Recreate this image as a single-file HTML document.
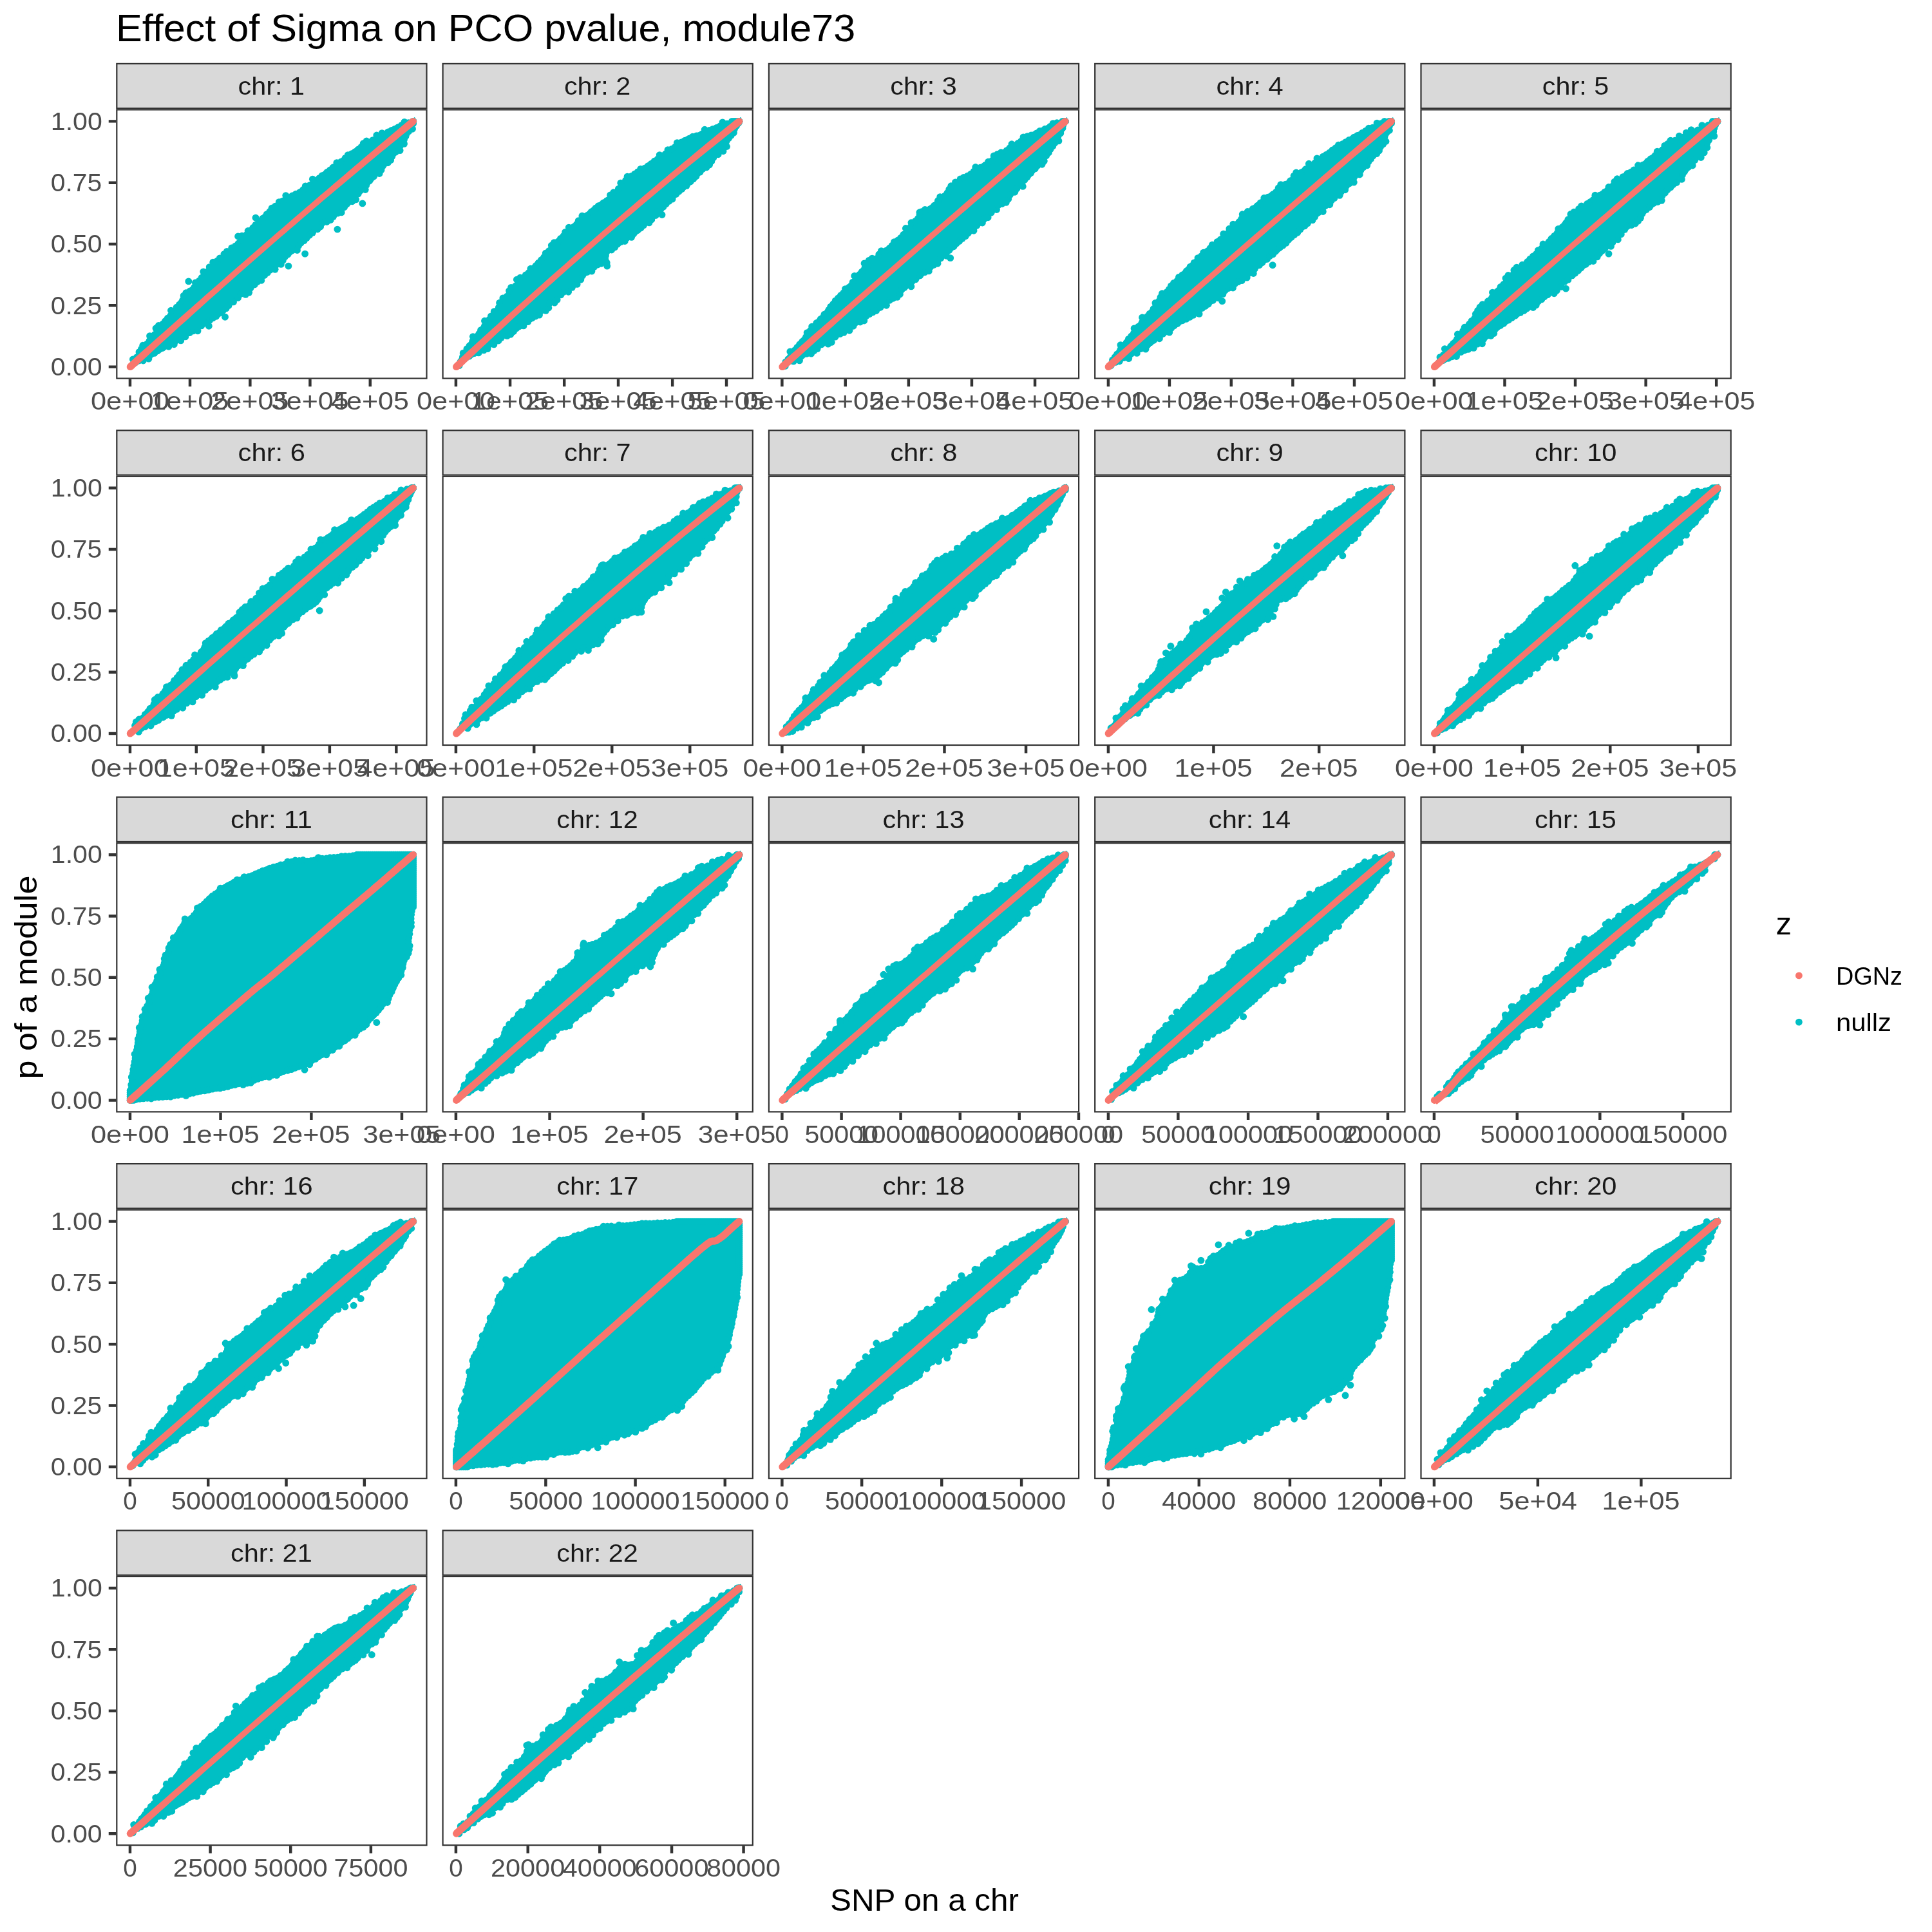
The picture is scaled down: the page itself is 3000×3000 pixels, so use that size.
<!DOCTYPE html>
<html><head><meta charset="utf-8"><title>Effect of Sigma on PCO pvalue, module73</title>
<style>html,body{margin:0;padding:0;background:#fff}svg{display:block}text{font-family:"Liberation Sans",sans-serif}</style></head><body>
<svg width="3000" height="3000" viewBox="0 0 3000 3000">
<rect width="3000" height="3000" fill="#fff"/>
<defs><marker id="t" markerUnits="userSpaceOnUse" markerWidth="12" markerHeight="12" refX="6" refY="6"><circle cx="6" cy="6" r="5.45" fill="#00BFC4"/></marker></defs>
<rect x="181.30" y="98.90" width="481.20" height="69.30" fill="#D9D9D9" stroke="#333" stroke-width="2.2"/>
<clipPath id="c1"><rect x="180.20" y="169.30" width="483.40" height="419.40"/></clipPath>
<g clip-path="url(#c1)">
<polygon points="203.6,566.6 204.8,563.8 206.1,561.1 207.4,558.4 208.7,555.8 210.0,553.3 211.5,550.8 213.2,548.3 214.8,545.9 216.6,543.5 218.4,541.1 220.2,538.8 222.0,536.4 223.9,534.1 225.8,531.8 227.7,529.5 229.6,527.1 231.6,524.8 233.5,522.4 235.4,520.0 237.3,517.6 239.2,515.2 241.0,512.8 242.9,510.4 244.7,508.0 246.6,505.6 248.4,503.2 250.2,500.8 252.1,498.5 254.0,496.3 255.9,494.1 258.0,491.9 260.0,489.7 262.1,487.5 264.2,485.2 266.2,482.8 268.2,480.4 270.1,477.9 271.9,475.4 273.7,473.0 275.5,470.7 277.3,468.3 279.2,466.0 281.1,463.7 283.0,461.4 285.0,459.1 286.9,456.8 288.9,454.5 290.9,452.3 292.9,450.1 295.0,447.9 297.0,445.7 299.1,443.3 301.1,441.0 303.1,438.6 305.0,436.2 306.9,433.9 308.8,431.5 310.6,429.1 312.5,426.8 314.4,424.6 316.3,422.4 318.4,420.4 320.5,418.4 322.7,416.4 325.0,414.4 327.2,412.4 329.5,410.3 331.7,408.3 334.0,406.3 336.3,404.3 338.5,402.3 340.8,400.3 343.1,398.3 345.3,396.3 347.6,394.3 349.9,392.3 352.1,390.3 354.4,388.2 356.7,386.2 358.9,384.1 361.2,382.0 363.4,379.9 365.5,377.7 367.7,375.5 369.8,373.3 371.9,371.1 374.0,368.9 376.0,366.6 378.1,364.4 380.1,362.2 382.2,359.9 384.2,357.7 386.3,355.5 388.3,353.3 390.4,351.1 392.5,349.0 394.6,346.8 396.7,344.7 398.8,342.7 401.0,340.6 403.2,338.6 405.4,336.5 407.7,334.5 409.9,332.4 412.1,330.4 414.3,328.3 416.6,326.3 418.8,324.3 421.0,322.2 423.3,320.2 425.5,318.2 427.8,316.2 430.0,314.3 432.3,312.4 434.5,310.6 436.9,309.0 439.3,307.5 441.8,306.0 444.4,304.7 447.1,303.4 449.7,302.1 452.5,300.8 455.3,299.5 458.0,298.2 460.8,296.8 463.6,295.3 466.3,293.7 469.0,292.0 471.5,290.2 474.0,288.4 476.5,286.6 478.9,284.9 481.4,283.1 483.8,281.2 486.2,279.4 488.7,277.6 491.1,275.7 493.5,273.9 495.9,272.1 498.3,270.2 500.7,268.4 503.1,266.5 505.5,264.7 507.9,262.8 510.3,261.0 512.7,259.2 515.1,257.3 517.5,255.5 519.9,253.7 522.3,251.9 524.8,250.1 527.2,248.3 529.7,246.6 532.1,244.8 534.5,243.0 537.0,241.2 539.4,239.5 541.9,237.7 544.3,236.0 546.8,234.2 549.3,232.5 551.7,230.8 554.2,229.1 556.7,227.4 559.2,225.7 561.7,224.1 564.2,222.5 566.8,220.9 569.3,219.4 571.9,217.8 574.5,216.3 577.1,214.8 579.7,213.4 582.3,211.9 585.0,210.5 587.6,209.0 590.3,207.6 593.0,206.2 595.6,204.8 598.3,203.5 601.0,202.1 603.7,200.7 606.4,199.3 609.1,198.0 611.7,196.6 614.4,195.3 617.1,194.1 619.8,192.9 622.6,191.7 625.3,190.7 628.1,189.7 630.8,188.8 633.6,187.9 636.1,187.3 638.8,187.2 641.7,187.2 643.6,183.1 643.3,186.1 642.8,188.9 642.3,191.8 641.6,194.5 640.8,197.2 639.8,199.9 638.7,202.6 637.5,205.2 636.1,207.7 634.6,210.4 633.2,213.1 631.8,215.7 630.3,218.2 628.8,220.7 627.1,223.1 625.4,225.6 623.7,228.1 622.0,230.6 620.3,233.0 618.5,235.4 616.7,237.8 614.9,240.2 613.1,242.6 611.3,244.9 609.4,247.1 607.4,249.3 605.4,251.6 603.3,253.8 601.3,256.0 599.2,258.3 597.2,260.6 595.2,262.8 593.2,265.1 591.2,267.3 589.2,269.6 587.1,271.8 585.1,274.1 583.1,276.3 581.0,278.5 579.0,280.7 576.9,282.9 574.9,285.1 572.8,287.3 570.7,289.6 568.6,291.8 566.6,294.0 564.5,296.2 562.5,298.4 560.4,300.6 558.3,302.7 556.2,304.9 554.1,307.0 551.9,309.2 549.8,311.3 547.6,313.4 545.5,315.5 543.3,317.7 541.2,319.8 539.0,321.9 536.9,323.9 534.7,326.0 532.5,328.0 530.3,330.0 528.2,331.9 525.9,333.5 523.5,334.9 521.0,336.3 518.3,337.7 515.6,339.1 512.8,340.7 510.0,342.5 507.4,344.5 505.1,346.6 502.8,348.6 500.5,350.7 498.3,352.7 496.1,354.8 493.9,356.9 491.7,359.0 489.5,361.1 487.3,363.2 485.1,365.3 482.9,367.4 480.8,369.5 478.6,371.6 476.4,373.7 474.2,375.8 472.0,377.8 469.8,379.8 467.6,381.8 465.3,383.8 463.0,385.8 460.7,387.8 458.4,389.7 456.2,391.7 453.9,393.7 451.6,395.6 449.2,397.6 446.9,399.6 444.6,401.5 442.3,403.5 440.0,405.4 437.7,407.4 435.4,409.4 433.1,411.4 430.8,413.3 428.5,415.3 426.2,417.3 423.9,419.3 421.6,421.4 419.4,423.4 417.1,425.5 414.9,427.5 412.7,429.6 410.5,431.7 408.3,433.8 406.1,435.8 403.9,437.9 401.7,440.0 399.4,442.0 397.2,444.0 395.0,446.0 392.8,448.0 390.5,449.8 388.3,451.5 385.8,453.1 383.3,454.6 380.7,456.2 378.1,457.8 375.5,459.5 372.9,461.4 370.3,463.4 368.0,465.5 365.7,467.7 363.5,469.9 361.4,472.1 359.3,474.3 357.3,476.5 355.2,478.7 353.1,480.9 351.0,482.9 348.9,484.9 346.7,486.8 344.5,488.6 342.1,490.4 339.7,492.0 337.3,493.7 334.8,495.2 332.2,496.8 329.6,498.3 327.0,499.9 324.4,501.5 321.8,503.2 319.3,504.9 316.7,506.5 314.2,508.1 311.6,509.8 309.1,511.4 306.5,513.0 304.0,514.6 301.4,516.2 298.9,517.8 296.3,519.4 293.7,521.0 291.2,522.6 288.6,524.2 286.0,525.7 283.4,527.3 280.8,528.9 278.3,530.4 275.7,531.9 273.1,533.4 270.4,534.9 267.8,536.3 265.2,537.8 262.5,539.2 259.8,540.7 257.2,542.1 254.5,543.6 251.8,545.1 249.2,546.6 246.6,548.1 243.9,549.6 241.3,551.1 238.7,552.5 236.0,554.0 233.4,555.4 230.8,556.8 228.1,558.2 225.5,559.6 222.8,560.9 220.1,562.2 217.4,563.5 214.6,564.7 211.9,566.0 209.2,567.2 206.4,568.3 203.6,569.5 200.8,570.6" fill="#00BFC4" stroke="#00BFC4" stroke-width="2" stroke-linejoin="round"/>
<polyline points="206.4,557.9 212.4,554.6 216.0,546.7 219.4,542.0 221.8,536.3 228.4,533.9 232.1,529.2 232.6,521.7 240.0,519.7 242.0,509.8 246.4,505.4 252.9,502.9 256.6,498.6 260.3,494.1 264.9,490.1 265.5,482.2 274.2,477.1 278.5,473.0 283.8,465.9 285.2,459.2 288.9,454.6 294.9,452.0 301.9,445.8 303.4,438.9 309.4,435.9 313.2,431.2 315.8,421.9 323.2,421.3 325.2,414.6 330.8,407.2 337.1,405.3 341.3,400.9 347.9,394.6 352.3,390.4 359.7,385.0 365.5,382.0 370.2,378.0 374.0,373.0 375.7,366.3 382.7,364.5 385.1,358.5 392.9,353.5 396.9,349.2 403.5,343.3 407.9,339.2 414.2,332.7 418.8,328.7 422.0,323.3 427.4,320.3 433.3,313.7 439.0,312.2 443.8,303.6 453.9,304.0 459.5,301.1 465.5,298.7 470.7,294.5 474.3,288.9 481.0,287.7 485.4,278.2 495.7,276.7 500.2,272.6 507.7,267.5 512.6,264.0 517.1,260.0 522.9,252.6 529.4,251.3 536.2,245.4 540.3,240.7 546.2,238.6 551.5,235.7 556.2,232.0 560.9,228.3 564.3,222.6 569.1,219.0 578.7,217.7 584.8,210.0 593.1,206.6 602.5,205.0 608.0,202.4 613.5,200.2 618.6,197.4 623.6,194.4 628.0,189.4 634.3,190.7 641.6,188.4 210.5,562.9 215.8,560.0 222.4,560.0 230.9,557.1 234.2,550.7 239.8,548.3 244.7,544.8 252.6,540.2 262.0,538.2 270.3,534.7 273.8,528.7 280.8,528.8 287.8,522.9 294.5,516.6 300.0,513.9 307.0,513.8 312.7,505.9 317.4,502.0 325.5,497.4 330.5,493.9 335.7,491.2 342.1,485.6 346.4,482.1 351.1,478.9 355.0,474.4 362.5,468.9 369.5,462.5 373.5,456.6 381.4,457.3 386.6,454.3 388.8,447.5 395.3,441.9 399.5,437.6 405.7,435.4 410.6,427.4 415.3,423.5 419.6,419.1 427.1,418.3 429.0,411.2 436.3,410.4 439.2,404.5 442.4,398.8 447.1,395.0 453.8,389.0 461.4,388.5 463.5,381.7 467.3,377.1 472.2,373.6 476.3,369.3 480.7,365.1 485.4,361.3 493.0,356.0 497.6,352.0 500.6,346.1 507.4,344.5 513.3,341.5 517.6,336.3 524.3,331.1 530.2,329.9 534.6,321.6 538.5,317.0 547.0,312.7 552.7,309.9 556.3,300.8 559.8,295.8 567.2,294.5 568.7,287.7 574.2,280.3 580.5,274.0 589.1,269.5 592.0,264.0 594.3,258.0 602.2,252.7 606.6,248.7 608.8,242.8 614.4,236.1 621.1,233.6 621.4,226.6 627.5,223.3 627.5,216.5 630.0,211.4 634.7,203.8 640.5,200.2 641.6,192.0 641.6,188.4 641.6,188.4 641.6,188.4 292.8,436.9 369.6,367.0 397.0,338.2 349.5,492.2 324.3,506.2 447.9,413.1 473.6,394.1 523.9,356.1 562.8,315.9" fill="none" stroke="none" marker-start="url(#t)" marker-mid="url(#t)" marker-end="url(#t)"/>
<polygon points="206.0,573.9 213.4,567.1 220.8,560.2 228.2,553.4 235.6,546.6 242.9,539.8 250.3,533.1 257.7,526.3 265.1,519.6 272.5,512.8 279.9,506.1 287.4,499.4 294.8,492.7 302.2,486.1 309.6,479.4 317.0,472.8 324.4,466.1 331.9,459.5 339.3,452.9 346.7,446.3 354.2,439.7 361.6,433.2 369.0,426.6 376.5,420.1 383.9,413.5 391.3,407.0 398.8,400.5 406.2,394.0 413.7,387.5 421.1,381.1 428.6,374.6 436.0,368.1 443.5,361.7 450.9,355.3 458.4,348.9 465.8,342.5 473.3,336.1 480.7,329.7 488.2,323.3 495.6,317.0 503.1,310.6 510.6,304.3 518.0,298.0 525.5,291.7 533.0,285.4 540.4,279.2 547.9,272.9 555.4,266.7 562.9,260.4 570.3,254.2 577.8,248.0 585.3,241.8 592.8,235.6 600.3,229.5 607.8,223.3 615.3,217.2 622.8,211.1 630.3,205.0 637.8,198.9 645.3,192.8 638.0,183.9 630.6,190.2 623.2,196.4 615.8,202.7 608.4,208.9 601.0,215.2 593.6,221.5 586.2,227.7 578.8,234.0 571.4,240.3 564.0,246.6 556.5,252.9 549.1,259.2 541.7,265.6 534.3,271.9 526.9,278.2 519.4,284.6 512.0,290.9 504.6,297.3 497.1,303.6 489.7,310.0 482.2,316.4 474.8,322.8 467.4,329.2 459.9,335.6 452.5,342.0 445.0,348.5 437.6,354.9 430.1,361.3 422.7,367.8 415.2,374.3 407.8,380.7 400.3,387.2 392.9,393.7 385.4,400.2 378.0,406.7 370.5,413.2 363.0,419.8 355.6,426.3 348.1,432.9 340.7,439.4 333.2,446.0 325.7,452.6 318.2,459.1 310.8,465.7 303.3,472.3 295.8,478.9 288.3,485.5 280.9,492.1 273.4,498.8 265.9,505.4 258.4,512.0 250.9,518.7 243.4,525.3 235.9,532.0 228.4,538.7 220.9,545.3 213.3,552.0 205.8,558.7 198.3,565.4" fill="#F8766D"/>
<circle cx="202.17" cy="569.64" r="5.45" fill="#F8766D"/><circle cx="641.63" cy="188.36" r="5.45" fill="#F8766D"/>
</g>
<rect x="181.30" y="170.40" width="481.20" height="417.20" fill="none" stroke="#333" stroke-width="2.2"/>
<path d="M201.93 588.70v11.46M295.00 588.70v11.46M388.35 588.70v11.46M481.43 588.70v11.46M574.78 588.70v11.46" stroke="#333" stroke-width="4.45" fill="none"/>
<path d="M168.74 569.64h11.46M168.74 474.32h11.46M168.74 379.00h11.46M168.74 283.68h11.46M168.74 188.36h11.46" stroke="#333" stroke-width="4.45" fill="none"/>
<rect x="687.60" y="98.90" width="481.20" height="69.30" fill="#D9D9D9" stroke="#333" stroke-width="2.2"/>
<clipPath id="c2"><rect x="686.50" y="169.30" width="483.40" height="419.40"/></clipPath>
<g clip-path="url(#c2)">
<polygon points="710.0,566.4 711.1,563.4 711.8,560.5 712.9,557.9 714.1,555.2 715.3,552.5 716.5,550.0 717.9,547.4 719.4,544.9 721.0,542.5 722.7,540.0 724.3,537.6 726.1,535.1 727.8,532.7 729.6,530.3 731.4,527.9 733.2,525.6 735.1,523.2 737.0,520.9 738.9,518.4 740.7,516.0 742.6,513.5 744.3,511.1 746.1,508.6 747.9,506.2 749.7,503.7 751.4,501.2 753.2,498.8 754.9,496.3 756.7,493.9 758.4,491.6 760.3,489.3 762.2,487.0 764.2,484.8 766.2,482.6 768.2,480.3 770.2,478.0 772.3,475.6 774.2,473.1 776.0,470.6 777.8,468.0 779.4,465.5 781.1,463.0 782.8,460.6 784.5,458.2 786.3,455.8 788.1,453.4 789.9,451.0 791.8,448.7 793.7,446.4 795.6,444.1 797.5,441.9 799.5,439.6 801.5,437.5 803.5,435.3 805.6,433.1 807.7,431.0 809.8,428.8 811.9,426.7 814.0,424.7 816.2,422.7 818.4,420.6 820.7,418.6 822.9,416.4 825.1,414.2 827.2,412.1 829.4,410.0 831.5,407.8 833.7,405.6 835.8,403.4 837.9,401.2 840.0,399.0 842.0,396.7 844.0,394.4 846.0,392.1 848.0,389.8 850.0,387.5 851.9,385.2 853.9,383.0 855.9,380.7 857.9,378.5 859.9,376.4 862.0,374.3 864.1,372.3 866.3,370.3 868.5,368.2 870.8,366.2 873.0,364.2 875.3,362.2 877.5,360.1 879.7,358.1 882.0,356.1 884.3,354.1 886.5,352.1 888.8,350.1 891.0,348.1 893.3,346.1 895.5,344.0 897.8,342.0 900.0,340.0 902.3,338.0 904.5,336.0 906.8,334.0 909.1,332.0 911.3,330.0 913.6,328.0 915.8,326.0 918.1,324.1 920.3,322.2 922.7,320.5 925.1,318.7 927.5,317.1 930.0,315.4 932.5,313.7 935.0,312.1 937.6,310.4 940.1,308.6 942.6,306.7 945.1,304.8 947.5,302.8 949.9,300.6 952.1,298.3 954.2,295.9 956.2,293.6 958.1,291.2 960.0,288.8 961.9,286.5 963.8,284.2 965.7,282.0 967.6,279.9 969.6,277.9 971.8,276.0 974.1,274.2 976.4,272.5 978.8,270.8 981.2,269.1 983.7,267.5 986.2,265.9 988.8,264.4 991.4,262.8 994.0,261.3 996.6,259.7 999.2,258.1 1001.8,256.4 1004.3,254.6 1006.8,252.9 1009.3,251.2 1011.8,249.5 1014.3,247.7 1016.8,246.0 1019.2,244.2 1021.7,242.5 1024.2,240.8 1026.7,239.0 1029.1,237.3 1031.6,235.5 1034.1,233.8 1036.6,232.0 1039.0,230.2 1041.5,228.5 1043.9,226.7 1046.4,224.9 1048.8,223.2 1051.2,221.5 1053.7,219.8 1056.2,218.2 1058.7,216.6 1061.1,215.1 1063.6,213.8 1066.2,212.6 1068.9,211.5 1071.6,210.5 1074.4,209.5 1077.3,208.6 1080.2,207.7 1083.1,206.6 1086.0,205.6 1088.9,204.4 1091.7,203.3 1094.5,202.1 1097.3,200.9 1100.1,199.8 1102.9,198.7 1105.7,197.5 1108.4,196.4 1111.2,195.4 1114.0,194.3 1116.9,193.3 1119.7,192.3 1122.5,191.3 1125.3,190.4 1128.1,189.5 1131.0,188.6 1133.8,187.9 1136.5,187.3 1139.3,186.9 1142.1,186.7 1145.1,186.6 1148.1,186.4 1149.9,183.1 1149.5,186.0 1149.0,188.8 1148.3,191.5 1147.4,194.1 1146.4,196.8 1145.2,199.3 1143.9,201.9 1142.4,204.4 1140.8,207.0 1139.3,209.6 1137.7,212.1 1136.2,214.6 1134.5,216.9 1132.7,219.3 1130.9,221.7 1129.1,224.2 1127.3,226.6 1125.5,228.9 1123.7,231.3 1121.8,233.6 1119.9,236.0 1118.0,238.2 1116.0,240.4 1114.0,242.6 1112.0,244.8 1109.9,247.0 1107.8,249.2 1105.7,251.4 1103.6,253.6 1101.6,255.9 1099.5,258.1 1097.5,260.3 1095.4,262.5 1093.4,264.7 1091.3,266.9 1089.2,269.1 1087.1,271.2 1085.0,273.4 1082.9,275.6 1080.8,277.7 1078.7,279.9 1076.6,282.1 1074.5,284.2 1072.4,286.2 1070.2,288.3 1068.0,290.3 1065.8,292.3 1063.6,294.3 1061.3,296.2 1059.0,298.2 1056.7,300.1 1054.3,302.0 1052.0,304.0 1049.7,306.0 1047.4,308.1 1045.1,310.1 1042.9,312.3 1040.7,314.4 1038.5,316.5 1036.3,318.7 1034.2,320.9 1032.1,323.0 1030.0,325.2 1027.9,327.2 1025.7,329.3 1023.5,331.4 1021.3,333.5 1019.1,335.6 1016.9,337.7 1014.8,339.8 1012.6,341.8 1010.4,343.9 1008.2,346.0 1006.0,348.0 1003.8,350.1 1001.5,352.1 999.3,354.2 997.1,356.2 994.9,358.2 992.6,360.2 990.4,362.2 988.1,364.2 985.9,366.0 983.6,367.7 981.2,369.3 978.7,370.8 976.1,372.4 973.5,374.0 970.9,375.7 968.4,377.3 965.9,378.8 963.3,380.4 960.7,382.0 958.1,383.6 955.4,385.2 952.9,387.0 950.3,388.8 947.6,391.0 945.0,394.1 944.0,398.0 943.5,401.1 943.0,404.0 942.7,406.2 941.7,407.5 939.8,408.9 937.5,410.4 935.0,411.8 932.4,413.1 929.7,414.3 926.9,415.6 924.1,417.1 921.3,418.7 918.5,420.5 916.0,422.5 913.6,424.5 911.3,426.6 909.0,428.6 906.8,430.6 904.5,432.7 902.3,434.7 900.1,436.8 897.8,438.8 895.6,440.8 893.4,442.9 891.1,444.9 888.9,446.9 886.6,448.8 884.3,450.7 882.0,452.6 879.7,454.5 877.3,456.3 875.0,458.1 872.6,460.0 870.1,461.8 867.7,463.7 865.3,465.6 862.9,467.6 860.6,469.5 858.3,471.5 856.0,473.5 853.7,475.5 851.4,477.5 849.1,479.5 846.9,481.5 844.6,483.5 842.3,485.5 840.0,487.5 837.8,489.5 835.5,491.4 833.2,493.3 830.9,495.1 828.5,496.8 826.1,498.5 823.7,500.2 821.2,501.9 818.7,503.5 816.1,505.1 813.6,506.8 811.0,508.4 808.5,510.0 806.0,511.6 803.4,513.0 800.8,514.5 798.2,515.9 795.5,517.4 792.9,518.9 790.2,520.4 787.6,521.9 785.0,523.5 782.3,525.1 779.7,526.6 777.1,528.2 774.5,529.7 772.0,531.3 769.4,532.9 766.8,534.4 764.2,536.0 761.6,537.6 759.0,539.1 756.4,540.7 753.8,542.3 751.2,543.8 748.6,545.4 746.1,547.0 743.5,548.5 740.9,550.1 738.3,551.6 735.7,553.1 733.1,554.6 730.5,556.2 727.9,557.7 725.2,559.2 722.6,560.6 720.0,562.1 717.4,563.6 714.7,565.1 712.1,566.5 709.4,568.0 706.8,569.4" fill="#00BFC4" stroke="#00BFC4" stroke-width="2" stroke-linejoin="round"/>
<polyline points="713.1,567.6 715.1,561.5 718.5,554.0 719.2,548.2 725.0,541.6 728.9,537.2 733.8,529.8 734.4,522.6 743.8,518.3 746.6,512.7 752.7,505.9 752.5,498.3 759.8,496.2 762.4,491.0 767.3,483.6 774.4,477.4 775.6,470.3 780.9,462.9 787.2,460.1 790.6,451.6 793.6,446.4 800.3,444.3 802.4,434.2 807.8,431.1 816.3,427.0 821.0,423.5 823.9,417.3 832.1,412.7 836.1,408.1 840.5,403.7 844.9,399.2 847.3,393.1 852.4,389.6 856.3,381.1 860.3,376.8 866.7,375.0 870.5,370.4 875.0,366.4 877.7,360.4 883.3,353.1 890.8,352.3 895.3,348.3 898.3,342.6 903.9,335.3 911.5,334.7 918.3,328.9 924.8,323.3 929.3,319.7 937.0,315.0 942.3,311.7 947.6,302.9 952.7,298.8 960.4,293.1 963.8,284.2 971.6,280.0 974.1,274.2 980.6,273.4 985.4,270.3 990.3,266.9 994.7,262.4 1001.2,261.2 1006.4,257.6 1011.4,254.2 1016.1,250.3 1021.2,247.0 1024.2,240.7 1033.8,238.6 1037.0,232.7 1043.4,231.1 1048.6,228.0 1051.4,221.7 1058.0,220.9 1063.0,218.5 1070.3,215.2 1075.4,212.3 1081.3,211.0 1090.3,207.9 1094.2,201.3 1101.2,202.5 1106.8,200.4 1112.4,198.5 1117.8,196.0 1122.0,189.9 1129.0,192.3 1136.5,188.4 1139.6,188.4 1142.0,188.4 1145.1,188.4 1147.9,188.4 718.6,559.7 723.3,555.8 728.7,553.1 736.5,548.6 743.1,547.9 751.2,543.8 757.0,541.6 760.1,535.0 767.0,534.8 774.1,529.0 778.3,524.3 787.4,521.6 793.0,519.2 797.5,514.7 801.7,509.9 806.4,506.7 813.0,505.9 819.7,499.6 826.3,493.8 831.5,491.1 837.5,489.1 839.9,482.8 847.6,482.3 851.9,478.0 853.4,470.6 861.1,470.1 865.1,465.4 870.9,457.8 875.1,453.4 882.6,453.2 888.4,446.3 896.1,441.4 901.8,434.2 904.5,428.1 911.8,422.5 918.9,421.1 922.6,414.3 928.1,411.0 933.6,409.2 942.2,408.0 940.0,403.5 940.4,397.2 949.7,388.0 954.7,384.0 958.9,379.1 963.9,375.6 970.2,374.5 974.1,369.0 980.6,368.3 983.8,363.2 990.2,357.5 995.1,354.0 999.4,349.8 1008.0,345.8 1011.8,341.0 1018.1,334.5 1021.2,329.0 1025.9,325.3 1030.1,321.1 1034.2,316.6 1038.8,312.4 1044.1,309.1 1049.8,301.4 1054.3,297.2 1058.9,293.5 1066.1,288.3 1072.3,282.0 1076.7,277.9 1081.0,273.7 1087.1,267.1 1091.0,262.5 1097.0,259.9 1101.6,255.8 1104.8,250.5 1107.8,245.0 1115.2,239.7 1123.0,234.7 1128.5,227.5 1127.8,219.5 1131.5,214.7 1135.1,210.5 1139.4,206.1 1140.6,200.1 1143.5,195.5 1146.9,191.1 1147.9,188.4 1147.9,188.4 942.7,413.1 1028.0,333.5" fill="none" stroke="none" marker-start="url(#t)" marker-mid="url(#t)" marker-end="url(#t)"/>
<polygon points="712.4,573.8 719.8,566.8 727.1,559.8 734.5,552.8 741.9,545.8 749.3,538.8 756.7,531.9 764.1,525.0 771.5,518.1 778.9,511.2 786.3,504.4 793.7,497.5 801.1,490.7 808.5,483.9 815.9,477.2 823.3,470.4 830.8,463.7 838.2,457.0 845.6,450.3 853.0,443.6 860.5,437.0 867.9,430.3 875.3,423.7 882.8,417.1 890.2,410.6 897.7,404.0 905.1,397.5 912.5,391.0 920.0,384.5 927.4,378.0 934.9,371.5 942.3,365.1 949.8,358.7 957.2,352.3 964.7,345.9 972.1,339.5 979.6,333.2 987.0,326.9 994.5,320.6 1001.9,314.3 1009.4,308.0 1016.8,301.8 1024.3,295.5 1031.8,289.3 1039.2,283.1 1046.7,277.0 1054.2,270.8 1061.6,264.7 1069.1,258.6 1076.6,252.5 1084.1,246.5 1091.6,240.4 1099.0,234.4 1106.5,228.4 1114.0,222.4 1121.5,216.5 1129.0,210.5 1136.5,204.6 1144.0,198.7 1151.5,192.9 1144.3,183.9 1137.0,189.9 1129.6,196.0 1122.2,202.0 1114.8,208.1 1107.4,214.2 1099.9,220.3 1092.5,226.4 1085.1,232.5 1077.7,238.7 1070.3,244.9 1062.9,251.0 1055.5,257.2 1048.0,263.4 1040.6,269.6 1033.2,275.9 1025.7,282.1 1018.3,288.4 1010.9,294.7 1003.4,301.0 996.0,307.3 988.6,313.6 981.1,319.9 973.7,326.3 966.2,332.7 958.8,339.0 951.3,345.4 943.9,351.9 936.4,358.3 929.0,364.7 921.5,371.2 914.1,377.7 906.6,384.2 899.2,390.7 891.7,397.2 884.2,403.8 876.8,410.4 869.3,416.9 861.9,423.5 854.4,430.1 846.9,436.8 839.5,443.4 832.0,450.1 824.5,456.7 817.1,463.4 809.6,470.1 802.1,476.8 794.6,483.6 787.1,490.3 779.6,497.1 772.1,503.9 764.6,510.6 757.1,517.4 749.6,524.3 742.1,531.1 734.6,537.9 727.1,544.8 719.6,551.7 712.1,558.5 704.5,565.4" fill="#F8766D"/>
<circle cx="708.47" cy="569.64" r="5.45" fill="#F8766D"/><circle cx="1147.93" cy="188.36" r="5.45" fill="#F8766D"/>
</g>
<rect x="687.60" y="170.40" width="481.20" height="417.20" fill="none" stroke="#333" stroke-width="2.2"/>
<path d="M707.93 588.70v11.46M792.06 588.70v11.46M876.19 588.70v11.46M960.04 588.70v11.46M1044.17 588.70v11.46M1128.02 588.70v11.46" stroke="#333" stroke-width="4.45" fill="none"/>
<rect x="1193.90" y="98.90" width="481.20" height="69.30" fill="#D9D9D9" stroke="#333" stroke-width="2.2"/>
<clipPath id="c3"><rect x="1192.80" y="169.30" width="483.40" height="419.40"/></clipPath>
<g clip-path="url(#c3)">
<polygon points="1216.2,567.0 1217.5,564.3 1218.8,561.6 1220.1,558.9 1221.4,556.3 1222.9,553.9 1224.4,551.4 1226.1,549.0 1227.8,546.6 1229.6,544.2 1231.4,541.9 1233.3,539.5 1235.1,537.2 1237.0,534.9 1239.0,532.6 1240.9,530.3 1242.9,528.0 1244.9,525.6 1246.8,523.3 1248.7,520.9 1250.6,518.5 1252.5,516.1 1254.4,513.7 1256.3,511.4 1258.2,509.0 1260.0,506.6 1261.9,504.2 1263.7,501.9 1265.6,499.6 1267.6,497.4 1269.6,495.3 1271.7,493.1 1273.8,490.9 1275.9,488.6 1277.9,486.3 1280.0,484.0 1281.9,481.5 1283.8,479.1 1285.6,476.6 1287.4,474.3 1289.3,472.0 1291.2,469.7 1293.1,467.4 1295.1,465.1 1297.0,462.9 1299.1,460.7 1301.1,458.5 1303.1,456.3 1305.2,454.1 1307.3,452.0 1309.5,449.9 1311.6,447.7 1313.7,445.6 1315.9,443.4 1318.0,441.1 1320.1,438.8 1322.2,436.5 1324.1,434.1 1326.0,431.7 1327.9,429.3 1329.8,426.8 1331.6,424.4 1333.4,422.1 1335.3,419.8 1337.2,417.5 1339.1,415.4 1341.1,413.3 1343.2,411.4 1345.5,409.5 1347.8,407.6 1350.1,405.7 1352.4,403.9 1354.8,402.0 1357.2,400.2 1359.6,398.4 1362.1,396.5 1364.5,394.6 1366.9,392.7 1369.2,390.7 1371.6,388.7 1373.9,386.7 1376.1,384.7 1378.4,382.7 1380.7,380.6 1382.9,378.6 1385.2,376.6 1387.5,374.5 1389.7,372.5 1391.9,370.5 1394.2,368.4 1396.4,366.4 1398.7,364.3 1400.9,362.1 1403.1,359.9 1405.2,357.6 1407.3,355.2 1409.2,352.9 1411.2,350.6 1413.1,348.2 1415.1,345.9 1417.0,343.6 1419.0,341.4 1420.9,339.2 1422.9,337.0 1425.0,335.0 1427.1,333.1 1429.4,331.2 1431.7,329.3 1434.0,327.4 1436.4,325.6 1438.8,323.7 1441.2,321.9 1443.6,320.0 1446.0,318.2 1448.4,316.3 1450.8,314.3 1453.2,312.4 1455.5,310.3 1457.8,308.2 1460.0,306.0 1462.2,303.8 1464.3,301.6 1466.4,299.4 1468.5,297.2 1470.5,295.0 1472.6,292.9 1474.7,290.8 1476.9,288.9 1479.1,286.9 1481.4,285.0 1483.7,283.1 1486.0,281.3 1488.4,279.5 1490.8,277.7 1493.2,275.9 1495.6,274.1 1498.1,272.3 1500.5,270.6 1503.0,268.9 1505.5,267.1 1508.0,265.4 1510.4,263.7 1512.9,262.0 1515.3,260.4 1517.9,258.9 1520.4,257.4 1523.0,255.9 1525.7,254.4 1528.3,252.9 1531.0,251.4 1533.7,249.9 1536.3,248.2 1538.9,246.5 1541.5,244.8 1544.0,243.1 1546.5,241.3 1548.9,239.5 1551.4,237.8 1553.9,236.0 1556.3,234.3 1558.8,232.5 1561.2,230.8 1563.7,229.1 1566.2,227.4 1568.7,225.8 1571.2,224.2 1573.7,222.6 1576.3,221.0 1578.9,219.4 1581.5,217.9 1584.0,216.4 1586.7,214.9 1589.3,213.4 1591.9,211.9 1594.5,210.4 1597.1,209.0 1599.8,207.6 1602.4,206.2 1605.1,204.8 1607.8,203.4 1610.5,202.1 1613.2,200.8 1615.9,199.5 1618.6,198.3 1621.3,197.1 1624.0,195.9 1626.8,194.8 1629.6,193.7 1632.4,192.6 1635.2,191.6 1638.0,190.7 1640.8,189.8 1643.7,188.9 1646.6,188.0 1649.4,187.0 1651.7,186.4 1654.2,186.4 1656.2,183.2 1655.9,186.1 1655.5,189.0 1655.0,191.9 1654.4,194.7 1653.6,197.4 1652.7,200.1 1651.7,202.8 1650.6,205.5 1649.3,208.1 1647.9,210.7 1646.5,213.4 1645.1,216.1 1643.7,218.7 1642.3,221.2 1640.8,223.6 1639.1,226.1 1637.4,228.6 1635.7,231.2 1634.0,233.7 1632.4,236.1 1630.6,238.6 1628.9,241.0 1627.1,243.4 1625.3,245.8 1623.5,248.1 1621.6,250.3 1619.6,252.6 1617.6,254.8 1615.6,257.0 1613.6,259.3 1611.5,261.6 1609.5,263.9 1607.5,266.2 1605.6,268.4 1603.6,270.7 1601.6,273.0 1599.5,275.2 1597.5,277.5 1595.5,279.7 1593.5,282.0 1591.5,284.2 1589.4,286.4 1587.4,288.6 1585.3,290.8 1583.2,293.0 1581.1,295.1 1579.0,297.2 1576.9,299.3 1574.8,301.4 1572.6,303.4 1570.4,305.5 1568.2,307.5 1565.9,309.5 1563.6,311.4 1561.3,313.4 1559.0,315.4 1556.7,317.4 1554.5,319.5 1552.2,321.6 1550.0,323.7 1547.8,325.8 1545.6,327.9 1543.4,330.1 1541.3,332.2 1539.1,334.3 1537.0,336.4 1534.8,338.5 1532.6,340.5 1530.4,342.5 1528.2,344.6 1525.9,346.6 1523.7,348.6 1521.4,350.6 1519.2,352.7 1516.9,354.7 1514.7,356.7 1512.4,358.7 1510.2,360.7 1507.9,362.8 1505.6,364.8 1503.4,366.8 1501.1,368.8 1498.9,370.9 1496.6,372.9 1494.4,374.9 1492.1,376.9 1489.9,379.0 1487.6,381.0 1485.4,383.0 1483.1,385.1 1480.9,387.1 1478.6,389.1 1476.4,391.1 1474.1,393.2 1471.9,395.2 1469.6,397.3 1467.4,399.3 1465.2,401.3 1462.9,403.4 1460.7,405.4 1458.4,407.4 1456.2,409.4 1453.9,411.4 1451.7,413.4 1449.4,415.4 1447.1,417.3 1444.8,419.2 1442.5,421.1 1440.1,423.0 1437.8,424.9 1435.4,426.7 1433.0,428.6 1430.6,430.4 1428.2,432.3 1425.8,434.2 1423.5,436.1 1421.1,438.0 1418.7,439.9 1416.4,441.8 1414.0,443.6 1411.6,445.5 1409.3,447.4 1406.9,449.3 1404.5,451.2 1402.2,453.1 1399.8,455.0 1397.4,456.9 1395.1,458.8 1392.7,460.7 1390.3,462.6 1388.0,464.5 1385.6,466.4 1383.3,468.3 1380.9,470.2 1378.6,472.1 1376.2,474.0 1373.9,475.9 1371.5,477.8 1369.1,479.6 1366.8,481.4 1364.4,483.2 1362.0,484.8 1359.5,486.3 1357.0,487.8 1354.4,489.3 1351.8,490.7 1349.1,492.2 1346.4,493.6 1343.7,495.2 1341.0,496.8 1338.4,498.5 1335.9,500.2 1333.3,501.9 1330.8,503.7 1328.4,505.5 1325.9,507.2 1323.4,509.0 1321.0,510.8 1318.5,512.5 1316.1,514.2 1313.6,515.9 1311.1,517.6 1308.6,519.2 1306.1,520.8 1303.6,522.4 1301.0,524.0 1298.4,525.5 1295.8,527.0 1293.2,528.5 1290.6,530.0 1288.0,531.6 1285.3,533.1 1282.7,534.7 1280.1,536.3 1277.5,537.8 1274.9,539.4 1272.3,541.0 1269.8,542.6 1267.2,544.2 1264.6,545.7 1262.0,547.3 1259.5,548.8 1256.9,550.3 1254.2,551.7 1251.6,553.1 1248.9,554.5 1246.3,555.9 1243.6,557.3 1240.9,558.6 1238.2,559.9 1235.5,561.2 1232.8,562.5 1230.1,563.8 1227.3,565.0 1224.6,566.2 1221.8,567.4 1219.1,568.5 1216.3,569.6 1213.5,570.7" fill="#00BFC4" stroke="#00BFC4" stroke-width="2" stroke-linejoin="round"/>
<polyline points="1219.2,568.4 1219.8,562.1 1223.9,557.7 1227.5,553.5 1226.9,545.9 1234.0,543.9 1237.8,539.4 1241.6,534.8 1245.8,530.4 1251.7,523.2 1253.2,516.7 1258.5,513.1 1260.7,507.1 1267.8,501.5 1274.2,495.5 1280.0,488.2 1286.8,481.3 1289.8,476.2 1293.9,471.9 1297.2,467.0 1301.5,462.9 1305.6,458.7 1309.9,454.6 1312.5,448.6 1318.6,446.0 1324.2,438.2 1326.8,428.4 1334.2,426.5 1338.2,422.2 1343.1,415.4 1347.8,412.3 1349.1,404.5 1354.2,401.2 1361.8,401.2 1364.8,395.0 1368.4,389.7 1376.0,389.1 1381.0,385.5 1385.3,381.2 1388.5,375.7 1394.3,373.0 1399.0,369.2 1403.0,364.2 1406.4,354.5 1413.8,352.7 1415.0,345.8 1421.3,343.4 1425.4,339.4 1428.0,334.1 1431.2,328.7 1436.3,325.5 1443.6,325.0 1450.8,319.2 1456.5,311.5 1459.8,305.7 1467.1,304.2 1471.0,299.5 1473.8,294.0 1476.8,288.8 1483.5,282.9 1491.1,278.0 1496.6,275.4 1502.4,273.2 1507.6,270.2 1512.1,266.1 1514.8,259.5 1522.1,260.3 1530.1,256.1 1534.5,251.3 1540.7,249.2 1543.2,242.0 1548.8,239.4 1554.4,236.8 1563.2,233.6 1567.8,229.8 1571.0,223.8 1580.7,222.5 1585.7,219.2 1589.0,212.9 1595.2,211.6 1601.1,210.0 1609.5,206.9 1614.4,203.5 1622.7,200.3 1630.6,196.5 1635.1,191.6 1641.1,190.6 1649.8,188.4 1652.1,188.4 1654.2,188.4 1223.1,562.7 1232.2,561.1 1241.5,559.8 1244.7,552.9 1252.9,549.2 1259.7,549.1 1264.0,544.7 1269.1,541.6 1275.6,534.8 1285.9,534.1 1291.3,531.3 1297.0,523.1 1304.6,518.5 1310.3,516.3 1319.0,513.2 1325.1,506.2 1328.8,500.9 1335.7,500.0 1341.8,498.0 1344.9,490.9 1350.1,487.7 1355.3,484.8 1360.5,482.5 1367.2,477.2 1376.4,474.2 1381.5,466.2 1386.9,463.2 1393.2,461.3 1397.4,456.9 1399.8,450.2 1404.5,446.3 1414.9,444.8 1416.3,436.8 1421.7,433.9 1428.6,427.9 1436.1,422.7 1442.3,420.9 1444.8,414.5 1449.9,411.4 1456.0,409.2 1460.8,401.0 1469.5,397.2 1474.0,388.5 1481.0,382.7 1485.1,378.2 1489.7,374.3 1494.3,370.3 1499.3,366.7 1503.3,362.1 1512.0,358.2 1516.9,350.1 1525.4,346.0 1528.3,340.2 1534.1,337.7 1539.2,330.2 1547.5,325.5 1549.8,319.0 1555.9,316.5 1562.2,314.4 1565.7,309.2 1568.2,303.0 1575.8,298.2 1578.9,292.9 1588.2,289.4 1590.8,279.5 1594.9,275.1 1600.8,268.3 1607.3,261.9 1611.1,257.1 1618.1,255.2 1621.3,250.1 1624.7,241.6 1628.5,237.0 1631.1,231.7 1634.8,226.9 1638.0,221.8 1643.9,218.8 1643.0,211.6 1646.8,206.8 1650.0,199.1 1651.0,193.8 1654.2,188.5 1654.2,188.4 1654.2,188.4 1342.1,408.9 1427.9,329.8 1475.7,400.6" fill="none" stroke="none" marker-start="url(#t)" marker-mid="url(#t)" marker-end="url(#t)"/>
<polygon points="1218.6,573.9 1226.0,567.2 1233.3,560.6 1240.7,553.9 1248.1,547.2 1255.5,540.6 1262.9,533.9 1270.3,527.3 1277.7,520.7 1285.1,514.0 1292.5,507.4 1299.9,500.8 1307.3,494.2 1314.8,487.7 1322.2,481.1 1329.6,474.5 1337.0,467.9 1344.5,461.4 1351.9,454.8 1359.3,448.3 1366.7,441.8 1374.2,435.3 1381.6,428.7 1389.1,422.2 1396.5,415.7 1403.9,409.2 1411.4,402.8 1418.8,396.3 1426.3,389.8 1433.7,383.3 1441.2,376.9 1448.6,370.4 1456.1,364.0 1463.5,357.5 1471.0,351.1 1478.4,344.7 1485.9,338.2 1493.3,331.8 1500.8,325.4 1508.2,319.0 1515.7,312.6 1523.2,306.2 1530.6,299.9 1538.1,293.5 1545.6,287.1 1553.0,280.8 1560.5,274.4 1568.0,268.1 1575.5,261.8 1583.0,255.5 1590.4,249.1 1597.9,242.8 1605.4,236.6 1612.9,230.3 1620.4,224.0 1627.9,217.7 1635.4,211.5 1642.9,205.2 1650.4,199.0 1657.9,192.7 1650.5,184.0 1643.1,190.4 1635.7,196.8 1628.4,203.1 1621.0,209.5 1613.6,215.9 1606.2,222.3 1598.8,228.7 1591.4,235.1 1583.9,241.5 1576.5,247.9 1569.1,254.3 1561.7,260.7 1554.3,267.2 1546.9,273.6 1539.4,280.0 1532.0,286.4 1524.6,292.8 1517.1,299.2 1509.7,305.7 1502.3,312.1 1494.8,318.5 1487.4,325.0 1480.0,331.4 1472.5,337.8 1465.1,344.3 1457.6,350.7 1450.2,357.2 1442.7,363.6 1435.3,370.1 1427.8,376.5 1420.4,383.0 1412.9,389.5 1405.5,396.0 1398.0,402.4 1390.6,408.9 1383.1,415.4 1375.7,421.9 1368.2,428.4 1360.7,434.9 1353.3,441.4 1345.8,447.9 1338.3,454.4 1330.9,460.9 1323.4,467.4 1315.9,473.9 1308.4,480.5 1301.0,487.0 1293.5,493.5 1286.0,500.0 1278.5,506.5 1271.0,513.1 1263.5,519.6 1256.0,526.1 1248.5,532.7 1241.0,539.2 1233.5,545.7 1226.0,552.3 1218.5,558.8 1211.0,565.3" fill="#F8766D"/>
<circle cx="1214.77" cy="569.64" r="5.45" fill="#F8766D"/><circle cx="1654.23" cy="188.36" r="5.45" fill="#F8766D"/>
</g>
<rect x="1193.90" y="170.40" width="481.20" height="417.20" fill="none" stroke="#333" stroke-width="2.2"/>
<path d="M1214.37 588.70v11.46M1312.75 588.70v11.46M1410.86 588.70v11.46M1508.96 588.70v11.46M1607.07 588.70v11.46" stroke="#333" stroke-width="4.45" fill="none"/>
<rect x="1700.20" y="98.90" width="481.20" height="69.30" fill="#D9D9D9" stroke="#333" stroke-width="2.2"/>
<clipPath id="c4"><rect x="1699.10" y="169.30" width="483.40" height="419.40"/></clipPath>
<g clip-path="url(#c4)">
<polygon points="1722.5,566.5 1723.7,563.8 1724.9,561.0 1726.2,558.3 1727.5,555.7 1728.8,553.2 1730.3,550.7 1731.9,548.2 1733.5,545.8 1735.3,543.4 1737.0,541.0 1738.8,538.6 1740.7,536.2 1742.5,533.9 1744.4,531.6 1746.3,529.3 1748.3,526.9 1750.2,524.6 1752.1,522.2 1754.0,519.8 1755.9,517.4 1757.8,515.0 1759.6,512.6 1761.4,510.2 1763.3,507.8 1765.1,505.3 1766.9,502.9 1768.8,500.6 1770.6,498.2 1772.5,496.0 1774.4,493.8 1776.4,491.6 1778.5,489.4 1780.6,487.2 1782.6,484.9 1784.7,482.5 1786.7,480.1 1788.6,477.6 1790.4,475.2 1792.2,472.7 1794.0,470.4 1795.8,468.0 1797.7,465.7 1799.6,463.4 1801.5,461.1 1803.4,458.8 1805.4,456.5 1807.3,454.2 1809.3,451.9 1811.3,449.7 1813.3,447.5 1815.3,445.3 1817.4,443.0 1819.4,440.8 1821.5,438.6 1823.6,436.4 1825.6,434.1 1827.7,431.9 1829.7,429.6 1831.7,427.3 1833.7,425.1 1835.7,422.8 1837.7,420.5 1839.7,418.3 1841.7,416.1 1843.8,413.9 1845.8,411.8 1848.0,409.8 1850.1,407.7 1852.3,405.7 1854.6,403.7 1856.8,401.6 1859.1,399.6 1861.3,397.6 1863.6,395.6 1865.8,393.6 1868.1,391.6 1870.3,389.5 1872.6,387.5 1874.9,385.5 1877.1,383.5 1879.4,381.5 1881.6,379.4 1883.9,377.4 1886.1,375.4 1888.4,373.4 1890.6,371.4 1892.9,369.4 1895.2,367.3 1897.4,365.3 1899.7,363.3 1901.9,361.2 1904.1,359.2 1906.4,357.1 1908.6,354.9 1910.8,352.7 1912.9,350.6 1915.1,348.4 1917.2,346.2 1919.2,344.0 1921.3,341.8 1923.4,339.6 1925.5,337.5 1927.6,335.4 1929.7,333.3 1931.9,331.4 1934.1,329.4 1936.4,327.5 1938.7,325.6 1941.0,323.6 1943.4,321.8 1945.7,319.9 1948.1,318.0 1950.5,316.2 1952.8,314.3 1955.2,312.5 1957.6,310.6 1960.0,308.8 1962.4,307.0 1964.8,305.2 1967.2,303.5 1969.7,301.8 1972.2,300.1 1974.7,298.5 1977.2,296.8 1979.7,295.1 1982.3,293.3 1984.8,291.6 1987.3,289.7 1989.7,287.8 1992.1,286.0 1994.5,284.1 1996.9,282.2 1999.2,280.2 2001.6,278.3 2003.9,276.4 2006.3,274.5 2008.6,272.6 2011.0,270.7 2013.3,268.9 2015.7,267.0 2018.1,265.2 2020.5,263.4 2022.9,261.7 2025.3,259.9 2027.8,258.2 2030.3,256.5 2032.8,254.8 2035.3,253.1 2037.8,251.4 2040.3,249.7 2042.8,248.0 2045.3,246.2 2047.8,244.5 2050.3,242.7 2052.7,241.0 2055.2,239.2 2057.6,237.5 2060.1,235.7 2062.6,234.0 2065.0,232.3 2067.5,230.6 2070.0,228.9 2072.5,227.2 2075.0,225.6 2077.5,224.0 2080.1,222.4 2082.6,220.8 2085.2,219.3 2087.8,217.7 2090.4,216.2 2093.0,214.7 2095.6,213.2 2098.2,211.7 2100.8,210.3 2103.5,208.8 2106.1,207.4 2108.8,206.0 2111.4,204.6 2114.1,203.3 2116.8,201.9 2119.5,200.6 2122.2,199.4 2124.9,198.1 2127.6,196.9 2130.4,195.8 2133.1,194.6 2135.9,193.5 2138.7,192.5 2141.5,191.5 2144.3,190.6 2147.1,189.7 2150.0,188.8 2153.0,187.9 2155.7,186.9 2157.8,186.4 2160.5,186.4 2162.5,183.2 2162.2,186.1 2161.8,189.0 2161.3,191.9 2160.8,194.7 2160.1,197.4 2159.2,200.2 2158.3,202.9 2157.2,205.5 2156.0,208.2 2154.7,210.8 2153.3,213.4 2152.0,216.2 2150.6,218.8 2149.3,221.4 2147.8,223.8 2146.2,226.3 2144.6,228.8 2142.9,231.3 2141.3,233.9 2139.6,236.3 2138.0,238.8 2136.2,241.2 2134.5,243.7 2132.8,246.1 2131.0,248.4 2129.2,250.7 2127.3,252.9 2125.3,255.2 2123.3,257.4 2121.3,259.6 2119.3,261.9 2117.3,264.2 2115.3,266.5 2113.4,268.8 2111.4,271.1 2109.4,273.3 2107.4,275.6 2105.5,277.8 2103.5,280.1 2101.5,282.3 2099.5,284.6 2097.5,286.8 2095.4,289.0 2093.4,291.2 2091.4,293.3 2089.3,295.4 2087.1,297.5 2084.9,299.6 2082.8,301.7 2080.6,303.8 2078.5,305.8 2076.3,307.9 2074.1,310.0 2071.9,312.0 2069.7,314.0 2067.5,316.1 2065.3,318.1 2063.0,320.2 2060.8,322.3 2058.6,324.3 2056.4,326.4 2054.3,328.5 2052.1,330.6 2049.9,332.7 2047.7,334.8 2045.5,336.9 2043.4,338.9 2041.2,341.0 2039.0,343.0 2036.8,345.0 2034.5,347.0 2032.3,349.1 2030.1,351.1 2027.8,353.1 2025.6,355.1 2023.3,357.1 2021.1,359.1 2018.9,361.1 2016.6,363.1 2014.4,365.1 2012.1,367.2 2009.9,369.2 2007.6,371.2 2005.4,373.3 2003.2,375.3 2000.9,377.3 1998.7,379.3 1996.5,381.4 1994.2,383.4 1992.0,385.4 1989.8,387.4 1987.5,389.4 1985.3,391.4 1983.0,393.3 1980.7,395.2 1978.4,397.1 1976.1,399.0 1973.8,400.9 1971.4,402.7 1969.1,404.6 1966.7,406.4 1964.3,408.3 1961.9,410.2 1959.6,412.0 1957.2,413.9 1954.8,415.8 1952.5,417.7 1950.1,419.6 1947.8,421.5 1945.4,423.4 1943.1,425.3 1940.7,427.2 1938.4,429.1 1936.0,430.9 1933.7,432.8 1931.3,434.6 1929.0,436.5 1926.6,438.3 1924.2,440.0 1921.8,441.7 1919.3,443.4 1916.9,445.1 1914.4,446.7 1911.8,448.4 1909.3,450.1 1906.8,451.8 1904.3,453.6 1901.8,455.4 1899.4,457.3 1897.0,459.2 1894.6,461.1 1892.2,463.0 1889.9,464.9 1887.6,466.8 1885.2,468.7 1882.9,470.6 1880.6,472.5 1878.2,474.4 1875.9,476.2 1873.5,478.1 1871.2,479.8 1868.8,481.5 1866.4,483.0 1863.9,484.5 1861.3,486.0 1858.7,487.4 1856.1,488.9 1853.4,490.3 1850.7,491.8 1848.0,493.4 1845.4,495.0 1842.8,496.7 1840.3,498.5 1837.8,500.2 1835.3,501.9 1832.8,503.7 1830.4,505.4 1827.9,507.2 1825.5,508.9 1823.0,510.7 1820.5,512.4 1818.1,514.1 1815.6,515.9 1813.2,517.6 1810.7,519.4 1808.2,521.1 1805.8,522.9 1803.3,524.6 1800.9,526.3 1798.4,528.1 1796.0,529.8 1793.5,531.5 1791.0,533.2 1788.5,534.8 1786.0,536.4 1783.5,538.1 1781.0,539.6 1778.4,541.2 1775.9,542.8 1773.3,544.3 1770.7,545.8 1768.2,547.3 1765.5,548.8 1762.9,550.2 1760.3,551.7 1757.7,553.1 1755.0,554.5 1752.4,555.9 1749.7,557.2 1747.1,558.6 1744.4,559.9 1741.7,561.2 1739.0,562.5 1736.3,563.7 1733.6,564.9 1730.8,566.1 1728.1,567.3 1725.3,568.5 1722.6,569.6 1719.8,570.7" fill="#00BFC4" stroke="#00BFC4" stroke-width="2" stroke-linejoin="round"/>
<polyline points="1725.1,567.7 1727.5,559.0 1731.2,554.5 1734.5,550.0 1739.8,543.0 1740.0,535.7 1749.3,531.8 1752.4,526.4 1756.8,521.9 1760.6,517.2 1761.1,509.9 1767.6,507.2 1773.4,500.5 1773.6,493.0 1781.1,491.8 1785.1,487.1 1791.1,479.5 1794.0,470.4 1799.8,467.4 1802.0,461.5 1804.5,455.8 1811.4,453.8 1815.3,449.3 1818.4,444.0 1822.5,439.5 1827.8,436.1 1830.5,430.4 1835.9,427.0 1842.4,420.8 1848.2,414.2 1854.3,407.9 1860.0,400.7 1865.4,397.7 1868.7,392.2 1874.8,390.0 1879.0,385.6 1882.3,380.3 1890.2,375.4 1895.2,371.9 1899.7,363.3 1906.8,362.0 1908.9,355.2 1914.8,348.1 1924.2,344.5 1927.8,339.8 1929.2,332.8 1937.3,328.5 1945.4,324.3 1952.8,319.2 1957.2,315.0 1962.8,307.5 1969.0,306.1 1976.8,301.6 1981.7,298.0 1985.1,292.0 1988.8,286.6 1996.2,286.2 2003.6,280.8 2009.1,273.1 2012.7,268.0 2020.2,268.0 2027.3,262.8 2032.4,254.3 2042.3,252.6 2045.0,245.9 2054.3,243.2 2059.5,240.1 2064.6,236.9 2069.1,232.9 2074.1,229.7 2078.3,225.3 2084.4,223.8 2089.5,220.6 2094.6,217.5 2102.4,213.1 2107.7,210.4 2115.5,206.2 2120.7,203.1 2125.4,199.2 2131.4,198.2 2138.1,191.1 2144.7,191.8 2149.8,188.4 2156.7,188.4 2158.2,188.4 2160.5,188.4 1726.6,563.8 1732.4,562.4 1738.3,561.0 1745.5,555.5 1752.7,556.6 1755.9,549.8 1765.3,548.4 1771.7,541.5 1779.0,542.1 1782.0,535.6 1786.5,531.8 1791.4,528.4 1800.4,525.7 1806.2,518.2 1815.8,516.1 1818.6,509.6 1823.2,505.7 1828.3,502.5 1836.1,497.7 1841.9,495.4 1847.4,492.4 1852.8,489.3 1862.1,487.4 1866.7,478.3 1871.5,475.4 1876.4,472.1 1883.4,466.4 1892.0,462.7 1898.9,456.7 1902.4,451.0 1907.6,447.5 1914.5,447.0 1917.5,440.6 1922.5,437.6 1928.3,435.6 1936.2,431.1 1938.6,424.6 1946.3,424.5 1948.3,417.4 1955.5,411.7 1960.0,407.7 1967.4,402.4 1971.4,397.9 1976.6,394.9 1980.5,390.4 1987.2,384.5 1992.2,381.1 1996.9,377.4 2000.6,372.5 2005.1,368.4 2009.8,364.6 2014.8,361.1 2018.8,356.5 2025.9,350.9 2030.3,346.9 2038.0,341.9 2041.5,336.9 2047.3,329.9 2054.3,328.5 2058.1,319.4 2064.8,317.7 2067.3,311.4 2071.9,307.6 2080.2,303.3 2082.8,297.3 2088.7,294.7 2090.6,288.6 2095.3,284.8 2102.3,283.1 2102.6,275.3 2111.3,271.0 2112.9,264.5 2116.9,259.8 2122.7,256.8 2125.1,251.1 2128.7,246.6 2132.2,242.0 2137.7,238.6 2141.5,234.0 2143.6,228.2 2147.7,223.8 2152.0,219.5 2150.1,211.8 2152.7,206.5 2157.4,202.5 2157.2,196.6 2160.5,191.4 2160.5,189.2 2160.5,188.4 2160.5,188.4 1976.1,411.7 1897.8,467.6" fill="none" stroke="none" marker-start="url(#t)" marker-mid="url(#t)" marker-end="url(#t)"/>
<polygon points="1724.9,573.9 1732.3,567.2 1739.6,560.6 1747.0,553.9 1754.4,547.2 1761.8,540.6 1769.2,533.9 1776.6,527.3 1784.0,520.7 1791.4,514.0 1798.8,507.4 1806.2,500.8 1813.6,494.2 1821.1,487.7 1828.5,481.1 1835.9,474.5 1843.3,467.9 1850.8,461.4 1858.2,454.8 1865.6,448.3 1873.0,441.8 1880.5,435.3 1887.9,428.7 1895.4,422.2 1902.8,415.7 1910.2,409.2 1917.7,402.8 1925.1,396.3 1932.6,389.8 1940.0,383.3 1947.5,376.9 1954.9,370.4 1962.4,364.0 1969.8,357.5 1977.3,351.1 1984.7,344.7 1992.2,338.2 1999.6,331.8 2007.1,325.4 2014.5,319.0 2022.0,312.6 2029.5,306.2 2036.9,299.9 2044.4,293.5 2051.9,287.1 2059.3,280.8 2066.8,274.4 2074.3,268.1 2081.8,261.8 2089.3,255.5 2096.7,249.1 2104.2,242.8 2111.7,236.6 2119.2,230.3 2126.7,224.0 2134.2,217.7 2141.7,211.5 2149.2,205.2 2156.7,199.0 2164.2,192.7 2156.8,184.0 2149.4,190.4 2142.0,196.8 2134.7,203.1 2127.3,209.5 2119.9,215.9 2112.5,222.3 2105.1,228.7 2097.7,235.1 2090.2,241.5 2082.8,247.9 2075.4,254.3 2068.0,260.7 2060.6,267.2 2053.2,273.6 2045.7,280.0 2038.3,286.4 2030.9,292.8 2023.4,299.2 2016.0,305.7 2008.6,312.1 2001.1,318.5 1993.7,325.0 1986.3,331.4 1978.8,337.8 1971.4,344.3 1963.9,350.7 1956.5,357.2 1949.0,363.6 1941.6,370.1 1934.1,376.5 1926.7,383.0 1919.2,389.5 1911.8,396.0 1904.3,402.4 1896.9,408.9 1889.4,415.4 1882.0,421.9 1874.5,428.4 1867.0,434.9 1859.6,441.4 1852.1,447.9 1844.6,454.4 1837.2,460.9 1829.7,467.4 1822.2,473.9 1814.7,480.5 1807.3,487.0 1799.8,493.5 1792.3,500.0 1784.8,506.5 1777.3,513.1 1769.8,519.6 1762.3,526.1 1754.8,532.7 1747.3,539.2 1739.8,545.7 1732.3,552.3 1724.8,558.8 1717.3,565.3" fill="#F8766D"/>
<circle cx="1721.07" cy="569.64" r="5.45" fill="#F8766D"/><circle cx="2160.53" cy="188.36" r="5.45" fill="#F8766D"/>
</g>
<rect x="1700.20" y="170.40" width="481.20" height="417.20" fill="none" stroke="#333" stroke-width="2.2"/>
<path d="M1720.93 588.70v11.46M1815.96 588.70v11.46M1911.82 588.70v11.46M2007.41 588.70v11.46M2103.00 588.70v11.46" stroke="#333" stroke-width="4.45" fill="none"/>
<rect x="2206.50" y="98.90" width="481.20" height="69.30" fill="#D9D9D9" stroke="#333" stroke-width="2.2"/>
<clipPath id="c5"><rect x="2205.40" y="169.30" width="483.40" height="419.40"/></clipPath>
<g clip-path="url(#c5)">
<polygon points="2228.8,567.4 2230.1,564.7 2231.4,562.0 2232.8,559.3 2234.1,556.8 2235.6,554.3 2237.2,551.9 2238.9,549.5 2240.6,547.1 2242.4,544.8 2244.3,542.4 2246.2,540.1 2248.1,537.8 2250.0,535.5 2251.9,533.2 2253.9,530.9 2255.9,528.6 2257.9,526.3 2259.8,524.0 2261.7,521.6 2263.7,519.2 2265.5,516.9 2267.4,514.5 2269.3,512.1 2271.2,509.8 2273.1,507.4 2275.0,505.1 2276.8,502.8 2278.8,500.6 2280.8,498.4 2282.8,496.2 2284.9,494.0 2287.0,491.9 2289.1,489.6 2291.2,487.3 2293.2,484.9 2295.2,482.5 2297.0,480.1 2298.8,477.7 2300.7,475.4 2302.6,473.0 2304.5,470.7 2306.4,468.4 2308.3,466.1 2310.3,463.8 2312.2,461.5 2314.2,459.2 2316.1,456.9 2318.1,454.6 2320.1,452.4 2322.1,450.2 2324.1,448.0 2326.2,445.8 2328.2,443.6 2330.3,441.4 2332.3,439.2 2334.4,437.1 2336.5,435.0 2338.7,432.8 2340.8,430.7 2343.0,428.6 2345.1,426.5 2347.3,424.4 2349.5,422.3 2351.6,420.3 2353.8,418.2 2356.1,416.2 2358.3,414.2 2360.5,412.2 2362.8,410.1 2365.0,408.1 2367.3,406.1 2369.5,404.1 2371.8,402.1 2374.0,400.1 2376.3,398.1 2378.5,396.0 2380.8,394.0 2383.0,391.9 2385.3,389.9 2387.5,387.8 2389.7,385.6 2391.9,383.5 2394.0,381.4 2396.2,379.2 2398.3,377.0 2400.4,374.9 2402.6,372.7 2404.7,370.5 2406.8,368.4 2408.9,366.2 2411.0,364.0 2413.1,361.7 2415.2,359.5 2417.2,357.2 2419.2,354.9 2421.2,352.5 2423.1,350.2 2425.1,347.9 2427.0,345.6 2429.0,343.4 2431.0,341.2 2433.0,339.0 2435.0,336.9 2437.1,334.9 2439.3,333.0 2441.5,331.0 2443.8,329.1 2446.1,327.2 2448.5,325.3 2450.8,323.4 2453.1,321.5 2455.5,319.7 2457.9,317.8 2460.3,316.0 2462.7,314.2 2465.1,312.3 2467.4,310.5 2469.8,308.7 2472.2,307.0 2474.7,305.3 2477.2,303.6 2479.7,302.0 2482.2,300.3 2484.7,298.6 2487.2,296.9 2489.8,295.1 2492.3,293.3 2494.7,291.4 2497.1,289.5 2499.5,287.6 2501.9,285.7 2504.2,283.8 2506.6,281.9 2508.9,280.0 2511.3,278.1 2513.6,276.2 2516.0,274.3 2518.3,272.4 2520.7,270.6 2523.0,268.8 2525.3,267.2 2527.8,265.6 2530.3,264.2 2532.9,262.7 2535.5,261.4 2538.2,260.0 2540.9,258.5 2543.6,256.9 2546.3,255.3 2549.0,253.5 2551.5,251.6 2553.9,249.7 2556.3,247.8 2558.7,245.9 2561.0,244.0 2563.4,242.1 2565.7,240.2 2568.1,238.3 2570.4,236.4 2572.7,234.5 2575.1,232.6 2577.4,230.8 2579.8,229.0 2582.2,227.3 2584.6,225.7 2587.1,224.1 2589.6,222.6 2592.2,221.1 2594.8,219.7 2597.4,218.2 2600.1,216.8 2602.7,215.3 2605.4,213.9 2608.0,212.4 2610.7,211.0 2613.3,209.6 2616.0,208.3 2618.6,206.9 2621.3,205.6 2624.0,204.3 2626.8,203.0 2629.5,201.7 2632.2,200.4 2634.9,199.1 2637.7,197.8 2640.4,196.5 2643.1,195.3 2645.9,194.0 2648.6,192.8 2651.4,191.6 2654.1,190.4 2656.9,189.2 2659.8,187.9 2662.0,186.7 2664.1,186.4 2666.8,186.4 2668.8,183.2 2668.5,186.1 2668.1,189.0 2667.6,191.9 2667.0,194.7 2666.3,197.4 2665.4,200.2 2664.4,202.9 2663.3,205.5 2662.0,208.1 2660.7,210.8 2659.2,213.5 2657.9,216.2 2656.5,218.8 2655.1,221.3 2653.6,223.8 2651.9,226.2 2650.2,228.8 2648.6,231.3 2646.9,233.8 2645.2,236.3 2643.5,238.7 2641.8,241.2 2640.0,243.6 2638.2,246.0 2636.4,248.3 2634.5,250.6 2632.6,252.8 2630.6,255.0 2628.6,257.3 2626.6,259.5 2624.5,261.8 2622.5,264.1 2620.5,266.4 2618.6,268.7 2616.6,271.0 2614.6,273.2 2612.6,275.5 2610.6,277.8 2608.5,280.0 2606.5,282.3 2604.5,284.5 2602.5,286.7 2600.4,288.9 2598.4,291.1 2596.3,293.1 2594.1,295.2 2591.9,297.4 2589.8,299.5 2587.6,301.7 2585.5,303.9 2583.4,306.0 2581.3,308.1 2579.1,310.2 2577.0,312.3 2574.8,314.3 2572.6,316.3 2570.3,318.3 2568.0,320.2 2565.7,322.2 2563.4,324.1 2561.1,326.1 2558.8,328.0 2556.5,330.0 2554.1,332.0 2551.8,334.0 2549.6,336.0 2547.3,338.1 2545.1,340.1 2542.8,342.1 2540.6,344.1 2538.3,346.2 2536.0,348.2 2533.8,350.2 2531.5,352.2 2529.3,354.2 2527.0,356.3 2524.8,358.3 2522.5,360.4 2520.3,362.4 2518.0,364.5 2515.8,366.6 2513.5,368.7 2511.4,370.9 2509.2,373.1 2507.1,375.3 2505.1,377.5 2503.0,379.7 2500.9,381.9 2498.8,384.1 2496.7,386.2 2494.6,388.3 2492.4,390.3 2490.2,392.2 2488.0,394.2 2485.7,396.1 2483.4,398.0 2481.0,399.9 2478.7,401.8 2476.3,403.6 2473.9,405.5 2471.5,407.3 2469.1,409.2 2466.7,411.1 2464.4,413.0 2462.0,414.9 2459.6,416.8 2457.2,418.6 2454.9,420.5 2452.5,422.4 2450.1,424.3 2447.8,426.2 2445.4,428.1 2443.0,430.0 2440.7,431.9 2438.3,433.8 2435.9,435.7 2433.6,437.6 2431.2,439.5 2428.8,441.4 2426.5,443.3 2424.1,445.2 2421.8,447.1 2419.4,449.0 2417.1,450.9 2414.7,452.8 2412.3,454.7 2410.0,456.5 2407.6,458.4 2405.2,460.2 2402.8,462.0 2400.4,463.8 2398.0,465.6 2395.6,467.3 2393.1,469.0 2390.6,470.7 2388.1,472.4 2385.6,474.1 2383.1,475.8 2380.6,477.4 2378.1,479.1 2375.6,480.7 2373.1,482.2 2370.5,483.8 2367.9,485.3 2365.3,486.8 2362.6,488.3 2360.0,489.8 2357.3,491.4 2354.7,493.0 2352.1,494.6 2349.5,496.3 2347.0,498.0 2344.4,499.7 2341.9,501.4 2339.4,503.1 2336.9,504.8 2334.4,506.5 2331.9,508.3 2329.4,510.1 2326.9,511.9 2324.5,513.7 2322.0,515.6 2319.6,517.5 2317.2,519.4 2314.9,521.3 2312.5,523.2 2310.2,525.2 2307.8,527.1 2305.5,529.0 2303.1,530.9 2300.8,532.8 2298.4,534.6 2296.1,536.5 2293.7,538.2 2291.4,539.8 2288.9,541.3 2286.4,542.7 2283.8,544.0 2281.1,545.2 2278.4,546.3 2275.6,547.5 2272.8,548.7 2269.9,549.9 2267.1,551.2 2264.4,552.5 2261.7,553.8 2258.9,555.1 2256.2,556.4 2253.5,557.7 2250.7,559.0 2248.0,560.3 2245.2,561.5 2242.5,562.8 2239.7,564.1 2237.0,565.3 2234.2,566.6 2231.5,567.8 2228.7,569.0 2226.0,570.2" fill="#00BFC4" stroke="#00BFC4" stroke-width="2" stroke-linejoin="round"/>
<polyline points="2234.3,563.4 2236.0,554.6 2241.3,551.2 2243.4,541.7 2252.7,537.8 2256.7,533.4 2262.6,526.3 2263.4,519.0 2271.6,514.0 2274.2,508.3 2281.6,503.1 2285.1,498.4 2289.7,494.4 2291.4,487.5 2294.7,482.2 2298.0,477.0 2302.1,472.6 2310.4,467.8 2317.1,461.7 2317.5,454.2 2324.9,452.7 2330.2,445.4 2334.7,441.5 2338.0,432.1 2341.9,427.5 2349.3,426.5 2350.9,419.5 2355.1,415.2 2363.8,411.3 2371.7,406.5 2375.9,402.2 2380.4,398.0 2385.4,394.4 2388.4,388.7 2393.9,385.6 2396.0,379.0 2405.3,375.4 2409.0,370.5 2413.5,366.4 2418.1,362.0 2419.8,355.4 2426.0,352.6 2431.9,345.9 2434.9,340.9 2438.9,332.5 2444.0,329.3 2451.6,324.4 2455.6,319.9 2464.5,316.5 2469.6,313.4 2474.3,310.0 2476.9,303.2 2484.1,303.2 2492.0,298.2 2497.9,290.5 2504.3,288.8 2506.9,282.3 2511.1,277.8 2520.0,274.6 2526.9,269.5 2532.1,267.5 2536.9,264.0 2543.6,256.8 2550.9,256.3 2558.4,250.5 2563.2,246.6 2570.4,241.2 2573.3,235.2 2582.1,232.2 2584.9,226.1 2589.9,223.1 2594.0,218.2 2600.8,218.2 2607.4,211.3 2614.8,212.6 2618.3,206.1 2626.1,201.6 2636.3,202.0 2642.9,194.7 2652.6,194.3 2659.3,188.4 2664.0,188.4 2666.8,188.4 2235.4,561.7 2241.0,559.5 2249.4,556.2 2254.9,553.7 2261.5,553.5 2268.5,546.7 2274.2,544.0 2279.9,542.4 2288.3,540.3 2294.3,534.1 2301.5,533.7 2303.6,526.7 2307.7,522.2 2315.0,521.5 2319.7,517.6 2322.1,510.6 2329.8,505.4 2335.1,502.2 2342.6,497.0 2347.7,493.5 2353.0,490.1 2360.9,485.3 2366.3,482.4 2371.1,479.0 2380.6,477.5 2385.3,473.6 2388.7,468.0 2393.8,464.8 2398.1,460.6 2403.2,457.6 2413.2,455.7 2417.3,451.2 2424.3,445.4 2429.5,437.4 2434.9,434.4 2441.4,427.9 2446.0,424.1 2450.7,420.2 2455.1,416.0 2462.3,410.4 2467.2,406.7 2474.0,405.5 2480.2,398.9 2483.6,393.6 2487.8,389.5 2492.1,385.7 2501.4,382.4 2503.9,376.5 2512.3,371.9 2517.3,363.7 2522.9,356.3 2526.7,351.3 2533.2,349.6 2539.3,347.2 2543.7,343.1 2547.5,338.3 2550.0,332.0 2556.5,325.3 2561.4,321.7 2567.9,315.5 2574.1,313.5 2580.2,311.3 2581.2,303.8 2585.4,299.5 2589.2,294.6 2594.1,290.9 2598.0,286.7 2603.4,283.5 2611.3,278.4 2612.5,271.4 2615.8,266.3 2621.7,259.4 2628.2,257.0 2631.9,248.3 2641.2,244.5 2646.2,237.0 2650.8,229.2 2650.9,222.0 2653.7,217.3 2661.8,211.3 2660.7,204.4 2661.9,199.0 2663.7,193.9 2666.8,189.1 2666.8,188.4 2666.8,188.4 2431.5,448.1 2498.0,394.1" fill="none" stroke="none" marker-start="url(#t)" marker-mid="url(#t)" marker-end="url(#t)"/>
<polygon points="2231.2,573.9 2238.6,567.2 2245.9,560.6 2253.3,553.9 2260.7,547.2 2268.1,540.6 2275.5,533.9 2282.9,527.3 2290.3,520.7 2297.7,514.0 2305.1,507.4 2312.5,500.8 2319.9,494.2 2327.4,487.7 2334.8,481.1 2342.2,474.5 2349.6,467.9 2357.1,461.4 2364.5,454.8 2371.9,448.3 2379.3,441.8 2386.8,435.3 2394.2,428.7 2401.7,422.2 2409.1,415.7 2416.5,409.2 2424.0,402.8 2431.4,396.3 2438.9,389.8 2446.3,383.3 2453.8,376.9 2461.2,370.4 2468.7,364.0 2476.1,357.5 2483.6,351.1 2491.0,344.7 2498.5,338.2 2505.9,331.8 2513.4,325.4 2520.8,319.0 2528.3,312.6 2535.8,306.2 2543.2,299.9 2550.7,293.5 2558.2,287.1 2565.6,280.8 2573.1,274.4 2580.6,268.1 2588.1,261.8 2595.6,255.5 2603.0,249.1 2610.5,242.8 2618.0,236.6 2625.5,230.3 2633.0,224.0 2640.5,217.7 2648.0,211.5 2655.5,205.2 2663.0,199.0 2670.5,192.7 2663.1,184.0 2655.7,190.4 2648.3,196.8 2641.0,203.1 2633.6,209.5 2626.2,215.9 2618.8,222.3 2611.4,228.7 2604.0,235.1 2596.5,241.5 2589.1,247.9 2581.7,254.3 2574.3,260.7 2566.9,267.2 2559.5,273.6 2552.0,280.0 2544.6,286.4 2537.2,292.8 2529.7,299.2 2522.3,305.7 2514.9,312.1 2507.4,318.5 2500.0,325.0 2492.6,331.4 2485.1,337.8 2477.7,344.3 2470.2,350.7 2462.8,357.2 2455.3,363.6 2447.9,370.1 2440.4,376.5 2433.0,383.0 2425.5,389.5 2418.1,396.0 2410.6,402.4 2403.2,408.9 2395.7,415.4 2388.3,421.9 2380.8,428.4 2373.3,434.9 2365.9,441.4 2358.4,447.9 2350.9,454.4 2343.5,460.9 2336.0,467.4 2328.5,473.9 2321.0,480.5 2313.6,487.0 2306.1,493.5 2298.6,500.0 2291.1,506.5 2283.6,513.1 2276.1,519.6 2268.6,526.1 2261.1,532.7 2253.6,539.2 2246.1,545.7 2238.6,552.3 2231.1,558.8 2223.6,565.3" fill="#F8766D"/>
<circle cx="2227.37" cy="569.64" r="5.45" fill="#F8766D"/><circle cx="2666.83" cy="188.36" r="5.45" fill="#F8766D"/>
</g>
<rect x="2206.50" y="170.40" width="481.20" height="417.20" fill="none" stroke="#333" stroke-width="2.2"/>
<path d="M2226.93 588.70v11.46M2336.49 588.70v11.46M2446.05 588.70v11.46M2555.62 588.70v11.46M2665.18 588.70v11.46" stroke="#333" stroke-width="4.45" fill="none"/>
<rect x="181.30" y="668.30" width="481.20" height="69.30" fill="#D9D9D9" stroke="#333" stroke-width="2.2"/>
<clipPath id="c6"><rect x="180.20" y="738.70" width="483.40" height="419.40"/></clipPath>
<g clip-path="url(#c6)">
<polygon points="203.5,1137.0 204.9,1134.3 206.2,1131.6 207.6,1129.0 209.0,1126.4 210.5,1124.0 212.1,1121.6 213.8,1119.2 215.6,1116.8 217.4,1114.5 219.3,1112.2 221.2,1109.8 223.1,1107.5 225.0,1105.3 227.0,1103.0 229.0,1100.7 231.0,1098.4 232.9,1096.1 234.9,1093.8 236.8,1091.4 238.7,1089.1 240.7,1086.7 242.6,1084.4 244.5,1082.0 246.4,1079.7 248.3,1077.3 250.1,1075.0 252.0,1072.7 254.0,1070.5 256.0,1068.4 258.0,1066.2 260.1,1064.0 262.2,1061.8 264.4,1059.6 266.4,1057.3 268.5,1054.9 270.4,1052.5 272.3,1050.0 274.1,1047.7 275.9,1045.4 277.8,1043.2 279.8,1040.9 281.8,1038.7 283.8,1036.5 285.9,1034.4 288.0,1032.3 290.1,1030.2 292.2,1028.1 294.4,1026.1 296.6,1024.1 298.8,1022.1 301.1,1020.1 303.5,1018.0 305.7,1015.6 307.8,1013.1 309.7,1010.6 311.5,1008.0 313.2,1005.4 314.8,1002.9 316.4,1000.3 318.0,997.8 319.7,995.5 321.4,993.2 323.2,991.1 325.2,989.3 327.4,987.4 329.7,985.4 332.0,983.5 334.4,981.6 336.7,979.7 339.0,977.8 341.4,975.8 343.7,973.9 346.0,972.0 348.4,970.1 350.7,968.1 353.0,966.2 355.4,964.2 357.7,962.2 360.0,960.2 362.3,958.2 364.5,956.2 366.8,954.2 369.1,952.2 371.3,950.2 373.6,948.1 375.8,946.1 378.0,944.1 380.3,942.0 382.5,940.0 384.7,937.9 387.0,935.8 389.2,933.7 391.4,931.5 393.5,929.4 395.7,927.2 397.7,925.0 399.8,922.8 401.9,920.6 404.0,918.4 406.1,916.3 408.2,914.2 410.3,912.1 412.5,910.1 414.7,908.2 416.9,906.3 419.2,904.4 421.6,902.5 423.9,900.6 426.2,898.7 428.6,896.9 431.0,895.0 433.4,893.2 435.8,891.3 438.2,889.4 440.5,887.6 442.9,885.7 445.3,883.8 447.6,882.0 450.0,880.1 452.4,878.2 454.8,876.4 457.2,874.5 459.6,872.6 461.9,870.7 464.3,868.8 466.7,866.8 469.0,864.8 471.3,862.8 473.6,860.8 475.8,858.8 478.1,856.8 480.3,854.7 482.6,852.7 484.8,850.6 487.0,848.6 489.3,846.6 491.5,844.5 493.7,842.5 496.0,840.6 498.2,838.6 500.5,836.7 502.8,834.9 505.1,833.1 507.5,831.4 509.9,829.7 512.4,828.1 514.9,826.4 517.5,824.8 520.0,823.2 522.6,821.5 525.1,819.9 527.6,818.3 530.1,816.7 532.7,815.2 535.2,813.7 537.9,812.2 540.5,810.7 543.1,809.2 545.8,807.6 548.4,806.0 551.0,804.4 553.6,802.7 556.1,801.0 558.7,799.3 561.2,797.5 563.6,795.7 566.1,794.0 568.5,792.2 571.0,790.4 573.4,788.7 575.9,787.0 578.3,785.3 580.8,783.7 583.3,782.1 585.8,780.5 588.4,779.0 590.9,777.5 593.5,776.1 596.2,774.6 598.8,773.3 601.5,771.9 604.1,770.5 606.8,769.2 609.5,767.9 612.2,766.6 614.9,765.4 617.6,764.2 620.4,763.1 623.1,761.9 625.9,760.9 628.7,759.8 631.5,758.9 634.5,757.8 637.3,756.5 639.2,755.8 641.6,755.8 643.6,752.6 643.3,755.5 642.9,758.4 642.4,761.2 641.8,764.0 641.0,766.8 640.1,769.5 639.1,772.2 637.9,774.8 636.7,777.4 635.3,780.0 633.9,782.7 632.5,785.4 631.1,788.0 629.7,790.5 628.1,792.9 626.4,795.4 624.7,797.9 623.1,800.4 621.4,802.9 619.7,805.4 618.0,807.8 616.2,810.2 614.5,812.6 612.7,815.0 610.8,817.3 608.9,819.5 607.0,821.7 605.0,824.0 603.0,826.2 600.9,828.5 598.9,830.7 596.9,833.0 594.9,835.3 592.9,837.6 590.9,839.8 588.9,842.1 586.9,844.3 584.9,846.6 582.9,848.8 580.9,851.1 578.9,853.3 576.8,855.5 574.8,857.7 572.7,859.8 570.6,862.0 568.5,864.3 566.5,866.5 564.4,868.7 562.4,870.8 560.3,872.9 558.1,875.0 556.0,877.1 553.8,879.1 551.6,881.1 549.4,883.1 547.1,885.1 544.9,887.1 542.6,889.1 540.3,891.0 538.0,893.0 535.7,894.9 533.4,896.8 531.1,898.6 528.7,900.5 526.3,902.3 524.0,904.2 521.6,906.0 519.2,907.8 516.8,909.7 514.4,911.6 512.0,913.5 509.6,915.5 507.1,917.6 504.8,920.1 502.8,922.8 501.1,925.4 499.5,928.0 497.9,930.6 496.4,933.0 494.8,935.3 493.1,937.2 491.0,938.9 488.7,940.6 486.4,942.3 483.9,943.9 481.4,945.5 478.8,947.1 476.2,948.7 473.6,950.4 471.0,952.1 468.5,954.0 466.0,956.0 463.7,958.0 461.4,960.0 459.1,962.0 456.9,964.1 454.6,966.1 452.4,968.1 450.1,970.2 447.9,972.2 445.6,974.2 443.4,976.3 441.2,978.3 438.9,980.3 436.7,982.3 434.4,984.4 432.2,986.4 430.0,988.4 427.7,990.5 425.5,992.5 423.3,994.5 421.0,996.6 418.8,998.6 416.5,1000.6 414.3,1002.6 412.0,1004.6 409.8,1006.6 407.5,1008.5 405.2,1010.4 402.9,1012.3 400.6,1014.2 398.3,1016.1 395.9,1018.0 393.5,1019.8 391.1,1021.7 388.8,1023.5 386.4,1025.4 384.0,1027.3 381.6,1029.2 379.2,1031.1 376.9,1033.0 374.5,1034.9 372.2,1036.8 369.8,1038.7 367.5,1040.6 365.1,1042.5 362.8,1044.3 360.4,1046.2 358.1,1048.1 355.7,1049.9 353.3,1051.8 350.9,1053.6 348.5,1055.3 346.1,1057.1 343.7,1058.8 341.2,1060.5 338.7,1062.2 336.2,1063.9 333.7,1065.6 331.2,1067.3 328.7,1069.0 326.2,1070.7 323.7,1072.5 321.2,1074.2 318.8,1076.0 316.3,1077.7 313.8,1079.5 311.4,1081.2 308.9,1083.0 306.5,1084.7 304.0,1086.4 301.5,1088.1 299.0,1089.8 296.6,1091.4 294.1,1093.0 291.5,1094.6 289.0,1096.2 286.4,1097.7 283.8,1099.2 281.2,1100.7 278.6,1102.3 276.0,1103.8 273.3,1105.3 270.7,1106.9 268.1,1108.4 265.5,1110.0 262.9,1111.6 260.4,1113.2 257.8,1114.8 255.2,1116.4 252.7,1118.0 250.1,1119.5 247.5,1121.0 245.0,1122.5 242.4,1123.9 239.7,1125.3 237.1,1126.6 234.4,1128.0 231.7,1129.2 229.0,1130.5 226.3,1131.7 223.6,1132.9 220.8,1134.0 218.0,1135.1 215.3,1136.2 212.5,1137.2 209.7,1138.2 206.9,1139.1 204.0,1140.0 201.1,1140.9" fill="#00BFC4" stroke="#00BFC4" stroke-width="2" stroke-linejoin="round"/>
<polyline points="209.5,1133.3 209.6,1126.7 211.3,1121.0 215.9,1117.0 222.2,1114.6 225.3,1109.4 229.6,1105.3 233.0,1100.2 239.1,1093.3 240.3,1086.5 245.1,1082.5 252.9,1077.3 256.5,1072.8 258.5,1066.7 264.7,1064.2 270.7,1056.7 275.1,1052.2 278.6,1047.7 283.0,1039.8 289.0,1033.3 296.2,1028.1 300.6,1024.1 302.5,1017.0 312.3,1012.5 317.9,1004.8 319.2,998.6 323.8,995.1 329.9,990.2 336.5,984.1 343.4,978.3 350.7,972.9 354.8,968.3 362.2,962.8 367.1,959.2 371.8,950.8 376.1,946.5 380.7,942.5 387.0,940.3 389.8,934.3 397.7,929.1 402.4,921.0 408.0,914.0 414.3,912.2 418.8,908.5 422.9,899.4 430.3,899.1 433.4,893.2 438.6,890.0 443.3,886.2 447.7,882.1 456.6,878.6 459.6,872.7 463.8,868.2 473.1,864.9 478.0,861.2 482.9,853.0 489.4,851.1 495.7,844.8 497.7,838.0 505.0,837.9 509.8,834.6 517.0,829.7 519.6,822.6 526.8,822.5 531.7,819.4 536.9,816.6 542.0,813.3 545.6,807.4 555.8,806.0 560.9,802.4 565.7,798.7 570.6,795.0 575.1,791.0 580.1,787.9 585.0,784.8 589.7,781.3 597.9,777.9 602.1,773.1 608.2,772.1 612.9,768.1 618.8,766.8 622.8,761.0 631.8,759.8 638.6,757.8 639.8,757.8 641.6,757.8 215.4,1136.4 219.5,1130.8 225.0,1128.6 234.0,1127.0 240.7,1120.8 246.0,1118.3 253.6,1113.7 258.7,1110.5 266.3,1111.3 269.3,1104.5 274.5,1101.3 283.8,1099.2 289.8,1091.8 299.1,1089.8 304.3,1081.6 313.7,1079.3 319.2,1071.3 324.0,1067.5 334.3,1066.5 336.5,1059.0 341.6,1055.8 346.5,1052.5 353.1,1051.4 355.6,1045.0 363.2,1044.9 365.7,1038.4 369.7,1033.8 377.4,1033.6 379.3,1026.3 384.6,1023.2 389.1,1019.0 394.2,1015.8 402.6,1012.0 405.7,1006.4 414.0,1002.2 418.5,993.8 425.3,987.8 432.9,987.1 437.6,983.4 440.9,973.5 447.9,967.7 454.9,961.8 461.0,959.6 463.9,953.5 469.5,949.9 474.4,945.8 482.1,941.2 486.8,938.0 490.7,934.7 493.6,931.2 496.6,926.3 503.7,923.4 507.4,912.9 512.5,909.2 517.3,905.4 524.7,905.2 530.4,897.7 537.8,892.7 540.7,886.8 547.1,880.6 552.0,877.1 558.3,870.9 561.9,866.3 571.3,862.7 572.0,855.0 582.0,852.1 582.5,844.4 591.9,840.7 594.8,831.2 598.1,825.9 602.2,821.4 606.8,817.7 613.6,815.7 613.7,808.3 616.9,803.4 622.5,800.1 625.2,791.0 630.2,787.5 631.2,781.3 633.9,776.0 636.5,768.2 638.8,763.3 641.6,758.3 641.6,757.8 641.6,757.8 496.2,948.2 364.0,1049.4" fill="none" stroke="none" marker-start="url(#t)" marker-mid="url(#t)" marker-end="url(#t)"/>
<polygon points="206.0,1143.3 213.4,1136.6 220.7,1130.0 228.1,1123.3 235.5,1116.6 242.9,1110.0 250.3,1103.3 257.7,1096.7 265.1,1090.1 272.5,1083.4 279.9,1076.8 287.3,1070.2 294.7,1063.6 302.2,1057.1 309.6,1050.5 317.0,1043.9 324.4,1037.3 331.9,1030.8 339.3,1024.2 346.7,1017.7 354.1,1011.2 361.6,1004.7 369.0,998.1 376.5,991.6 383.9,985.1 391.3,978.6 398.8,972.2 406.2,965.7 413.7,959.2 421.1,952.7 428.6,946.3 436.0,939.8 443.5,933.4 450.9,926.9 458.4,920.5 465.8,914.1 473.3,907.6 480.7,901.2 488.2,894.8 495.6,888.4 503.1,882.0 510.6,875.6 518.0,869.3 525.5,862.9 533.0,856.5 540.4,850.2 547.9,843.8 555.4,837.5 562.9,831.2 570.4,824.9 577.8,818.5 585.3,812.2 592.8,806.0 600.3,799.7 607.8,793.4 615.3,787.1 622.8,780.9 630.3,774.6 637.8,768.4 645.3,762.1 637.9,753.4 630.5,759.8 623.1,766.2 615.8,772.5 608.4,778.9 601.0,785.3 593.6,791.7 586.2,798.1 578.8,804.5 571.3,810.9 563.9,817.3 556.5,823.7 549.1,830.1 541.7,836.6 534.3,843.0 526.8,849.4 519.4,855.8 512.0,862.2 504.5,868.6 497.1,875.1 489.7,881.5 482.2,887.9 474.8,894.4 467.4,900.8 459.9,907.2 452.5,913.7 445.0,920.1 437.6,926.6 430.1,933.0 422.7,939.5 415.2,945.9 407.8,952.4 400.3,958.9 392.9,965.4 385.4,971.8 378.0,978.3 370.5,984.8 363.1,991.3 355.6,997.8 348.1,1004.3 340.7,1010.8 333.2,1017.3 325.7,1023.8 318.3,1030.3 310.8,1036.8 303.3,1043.3 295.8,1049.9 288.4,1056.4 280.9,1062.9 273.4,1069.4 265.9,1075.9 258.4,1082.5 250.9,1089.0 243.4,1095.5 235.9,1102.1 228.4,1108.6 220.9,1115.1 213.4,1121.7 205.9,1128.2 198.4,1134.7" fill="#F8766D"/>
<circle cx="202.17" cy="1139.04" r="5.45" fill="#F8766D"/><circle cx="641.63" cy="757.76" r="5.45" fill="#F8766D"/>
</g>
<rect x="181.30" y="739.80" width="481.20" height="417.20" fill="none" stroke="#333" stroke-width="2.2"/>
<path d="M201.93 1158.10v11.46M304.78 1158.10v11.46M408.48 1158.10v11.46M511.89 1158.10v11.46M615.31 1158.10v11.46" stroke="#333" stroke-width="4.45" fill="none"/>
<path d="M168.74 1139.04h11.46M168.74 1043.72h11.46M168.74 948.40h11.46M168.74 853.08h11.46M168.74 757.76h11.46" stroke="#333" stroke-width="4.45" fill="none"/>
<rect x="687.60" y="668.30" width="481.20" height="69.30" fill="#D9D9D9" stroke="#333" stroke-width="2.2"/>
<clipPath id="c7"><rect x="686.50" y="738.70" width="483.40" height="419.40"/></clipPath>
<g clip-path="url(#c7)">
<polygon points="709.9,1135.9 711.1,1133.0 712.2,1130.3 713.4,1127.6 714.7,1125.0 715.9,1122.4 717.4,1119.9 718.9,1117.4 720.5,1115.0 722.2,1112.6 723.9,1110.2 725.7,1107.8 727.5,1105.4 729.3,1103.0 731.2,1100.7 733.1,1098.4 735.0,1096.0 736.9,1093.7 738.8,1091.3 740.7,1088.9 742.6,1086.5 744.4,1084.1 746.2,1081.7 748.1,1079.3 749.9,1076.8 751.7,1074.4 753.5,1072.0 755.3,1069.6 757.1,1067.2 758.9,1064.9 760.8,1062.7 762.8,1060.5 764.8,1058.3 766.8,1056.1 768.9,1053.8 771.0,1051.5 773.0,1049.1 774.9,1046.7 776.8,1044.2 778.5,1041.8 780.3,1039.4 782.1,1037.1 784.0,1034.8 785.9,1032.5 787.9,1030.2 789.8,1027.9 791.8,1025.7 793.8,1023.5 795.8,1021.3 797.8,1019.1 799.9,1016.9 802.0,1014.7 804.1,1012.5 806.2,1010.3 808.2,1008.1 810.3,1005.9 812.4,1003.7 814.5,1001.5 816.5,999.2 818.5,996.9 820.6,994.6 822.5,992.2 824.4,989.9 826.3,987.5 828.3,985.2 830.2,982.9 832.1,980.6 834.0,978.3 836.0,976.0 838.0,973.8 840.0,971.5 841.9,969.2 843.9,966.9 845.9,964.6 847.8,962.3 849.8,960.1 851.8,957.8 853.8,955.6 855.8,953.4 857.9,951.3 859.9,949.1 862.0,947.1 864.2,945.0 866.4,943.0 868.6,941.0 870.8,939.0 873.1,936.9 875.3,934.9 877.5,932.9 879.8,930.9 882.0,928.9 884.3,926.9 886.6,924.9 888.8,922.9 891.1,920.8 893.3,918.8 895.6,916.8 897.8,914.8 900.1,912.8 902.3,910.8 904.6,908.8 906.8,906.7 909.1,904.7 911.3,902.7 913.6,900.7 915.8,898.6 918.1,896.6 920.3,894.5 922.5,892.3 924.7,890.1 926.8,887.9 928.9,885.7 931.0,883.6 933.0,881.5 935.1,879.5 937.3,877.6 939.5,875.8 941.8,874.1 944.2,872.4 946.7,870.8 949.2,869.2 951.8,867.7 954.4,866.1 957.0,864.5 959.6,862.9 962.2,861.1 964.7,859.4 967.2,857.7 969.6,856.0 972.1,854.2 974.6,852.5 977.1,850.7 979.5,849.0 982.0,847.3 984.5,845.5 987.0,843.8 989.4,842.1 991.9,840.3 994.4,838.5 996.8,836.8 999.3,835.0 1001.7,833.2 1004.2,831.5 1006.6,829.8 1009.1,828.0 1011.5,826.3 1014.0,824.7 1016.5,823.1 1019.0,821.5 1021.5,820.1 1024.0,818.8 1026.7,817.6 1029.4,816.4 1032.2,815.2 1035.0,814.0 1037.8,812.7 1040.6,811.2 1043.4,809.7 1046.1,808.0 1048.7,806.3 1051.2,804.6 1053.7,802.8 1056.2,801.1 1058.6,799.3 1061.1,797.5 1063.5,795.8 1066.0,794.0 1068.4,792.3 1070.9,790.6 1073.3,788.9 1075.8,787.3 1078.3,785.7 1080.9,784.1 1083.4,782.5 1086.0,780.9 1088.5,779.4 1091.1,777.9 1093.7,776.4 1096.3,774.9 1098.9,773.5 1101.6,772.0 1104.2,770.6 1106.8,769.3 1109.5,768.0 1112.2,766.7 1114.9,765.5 1117.6,764.3 1120.3,763.1 1123.1,762.0 1125.9,761.0 1128.6,759.9 1131.3,759.0 1134.1,758.3 1136.9,757.6 1140.1,756.9 1142.6,756.0 1145.0,755.8 1147.9,755.8 1149.9,752.6 1149.6,755.5 1149.2,758.4 1148.7,761.3 1148.2,764.1 1147.5,766.8 1146.7,769.6 1145.7,772.3 1144.6,775.0 1143.5,777.6 1142.1,780.2 1140.7,782.9 1139.4,785.6 1138.1,788.2 1136.7,790.8 1135.2,793.3 1133.7,795.7 1132.0,798.2 1130.3,800.8 1128.7,803.3 1127.1,805.8 1125.4,808.2 1123.7,810.7 1122.0,813.1 1120.2,815.5 1118.4,817.9 1116.6,820.2 1114.7,822.4 1112.8,824.6 1110.8,826.9 1108.8,829.1 1106.7,831.4 1104.7,833.7 1102.8,836.0 1100.8,838.3 1098.8,840.6 1096.9,842.8 1094.9,845.1 1092.9,847.3 1090.9,849.6 1088.9,851.8 1086.9,854.1 1084.9,856.3 1082.9,858.5 1080.8,860.7 1078.8,862.8 1076.7,864.9 1074.6,867.0 1072.4,869.1 1070.3,871.1 1068.1,873.1 1065.8,875.0 1063.6,877.0 1061.3,878.9 1059.0,880.8 1056.7,882.7 1054.2,884.6 1051.9,886.7 1049.6,888.8 1047.4,891.0 1045.3,893.3 1043.2,895.5 1041.2,897.8 1039.2,899.9 1037.1,902.0 1035.0,904.0 1032.8,906.0 1030.6,908.0 1028.4,910.0 1026.1,912.0 1023.9,914.0 1021.6,916.0 1019.4,918.0 1017.1,920.0 1014.8,922.1 1012.6,924.1 1010.3,926.1 1008.0,928.3 1005.7,930.7 1003.7,933.3 1002.0,936.0 1000.4,938.6 998.8,941.2 997.2,943.6 995.7,945.9 994.0,947.9 992.1,949.5 989.9,951.0 987.5,952.4 985.0,953.5 982.4,954.4 979.7,955.2 976.8,956.0 973.8,956.8 970.8,957.7 967.7,958.7 964.7,960.1 961.8,961.7 959.0,963.6 956.5,965.7 954.2,967.9 952.0,970.2 949.9,972.5 947.9,974.8 945.9,977.1 944.0,979.5 942.1,981.8 940.1,984.1 938.2,986.4 936.3,988.6 934.3,990.8 932.3,992.9 930.3,994.9 928.2,996.7 926.0,998.3 923.6,999.7 921.0,1001.0 918.3,1002.5 915.6,1004.0 913.0,1005.5 910.4,1006.9 907.8,1008.2 905.1,1009.6 902.4,1011.0 899.7,1012.5 897.0,1014.1 894.3,1015.7 891.7,1017.5 889.1,1019.5 886.7,1021.5 884.4,1023.5 882.2,1025.6 879.9,1027.6 877.7,1029.7 875.5,1031.7 873.3,1033.8 871.1,1035.9 868.9,1037.9 866.7,1040.0 864.5,1042.1 862.3,1044.1 860.1,1046.1 857.9,1048.1 855.6,1050.1 853.5,1052.0 851.3,1053.6 849.0,1055.0 846.5,1056.2 843.9,1057.3 841.1,1058.3 838.2,1059.4 835.2,1060.7 832.3,1062.3 829.7,1064.0 827.1,1065.7 824.6,1067.4 822.1,1069.2 819.6,1070.9 817.1,1072.7 814.7,1074.5 812.2,1076.2 809.8,1078.0 807.3,1079.7 804.9,1081.5 802.4,1083.2 799.9,1085.0 797.5,1086.7 795.0,1088.5 792.6,1090.2 790.1,1092.0 787.7,1093.7 785.2,1095.4 782.7,1097.1 780.3,1098.8 777.8,1100.5 775.3,1102.2 772.8,1103.8 770.3,1105.4 767.8,1107.0 765.2,1108.5 762.6,1110.1 760.1,1111.6 757.5,1113.1 754.9,1114.6 752.3,1116.1 749.7,1117.6 747.0,1119.0 744.4,1120.5 741.8,1122.0 739.2,1123.4 736.5,1124.8 733.9,1126.2 731.2,1127.6 728.5,1129.0 725.9,1130.4 723.2,1131.7 720.5,1133.1 717.8,1134.4 715.1,1135.7 712.4,1137.0 709.7,1138.3 707.0,1139.5" fill="#00BFC4" stroke="#00BFC4" stroke-width="2" stroke-linejoin="round"/>
<polyline points="715.0,1131.4 718.5,1123.8 721.5,1115.7 723.1,1109.6 730.3,1103.7 732.7,1098.1 739.9,1096.1 739.8,1088.2 746.9,1086.0 752.2,1078.6 755.7,1073.6 758.9,1064.9 767.6,1060.9 769.4,1054.2 777.1,1048.3 783.3,1041.7 784.9,1035.5 790.7,1032.6 794.2,1027.8 800.6,1021.6 804.4,1017.1 805.9,1010.1 814.4,1005.5 817.8,996.3 826.8,991.8 832.5,984.8 834.1,978.4 842.9,974.0 846.1,968.8 850.5,964.6 851.8,957.8 860.0,953.3 866.1,947.1 871.1,943.8 875.1,939.3 878.7,929.7 883.4,925.9 890.9,925.1 892.8,918.2 900.4,917.7 906.4,910.8 913.9,905.5 918.1,901.2 921.4,895.7 929.0,890.0 931.1,883.8 934.0,878.3 941.8,878.7 946.3,875.5 950.7,871.7 954.7,866.6 961.2,865.4 966.6,862.2 970.5,857.2 976.7,855.4 981.7,852.1 986.1,847.8 991.6,845.1 995.9,840.7 998.8,834.4 1006.1,834.1 1009.4,828.5 1018.5,826.3 1022.8,822.7 1030.5,818.9 1039.3,815.7 1046.9,809.4 1051.9,805.7 1058.1,803.8 1060.7,797.0 1067.9,796.7 1073.0,793.7 1076.3,788.1 1082.5,786.6 1086.4,781.6 1091.9,779.2 1100.4,776.1 1105.8,773.8 1112.4,767.2 1119.1,767.8 1125.9,761.2 1135.1,762.0 1141.1,757.8 1143.4,757.8 1145.1,757.8 1147.9,757.8 716.2,1131.1 726.2,1130.9 729.7,1124.8 739.9,1124.8 742.7,1117.5 748.0,1114.6 755.1,1115.0 761.1,1107.4 766.0,1104.1 773.3,1099.0 778.4,1096.1 783.1,1092.4 788.2,1089.3 797.7,1086.9 804.2,1080.5 810.5,1073.9 815.4,1070.3 822.4,1069.6 825.0,1062.6 834.0,1058.3 839.8,1054.8 846.1,1055.2 849.6,1051.1 855.6,1045.7 860.2,1041.9 864.2,1037.4 868.6,1033.3 873.5,1029.7 882.1,1025.5 888.9,1019.1 892.6,1013.3 902.5,1011.2 906.4,1005.5 915.3,1003.5 920.9,1000.9 925.9,993.7 933.4,994.0 933.9,986.6 937.7,982.1 941.6,977.5 945.3,972.6 951.7,969.9 959.3,963.9 966.7,956.2 973.4,955.4 978.8,952.0 983.7,950.2 990.0,951.2 991.7,945.6 996.0,942.8 997.5,936.9 1000.8,931.3 1005.4,925.5 1010.1,921.4 1016.5,919.4 1019.9,914.0 1026.7,912.7 1030.3,903.3 1034.8,899.7 1038.5,895.3 1047.2,890.8 1050.0,884.6 1057.6,883.9 1059.4,876.6 1065.6,874.8 1070.1,866.6 1076.3,860.4 1083.8,859.3 1084.7,852.1 1090.2,849.0 1094.4,840.7 1098.7,836.4 1105.8,834.6 1108.1,824.5 1112.3,820.3 1118.0,813.9 1121.2,808.9 1130.0,804.2 1130.4,793.6 1135.8,790.3 1136.3,784.0 1143.3,780.8 1143.2,771.3 1144.6,763.3 1147.9,758.5 1147.9,757.8 1147.9,757.8 936.6,876.9 1039.1,904.9 995.8,950.4 928.2,999.9 913.4,1009.7" fill="none" stroke="none" marker-start="url(#t)" marker-mid="url(#t)" marker-end="url(#t)"/>
<polygon points="712.4,1143.2 719.8,1136.1 727.2,1129.1 734.5,1122.0 741.9,1115.0 749.3,1108.0 756.7,1101.0 764.1,1094.1 771.5,1087.1 778.9,1080.2 786.3,1073.3 793.7,1066.5 801.1,1059.6 808.5,1052.8 815.9,1046.0 823.3,1039.2 830.8,1032.5 838.2,1025.7 845.6,1019.0 853.0,1012.3 860.5,1005.7 867.9,999.0 875.3,992.4 882.8,985.8 890.2,979.2 897.7,972.7 905.1,966.1 912.5,959.6 920.0,953.1 927.4,946.6 934.9,940.2 942.3,933.7 949.8,927.3 957.2,920.9 964.7,914.6 972.1,908.2 979.6,901.9 987.0,895.6 994.5,889.3 1001.9,883.0 1009.4,876.7 1016.8,870.5 1024.3,864.3 1031.8,858.1 1039.2,852.0 1046.7,845.8 1054.2,839.7 1061.6,833.6 1069.1,827.6 1076.6,821.5 1084.1,815.5 1091.5,809.5 1099.0,803.5 1106.5,797.5 1114.0,791.6 1121.5,785.7 1129.0,779.8 1136.5,773.9 1144.0,768.1 1151.5,762.3 1144.4,753.3 1137.0,759.2 1129.6,765.2 1122.2,771.3 1114.8,777.3 1107.4,783.3 1100.0,789.4 1092.5,795.5 1085.1,801.6 1077.7,807.7 1070.3,813.8 1062.9,820.0 1055.5,826.1 1048.0,832.3 1040.6,838.5 1033.2,844.7 1025.8,850.9 1018.3,857.2 1010.9,863.4 1003.4,869.7 996.0,876.0 988.6,882.3 981.1,888.6 973.7,895.0 966.2,901.3 958.8,907.7 951.3,914.1 943.9,920.5 936.4,926.9 929.0,933.4 921.5,939.8 914.1,946.3 906.6,952.8 899.2,959.4 891.7,965.9 884.2,972.5 876.8,979.0 869.3,985.6 861.9,992.2 854.4,998.9 846.9,1005.5 839.5,1012.2 832.0,1018.9 824.5,1025.5 817.0,1032.3 809.6,1039.0 802.1,1045.7 794.6,1052.5 787.1,1059.3 779.6,1066.1 772.1,1072.9 764.6,1079.7 757.1,1086.5 749.6,1093.4 742.1,1100.3 734.6,1107.2 727.1,1114.1 719.6,1121.0 712.1,1127.9 704.5,1134.9" fill="#F8766D"/>
<circle cx="708.47" cy="1139.04" r="5.45" fill="#F8766D"/><circle cx="1147.93" cy="757.76" r="5.45" fill="#F8766D"/>
</g>
<rect x="687.60" y="739.80" width="481.20" height="417.20" fill="none" stroke="#333" stroke-width="2.2"/>
<path d="M707.93 1158.10v11.46M829.23 1158.10v11.46M950.25 1158.10v11.46M1071.28 1158.10v11.46" stroke="#333" stroke-width="4.45" fill="none"/>
<rect x="1193.90" y="668.30" width="481.20" height="69.30" fill="#D9D9D9" stroke="#333" stroke-width="2.2"/>
<clipPath id="c8"><rect x="1192.80" y="738.70" width="483.40" height="419.40"/></clipPath>
<g clip-path="url(#c8)">
<polygon points="1216.2,1136.0 1217.4,1133.2 1218.7,1130.5 1220.0,1127.8 1221.3,1125.2 1222.6,1122.6 1224.2,1120.2 1225.8,1117.7 1227.4,1115.3 1229.2,1112.9 1231.0,1110.5 1232.8,1108.1 1234.6,1105.8 1236.5,1103.4 1238.4,1101.1 1240.3,1098.8 1242.3,1096.5 1244.2,1094.1 1246.2,1091.7 1248.1,1089.3 1249.9,1086.9 1251.8,1084.5 1253.7,1082.1 1255.5,1079.7 1257.4,1077.3 1259.2,1074.9 1261.0,1072.5 1262.9,1070.1 1264.7,1067.8 1266.6,1065.6 1268.6,1063.4 1270.6,1061.2 1272.7,1059.0 1274.8,1056.8 1276.9,1054.5 1278.9,1052.1 1280.9,1049.7 1282.8,1047.2 1284.6,1044.8 1286.4,1042.5 1288.3,1040.2 1290.2,1037.8 1292.1,1035.5 1294.0,1033.1 1296.0,1030.7 1297.9,1028.4 1299.8,1026.0 1301.6,1023.6 1303.5,1021.2 1305.4,1018.8 1307.3,1016.5 1309.1,1014.1 1311.0,1011.8 1313.0,1009.5 1314.9,1007.3 1316.9,1005.1 1318.9,1002.8 1320.9,1000.6 1323.0,998.4 1325.1,996.3 1327.2,994.1 1329.3,992.0 1331.4,989.9 1333.6,987.8 1335.7,985.7 1337.9,983.6 1340.1,981.5 1342.3,979.5 1344.5,977.4 1346.7,975.4 1348.9,973.4 1351.2,971.4 1353.5,969.3 1355.7,967.3 1358.0,965.3 1360.2,963.3 1362.5,961.3 1364.8,959.2 1367.0,957.2 1369.3,955.2 1371.5,953.1 1373.8,951.0 1376.0,948.9 1378.2,946.7 1380.3,944.6 1382.5,942.4 1384.6,940.2 1386.8,938.1 1388.9,935.9 1391.0,933.7 1393.1,931.6 1395.2,929.4 1397.3,927.3 1399.5,925.1 1401.6,923.0 1403.7,920.8 1405.9,918.6 1408.0,916.4 1410.1,914.3 1412.2,912.1 1414.3,910.0 1416.4,907.8 1418.6,905.7 1420.7,903.6 1422.9,901.5 1425.0,899.4 1427.2,897.4 1429.5,895.3 1431.7,893.3 1433.9,891.2 1436.2,889.2 1438.4,887.2 1440.6,885.1 1442.9,883.1 1445.1,881.1 1447.4,879.1 1449.6,877.1 1451.9,875.1 1454.2,873.1 1456.4,871.3 1458.6,869.6 1461.0,868.1 1463.5,866.6 1466.1,865.3 1468.8,863.9 1471.5,862.6 1474.3,861.2 1477.0,859.6 1479.8,857.9 1482.4,856.1 1484.9,854.2 1487.3,852.3 1489.7,850.4 1492.0,848.5 1494.4,846.6 1496.8,844.6 1499.1,842.7 1501.4,840.8 1503.8,838.9 1506.1,837.0 1508.5,835.2 1510.9,833.3 1513.2,831.5 1515.6,829.7 1518.1,827.9 1520.5,826.2 1522.9,824.4 1525.4,822.7 1527.9,821.0 1530.4,819.3 1532.9,817.7 1535.4,816.0 1537.9,814.4 1540.4,812.9 1542.9,811.5 1545.5,810.2 1548.2,809.0 1550.9,807.8 1553.7,806.6 1556.5,805.3 1559.4,804.0 1562.2,802.6 1564.9,801.0 1567.6,799.3 1570.2,797.6 1572.7,795.8 1575.2,794.0 1577.7,792.2 1580.1,790.5 1582.6,788.7 1585.0,786.9 1587.5,785.2 1589.9,783.4 1592.4,781.8 1594.8,780.2 1597.4,778.7 1599.9,777.2 1602.5,775.8 1605.1,774.4 1607.8,773.1 1610.5,771.9 1613.2,770.6 1616.0,769.4 1618.7,768.2 1621.5,767.0 1624.2,765.8 1627.0,764.7 1629.8,763.6 1632.6,762.6 1635.4,761.6 1638.2,760.6 1641.0,759.7 1643.9,758.8 1646.9,757.9 1649.9,756.8 1651.9,755.7 1654.2,755.8 1656.2,752.6 1655.9,755.5 1655.5,758.4 1654.9,761.2 1654.3,764.0 1653.6,766.7 1652.7,769.4 1651.6,772.1 1650.5,774.7 1649.2,777.3 1647.8,779.9 1646.4,782.6 1645.0,785.3 1643.6,787.9 1642.2,790.4 1640.6,792.8 1638.9,795.3 1637.2,797.8 1635.5,800.3 1633.9,802.8 1632.2,805.2 1630.5,807.7 1628.7,810.1 1626.9,812.5 1625.1,814.8 1623.3,817.1 1621.4,819.4 1619.4,821.6 1617.4,823.8 1615.4,826.0 1613.3,828.3 1611.3,830.6 1609.3,832.9 1607.3,835.1 1605.4,837.4 1603.4,839.7 1601.4,841.9 1599.4,844.2 1597.3,846.4 1595.3,848.6 1593.3,850.9 1591.3,853.1 1589.2,855.3 1587.2,857.5 1585.1,859.6 1583.0,861.7 1580.9,863.8 1578.8,866.0 1576.6,868.1 1574.5,870.3 1572.4,872.4 1570.2,874.5 1568.1,876.6 1565.9,878.6 1563.7,880.6 1561.5,882.6 1559.3,884.6 1557.0,886.6 1554.7,888.5 1552.5,890.5 1550.2,892.4 1547.9,894.4 1545.6,896.3 1543.2,898.3 1540.9,900.3 1538.6,902.3 1536.4,904.3 1534.1,906.4 1531.9,908.4 1529.6,910.4 1527.4,912.4 1525.1,914.4 1522.9,916.4 1520.6,918.5 1518.4,920.5 1516.1,922.5 1513.9,924.5 1511.6,926.5 1509.4,928.6 1507.1,930.6 1504.9,932.7 1502.7,934.9 1500.5,937.0 1498.3,939.2 1496.2,941.4 1494.1,943.6 1492.1,945.8 1490.0,948.0 1487.9,950.1 1485.8,952.3 1483.7,954.4 1481.6,956.4 1479.4,958.4 1477.2,960.3 1474.9,962.3 1472.6,964.2 1470.3,966.1 1468.0,968.0 1465.7,969.9 1463.3,971.8 1461.0,973.6 1458.6,975.5 1456.2,977.3 1453.8,979.1 1451.4,980.9 1449.1,982.7 1446.7,984.2 1444.3,985.7 1441.7,987.0 1439.1,988.4 1436.3,989.7 1433.6,991.1 1430.8,992.6 1428.1,994.3 1425.4,996.1 1422.9,998.1 1420.5,1000.1 1418.3,1002.1 1416.0,1004.2 1413.7,1006.2 1411.5,1008.2 1409.2,1010.2 1407.0,1012.2 1404.7,1014.3 1402.5,1016.3 1400.2,1018.4 1398.0,1020.4 1395.8,1022.4 1393.5,1024.5 1391.3,1026.6 1389.1,1028.8 1387.0,1031.0 1384.9,1033.2 1382.8,1035.4 1380.7,1037.6 1378.6,1039.8 1376.5,1041.9 1374.4,1044.1 1372.3,1046.2 1370.2,1048.2 1368.1,1050.2 1365.9,1052.1 1363.8,1053.8 1361.4,1055.3 1359.0,1056.6 1356.4,1057.7 1353.8,1058.8 1350.9,1059.8 1348.1,1060.9 1345.1,1062.1 1342.2,1063.5 1339.4,1065.1 1336.7,1066.8 1334.2,1068.5 1331.6,1070.3 1329.1,1072.0 1326.7,1073.8 1324.2,1075.6 1321.8,1077.3 1319.3,1079.1 1316.9,1080.8 1314.5,1082.6 1312.0,1084.2 1309.5,1085.9 1307.0,1087.4 1304.5,1089.0 1301.9,1090.5 1299.3,1092.0 1296.7,1093.5 1294.1,1095.0 1291.4,1096.5 1288.8,1098.1 1286.2,1099.7 1283.6,1101.3 1281.0,1103.0 1278.5,1104.8 1276.0,1106.5 1273.5,1108.3 1271.1,1110.1 1268.6,1111.9 1266.2,1113.6 1263.7,1115.4 1261.3,1117.1 1258.8,1118.8 1256.4,1120.4 1253.9,1122.0 1251.4,1123.6 1248.8,1125.1 1246.2,1126.5 1243.6,1128.0 1241.0,1129.4 1238.4,1130.7 1235.7,1132.0 1233.0,1133.2 1230.3,1134.4 1227.6,1135.6 1224.9,1136.7 1222.1,1137.8 1219.3,1138.8 1216.5,1139.8 1213.7,1140.7" fill="#00BFC4" stroke="#00BFC4" stroke-width="2" stroke-linejoin="round"/>
<polyline points="1219.5,1137.4 1221.2,1128.4 1225.4,1124.2 1230.4,1117.4 1233.2,1112.2 1236.9,1107.5 1240.7,1103.0 1245.1,1098.9 1250.3,1091.1 1250.9,1083.8 1258.3,1081.9 1261.4,1076.5 1263.4,1070.6 1270.6,1065.3 1273.5,1059.7 1278.9,1056.4 1279.8,1048.8 1289.0,1044.5 1292.3,1039.5 1297.0,1035.5 1300.8,1030.7 1306.4,1023.5 1307.8,1017.0 1313.4,1013.8 1319.8,1007.7 1321.8,1001.4 1325.5,996.7 1331.5,994.2 1332.9,987.1 1340.4,986.2 1342.1,979.3 1348.9,977.8 1351.0,971.2 1357.6,969.4 1364.3,963.3 1371.2,957.3 1375.7,953.0 1380.8,949.4 1383.1,943.0 1388.8,940.0 1390.9,933.6 1397.3,931.4 1402.2,923.5 1405.7,918.5 1412.7,916.8 1419.2,910.5 1421.7,904.6 1429.6,900.0 1432.4,894.1 1438.3,891.6 1444.9,885.4 1447.2,878.9 1451.3,874.4 1460.2,871.9 1463.8,867.1 1468.6,863.6 1477.4,860.2 1484.3,858.7 1486.4,851.2 1493.7,850.6 1496.7,844.6 1501.8,841.2 1505.3,835.9 1512.3,830.3 1520.0,830.6 1524.7,826.9 1529.8,823.9 1534.4,819.9 1539.4,816.8 1547.0,813.3 1552.4,811.1 1556.3,804.8 1563.9,805.7 1572.0,800.2 1579.9,795.3 1584.6,791.4 1591.5,785.8 1596.8,783.4 1600.0,777.3 1606.7,777.5 1614.3,773.1 1623.0,770.4 1630.9,766.5 1636.3,764.2 1644.9,762.3 1652.7,757.8 1654.2,757.8 1224.9,1136.9 1230.8,1135.5 1238.1,1130.2 1244.3,1129.1 1247.0,1121.9 1254.1,1122.4 1257.2,1116.4 1263.1,1114.4 1269.4,1112.9 1273.7,1103.4 1278.8,1099.8 1287.0,1095.1 1292.8,1092.7 1298.9,1091.3 1305.5,1084.9 1309.8,1081.0 1317.4,1076.4 1324.7,1076.2 1327.5,1069.8 1336.3,1066.1 1340.6,1060.4 1349.6,1056.2 1359.2,1057.0 1361.5,1050.6 1365.5,1047.4 1370.1,1043.9 1376.0,1037.3 1382.1,1030.5 1390.2,1029.9 1393.7,1024.7 1397.6,1015.4 1402.4,1011.7 1407.2,1008.0 1416.1,1004.3 1418.1,997.4 1426.3,991.5 1434.6,986.3 1441.8,987.3 1445.1,981.6 1452.0,981.8 1456.7,977.9 1458.6,970.6 1467.8,967.7 1470.8,962.0 1475.1,957.9 1483.6,954.2 1485.7,948.0 1489.2,943.1 1497.2,942.4 1500.0,932.2 1510.2,929.5 1514.4,925.1 1515.9,917.7 1520.9,914.2 1525.3,910.1 1530.0,906.3 1534.6,902.3 1541.2,895.9 1547.3,893.7 1550.7,888.4 1557.2,882.2 1565.5,878.1 1572.9,872.9 1576.2,863.4 1580.4,859.1 1584.8,855.2 1590.5,852.4 1592.9,846.4 1599.1,839.9 1604.3,836.5 1608.1,831.8 1612.9,823.8 1620.0,822.1 1622.2,812.5 1629.6,810.8 1629.1,803.1 1632.5,798.3 1638.1,791.1 1641.8,783.7 1646.0,775.7 1649.5,768.3 1654.2,761.0 1654.2,758.5 1654.2,757.8 1654.2,757.8 1449.7,992.4 1364.5,1060.0 1455.3,869.9 1391.0,929.2" fill="none" stroke="none" marker-start="url(#t)" marker-mid="url(#t)" marker-end="url(#t)"/>
<polygon points="1218.6,1143.3 1226.0,1136.6 1233.3,1130.0 1240.7,1123.3 1248.1,1116.6 1255.5,1110.0 1262.9,1103.3 1270.3,1096.7 1277.7,1090.1 1285.1,1083.4 1292.5,1076.8 1299.9,1070.2 1307.3,1063.6 1314.8,1057.1 1322.2,1050.5 1329.6,1043.9 1337.0,1037.3 1344.5,1030.8 1351.9,1024.2 1359.3,1017.7 1366.7,1011.2 1374.2,1004.7 1381.6,998.1 1389.1,991.6 1396.5,985.1 1403.9,978.6 1411.4,972.2 1418.8,965.7 1426.3,959.2 1433.7,952.7 1441.2,946.3 1448.6,939.8 1456.1,933.4 1463.5,926.9 1471.0,920.5 1478.4,914.1 1485.9,907.6 1493.3,901.2 1500.8,894.8 1508.2,888.4 1515.7,882.0 1523.2,875.6 1530.6,869.3 1538.1,862.9 1545.6,856.5 1553.0,850.2 1560.5,843.8 1568.0,837.5 1575.5,831.2 1583.0,824.9 1590.4,818.5 1597.9,812.2 1605.4,806.0 1612.9,799.7 1620.4,793.4 1627.9,787.1 1635.4,780.9 1642.9,774.6 1650.4,768.4 1657.9,762.1 1650.5,753.4 1643.1,759.8 1635.7,766.2 1628.4,772.5 1621.0,778.9 1613.6,785.3 1606.2,791.7 1598.8,798.1 1591.4,804.5 1583.9,810.9 1576.5,817.3 1569.1,823.7 1561.7,830.1 1554.3,836.6 1546.9,843.0 1539.4,849.4 1532.0,855.8 1524.6,862.2 1517.1,868.6 1509.7,875.1 1502.3,881.5 1494.8,887.9 1487.4,894.4 1480.0,900.8 1472.5,907.2 1465.1,913.7 1457.6,920.1 1450.2,926.6 1442.7,933.0 1435.3,939.5 1427.8,945.9 1420.4,952.4 1412.9,958.9 1405.5,965.4 1398.0,971.8 1390.6,978.3 1383.1,984.8 1375.7,991.3 1368.2,997.8 1360.7,1004.3 1353.3,1010.8 1345.8,1017.3 1338.3,1023.8 1330.9,1030.3 1323.4,1036.8 1315.9,1043.3 1308.4,1049.9 1301.0,1056.4 1293.5,1062.9 1286.0,1069.4 1278.5,1075.9 1271.0,1082.5 1263.5,1089.0 1256.0,1095.5 1248.5,1102.1 1241.0,1108.6 1233.5,1115.1 1226.0,1121.7 1218.5,1128.2 1211.0,1134.7" fill="#F8766D"/>
<circle cx="1214.77" cy="1139.04" r="5.45" fill="#F8766D"/><circle cx="1654.23" cy="757.76" r="5.45" fill="#F8766D"/>
</g>
<rect x="1193.90" y="739.80" width="481.20" height="417.20" fill="none" stroke="#333" stroke-width="2.2"/>
<path d="M1214.37 1158.10v11.46M1340.42 1158.10v11.46M1466.48 1158.10v11.46M1593.09 1158.10v11.46" stroke="#333" stroke-width="4.45" fill="none"/>
<rect x="1700.20" y="668.30" width="481.20" height="69.30" fill="#D9D9D9" stroke="#333" stroke-width="2.2"/>
<clipPath id="c9"><rect x="1699.10" y="738.70" width="483.40" height="419.40"/></clipPath>
<g clip-path="url(#c9)">
<polygon points="1722.5,1136.1 1723.7,1133.3 1725.0,1130.6 1726.3,1127.9 1727.6,1125.3 1729.0,1122.8 1730.5,1120.4 1732.1,1117.9 1733.8,1115.5 1735.5,1113.1 1737.3,1110.7 1739.2,1108.4 1741.0,1106.0 1742.9,1103.7 1744.8,1101.4 1746.7,1099.1 1748.7,1096.8 1750.6,1094.4 1752.6,1092.0 1754.5,1089.6 1756.3,1087.2 1758.2,1084.8 1760.1,1082.5 1761.9,1080.1 1763.8,1077.7 1765.6,1075.2 1767.5,1072.9 1769.3,1070.5 1771.1,1068.2 1773.0,1066.0 1775.0,1063.8 1777.1,1061.6 1779.1,1059.4 1781.2,1057.2 1783.3,1054.9 1785.3,1052.6 1787.3,1050.1 1789.2,1047.7 1791.0,1045.3 1792.8,1042.9 1794.7,1040.5 1796.6,1038.1 1798.4,1035.7 1800.3,1033.2 1802.0,1030.7 1803.8,1028.2 1805.5,1025.8 1807.3,1023.4 1809.1,1021.1 1810.9,1019.0 1812.9,1016.8 1815.0,1014.7 1817.1,1012.7 1819.2,1010.7 1821.5,1008.8 1823.7,1006.9 1826.0,1005.1 1828.4,1003.4 1830.9,1001.6 1833.4,999.7 1836.0,997.5 1838.2,995.0 1840.2,992.5 1842.1,990.0 1843.8,987.4 1845.5,984.9 1847.2,982.4 1848.9,980.0 1850.6,977.6 1852.4,975.5 1854.2,973.5 1856.3,971.7 1858.6,969.9 1861.0,968.2 1863.4,966.5 1865.9,964.7 1868.4,963.0 1870.9,961.2 1873.4,959.3 1875.9,957.4 1878.2,955.3 1880.5,953.2 1882.7,951.1 1884.9,948.9 1887.1,946.7 1889.2,944.5 1891.3,942.3 1893.4,940.1 1895.5,938.0 1897.6,935.8 1899.7,933.7 1901.8,931.5 1904.0,929.3 1906.1,927.1 1908.1,925.0 1910.2,922.8 1912.3,920.7 1914.4,918.6 1916.6,916.6 1918.8,914.6 1921.0,912.7 1923.3,910.8 1925.6,909.0 1928.0,907.1 1930.4,905.3 1932.8,903.5 1935.2,901.7 1937.6,899.9 1940.1,898.0 1942.5,896.2 1944.9,894.3 1947.2,892.4 1949.6,890.5 1952.0,888.6 1954.3,886.7 1956.7,884.8 1959.1,882.9 1961.4,881.0 1963.8,879.0 1966.1,877.1 1968.4,875.2 1970.8,873.2 1973.1,871.2 1975.4,869.2 1977.7,867.1 1980.0,864.9 1982.1,862.7 1984.2,860.5 1986.3,858.3 1988.4,856.1 1990.4,853.9 1992.5,851.8 1994.6,849.7 1996.7,847.8 1999.0,845.8 2001.3,843.9 2003.6,842.0 2005.9,840.1 2008.2,838.2 2010.6,836.3 2012.9,834.5 2015.3,832.6 2017.7,830.8 2020.1,828.9 2022.5,827.1 2024.9,825.2 2027.3,823.4 2029.7,821.6 2032.1,819.9 2034.5,818.2 2037.0,816.5 2039.5,814.8 2042.0,813.1 2044.5,811.4 2047.0,809.7 2049.5,808.0 2052.0,806.2 2054.5,804.5 2057.0,802.7 2059.4,801.0 2061.9,799.2 2064.4,797.5 2066.8,795.7 2069.3,794.0 2071.8,792.2 2074.2,790.5 2076.7,788.8 2079.2,787.2 2081.7,785.5 2084.2,783.9 2086.7,782.2 2089.3,780.6 2091.8,779.1 2094.4,777.5 2096.9,776.0 2099.5,774.5 2102.1,773.0 2104.7,771.5 2107.3,770.1 2110.0,768.7 2112.6,767.4 2115.3,766.2 2118.0,765.0 2120.7,763.9 2123.4,762.8 2126.2,761.8 2129.0,760.9 2131.8,760.1 2134.6,759.3 2137.4,758.7 2140.3,758.1 2143.2,757.6 2146.1,757.2 2149.0,756.9 2152.1,756.7 2155.2,756.2 2157.8,755.8 2160.5,755.8 2162.5,752.4 2162.1,755.3 2161.5,758.0 2160.8,760.7 2159.8,763.3 2158.7,765.9 2157.4,768.4 2156.0,770.9 2154.4,773.4 2152.8,776.0 2151.2,778.5 2149.7,781.0 2148.0,783.3 2146.2,785.7 2144.4,788.1 2142.5,790.5 2140.7,792.9 2138.9,795.2 2137.0,797.5 2135.1,799.9 2133.2,802.2 2131.3,804.4 2129.4,806.6 2127.4,808.8 2125.3,811.0 2123.2,813.1 2121.1,815.3 2119.0,817.5 2116.9,819.7 2114.9,821.9 2112.8,824.1 2110.7,826.3 2108.7,828.5 2106.6,830.6 2104.5,832.8 2102.4,835.0 2100.3,837.1 2098.2,839.3 2096.1,841.5 2094.0,843.6 2091.9,845.7 2089.7,847.9 2087.6,850.1 2085.5,852.3 2083.5,854.4 2081.4,856.6 2079.2,858.7 2077.1,860.9 2075.0,863.0 2072.9,865.0 2070.7,867.1 2068.5,869.1 2066.3,871.1 2064.1,873.1 2061.9,875.1 2059.6,877.1 2057.3,879.0 2055.0,880.9 2052.7,882.8 2050.4,884.7 2048.1,886.7 2045.7,888.6 2043.4,890.5 2041.0,892.4 2038.7,894.4 2036.4,896.4 2034.1,898.4 2031.8,900.5 2029.5,902.6 2027.3,904.8 2025.2,907.0 2023.1,909.2 2021.0,911.4 2019.0,913.6 2016.9,915.8 2014.8,918.0 2012.8,920.1 2010.7,922.2 2008.5,924.2 2006.4,926.0 2004.3,927.6 2002.1,928.9 1999.6,929.9 1996.8,930.8 1993.9,931.8 1990.8,933.0 1987.8,934.5 1984.8,936.6 1982.2,939.4 1980.4,942.4 1979.0,945.2 1977.7,948.0 1976.5,950.7 1975.2,953.3 1973.9,955.5 1972.3,957.3 1970.2,959.1 1967.9,961.1 1965.6,963.0 1963.3,964.9 1961.0,966.8 1958.7,968.7 1956.4,970.6 1954.0,972.5 1951.7,974.4 1949.3,976.3 1947.0,978.2 1944.6,980.0 1942.3,981.8 1939.9,983.6 1937.6,985.2 1935.1,986.7 1932.5,988.2 1929.9,989.7 1927.3,991.2 1924.6,992.8 1922.0,994.4 1919.4,996.1 1916.9,997.9 1914.4,999.7 1911.9,1001.4 1909.5,1003.2 1907.0,1005.0 1904.6,1006.7 1902.2,1008.5 1899.7,1010.2 1897.3,1011.9 1894.8,1013.5 1892.3,1015.2 1889.8,1016.8 1887.2,1018.5 1884.6,1020.1 1882.1,1021.9 1879.6,1023.7 1877.1,1025.5 1874.6,1027.5 1872.2,1029.5 1869.9,1031.6 1867.7,1033.8 1865.6,1036.0 1863.5,1038.3 1861.4,1040.4 1859.4,1042.6 1857.3,1044.6 1855.1,1046.6 1852.9,1048.5 1850.6,1050.5 1848.4,1052.5 1846.1,1054.5 1843.8,1056.5 1841.5,1058.5 1839.3,1060.5 1837.0,1062.5 1834.7,1064.4 1832.7,1066.2 1830.7,1067.4 1828.4,1068.1 1825.7,1068.6 1822.6,1069.1 1819.2,1070.0 1816.1,1071.4 1813.4,1072.8 1810.6,1074.2 1807.9,1075.6 1805.3,1077.1 1802.6,1078.7 1799.9,1080.3 1797.3,1081.9 1794.7,1083.6 1792.2,1085.4 1789.7,1087.2 1787.2,1089.1 1784.8,1090.9 1782.4,1092.8 1780.1,1094.7 1777.7,1096.6 1775.4,1098.6 1773.0,1100.5 1770.7,1102.4 1768.4,1104.3 1766.0,1106.1 1763.7,1108.0 1761.3,1109.9 1759.0,1111.7 1756.6,1113.5 1754.2,1115.3 1751.7,1117.0 1749.3,1118.8 1746.9,1120.5 1744.4,1122.2 1742.0,1123.9 1739.5,1125.6 1737.0,1127.3 1734.5,1128.9 1732.0,1130.6 1729.5,1132.2 1726.9,1133.8 1724.4,1135.4 1721.8,1136.9 1719.3,1138.5" fill="#00BFC4" stroke="#00BFC4" stroke-width="2" stroke-linejoin="round"/>
<polyline points="1725.1,1130.7 1730.5,1126.8 1733.4,1122.2 1732.9,1114.9 1739.7,1112.6 1743.6,1108.1 1744.0,1100.7 1747.5,1095.7 1756.6,1091.3 1758.2,1084.8 1765.0,1082.5 1768.3,1077.3 1772.3,1072.9 1772.1,1065.2 1779.9,1064.3 1783.4,1059.2 1789.5,1051.9 1794.1,1047.6 1799.0,1040.0 1801.1,1033.8 1802.7,1027.5 1809.6,1025.2 1815.6,1019.3 1819.5,1015.3 1824.0,1011.8 1830.6,1006.3 1833.6,999.9 1843.0,994.6 1846.7,989.4 1852.1,982.3 1851.8,974.9 1857.8,968.9 1867.5,967.0 1872.8,963.7 1877.6,959.5 1882.8,955.6 1887.3,951.2 1891.3,946.5 1896.2,942.8 1900.3,938.5 1906.5,931.8 1907.2,924.0 1913.5,921.8 1918.8,919.0 1920.3,911.9 1927.3,911.1 1934.4,905.7 1937.5,899.7 1944.6,898.9 1947.8,893.1 1953.7,890.8 1961.5,885.9 1965.9,881.7 1973.3,876.1 1977.8,871.9 1979.6,864.5 1988.9,860.7 1992.8,856.2 1994.6,849.7 1999.5,846.5 2003.4,841.8 2012.7,839.0 2019.5,833.1 2024.1,829.2 2029.6,826.5 2033.6,822.1 2041.6,818.0 2044.5,811.5 2051.1,810.3 2057.7,803.7 2064.3,797.4 2071.5,797.2 2075.7,792.7 2081.3,790.2 2088.6,785.1 2095.1,778.8 2103.7,775.8 2109.6,768.0 2115.3,766.2 2120.4,763.2 2129.1,761.1 2135.3,762.0 2143.4,758.9 2151.9,757.8 2155.6,757.8 2157.8,757.8 2160.5,757.8 1727.5,1129.1 1732.7,1126.2 1737.6,1122.8 1742.4,1119.3 1747.1,1115.8 1754.5,1110.7 1759.4,1107.3 1766.9,1107.3 1769.9,1101.4 1773.7,1096.5 1779.9,1094.6 1785.2,1086.5 1792.5,1080.3 1799.5,1079.6 1803.7,1074.4 1811.6,1069.4 1819.5,1070.8 1825.1,1065.0 1831.8,1064.9 1835.0,1060.1 1839.0,1055.6 1845.1,1053.4 1850.3,1045.6 1855.0,1042.2 1862.8,1037.6 1865.0,1031.2 1875.1,1028.0 1877.5,1020.9 1882.6,1017.1 1889.3,1016.1 1895.5,1014.5 1903.1,1009.7 1907.8,1000.9 1912.3,996.8 1919.8,996.8 1927.1,990.8 1930.7,985.1 1937.9,980.7 1942.6,977.5 1949.1,976.0 1954.3,968.1 1960.9,962.0 1968.6,961.9 1969.8,954.7 1972.0,951.5 1979.4,945.4 1981.2,938.5 1989.6,930.2 1996.5,929.7 2000.9,926.4 2004.3,923.4 2010.2,921.7 2012.8,916.0 2016.4,911.1 2020.5,906.7 2025.0,902.5 2029.2,897.7 2036.1,896.1 2040.4,891.7 2043.3,885.7 2048.3,882.2 2055.4,881.4 2058.6,875.9 2062.3,871.1 2068.8,865.1 2072.3,860.2 2077.3,856.8 2083.1,854.1 2087.3,849.7 2091.2,845.1 2098.5,839.6 2103.5,836.0 2108.7,828.5 2112.7,819.9 2116.7,815.2 2121.2,811.2 2125.3,806.9 2129.0,802.4 2132.6,797.8 2137.6,794.2 2141.3,785.7 2146.6,779.0 2151.3,771.4 2155.5,764.4 2157.1,759.6 2160.5,757.8 2160.5,757.8 1982.8,847.6 1925.2,902.1 1903.4,919.4 1897.8,928.6 1873.0,949.9 1817.9,1003.3 1810.4,1013.9 2084.8,862.9 1976.9,957.4" fill="none" stroke="none" marker-start="url(#t)" marker-mid="url(#t)" marker-end="url(#t)"/>
<polygon points="1725.0,1143.3 1732.4,1136.3 1739.8,1129.4 1747.1,1122.5 1754.5,1115.7 1761.9,1108.8 1769.4,1102.0 1776.8,1095.2 1784.2,1088.3 1791.6,1081.6 1799.0,1074.8 1806.4,1068.0 1813.8,1061.3 1821.3,1054.6 1828.7,1047.9 1836.1,1041.2 1843.5,1034.5 1851.0,1027.8 1858.4,1021.2 1865.8,1014.6 1873.3,1008.0 1880.7,1001.4 1888.1,994.8 1895.6,988.2 1903.0,981.7 1910.4,975.1 1917.9,968.6 1925.3,962.1 1932.8,955.6 1940.2,949.2 1947.7,942.7 1955.1,936.3 1962.6,929.8 1970.0,923.4 1977.5,917.0 1984.9,910.6 1992.4,904.3 1999.8,897.9 2007.3,891.6 2014.7,885.2 2022.2,878.9 2029.6,872.6 2037.1,866.4 2044.5,860.1 2052.0,853.9 2059.5,847.6 2066.9,841.4 2074.4,835.2 2081.9,829.1 2089.3,822.9 2096.8,816.8 2104.3,810.6 2111.8,804.5 2119.2,798.4 2126.7,792.4 2134.2,786.3 2141.7,780.3 2149.2,774.2 2156.7,768.2 2164.2,762.2 2156.9,753.3 2149.5,759.4 2142.1,765.5 2134.7,771.7 2127.3,777.8 2119.9,784.0 2112.4,790.2 2105.0,796.4 2097.6,802.6 2090.2,808.8 2082.8,815.0 2075.3,821.2 2067.9,827.5 2060.5,833.7 2053.0,840.0 2045.6,846.3 2038.2,852.6 2030.7,858.9 2023.3,865.2 2015.9,871.5 2008.4,877.8 2001.0,884.2 1993.5,890.5 1986.1,896.9 1978.6,903.3 1971.2,909.7 1963.7,916.1 1956.3,922.6 1948.8,929.0 1941.4,935.4 1933.9,941.9 1926.5,948.4 1919.0,954.9 1911.6,961.4 1904.1,967.9 1896.7,974.4 1889.2,981.0 1881.7,987.5 1874.3,994.1 1866.8,1000.7 1859.4,1007.3 1851.9,1013.9 1844.4,1020.5 1837.0,1027.1 1829.5,1033.8 1822.0,1040.4 1814.5,1047.1 1807.1,1053.8 1799.6,1060.5 1792.1,1067.2 1784.6,1073.9 1777.1,1080.6 1769.7,1087.4 1762.2,1094.1 1754.7,1100.9 1747.2,1107.6 1739.7,1114.4 1732.2,1121.2 1724.7,1128.0 1717.2,1134.8" fill="#F8766D"/>
<circle cx="1721.07" cy="1139.04" r="5.45" fill="#F8766D"/><circle cx="2160.53" cy="757.76" r="5.45" fill="#F8766D"/>
</g>
<rect x="1700.20" y="739.80" width="481.20" height="417.20" fill="none" stroke="#333" stroke-width="2.2"/>
<path d="M1720.93 1158.10v11.46M1884.43 1158.10v11.46M2048.22 1158.10v11.46" stroke="#333" stroke-width="4.45" fill="none"/>
<rect x="2206.50" y="668.30" width="481.20" height="69.30" fill="#D9D9D9" stroke="#333" stroke-width="2.2"/>
<clipPath id="c10"><rect x="2205.40" y="738.70" width="483.40" height="419.40"/></clipPath>
<g clip-path="url(#c10)">
<polygon points="2228.8,1135.9 2230.0,1133.0 2231.1,1130.3 2232.3,1127.6 2233.6,1124.9 2234.8,1122.4 2236.3,1119.9 2237.8,1117.4 2239.4,1114.9 2241.1,1112.5 2242.9,1110.1 2244.6,1107.7 2246.5,1105.3 2248.3,1102.9 2250.1,1100.6 2252.0,1098.3 2253.9,1096.0 2255.9,1093.6 2257.8,1091.2 2259.7,1088.8 2261.5,1086.4 2263.4,1084.0 2265.2,1081.5 2267.0,1079.1 2268.9,1076.7 2270.7,1074.3 2272.5,1071.8 2274.3,1069.4 2276.1,1067.1 2277.9,1064.8 2279.8,1062.5 2281.8,1060.3 2283.8,1058.1 2285.9,1055.9 2287.9,1053.7 2290.0,1051.3 2292.0,1048.9 2294.0,1046.5 2295.8,1044.0 2297.6,1041.5 2299.3,1039.1 2301.1,1036.7 2303.0,1034.4 2304.8,1032.1 2306.7,1029.7 2308.6,1027.4 2310.6,1025.1 2312.5,1022.7 2314.4,1020.4 2316.4,1018.1 2318.3,1015.8 2320.3,1013.5 2322.2,1011.3 2324.2,1008.9 2326.2,1006.6 2328.2,1004.3 2330.1,1002.0 2332.1,999.7 2334.0,997.4 2336.0,995.2 2338.0,993.0 2340.0,990.9 2342.0,988.8 2344.2,986.8 2346.4,984.9 2348.7,982.9 2351.0,980.9 2353.3,978.9 2355.5,976.9 2357.8,974.9 2360.1,972.9 2362.4,970.9 2364.7,968.9 2367.1,966.8 2369.3,964.4 2371.4,962.0 2373.3,959.6 2375.2,957.1 2377.0,954.8 2378.8,952.5 2380.7,950.3 2382.6,948.3 2384.8,946.5 2387.1,944.5 2389.4,942.6 2391.7,940.8 2394.0,938.9 2396.4,937.0 2398.8,935.2 2401.2,933.3 2403.6,931.5 2406.0,929.6 2408.4,927.7 2410.7,925.8 2413.1,923.9 2415.5,922.1 2417.8,920.2 2420.2,918.4 2422.6,916.5 2425.0,914.6 2427.4,912.7 2429.8,910.8 2432.2,908.9 2434.5,907.0 2436.9,905.0 2439.3,902.9 2441.6,900.4 2443.6,897.8 2445.4,895.2 2447.1,892.6 2448.7,890.1 2450.4,887.6 2452.0,885.2 2453.7,883.0 2455.5,881.1 2457.6,879.4 2459.8,877.7 2462.3,876.1 2464.8,874.6 2467.3,873.1 2470.0,871.6 2472.7,870.0 2475.4,868.3 2478.0,866.5 2480.5,864.4 2482.9,862.3 2485.1,860.1 2487.3,857.9 2489.4,855.7 2491.5,853.5 2493.5,851.3 2495.6,849.1 2497.7,847.1 2499.8,845.1 2501.9,843.3 2504.2,841.6 2506.6,840.0 2509.1,838.5 2511.7,837.1 2514.3,835.7 2517.0,834.2 2519.7,832.6 2522.4,830.9 2524.9,829.2 2527.4,827.4 2529.9,825.7 2532.4,823.9 2534.9,822.1 2537.3,820.4 2539.8,818.6 2542.3,816.9 2544.7,815.2 2547.2,813.5 2549.6,811.8 2552.1,810.1 2554.7,808.5 2557.2,807.0 2559.8,805.4 2562.3,803.9 2564.9,802.4 2567.5,800.9 2570.2,799.3 2572.8,797.8 2575.4,796.3 2578.0,794.7 2580.6,793.1 2583.2,791.6 2585.8,790.0 2588.4,788.4 2591.0,786.8 2593.6,785.2 2596.1,783.7 2598.7,782.1 2601.3,780.6 2603.9,779.1 2606.5,777.7 2609.1,776.2 2611.8,774.8 2614.4,773.3 2617.1,771.9 2619.7,770.6 2622.4,769.2 2625.1,767.9 2627.8,766.7 2630.5,765.5 2633.2,764.3 2635.9,763.2 2638.7,762.2 2641.5,761.2 2644.3,760.3 2647.1,759.5 2649.9,758.8 2652.8,758.1 2655.7,757.5 2658.8,756.9 2661.5,756.0 2664.0,755.8 2666.8,755.8 2668.8,752.5 2668.4,755.4 2667.9,758.2 2667.3,761.0 2666.5,763.7 2665.6,766.3 2664.5,769.0 2663.3,771.5 2661.9,774.1 2660.4,776.6 2658.9,779.3 2657.4,781.9 2655.9,784.4 2654.4,786.8 2652.7,789.2 2650.9,791.6 2649.2,794.1 2647.4,796.5 2645.7,798.9 2643.9,801.3 2642.0,803.7 2640.2,806.0 2638.4,808.3 2636.5,810.6 2634.5,812.8 2632.6,815.0 2630.5,817.2 2628.5,819.4 2626.4,821.6 2624.3,823.8 2622.3,826.1 2620.2,828.3 2618.2,830.6 2616.2,832.8 2614.1,835.0 2612.1,837.2 2610.0,839.4 2608.0,841.6 2605.9,843.8 2603.9,846.0 2601.8,848.1 2599.7,850.3 2597.6,852.4 2595.5,854.5 2593.3,856.6 2591.1,858.7 2589.0,860.9 2586.9,863.0 2584.7,865.2 2582.6,867.3 2580.5,869.5 2578.4,871.6 2576.2,873.7 2574.1,875.8 2572.0,877.9 2569.8,879.9 2567.6,882.0 2565.4,884.0 2563.2,886.0 2561.0,888.1 2558.7,890.1 2556.5,892.1 2554.2,894.1 2552.0,896.1 2549.7,898.1 2547.5,900.1 2545.2,902.1 2543.0,904.2 2540.7,906.2 2538.5,908.2 2536.2,910.2 2534.0,912.2 2531.7,914.3 2529.5,916.3 2527.3,918.3 2525.0,920.3 2522.8,922.3 2520.5,924.4 2518.3,926.4 2516.0,928.4 2513.8,930.4 2511.6,932.4 2509.3,934.5 2507.1,936.5 2504.8,938.5 2502.6,940.5 2500.3,942.5 2498.1,944.5 2495.8,946.5 2493.6,948.6 2491.3,950.6 2489.1,952.6 2486.8,954.7 2484.6,956.7 2482.3,958.8 2480.1,961.0 2478.0,963.2 2475.9,965.4 2473.8,967.6 2471.7,969.8 2469.7,971.9 2467.6,974.0 2465.5,976.1 2463.3,978.1 2461.2,980.0 2458.9,981.8 2456.6,983.5 2454.2,985.2 2451.7,986.9 2449.2,988.5 2446.7,990.1 2444.2,991.8 2441.6,993.4 2439.0,995.2 2436.5,997.0 2434.0,998.8 2431.6,1000.7 2429.2,1002.6 2426.8,1004.5 2424.5,1006.4 2422.1,1008.2 2419.8,1010.1 2417.4,1012.0 2415.1,1013.9 2412.7,1015.8 2410.4,1017.7 2408.0,1019.6 2405.7,1021.5 2403.3,1023.4 2401.0,1025.3 2398.6,1027.2 2396.3,1029.1 2393.9,1031.0 2391.6,1032.9 2389.2,1034.8 2386.9,1036.7 2384.5,1038.5 2382.2,1040.4 2379.8,1042.2 2377.4,1044.1 2375.1,1045.8 2372.7,1047.6 2370.2,1049.3 2367.8,1051.0 2365.3,1052.7 2362.8,1054.4 2360.3,1056.1 2357.8,1057.8 2355.3,1059.5 2352.8,1061.2 2350.3,1063.0 2347.8,1064.7 2345.4,1066.4 2342.9,1068.2 2340.4,1069.9 2337.9,1071.6 2335.5,1073.4 2333.0,1075.1 2330.5,1076.8 2328.1,1078.6 2325.6,1080.3 2323.1,1082.0 2320.6,1083.8 2318.2,1085.5 2315.7,1087.2 2313.2,1088.9 2310.7,1090.7 2308.3,1092.4 2305.8,1094.1 2303.3,1095.9 2300.9,1097.6 2298.4,1099.3 2295.9,1101.1 2293.4,1102.8 2290.9,1104.6 2288.5,1106.3 2286.0,1108.1 2283.6,1109.9 2281.1,1111.6 2278.7,1113.4 2276.2,1115.1 2273.8,1116.8 2271.3,1118.5 2268.8,1120.1 2266.3,1121.7 2263.8,1123.3 2261.3,1124.8 2258.7,1126.3 2256.1,1127.7 2253.5,1129.1 2250.9,1130.5 2248.2,1131.8 2245.5,1133.0 2242.9,1134.3 2240.1,1135.4 2237.4,1136.6 2234.6,1137.7 2231.9,1138.7 2229.1,1139.7 2226.2,1140.7" fill="#00BFC4" stroke="#00BFC4" stroke-width="2" stroke-linejoin="round"/>
<polyline points="2235.6,1129.1 2236.2,1123.1 2241.0,1119.4 2243.9,1114.5 2247.5,1109.8 2248.3,1103.0 2254.6,1100.4 2260.9,1093.7 2265.7,1085.7 2265.7,1078.1 2269.4,1073.3 2275.1,1070.1 2280.0,1066.5 2284.0,1062.3 2285.1,1055.2 2294.7,1051.1 2300.0,1043.2 2301.8,1033.4 2309.8,1032.2 2313.5,1027.5 2314.6,1020.6 2320.8,1017.9 2322.1,1011.1 2329.2,1009.1 2332.8,1004.3 2333.0,996.5 2340.8,995.6 2341.0,987.7 2348.6,987.4 2353.3,983.5 2360.0,977.4 2364.6,973.5 2369.8,969.6 2374.0,964.2 2377.4,958.9 2383.2,952.7 2386.9,949.0 2393.9,943.5 2398.4,939.6 2402.7,930.4 2410.5,930.5 2417.8,925.1 2422.5,921.3 2426.7,916.8 2431.8,913.3 2436.4,909.3 2444.0,902.4 2447.8,896.8 2451.9,892.1 2453.0,885.9 2457.9,883.6 2462.1,880.9 2468.9,875.8 2472.1,869.2 2480.1,864.0 2487.1,862.1 2494.2,856.0 2498.2,847.7 2505.9,844.0 2510.5,841.0 2516.1,838.9 2521.6,829.8 2532.0,828.6 2534.3,821.3 2540.3,819.3 2545.2,815.8 2553.7,812.6 2556.4,805.8 2562.6,804.4 2570.5,799.9 2579.6,797.3 2584.8,794.1 2588.2,788.0 2597.6,786.1 2603.9,779.1 2608.5,775.0 2618.7,775.2 2626.4,770.7 2630.1,764.6 2635.8,762.9 2642.5,764.3 2647.9,762.4 2653.5,761.3 2659.1,757.8 2662.1,757.8 2664.1,757.8 2666.8,757.8 2231.6,1138.0 2238.9,1132.5 2244.3,1130.4 2249.2,1127.1 2255.7,1126.9 2259.5,1121.7 2267.2,1117.6 2272.1,1114.3 2280.7,1111.1 2284.4,1105.8 2291.5,1100.2 2298.9,1100.1 2304.0,1091.6 2311.5,1086.4 2317.3,1084.3 2321.5,1079.8 2328.7,1074.2 2333.6,1070.7 2341.0,1065.5 2348.3,1060.1 2353.8,1057.2 2361.0,1057.1 2367.7,1051.0 2375.4,1046.3 2380.2,1037.9 2387.3,1037.2 2392.2,1028.9 2396.4,1024.5 2404.8,1020.4 2408.2,1015.1 2414.4,1013.1 2417.8,1007.7 2422.4,1003.7 2429.7,1003.2 2434.6,994.3 2439.9,990.9 2445.1,987.7 2449.6,983.7 2457.2,984.4 2459.4,977.9 2464.8,971.2 2469.2,967.4 2476.5,966.0 2477.7,958.5 2482.0,954.0 2491.9,951.3 2493.3,943.7 2499.9,942.0 2502.8,936.2 2511.3,932.1 2514.3,926.4 2520.4,919.8 2527.5,914.1 2533.6,907.3 2542.2,903.3 2547.8,900.5 2550.0,893.8 2554.4,889.8 2561.7,888.9 2563.5,881.9 2569.6,875.5 2573.6,871.0 2578.2,867.2 2582.1,862.5 2586.8,858.7 2592.9,856.2 2595.7,850.5 2600.8,847.2 2608.9,842.4 2611.4,832.5 2618.5,830.9 2621.5,821.3 2627.9,814.7 2632.5,811.0 2637.2,803.7 2641.3,799.4 2648.4,793.5 2651.2,784.6 2655.9,777.5 2663.5,771.7 2664.5,765.9 2666.7,760.8 2666.8,757.8 2445.8,878.3 2468.1,987.9 2416.1,1021.4" fill="none" stroke="none" marker-start="url(#t)" marker-mid="url(#t)" marker-end="url(#t)"/>
<polygon points="2231.2,1143.3 2238.6,1136.6 2245.9,1130.0 2253.3,1123.3 2260.7,1116.6 2268.1,1110.0 2275.5,1103.3 2282.9,1096.7 2290.3,1090.1 2297.7,1083.4 2305.1,1076.8 2312.5,1070.2 2319.9,1063.6 2327.4,1057.1 2334.8,1050.5 2342.2,1043.9 2349.6,1037.3 2357.1,1030.8 2364.5,1024.2 2371.9,1017.7 2379.3,1011.2 2386.8,1004.7 2394.2,998.1 2401.7,991.6 2409.1,985.1 2416.5,978.6 2424.0,972.2 2431.4,965.7 2438.9,959.2 2446.3,952.7 2453.8,946.3 2461.2,939.8 2468.7,933.4 2476.1,926.9 2483.6,920.5 2491.0,914.1 2498.5,907.6 2505.9,901.2 2513.4,894.8 2520.8,888.4 2528.3,882.0 2535.8,875.6 2543.2,869.3 2550.7,862.9 2558.2,856.5 2565.6,850.2 2573.1,843.8 2580.6,837.5 2588.1,831.2 2595.6,824.9 2603.0,818.5 2610.5,812.2 2618.0,806.0 2625.5,799.7 2633.0,793.4 2640.5,787.1 2648.0,780.9 2655.5,774.6 2663.0,768.4 2670.5,762.1 2663.1,753.4 2655.7,759.8 2648.3,766.2 2641.0,772.5 2633.6,778.9 2626.2,785.3 2618.8,791.7 2611.4,798.1 2604.0,804.5 2596.5,810.9 2589.1,817.3 2581.7,823.7 2574.3,830.1 2566.9,836.6 2559.5,843.0 2552.0,849.4 2544.6,855.8 2537.2,862.2 2529.7,868.6 2522.3,875.1 2514.9,881.5 2507.4,887.9 2500.0,894.4 2492.6,900.8 2485.1,907.2 2477.7,913.7 2470.2,920.1 2462.8,926.6 2455.3,933.0 2447.9,939.5 2440.4,945.9 2433.0,952.4 2425.5,958.9 2418.1,965.4 2410.6,971.8 2403.2,978.3 2395.7,984.8 2388.3,991.3 2380.8,997.8 2373.3,1004.3 2365.9,1010.8 2358.4,1017.3 2350.9,1023.8 2343.5,1030.3 2336.0,1036.8 2328.5,1043.3 2321.0,1049.9 2313.6,1056.4 2306.1,1062.9 2298.6,1069.4 2291.1,1075.9 2283.6,1082.5 2276.1,1089.0 2268.6,1095.5 2261.1,1102.1 2253.6,1108.6 2246.1,1115.1 2238.6,1121.7 2231.1,1128.2 2223.6,1134.7" fill="#F8766D"/>
<circle cx="2227.37" cy="1139.04" r="5.45" fill="#F8766D"/><circle cx="2666.83" cy="757.76" r="5.45" fill="#F8766D"/>
</g>
<rect x="2206.50" y="739.80" width="481.20" height="417.20" fill="none" stroke="#333" stroke-width="2.2"/>
<path d="M2226.93 1158.10v11.46M2363.88 1158.10v11.46M2500.28 1158.10v11.46M2636.95 1158.10v11.46" stroke="#333" stroke-width="4.45" fill="none"/>
<rect x="181.30" y="1237.70" width="481.20" height="69.30" fill="#D9D9D9" stroke="#333" stroke-width="2.2"/>
<clipPath id="c11"><rect x="180.20" y="1308.10" width="483.40" height="419.40"/></clipPath>
<g clip-path="url(#c11)">
<polygon points="200.7,1708.3 200.8,1705.3 201.0,1702.3 201.2,1699.3 201.4,1696.3 201.6,1693.3 201.8,1690.3 202.0,1687.3 202.2,1684.3 202.5,1681.3 202.7,1678.3 203.0,1675.3 203.2,1672.3 203.5,1669.3 203.8,1666.4 204.1,1663.4 204.4,1660.4 204.7,1657.4 205.1,1654.4 205.4,1651.5 205.8,1648.5 206.2,1645.5 206.6,1642.6 207.0,1639.6 207.5,1636.6 208.0,1633.7 208.4,1630.7 208.9,1627.8 209.4,1624.8 209.9,1621.8 210.5,1618.9 211.0,1615.9 211.5,1613.0 212.1,1610.1 212.7,1607.1 213.3,1604.2 214.0,1601.3 214.6,1598.4 215.3,1595.5 216.0,1592.6 216.8,1589.8 217.6,1586.9 218.5,1584.1 219.4,1581.2 220.3,1578.4 221.2,1575.5 222.1,1572.6 223.0,1569.8 224.0,1566.9 224.9,1564.1 225.9,1561.2 226.8,1558.4 227.8,1555.6 228.8,1552.7 229.8,1549.9 230.8,1547.1 231.9,1544.3 232.9,1541.5 234.0,1538.7 235.0,1535.9 236.1,1533.1 237.2,1530.3 238.4,1527.5 239.5,1524.7 240.6,1521.9 241.8,1519.2 242.9,1516.4 244.0,1513.5 245.2,1510.7 246.3,1507.9 247.4,1505.1 248.5,1502.3 249.6,1499.5 250.7,1496.7 251.8,1493.9 252.9,1491.1 254.1,1488.4 255.2,1485.6 256.4,1482.8 257.5,1480.0 258.7,1477.3 259.9,1474.5 261.0,1471.7 262.2,1469.0 263.5,1466.3 264.7,1463.6 266.0,1461.0 267.4,1458.4 268.8,1455.8 270.3,1453.2 271.8,1450.6 273.3,1448.1 274.9,1445.6 276.5,1443.2 278.2,1440.8 279.9,1438.5 281.7,1436.4 283.7,1434.3 285.7,1432.3 287.9,1430.3 290.1,1428.2 292.4,1426.1 294.6,1423.9 296.8,1421.7 298.9,1419.4 300.9,1417.0 302.8,1414.6 304.7,1412.3 306.6,1410.0 308.5,1407.7 310.4,1405.5 312.4,1403.3 314.4,1401.3 316.5,1399.2 318.7,1397.1 320.8,1395.1 323.0,1393.1 325.3,1391.1 327.5,1389.2 329.8,1387.3 332.1,1385.5 334.5,1383.7 336.8,1382.0 339.3,1380.3 341.7,1378.6 344.2,1376.9 346.7,1375.3 349.2,1373.8 351.7,1372.3 354.3,1370.9 356.9,1369.6 359.5,1368.3 362.1,1367.1 364.8,1366.0 367.6,1364.9 370.4,1363.8 373.2,1362.8 376.0,1361.7 378.9,1360.7 381.7,1359.6 384.6,1358.5 387.4,1357.3 390.2,1356.2 393.0,1355.0 395.8,1353.8 398.5,1352.7 401.3,1351.5 404.1,1350.4 406.8,1349.3 409.6,1348.3 412.4,1347.3 415.2,1346.3 418.1,1345.4 420.9,1344.4 423.8,1343.4 426.6,1342.5 429.5,1341.7 432.3,1340.9 435.1,1340.1 438.0,1339.4 440.8,1338.8 443.7,1338.3 446.6,1337.8 449.5,1337.3 452.5,1336.9 455.5,1336.5 458.4,1336.1 461.4,1335.7 464.4,1335.3 467.4,1334.9 470.4,1334.4 473.4,1334.0 476.4,1333.6 479.4,1333.2 482.3,1332.8 485.3,1332.4 488.3,1332.1 491.3,1331.7 494.2,1331.3 497.2,1331.0 500.2,1330.7 503.2,1330.3 506.2,1330.0 509.2,1329.7 512.2,1329.4 515.2,1329.1 518.1,1328.8 521.1,1328.6 524.1,1328.3 527.1,1328.1 530.1,1327.9 533.1,1327.7 536.1,1327.5 539.1,1327.3 542.1,1327.2 545.1,1327.0 548.1,1326.9 551.0,1326.7 554.1,1326.6 557.1,1326.5 560.1,1326.4 563.1,1326.3 566.1,1326.2 569.1,1326.1 572.1,1326.0 575.1,1326.0 578.1,1325.9 581.1,1325.9 584.1,1325.8 587.1,1325.8 590.1,1325.7 593.1,1325.7 596.1,1325.7 599.1,1325.6 602.1,1325.6 605.1,1325.6 608.2,1325.6 611.2,1325.6 614.2,1325.6 617.2,1325.6 620.2,1325.6 623.2,1325.6 626.2,1325.6 629.2,1325.6 632.3,1325.6 635.3,1325.6 638.3,1325.6 641.3,1325.6 643.4,1327.1 643.4,1330.2 643.4,1333.2 643.4,1336.2 643.4,1339.2 643.4,1342.3 643.4,1345.3 643.4,1348.3 643.4,1351.3 643.4,1354.4 643.4,1357.4 643.4,1360.4 643.4,1363.4 643.4,1366.4 643.3,1369.4 643.3,1372.5 643.2,1375.5 643.2,1378.5 643.1,1381.5 643.1,1384.5 643.0,1387.6 642.9,1390.6 642.8,1393.6 642.8,1396.6 642.6,1399.6 642.5,1402.6 642.3,1405.6 642.1,1408.6 641.9,1411.6 641.7,1414.6 641.4,1417.6 641.2,1420.6 640.9,1423.6 640.6,1426.6 640.4,1429.6 640.1,1432.6 639.8,1435.6 639.5,1438.6 639.3,1441.6 639.0,1444.6 638.6,1447.6 638.3,1450.6 638.0,1453.6 637.6,1456.6 637.2,1459.6 636.8,1462.6 636.4,1465.5 636.0,1468.5 635.5,1471.4 635.0,1474.3 634.5,1477.3 633.9,1480.2 633.2,1483.1 632.6,1486.0 631.8,1488.9 631.1,1491.8 630.3,1494.7 629.5,1497.6 628.7,1500.4 627.8,1503.2 626.9,1506.0 625.8,1508.8 624.8,1511.5 623.6,1514.3 622.5,1517.1 621.3,1519.8 620.0,1522.5 618.8,1525.3 617.5,1528.0 616.2,1530.6 614.9,1533.3 613.5,1535.9 612.1,1538.6 610.6,1541.2 609.1,1543.8 607.6,1546.3 606.0,1548.9 604.4,1551.4 602.8,1553.8 601.2,1556.3 599.5,1558.7 597.7,1561.2 595.9,1563.6 594.1,1565.9 592.3,1568.3 590.4,1570.6 588.5,1572.8 586.5,1575.0 584.5,1577.2 582.5,1579.3 580.4,1581.4 578.2,1583.5 576.1,1585.6 573.9,1587.7 571.7,1589.7 569.5,1591.8 567.3,1593.8 565.1,1595.9 562.8,1597.9 560.6,1599.9 558.3,1601.9 556.1,1603.8 553.8,1605.7 551.5,1607.6 549.2,1609.5 546.8,1611.3 544.4,1613.1 542.0,1614.8 539.6,1616.6 537.1,1618.3 534.7,1620.0 532.2,1621.7 529.7,1623.4 527.2,1625.1 524.7,1626.7 522.2,1628.4 519.6,1630.0 517.1,1631.6 514.6,1633.2 512.0,1634.8 509.4,1636.4 506.9,1637.9 504.3,1639.5 501.7,1641.0 499.1,1642.5 496.5,1644.0 493.9,1645.4 491.2,1646.9 488.6,1648.3 485.9,1649.8 483.2,1651.2 480.6,1652.6 477.9,1654.0 475.3,1655.3 472.6,1656.6 469.9,1657.8 467.2,1658.9 464.5,1659.9 461.8,1660.8 459.0,1661.7 456.1,1662.6 453.2,1663.4 450.3,1664.2 447.4,1665.0 444.5,1665.8 441.5,1666.7 438.6,1667.5 435.7,1668.4 432.8,1669.3 429.9,1670.2 427.0,1671.1 424.1,1672.0 421.2,1672.9 418.3,1673.7 415.4,1674.6 412.6,1675.4 409.7,1676.2 406.8,1677.0 403.9,1677.7 401.0,1678.4 398.0,1679.2 395.1,1679.9 392.2,1680.6 389.2,1681.3 386.3,1682.0 383.3,1682.8 380.4,1683.5 377.4,1684.2 374.5,1685.0 371.6,1685.8 368.6,1686.5 365.7,1687.3 362.8,1688.0 359.9,1688.7 357.0,1689.4 354.1,1690.0 351.1,1690.7 348.2,1691.3 345.2,1691.9 342.3,1692.5 339.3,1693.1 336.4,1693.7 333.4,1694.2 330.4,1694.8 327.5,1695.3 324.5,1695.9 321.5,1696.4 318.6,1697.0 315.6,1697.5 312.6,1698.1 309.6,1698.6 306.7,1699.1 303.7,1699.6 300.7,1700.1 297.8,1700.6 294.8,1701.1 291.8,1701.5 288.9,1701.9 285.9,1702.3 282.9,1702.7 279.9,1703.0 276.9,1703.4 273.9,1703.7 270.9,1704.0 267.9,1704.4 264.9,1704.7 261.9,1704.9 258.9,1705.2 255.9,1705.5 252.9,1705.8 249.9,1706.0 246.9,1706.3 243.9,1706.5 240.9,1706.8 237.9,1707.0 234.9,1707.2 231.9,1707.5 228.9,1707.7 225.8,1707.9 222.8,1708.1 219.8,1708.3 216.8,1708.5 213.8,1708.7 210.8,1708.9 207.8,1709.0 204.8,1709.2 201.7,1709.3" fill="#00BFC4" stroke="#00BFC4" stroke-width="2" stroke-linejoin="round"/>
<polyline points="202.2,1708.4 202.2,1705.4 202.2,1702.4 202.2,1699.4 202.2,1696.4 202.2,1693.4 204.1,1690.5 203.8,1684.4 205.2,1678.5 204.3,1672.4 206.4,1666.6 206.9,1660.7 207.9,1654.8 209.0,1648.9 210.1,1643.1 209.1,1636.9 212.2,1631.3 213.3,1625.5 214.3,1619.6 214.3,1613.5 216.3,1607.9 217.3,1602.0 216.3,1595.8 220.0,1590.7 221.1,1584.9 221.1,1578.6 225.6,1573.8 225.0,1567.3 228.6,1562.1 231.4,1556.8 230.2,1550.0 235.3,1545.5 237.3,1539.9 236.0,1533.0 240.9,1528.5 243.6,1523.2 244.3,1516.9 248.4,1512.0 248.0,1505.4 253.3,1501.0 255.2,1495.3 255.2,1488.8 257.1,1483.1 261.5,1478.4 262.1,1472.2 264.6,1466.8 269.0,1462.5 269.4,1456.1 275.1,1452.6 278.2,1447.7 280.6,1442.5 283.9,1438.3 286.7,1433.4 292.8,1431.1 296.8,1426.1 301.2,1421.4 305.3,1416.6 306.5,1409.9 312.4,1407.2 317.0,1403.8 321.0,1399.6 325.2,1395.5 329.5,1391.5 334.3,1388.3 339.1,1385.1 342.2,1379.3 348.6,1378.4 353.5,1375.4 358.6,1373.0 363.4,1370.0 368.1,1366.2 374.5,1366.2 379.2,1361.6 385.8,1361.5 391.7,1359.7 397.1,1356.9 402.6,1354.8 408.0,1352.2 413.5,1350.6 419.0,1348.2 424.7,1346.4 430.5,1345.3 435.9,1343.0 441.5,1342.5 446.6,1338.0 452.7,1338.1 458.4,1336.0 464.6,1336.4 470.6,1335.5 476.9,1337.2 482.8,1336.6 488.7,1335.6 494.3,1331.6 500.5,1333.3 506.5,1333.0 512.4,1331.8 518.4,1331.5 524.3,1331.1 530.2,1329.7 536.2,1329.4 542.2,1329.5 548.1,1328.7 554.1,1327.2 557.1,1327.2 560.1,1327.2 563.1,1327.2 566.1,1327.2 569.1,1327.2 572.1,1327.2 575.1,1327.2 578.1,1327.2 581.1,1327.2 584.1,1327.2 587.1,1327.2 590.1,1327.2 593.1,1327.2 596.1,1327.2 599.2,1327.2 602.2,1327.2 605.1,1327.2 608.2,1327.2 611.2,1327.2 614.2,1327.2 617.2,1327.2 620.2,1327.2 623.2,1327.2 626.2,1327.2 629.2,1327.2 632.3,1327.2 635.3,1327.2 638.3,1327.2 641.3,1327.2 202.2,1708.4 204.6,1708.4 207.7,1708.4 210.7,1707.3 216.7,1706.3 222.7,1705.9 228.7,1705.2 234.8,1706.0 240.7,1704.0 246.7,1703.7 252.7,1703.4 258.7,1702.8 264.8,1703.1 270.6,1701.1 276.6,1700.5 282.5,1699.3 288.8,1701.3 294.4,1698.2 300.2,1697.2 306.0,1695.3 311.9,1694.2 317.9,1693.7 323.8,1692.3 329.8,1691.1 335.6,1689.9 341.7,1689.8 347.6,1688.5 353.5,1687.4 359.1,1685.4 365.0,1684.5 370.8,1682.7 377.5,1684.3 383.2,1682.1 389.3,1681.4 394.5,1677.3 400.2,1675.3 405.9,1673.5 411.5,1671.7 417.9,1672.4 423.3,1669.3 429.7,1669.6 434.8,1665.7 440.6,1663.5 446.6,1662.2 452.4,1660.6 457.9,1658.4 463.3,1656.4 468.6,1654.7 473.9,1652.4 480.7,1652.9 484.2,1646.7 489.8,1644.3 494.7,1640.7 499.8,1637.7 506.8,1637.8 510.3,1632.1 516.4,1630.5 520.4,1625.6 526.7,1624.4 530.2,1618.7 535.5,1616.0 540.2,1612.3 544.4,1608.2 551.2,1607.3 554.0,1601.4 558.6,1597.6 564.2,1595.0 568.8,1591.0 571.6,1585.2 575.8,1581.0 579.7,1576.6 584.0,1572.8 587.7,1568.3 591.4,1563.8 594.6,1558.8 601.5,1556.5 603.1,1550.5 605.1,1544.8 608.2,1539.8 610.4,1534.3 612.8,1528.9 615.6,1523.8 618.8,1518.7 622.9,1514.0 623.0,1507.7 625.3,1502.4 625.9,1496.5 627.5,1490.9 631.4,1485.8 634.0,1480.2 635.3,1474.4 636.1,1468.5 634.0,1462.2 634.8,1456.2 635.9,1450.3 635.9,1444.3 638.5,1438.5 638.4,1432.5 638.1,1426.4 638.6,1420.3 639.4,1414.4 641.6,1408.4 641.6,1405.4 641.6,1402.4 641.6,1399.5 641.6,1396.5 641.6,1393.5 641.6,1390.5 641.6,1387.5 641.6,1384.5 641.6,1381.5 641.6,1378.5 641.6,1375.5 641.6,1372.4 641.6,1369.4 641.6,1366.4 641.6,1363.4 641.6,1360.4 641.6,1357.4 641.6,1354.4 641.6,1351.3 641.6,1348.3 641.6,1345.3 641.6,1342.3 641.6,1339.2 641.6,1336.2 641.6,1333.2 641.6,1330.2 641.6,1327.2 287.2,1426.9 584.8,1587.6 473.0,1661.1" fill="none" stroke="none" marker-start="url(#t)" marker-mid="url(#t)" marker-end="url(#t)"/>
<polygon points="206.0,1712.7 208.7,1710.3 211.5,1707.8 214.3,1705.4 217.0,1702.9 219.8,1700.5 222.6,1698.0 225.3,1695.5 228.1,1693.0 230.8,1690.5 233.6,1688.1 236.4,1685.6 239.1,1683.1 241.9,1680.6 244.6,1678.1 247.4,1675.6 250.2,1673.1 252.9,1670.6 255.7,1668.0 258.5,1665.5 261.3,1662.9 264.0,1660.3 266.8,1657.7 269.6,1655.1 272.3,1652.5 275.1,1649.9 277.9,1647.3 280.6,1644.7 283.4,1642.1 286.2,1639.5 288.9,1636.9 291.7,1634.3 294.4,1631.7 297.2,1629.1 299.9,1626.5 302.7,1624.0 305.4,1621.4 308.2,1618.9 310.9,1616.4 313.7,1613.9 316.4,1611.4 319.2,1609.0 321.9,1606.6 324.6,1604.2 327.4,1601.8 330.2,1599.4 332.9,1597.0 335.7,1594.6 338.4,1592.2 341.2,1589.8 344.0,1587.5 346.7,1585.1 349.5,1582.7 352.3,1580.3 355.0,1577.9 357.8,1575.5 360.5,1573.2 363.3,1570.8 366.1,1568.4 368.8,1566.0 371.6,1563.7 374.4,1561.3 377.1,1558.9 379.9,1556.6 382.6,1554.2 385.4,1551.8 388.2,1549.5 390.9,1547.1 393.7,1544.8 396.4,1542.5 399.1,1540.3 401.8,1538.1 404.6,1535.9 407.3,1533.8 410.1,1531.6 412.8,1529.5 415.6,1527.3 418.4,1525.1 421.2,1522.8 424.0,1520.5 426.8,1518.2 429.6,1515.9 432.4,1513.5 435.1,1511.2 437.9,1508.8 440.7,1506.5 443.4,1504.1 446.2,1501.8 449.0,1499.4 451.7,1497.1 454.5,1494.7 457.3,1492.3 460.0,1490.0 462.8,1487.6 465.6,1485.3 468.3,1482.9 471.1,1480.5 473.8,1478.2 476.6,1475.8 479.4,1473.4 482.1,1471.1 484.9,1468.7 487.7,1466.4 490.4,1464.0 493.2,1461.6 496.0,1459.2 498.7,1456.9 501.5,1454.5 504.3,1452.1 507.0,1449.8 509.8,1447.4 512.6,1445.0 515.3,1442.7 518.1,1440.3 520.9,1437.9 523.6,1435.6 526.4,1433.2 529.1,1430.9 531.9,1428.5 534.7,1426.1 537.4,1423.8 540.2,1421.4 543.0,1419.1 545.7,1416.8 548.5,1414.4 551.2,1412.1 554.0,1409.8 556.8,1407.4 559.5,1405.1 562.3,1402.8 565.1,1400.4 567.8,1398.1 570.6,1395.8 573.4,1393.4 576.2,1391.1 578.9,1388.7 581.7,1386.4 584.5,1384.0 587.2,1381.7 590.0,1379.3 592.8,1377.0 595.6,1374.6 598.3,1372.2 601.1,1369.8 603.9,1367.4 606.6,1365.0 609.4,1362.6 612.2,1360.2 614.9,1357.8 617.7,1355.4 620.5,1353.0 623.2,1350.6 626.0,1348.3 628.8,1345.9 631.6,1343.5 634.3,1341.1 637.1,1338.7 639.9,1336.3 642.6,1333.9 645.4,1331.5 637.9,1322.8 635.1,1325.2 632.3,1327.6 629.6,1330.0 626.8,1332.4 624.1,1334.8 621.3,1337.2 618.5,1339.6 615.8,1342.0 613.0,1344.4 610.3,1346.9 607.5,1349.3 604.8,1351.7 602.0,1354.1 599.2,1356.5 596.5,1358.9 593.7,1361.3 591.0,1363.7 588.2,1366.0 585.5,1368.4 582.7,1370.8 579.9,1373.1 577.2,1375.5 574.4,1377.9 571.7,1380.2 568.9,1382.5 566.2,1384.9 563.4,1387.2 560.6,1389.6 557.9,1391.9 555.1,1394.2 552.4,1396.6 549.6,1398.9 546.8,1401.3 544.1,1403.6 541.3,1405.9 538.5,1408.3 535.8,1410.6 533.0,1413.0 530.2,1415.3 527.5,1417.7 524.7,1420.1 521.9,1422.4 519.2,1424.8 516.4,1427.2 513.7,1429.5 510.9,1431.9 508.1,1434.3 505.4,1436.7 502.6,1439.0 499.8,1441.4 497.1,1443.8 494.3,1446.1 491.6,1448.5 488.8,1450.9 486.0,1453.2 483.3,1455.6 480.5,1458.0 477.7,1460.3 475.0,1462.7 472.2,1465.1 469.5,1467.4 466.7,1469.8 463.9,1472.2 461.2,1474.5 458.4,1476.9 455.6,1479.2 452.9,1481.6 450.1,1484.0 447.3,1486.3 444.6,1488.7 441.8,1491.0 439.1,1493.4 436.3,1495.7 433.5,1498.1 430.8,1500.4 428.0,1502.8 425.3,1505.1 422.5,1507.4 419.7,1509.8 417.0,1512.0 414.3,1514.3 411.6,1516.5 408.8,1518.6 406.1,1520.8 403.3,1522.9 400.5,1525.1 397.8,1527.3 395.0,1529.5 392.2,1531.7 389.4,1534.0 386.6,1536.4 383.8,1538.8 381.0,1541.1 378.2,1543.5 375.5,1545.8 372.7,1548.2 370.0,1550.6 367.2,1552.9 364.4,1555.3 361.7,1557.7 358.9,1560.1 356.1,1562.4 353.4,1564.8 350.6,1567.2 347.8,1569.6 345.1,1572.0 342.3,1574.3 339.5,1576.7 336.8,1579.1 334.0,1581.5 331.2,1583.9 328.5,1586.3 325.7,1588.7 322.9,1591.1 320.2,1593.5 317.4,1595.8 314.6,1598.3 311.8,1600.7 309.0,1603.2 306.3,1605.7 303.5,1608.2 300.7,1610.7 297.9,1613.2 295.1,1615.8 292.4,1618.4 289.6,1621.0 286.8,1623.5 284.0,1626.1 281.3,1628.7 278.5,1631.4 275.7,1634.0 273.0,1636.6 270.2,1639.2 267.4,1641.8 264.7,1644.4 261.9,1647.0 259.1,1649.5 256.4,1652.1 253.6,1654.7 250.9,1657.2 248.1,1659.7 245.4,1662.2 242.6,1664.7 239.8,1667.2 237.1,1669.7 234.3,1672.2 231.5,1674.7 228.8,1677.1 226.0,1679.6 223.3,1682.1 220.5,1684.5 217.7,1687.0 215.0,1689.5 212.2,1691.9 209.4,1694.4 206.7,1696.8 203.9,1699.3 201.1,1701.7 198.4,1704.1" fill="#F8766D"/>
<circle cx="202.17" cy="1708.44" r="5.45" fill="#F8766D"/><circle cx="641.63" cy="1327.16" r="5.45" fill="#F8766D"/>
</g>
<rect x="181.30" y="1309.20" width="481.20" height="417.20" fill="none" stroke="#333" stroke-width="2.2"/>
<path d="M201.93 1727.50v11.46M342.51 1727.50v11.46M483.38 1727.50v11.46M623.97 1727.50v11.46" stroke="#333" stroke-width="4.45" fill="none"/>
<path d="M168.74 1708.44h11.46M168.74 1613.12h11.46M168.74 1517.80h11.46M168.74 1422.48h11.46M168.74 1327.16h11.46" stroke="#333" stroke-width="4.45" fill="none"/>
<rect x="687.60" y="1237.70" width="481.20" height="69.30" fill="#D9D9D9" stroke="#333" stroke-width="2.2"/>
<clipPath id="c12"><rect x="686.50" y="1308.10" width="483.40" height="419.40"/></clipPath>
<g clip-path="url(#c12)">
<polygon points="710.0,1705.2 711.1,1702.3 712.0,1699.5 713.2,1696.9 714.4,1694.2 715.6,1691.6 716.9,1689.0 718.4,1686.6 720.0,1684.1 721.6,1681.6 723.3,1679.2 725.0,1676.8 726.8,1674.4 728.6,1672.0 730.4,1669.6 732.2,1667.3 734.1,1665.0 736.0,1662.6 738.0,1660.2 739.8,1657.8 741.7,1655.4 743.5,1653.0 745.3,1650.5 747.1,1648.1 748.9,1645.7 750.7,1643.2 752.5,1640.8 754.3,1638.3 756.0,1635.9 757.8,1633.6 759.6,1631.3 761.5,1629.1 763.5,1626.9 765.5,1624.7 767.6,1622.4 769.6,1620.2 771.6,1617.8 773.6,1615.4 775.5,1612.9 777.3,1610.3 779.0,1607.8 780.7,1605.4 782.5,1603.1 784.3,1600.7 786.1,1598.4 788.0,1596.1 789.9,1593.8 791.9,1591.6 793.8,1589.3 795.8,1587.1 797.9,1584.9 799.9,1582.8 802.0,1580.6 804.1,1578.3 806.2,1576.0 808.2,1573.6 810.1,1571.2 812.0,1568.8 813.9,1566.4 815.7,1564.0 817.5,1561.7 819.4,1559.4 821.2,1557.1 823.1,1555.0 825.2,1553.0 827.4,1551.1 829.6,1549.1 831.9,1547.1 834.1,1545.1 836.4,1543.1 838.6,1541.1 840.9,1539.1 843.2,1537.1 845.5,1535.1 847.7,1533.1 850.0,1530.9 852.3,1528.6 854.4,1526.1 856.3,1523.6 858.1,1521.2 859.8,1518.9 861.6,1516.7 863.5,1514.7 865.6,1512.8 867.9,1510.8 870.1,1508.8 872.4,1506.8 874.7,1504.8 877.0,1502.9 879.2,1500.9 881.5,1498.9 883.8,1496.9 886.1,1494.8 888.5,1492.5 890.6,1490.0 892.5,1487.5 894.3,1484.9 896.0,1482.4 897.7,1479.9 899.4,1477.5 901.1,1475.1 902.8,1472.8 904.6,1470.8 906.5,1469.0 908.6,1467.5 910.9,1466.1 913.4,1465.0 916.1,1464.1 918.9,1463.1 921.8,1462.2 924.9,1461.0 927.9,1459.6 930.8,1457.9 933.4,1455.9 935.8,1453.8 938.1,1451.8 940.4,1449.8 942.6,1447.8 944.9,1445.9 947.2,1443.9 949.4,1441.9 951.7,1439.9 954.0,1437.9 956.2,1436.0 958.5,1434.1 960.8,1432.4 963.1,1430.7 965.6,1429.0 968.1,1427.4 970.7,1425.7 973.2,1423.9 975.7,1422.0 978.1,1420.2 980.5,1418.3 982.9,1416.4 985.3,1414.5 987.6,1412.6 990.0,1410.7 992.3,1408.8 994.7,1406.9 997.0,1405.0 999.4,1403.1 1001.7,1401.2 1004.1,1399.3 1006.4,1397.4 1008.8,1395.5 1011.1,1393.6 1013.5,1391.7 1015.8,1389.8 1018.2,1387.9 1020.5,1386.0 1022.8,1384.2 1025.2,1382.3 1027.5,1380.4 1029.9,1378.6 1032.2,1376.9 1034.6,1375.3 1037.0,1373.9 1039.5,1372.5 1042.1,1371.3 1044.8,1370.1 1047.6,1369.0 1050.4,1367.8 1053.3,1366.6 1056.1,1365.2 1058.9,1363.8 1061.6,1362.2 1064.3,1360.7 1066.9,1359.1 1069.4,1357.5 1072.0,1355.9 1074.6,1354.3 1077.1,1352.7 1079.6,1351.1 1082.2,1349.6 1084.8,1348.1 1087.3,1346.8 1089.9,1345.5 1092.6,1344.2 1095.3,1343.1 1098.0,1342.0 1100.8,1340.9 1103.6,1339.9 1106.4,1338.9 1109.3,1337.9 1112.1,1336.9 1115.0,1335.8 1117.8,1334.7 1120.6,1333.7 1123.4,1332.7 1126.3,1331.7 1129.1,1330.7 1131.9,1329.7 1134.8,1328.7 1137.6,1327.8 1140.7,1326.7 1143.1,1325.5 1145.2,1325.2 1147.9,1325.2 1149.9,1321.9 1149.5,1324.9 1149.1,1327.7 1148.5,1330.5 1147.8,1333.2 1146.9,1335.9 1145.9,1338.6 1144.7,1341.2 1143.4,1343.7 1142.0,1346.3 1140.5,1348.9 1139.0,1351.6 1137.6,1354.2 1136.1,1356.7 1134.5,1359.1 1132.8,1361.5 1131.0,1364.0 1129.3,1366.5 1127.5,1368.9 1125.8,1371.3 1124.0,1373.7 1122.2,1376.1 1120.4,1378.5 1118.5,1380.8 1116.6,1383.0 1114.7,1385.2 1112.7,1387.5 1110.7,1389.7 1108.6,1391.9 1106.5,1394.1 1104.5,1396.4 1102.4,1398.6 1100.4,1400.9 1098.4,1403.1 1096.4,1405.4 1094.4,1407.6 1092.3,1409.8 1090.3,1412.0 1088.2,1414.2 1086.2,1416.4 1084.1,1418.6 1082.0,1420.8 1080.0,1422.9 1077.9,1424.9 1075.6,1427.0 1073.4,1429.2 1071.3,1431.3 1069.1,1433.5 1067.0,1435.7 1064.9,1437.9 1062.8,1440.1 1060.8,1442.2 1058.7,1444.3 1056.5,1446.4 1054.4,1448.3 1052.1,1450.3 1049.8,1452.1 1047.5,1454.0 1045.2,1455.8 1042.8,1457.6 1040.4,1459.4 1037.9,1461.1 1035.4,1463.0 1033.0,1464.9 1030.6,1466.8 1028.2,1468.9 1025.6,1471.3 1023.6,1474.3 1022.1,1477.2 1020.8,1480.0 1019.5,1482.8 1018.3,1485.6 1017.1,1488.3 1015.8,1490.9 1014.5,1493.2 1013.0,1495.0 1011.2,1496.4 1009.0,1497.7 1006.5,1498.7 1003.9,1499.5 1001.0,1500.2 997.9,1501.1 994.8,1502.1 991.7,1503.6 988.8,1505.5 986.3,1507.5 983.9,1509.5 981.6,1511.4 979.3,1513.4 977.0,1515.3 974.6,1517.3 972.3,1519.2 970.0,1521.0 967.7,1522.8 965.3,1524.6 962.9,1526.3 960.4,1528.1 957.9,1529.8 955.4,1531.6 953.0,1533.5 950.5,1535.5 948.1,1537.5 945.8,1539.5 943.6,1541.5 941.3,1543.6 939.1,1545.6 936.8,1547.6 934.6,1549.7 932.4,1551.7 930.1,1553.8 927.9,1555.8 925.7,1557.8 923.4,1559.8 921.2,1561.8 918.9,1563.7 916.6,1565.7 914.3,1567.6 912.0,1569.5 909.6,1571.4 907.3,1573.4 905.0,1575.3 902.6,1577.2 900.3,1579.2 898.0,1581.1 895.7,1583.1 893.4,1585.0 891.1,1586.9 888.7,1588.8 886.5,1590.7 884.2,1592.3 881.8,1593.8 879.3,1595.1 876.6,1596.5 873.9,1597.8 871.2,1599.1 868.4,1600.6 865.6,1602.2 862.9,1604.0 860.3,1606.0 857.8,1608.3 855.6,1610.8 853.7,1613.3 851.8,1615.7 850.1,1618.1 848.3,1620.4 846.5,1622.5 844.5,1624.3 842.3,1626.1 840.0,1627.7 837.5,1629.4 835.0,1630.9 832.5,1632.5 829.9,1634.0 827.2,1635.6 824.6,1637.3 822.0,1639.0 819.5,1640.9 817.0,1642.7 814.6,1644.6 812.2,1646.5 809.9,1648.4 807.5,1650.3 805.2,1652.2 802.8,1654.0 800.4,1655.9 798.1,1657.7 795.7,1659.4 793.5,1660.9 791.1,1662.0 788.5,1663.0 785.7,1663.9 782.7,1664.8 779.6,1666.0 776.6,1667.5 773.9,1669.3 771.3,1671.0 768.8,1672.7 766.3,1674.5 763.8,1676.3 761.3,1678.1 758.9,1679.9 756.5,1681.6 754.0,1683.4 751.6,1685.1 749.2,1686.8 746.7,1688.4 744.1,1690.0 741.6,1691.5 739.0,1693.1 736.5,1694.6 733.9,1696.1 731.3,1697.5 728.6,1698.9 726.0,1700.3 723.3,1701.7 720.7,1703.0 718.0,1704.3 715.3,1705.6 712.6,1706.9 709.8,1708.1 707.1,1709.3" fill="#00BFC4" stroke="#00BFC4" stroke-width="2" stroke-linejoin="round"/>
<polyline points="715.8,1698.0 719.6,1690.5 721.1,1684.8 727.4,1678.5 728.2,1671.7 732.4,1667.4 738.1,1664.3 742.0,1659.5 743.0,1652.6 747.7,1648.6 753.7,1641.7 758.6,1637.9 760.8,1632.2 766.4,1629.5 770.2,1624.8 771.2,1617.4 778.1,1614.8 782.1,1609.9 783.6,1603.9 785.6,1598.0 790.7,1590.5 797.3,1584.4 802.4,1581.0 805.1,1575.0 809.6,1570.8 816.8,1568.7 820.1,1563.7 821.1,1557.0 827.6,1555.6 831.6,1551.3 834.4,1545.4 841.7,1540.0 845.9,1535.6 851.3,1527.7 860.8,1523.3 866.1,1517.3 870.1,1508.8 876.5,1507.0 881.5,1503.4 886.1,1499.5 890.8,1494.7 896.5,1486.5 896.9,1479.4 905.2,1474.8 905.6,1467.9 914.7,1468.1 920.0,1466.5 926.3,1464.4 932.9,1461.0 938.4,1452.2 944.6,1450.0 949.3,1446.3 956.3,1440.5 960.7,1432.2 967.1,1431.3 975.3,1426.8 979.9,1422.5 985.1,1419.2 992.0,1413.3 993.9,1405.9 1001.8,1406.1 1006.1,1401.9 1009.5,1396.4 1016.5,1390.7 1020.1,1385.6 1024.5,1381.4 1031.7,1380.9 1036.1,1377.7 1040.9,1375.4 1049.1,1372.6 1054.6,1369.4 1060.3,1366.2 1063.9,1360.2 1073.6,1358.3 1081.4,1354.1 1084.4,1347.5 1089.8,1345.2 1099.0,1344.6 1106.3,1338.4 1115.0,1335.9 1120.8,1334.3 1127.2,1334.2 1131.4,1328.2 1138.6,1330.8 1144.1,1327.2 1145.1,1327.2 1147.9,1327.2 713.8,1702.5 719.0,1699.7 727.3,1696.4 732.1,1692.9 739.6,1688.2 747.3,1689.4 753.3,1682.3 757.9,1678.5 762.0,1673.8 771.1,1670.6 779.6,1666.1 785.5,1663.2 794.1,1661.9 796.0,1654.9 803.3,1649.8 807.6,1645.6 812.2,1641.5 821.7,1638.6 827.1,1635.4 831.6,1631.0 840.0,1627.8 842.6,1622.1 847.1,1615.9 851.5,1611.6 858.9,1609.3 864.2,1599.9 872.7,1595.2 878.8,1594.2 884.4,1592.7 886.4,1586.0 893.7,1580.7 900.3,1574.5 907.9,1569.3 913.7,1566.8 918.6,1558.9 923.3,1555.1 927.7,1551.1 932.3,1547.2 936.7,1543.0 943.8,1541.8 948.0,1532.4 958.5,1530.6 963.5,1527.2 970.3,1521.3 972.3,1514.4 979.7,1509.2 987.1,1508.5 990.3,1501.2 997.5,1499.7 1005.6,1496.2 1012.5,1494.5 1013.6,1486.7 1015.9,1481.3 1020.5,1472.4 1030.2,1466.4 1035.9,1458.3 1040.8,1454.9 1045.5,1451.5 1050.2,1448.0 1054.0,1443.6 1060.3,1441.8 1064.2,1437.3 1066.9,1431.4 1074.0,1429.8 1077.5,1420.4 1083.7,1418.3 1087.4,1409.4 1092.3,1405.7 1096.0,1400.9 1100.2,1396.7 1106.6,1390.0 1111.8,1386.6 1114.1,1380.8 1121.2,1379.1 1124.9,1374.4 1126.5,1364.5 1130.4,1359.8 1134.4,1352.4 1139.2,1344.7 1142.9,1337.3 1146.7,1332.9 1147.9,1327.8 1147.9,1327.2 1147.9,1327.2 906.4,1464.6 1009.8,1501.0 949.1,1542.9" fill="none" stroke="none" marker-start="url(#t)" marker-mid="url(#t)" marker-end="url(#t)"/>
<polygon points="712.3,1712.7 719.7,1706.0 727.0,1699.4 734.4,1692.7 741.8,1686.0 749.2,1679.4 756.6,1672.7 764.0,1666.1 771.4,1659.5 778.8,1652.8 786.2,1646.2 793.6,1639.6 801.0,1633.0 808.5,1626.5 815.9,1619.9 823.3,1613.3 830.7,1606.7 838.2,1600.2 845.6,1593.6 853.0,1587.1 860.4,1580.6 867.9,1574.1 875.3,1567.5 882.8,1561.0 890.2,1554.5 897.6,1548.0 905.1,1541.6 912.5,1535.1 920.0,1528.6 927.4,1522.1 934.9,1515.7 942.3,1509.2 949.8,1502.8 957.2,1496.3 964.7,1489.9 972.1,1483.5 979.6,1477.0 987.0,1470.6 994.5,1464.2 1001.9,1457.8 1009.4,1451.4 1016.9,1445.0 1024.3,1438.7 1031.8,1432.3 1039.3,1425.9 1046.7,1419.6 1054.2,1413.2 1061.7,1406.9 1069.2,1400.6 1076.7,1394.3 1084.1,1387.9 1091.6,1381.6 1099.1,1375.4 1106.6,1369.1 1114.1,1362.8 1121.6,1356.5 1129.1,1350.3 1136.6,1344.0 1144.1,1337.8 1151.6,1331.5 1144.2,1322.8 1136.8,1329.2 1129.4,1335.6 1122.1,1341.9 1114.7,1348.3 1107.3,1354.7 1099.9,1361.1 1092.5,1367.5 1085.1,1373.9 1077.6,1380.3 1070.2,1386.7 1062.8,1393.1 1055.4,1399.5 1048.0,1406.0 1040.6,1412.4 1033.1,1418.8 1025.7,1425.2 1018.3,1431.6 1010.8,1438.0 1003.4,1444.5 996.0,1450.9 988.5,1457.3 981.1,1463.8 973.7,1470.2 966.2,1476.6 958.8,1483.1 951.3,1489.5 943.9,1496.0 936.4,1502.4 929.0,1508.9 921.5,1515.3 914.1,1521.8 906.6,1528.3 899.2,1534.8 891.7,1541.2 884.3,1547.7 876.8,1554.2 869.4,1560.7 861.9,1567.2 854.4,1573.7 847.0,1580.2 839.5,1586.7 832.0,1593.2 824.6,1599.7 817.1,1606.2 809.6,1612.7 802.1,1619.3 794.7,1625.8 787.2,1632.3 779.7,1638.8 772.2,1645.3 764.7,1651.9 757.2,1658.4 749.7,1664.9 742.2,1671.5 734.7,1678.0 727.2,1684.5 719.7,1691.1 712.2,1697.6 704.7,1704.1" fill="#F8766D"/>
<circle cx="708.47" cy="1708.44" r="5.45" fill="#F8766D"/><circle cx="1147.93" cy="1327.16" r="5.45" fill="#F8766D"/>
</g>
<rect x="687.60" y="1309.20" width="481.20" height="417.20" fill="none" stroke="#333" stroke-width="2.2"/>
<path d="M707.93 1727.50v11.46M853.55 1727.50v11.46M998.61 1727.50v11.46M1144.23 1727.50v11.46" stroke="#333" stroke-width="4.45" fill="none"/>
<rect x="1193.90" y="1237.70" width="481.20" height="69.30" fill="#D9D9D9" stroke="#333" stroke-width="2.2"/>
<clipPath id="c13"><rect x="1192.80" y="1308.10" width="483.40" height="419.40"/></clipPath>
<g clip-path="url(#c13)">
<polygon points="1216.2,1705.3 1217.4,1702.5 1218.6,1699.8 1219.8,1697.1 1221.1,1694.4 1222.4,1691.9 1223.9,1689.4 1225.5,1687.0 1227.1,1684.5 1228.8,1682.1 1230.6,1679.7 1232.4,1677.3 1234.2,1674.9 1236.0,1672.6 1237.9,1670.3 1239.8,1668.0 1241.7,1665.6 1243.7,1663.3 1245.6,1660.9 1247.5,1658.5 1249.4,1656.1 1251.2,1653.7 1253.0,1651.3 1254.9,1648.9 1256.7,1646.5 1258.5,1644.0 1260.4,1641.6 1262.2,1639.2 1264.0,1636.9 1265.8,1634.6 1267.8,1632.4 1269.8,1630.2 1271.8,1628.0 1273.9,1625.8 1276.0,1623.5 1278.0,1621.2 1280.0,1618.8 1281.9,1616.3 1283.8,1613.8 1285.5,1611.4 1287.3,1609.1 1289.2,1606.7 1291.0,1604.4 1292.9,1602.0 1294.8,1599.7 1296.7,1597.4 1298.7,1595.0 1300.6,1592.7 1302.5,1590.4 1304.4,1588.1 1306.4,1585.8 1308.3,1583.5 1310.3,1581.2 1312.3,1578.9 1314.2,1576.6 1316.2,1574.4 1318.2,1572.1 1320.2,1569.8 1322.2,1567.5 1324.1,1565.2 1326.1,1562.9 1328.1,1560.6 1330.0,1558.3 1332.0,1556.1 1334.0,1553.9 1336.0,1551.7 1338.1,1549.6 1340.2,1547.5 1342.3,1545.6 1344.6,1543.7 1346.8,1541.8 1349.2,1539.9 1351.5,1538.0 1353.9,1536.2 1356.3,1534.4 1358.7,1532.5 1361.1,1530.7 1363.5,1528.8 1365.9,1526.9 1368.3,1524.9 1370.7,1522.9 1373.0,1520.7 1375.2,1518.3 1377.3,1515.9 1379.2,1513.5 1381.1,1511.1 1382.9,1508.7 1384.8,1506.4 1386.7,1504.2 1388.6,1502.1 1390.6,1500.2 1392.8,1498.3 1395.1,1496.5 1397.5,1494.7 1399.8,1492.9 1402.3,1491.1 1404.7,1489.3 1407.2,1487.5 1409.6,1485.6 1412.0,1483.7 1414.4,1481.7 1416.8,1479.7 1419.1,1477.7 1421.3,1475.7 1423.6,1473.7 1425.9,1471.7 1428.1,1469.6 1430.4,1467.6 1432.6,1465.6 1434.9,1463.6 1437.1,1461.6 1439.4,1459.6 1441.6,1457.7 1443.8,1456.0 1446.1,1454.5 1448.6,1453.1 1451.2,1451.8 1453.9,1450.5 1456.6,1449.2 1459.4,1447.8 1462.3,1446.3 1465.0,1444.5 1467.6,1442.5 1470.0,1440.4 1472.3,1438.3 1474.6,1436.1 1476.7,1433.9 1478.8,1431.7 1480.9,1429.5 1483.0,1427.4 1485.1,1425.2 1487.2,1423.1 1489.3,1421.0 1491.4,1419.0 1493.6,1416.9 1495.9,1414.9 1498.1,1412.8 1500.3,1410.8 1502.5,1408.8 1504.8,1406.7 1507.0,1404.7 1509.3,1402.7 1511.5,1400.7 1513.8,1398.7 1516.0,1396.7 1518.3,1394.8 1520.4,1393.0 1522.6,1391.7 1524.9,1390.6 1527.6,1389.8 1530.4,1388.9 1533.5,1388.0 1536.6,1386.8 1539.5,1385.3 1542.2,1383.8 1544.9,1382.3 1547.5,1380.8 1550.2,1379.3 1552.8,1377.7 1555.4,1376.1 1558.0,1374.5 1560.6,1372.9 1563.1,1371.2 1565.7,1369.5 1568.2,1367.8 1570.8,1366.1 1573.3,1364.4 1575.7,1362.6 1578.2,1360.8 1580.7,1359.1 1583.1,1357.3 1585.6,1355.6 1588.0,1353.8 1590.5,1352.1 1593.0,1350.4 1595.5,1348.8 1598.0,1347.1 1600.5,1345.5 1603.0,1343.9 1605.6,1342.3 1608.1,1340.7 1610.6,1339.1 1613.2,1337.6 1615.8,1336.2 1618.4,1334.8 1621.0,1333.4 1623.6,1332.2 1626.3,1331.1 1628.9,1330.1 1631.7,1329.2 1634.4,1328.5 1637.3,1327.9 1640.1,1327.4 1643.0,1327.0 1646.1,1326.6 1649.3,1326.0 1651.8,1325.2 1654.2,1325.2 1656.2,1322.0 1655.9,1324.9 1655.4,1327.8 1654.9,1330.6 1654.2,1333.3 1653.4,1336.1 1652.4,1338.8 1651.3,1341.4 1650.1,1344.0 1648.8,1346.6 1647.3,1349.2 1645.9,1351.9 1644.5,1354.6 1643.0,1357.1 1641.5,1359.5 1639.9,1362.0 1638.1,1364.4 1636.4,1367.0 1634.7,1369.5 1633.0,1371.9 1631.3,1374.3 1629.5,1376.7 1627.7,1379.1 1625.9,1381.5 1624.0,1383.8 1622.1,1386.1 1620.2,1388.3 1618.2,1390.5 1616.1,1392.7 1614.1,1395.0 1612.0,1397.2 1610.0,1399.5 1608.0,1401.8 1606.0,1404.0 1604.0,1406.3 1602.0,1408.5 1599.9,1410.8 1597.9,1413.0 1595.9,1415.3 1593.9,1417.5 1591.8,1419.7 1589.8,1421.9 1587.7,1424.1 1585.6,1426.3 1583.5,1428.5 1581.5,1430.6 1579.4,1432.8 1577.2,1434.9 1575.1,1437.0 1572.9,1439.0 1570.8,1441.1 1568.5,1443.1 1566.3,1445.0 1564.0,1447.0 1561.7,1449.0 1559.4,1450.9 1557.1,1452.8 1554.8,1454.8 1552.5,1456.7 1550.1,1458.6 1547.8,1460.5 1545.5,1462.5 1543.1,1464.4 1540.7,1466.5 1538.5,1468.6 1536.2,1470.6 1534.0,1472.7 1531.7,1474.9 1529.6,1477.3 1527.5,1479.6 1525.5,1482.0 1523.6,1484.4 1521.7,1486.7 1519.8,1489.0 1517.9,1491.3 1516.0,1493.5 1514.0,1495.6 1512.0,1497.5 1509.8,1499.3 1507.5,1501.0 1505.1,1502.7 1502.6,1504.3 1500.0,1505.9 1497.4,1507.7 1494.8,1509.6 1492.3,1511.6 1489.9,1513.8 1487.7,1516.2 1485.7,1518.6 1483.8,1521.0 1481.9,1523.4 1480.0,1525.8 1478.2,1528.1 1476.3,1530.3 1474.4,1532.4 1472.4,1534.2 1470.3,1535.8 1468.0,1537.0 1465.5,1538.0 1462.8,1539.0 1459.8,1539.9 1456.7,1541.2 1453.7,1542.8 1450.9,1544.7 1448.4,1546.8 1446.1,1548.9 1443.9,1550.9 1441.6,1552.9 1439.4,1555.0 1437.1,1557.0 1434.9,1559.1 1432.7,1561.1 1430.4,1563.2 1428.2,1565.2 1426.0,1567.2 1423.7,1569.2 1421.4,1571.1 1419.2,1573.1 1416.9,1575.0 1414.5,1576.9 1412.2,1578.8 1409.8,1580.6 1407.5,1582.5 1405.1,1584.4 1402.7,1586.2 1400.3,1588.1 1397.9,1590.0 1395.5,1591.8 1393.1,1593.7 1390.8,1595.6 1388.4,1597.6 1386.1,1599.5 1383.7,1601.4 1381.3,1603.3 1379.0,1605.2 1376.6,1607.1 1374.3,1608.9 1371.9,1610.8 1369.5,1612.7 1367.2,1614.5 1364.8,1616.3 1362.4,1618.1 1360.0,1619.8 1357.5,1621.5 1355.0,1623.2 1352.5,1624.8 1350.0,1626.5 1347.4,1628.2 1344.9,1630.0 1342.4,1631.7 1339.9,1633.6 1337.5,1635.5 1335.1,1637.4 1332.7,1639.3 1330.3,1641.2 1327.9,1643.1 1325.6,1645.0 1323.2,1646.9 1320.9,1648.8 1318.6,1650.7 1316.2,1652.6 1313.9,1654.5 1311.5,1656.3 1309.1,1658.1 1306.7,1659.8 1304.3,1661.4 1301.8,1663.0 1299.3,1664.5 1296.7,1666.0 1294.1,1667.4 1291.5,1668.9 1288.8,1670.3 1286.1,1671.8 1283.5,1673.2 1280.8,1674.7 1278.2,1676.1 1275.5,1677.5 1272.9,1678.8 1270.2,1680.1 1267.5,1681.4 1264.7,1682.7 1262.0,1684.1 1259.3,1685.4 1256.5,1686.7 1253.8,1688.1 1251.1,1689.5 1248.4,1690.8 1245.7,1692.2 1243.0,1693.5 1240.3,1694.9 1237.6,1696.3 1234.8,1697.6 1232.1,1699.0 1229.4,1700.3 1226.7,1701.7 1224.0,1703.1 1221.3,1704.4 1218.6,1705.8 1215.9,1707.1 1213.2,1708.5" fill="#00BFC4" stroke="#00BFC4" stroke-width="2" stroke-linejoin="round"/>
<polyline points="1218.8,1706.4 1222.7,1698.5 1226.2,1690.9 1230.2,1686.7 1235.0,1679.4 1239.1,1675.0 1244.0,1667.5 1247.9,1658.8 1253.4,1655.3 1257.2,1646.8 1263.2,1643.8 1263.8,1636.7 1268.5,1633.1 1272.8,1628.9 1277.2,1624.6 1280.7,1619.3 1288.5,1613.6 1288.5,1606.2 1295.8,1604.3 1297.9,1598.3 1303.6,1595.2 1304.6,1588.2 1312.8,1583.4 1316.8,1578.9 1322.7,1571.9 1327.1,1567.6 1329.2,1561.5 1334.5,1558.3 1338.4,1554.0 1340.5,1547.9 1346.3,1545.7 1353.3,1540.3 1358.0,1536.6 1363.2,1533.4 1366.1,1527.1 1372.4,1524.9 1377.7,1520.5 1380.2,1514.3 1386.0,1507.4 1388.5,1502.0 1392.3,1497.7 1399.3,1497.1 1406.8,1492.2 1414.1,1486.3 1418.6,1481.9 1420.3,1474.6 1424.9,1470.6 1432.4,1469.9 1439.2,1463.9 1445.5,1458.5 1450.2,1456.2 1455.1,1453.2 1461.1,1450.9 1465.0,1444.4 1470.5,1441.0 1475.7,1437.3 1479.0,1431.9 1485.3,1429.6 1486.5,1422.4 1490.9,1418.4 1498.0,1417.2 1501.4,1412.0 1507.9,1405.8 1513.8,1403.3 1515.3,1395.9 1522.4,1395.8 1525.9,1393.1 1534.6,1391.2 1543.9,1386.8 1548.3,1382.1 1554.8,1375.2 1562.2,1375.4 1569.9,1370.3 1575.7,1362.5 1584.7,1359.5 1592.2,1354.5 1594.9,1347.9 1602.2,1348.1 1607.3,1345.1 1615.1,1341.0 1619.8,1337.4 1627.3,1333.7 1635.3,1332.1 1643.1,1327.8 1651.9,1327.2 1654.2,1327.2 1219.1,1706.7 1222.4,1699.9 1230.4,1695.6 1236.1,1693.4 1241.4,1690.5 1251.3,1689.9 1255.2,1684.1 1260.4,1680.8 1268.5,1676.8 1274.3,1675.0 1281.7,1670.0 1287.3,1667.5 1293.9,1667.1 1297.5,1661.5 1305.0,1662.5 1311.2,1655.9 1314.4,1650.4 1324.0,1647.8 1326.0,1640.7 1332.5,1639.0 1335.7,1633.1 1343.1,1632.7 1345.9,1625.9 1350.9,1622.4 1360.4,1620.4 1365.5,1612.3 1372.9,1612.0 1375.0,1605.0 1379.2,1600.6 1386.1,1594.7 1393.7,1589.6 1400.4,1588.2 1404.4,1583.5 1407.7,1578.0 1414.7,1572.3 1419.2,1568.6 1426.0,1567.2 1432.3,1560.7 1436.8,1552.1 1441.3,1548.0 1448.9,1542.2 1459.4,1538.7 1467.5,1535.9 1471.7,1529.7 1477.4,1527.5 1484.9,1522.0 1487.3,1511.3 1495.3,1504.6 1501.8,1503.1 1508.2,1502.1 1511.3,1492.8 1517.0,1490.5 1519.4,1484.8 1523.1,1480.0 1527.1,1475.0 1534.6,1473.4 1538.1,1468.2 1543.8,1465.3 1545.7,1458.0 1550.1,1453.8 1557.5,1448.5 1562.0,1444.6 1566.3,1440.6 1570.8,1436.7 1575.0,1432.6 1581.5,1426.6 1587.1,1419.4 1594.8,1418.3 1597.3,1408.4 1601.2,1403.8 1607.9,1401.7 1612.7,1397.8 1617.7,1390.1 1619.6,1383.8 1624.9,1377.0 1628.5,1372.3 1634.1,1365.4 1638.6,1357.6 1645.3,1351.6 1649.6,1343.7 1654.2,1336.4 1654.2,1330.0 1654.2,1327.9 1654.2,1327.2 1654.2,1327.2 1372.0,1513.3 1379.8,1504.6 1387.7,1499.9 1510.6,1504.6 1304.4,1584.8" fill="none" stroke="none" marker-start="url(#t)" marker-mid="url(#t)" marker-end="url(#t)"/>
<polygon points="1218.6,1712.7 1226.0,1706.0 1233.3,1699.4 1240.7,1692.7 1248.1,1686.0 1255.5,1679.4 1262.9,1672.7 1270.3,1666.1 1277.7,1659.5 1285.1,1652.8 1292.5,1646.2 1299.9,1639.6 1307.3,1633.0 1314.8,1626.5 1322.2,1619.9 1329.6,1613.3 1337.0,1606.7 1344.5,1600.2 1351.9,1593.6 1359.3,1587.1 1366.7,1580.6 1374.2,1574.1 1381.6,1567.5 1389.1,1561.0 1396.5,1554.5 1403.9,1548.0 1411.4,1541.6 1418.8,1535.1 1426.3,1528.6 1433.7,1522.1 1441.2,1515.7 1448.6,1509.2 1456.1,1502.8 1463.5,1496.3 1471.0,1489.9 1478.4,1483.5 1485.9,1477.0 1493.3,1470.6 1500.8,1464.2 1508.2,1457.8 1515.7,1451.4 1523.2,1445.0 1530.6,1438.7 1538.1,1432.3 1545.6,1425.9 1553.0,1419.6 1560.5,1413.2 1568.0,1406.9 1575.5,1400.6 1583.0,1394.3 1590.4,1387.9 1597.9,1381.6 1605.4,1375.4 1612.9,1369.1 1620.4,1362.8 1627.9,1356.5 1635.4,1350.3 1642.9,1344.0 1650.4,1337.8 1657.9,1331.5 1650.5,1322.8 1643.1,1329.2 1635.7,1335.6 1628.4,1341.9 1621.0,1348.3 1613.6,1354.7 1606.2,1361.1 1598.8,1367.5 1591.4,1373.9 1583.9,1380.3 1576.5,1386.7 1569.1,1393.1 1561.7,1399.5 1554.3,1406.0 1546.9,1412.4 1539.4,1418.8 1532.0,1425.2 1524.6,1431.6 1517.1,1438.0 1509.7,1444.5 1502.3,1450.9 1494.8,1457.3 1487.4,1463.8 1480.0,1470.2 1472.5,1476.6 1465.1,1483.1 1457.6,1489.5 1450.2,1496.0 1442.7,1502.4 1435.3,1508.9 1427.8,1515.3 1420.4,1521.8 1412.9,1528.3 1405.5,1534.8 1398.0,1541.2 1390.6,1547.7 1383.1,1554.2 1375.7,1560.7 1368.2,1567.2 1360.7,1573.7 1353.3,1580.2 1345.8,1586.7 1338.3,1593.2 1330.9,1599.7 1323.4,1606.2 1315.9,1612.7 1308.4,1619.3 1301.0,1625.8 1293.5,1632.3 1286.0,1638.8 1278.5,1645.3 1271.0,1651.9 1263.5,1658.4 1256.0,1664.9 1248.5,1671.5 1241.0,1678.0 1233.5,1684.5 1226.0,1691.1 1218.5,1697.6 1211.0,1704.1" fill="#F8766D"/>
<circle cx="1214.77" cy="1708.44" r="5.45" fill="#F8766D"/><circle cx="1654.23" cy="1327.16" r="5.45" fill="#F8766D"/>
</g>
<rect x="1193.90" y="1309.20" width="481.20" height="417.20" fill="none" stroke="#333" stroke-width="2.2"/>
<path d="M1214.37 1727.50v11.46M1306.60 1727.50v11.46M1398.56 1727.50v11.46M1490.79 1727.50v11.46M1582.75 1727.50v11.46M1674.98 1727.50v11.46" stroke="#333" stroke-width="4.45" fill="none"/>
<rect x="1700.20" y="1237.70" width="481.20" height="69.30" fill="#D9D9D9" stroke="#333" stroke-width="2.2"/>
<clipPath id="c14"><rect x="1699.10" y="1308.10" width="483.40" height="419.40"/></clipPath>
<g clip-path="url(#c14)">
<polygon points="1722.5,1705.7 1723.7,1703.0 1725.0,1700.3 1726.3,1697.6 1727.7,1695.0 1729.1,1692.5 1730.6,1690.1 1732.2,1687.7 1733.9,1685.3 1735.7,1682.9 1737.5,1680.5 1739.3,1678.2 1741.2,1675.8 1743.0,1673.5 1744.9,1671.2 1746.9,1669.0 1748.8,1666.7 1750.8,1664.3 1752.7,1662.0 1754.7,1659.6 1756.5,1657.2 1758.4,1654.8 1760.3,1652.5 1762.1,1650.1 1764.0,1647.7 1765.8,1645.3 1767.7,1642.9 1769.5,1640.6 1771.4,1638.3 1773.3,1636.1 1775.3,1634.0 1777.3,1631.8 1779.4,1629.6 1781.5,1627.4 1783.6,1625.1 1785.6,1622.8 1787.6,1620.3 1789.5,1617.9 1791.3,1615.4 1793.1,1613.1 1794.9,1610.8 1796.8,1608.5 1798.7,1606.3 1800.7,1604.0 1802.7,1601.8 1804.7,1599.5 1806.7,1597.2 1808.7,1595.0 1810.7,1592.7 1812.6,1590.5 1814.6,1588.2 1816.6,1585.9 1818.6,1583.7 1820.6,1581.5 1822.7,1579.2 1824.7,1577.0 1826.7,1574.7 1828.7,1572.5 1830.7,1570.2 1832.7,1568.0 1834.7,1565.7 1836.7,1563.5 1838.7,1561.2 1840.7,1559.0 1842.8,1556.9 1844.8,1554.7 1846.9,1552.6 1849.0,1550.5 1851.1,1548.3 1853.3,1546.2 1855.4,1544.1 1857.6,1542.0 1859.7,1539.9 1861.9,1537.7 1864.0,1535.6 1866.1,1533.4 1868.2,1531.2 1870.3,1529.0 1872.4,1526.9 1874.5,1524.7 1876.6,1522.6 1878.7,1520.6 1880.8,1518.6 1883.0,1516.6 1885.2,1514.8 1887.6,1513.0 1889.9,1511.3 1892.4,1509.6 1894.9,1507.9 1897.4,1506.1 1899.9,1504.3 1902.3,1502.4 1904.8,1500.4 1907.1,1498.2 1909.3,1495.9 1911.4,1493.5 1913.4,1491.1 1915.3,1488.8 1917.2,1486.4 1919.1,1484.1 1920.9,1481.8 1922.8,1479.6 1924.8,1477.5 1926.8,1475.5 1928.9,1473.8 1931.1,1472.2 1933.5,1470.8 1936.1,1469.4 1938.8,1468.1 1941.5,1466.6 1944.3,1465.0 1947.0,1463.2 1949.6,1461.2 1951.9,1459.0 1954.2,1456.9 1956.4,1454.7 1958.5,1452.5 1960.6,1450.3 1962.7,1448.1 1964.7,1445.9 1966.8,1443.7 1968.8,1441.6 1970.9,1439.5 1973.0,1437.5 1975.2,1435.6 1977.4,1433.8 1979.7,1432.0 1982.1,1430.3 1984.6,1428.5 1987.0,1426.8 1989.5,1425.1 1992.0,1423.3 1994.5,1421.4 1996.9,1419.4 1999.2,1417.4 2001.5,1415.5 2003.8,1413.5 2006.1,1411.5 2008.4,1409.6 2010.7,1407.6 2013.0,1405.6 2015.2,1403.7 2017.5,1401.8 2019.8,1399.9 2022.1,1398.1 2024.5,1396.3 2026.9,1394.6 2029.3,1392.9 2031.8,1391.3 2034.3,1389.6 2036.8,1388.0 2039.3,1386.4 2041.9,1384.7 2044.4,1383.1 2046.9,1381.4 2049.4,1379.9 2052.0,1378.3 2054.5,1376.8 2057.1,1375.2 2059.7,1373.7 2062.3,1372.2 2064.9,1370.7 2067.5,1369.2 2070.1,1367.6 2072.7,1366.1 2075.3,1364.5 2077.9,1362.9 2080.5,1361.4 2083.1,1359.8 2085.6,1358.2 2088.2,1356.6 2090.8,1355.1 2093.3,1353.6 2095.9,1352.1 2098.5,1350.6 2101.1,1349.1 2103.7,1347.7 2106.3,1346.3 2109.0,1344.9 2111.6,1343.5 2114.3,1342.2 2117.0,1340.8 2119.7,1339.6 2122.4,1338.3 2125.1,1337.1 2127.8,1335.8 2130.5,1334.7 2133.3,1333.6 2136.0,1332.5 2138.8,1331.5 2141.6,1330.5 2144.4,1329.5 2147.2,1328.6 2150.1,1327.8 2153.1,1326.9 2155.8,1325.8 2158.0,1325.2 2160.5,1325.2 2162.5,1321.9 2162.1,1324.9 2161.7,1327.7 2161.1,1330.5 2160.4,1333.2 2159.5,1335.9 2158.5,1338.6 2157.4,1341.2 2156.1,1343.8 2154.7,1346.3 2153.2,1348.9 2151.7,1351.6 2150.3,1354.2 2148.8,1356.7 2147.2,1359.1 2145.5,1361.5 2143.8,1364.0 2142.0,1366.5 2140.3,1368.9 2138.6,1371.3 2136.8,1373.7 2135.0,1376.1 2133.2,1378.5 2131.3,1380.8 2129.5,1383.1 2127.5,1385.3 2125.5,1387.5 2123.5,1389.7 2121.4,1391.9 2119.4,1394.1 2117.3,1396.4 2115.3,1398.7 2113.3,1400.9 2111.3,1403.2 2109.3,1405.4 2107.2,1407.6 2105.2,1409.8 2103.2,1412.1 2101.1,1414.3 2099.1,1416.5 2097.0,1418.7 2095.0,1420.8 2092.9,1423.0 2090.8,1425.1 2088.7,1427.2 2086.5,1429.2 2084.3,1431.3 2082.1,1433.4 2079.9,1435.4 2077.7,1437.5 2075.5,1439.5 2073.3,1441.5 2071.0,1443.5 2068.8,1445.5 2066.5,1447.5 2064.3,1449.6 2062.0,1451.7 2059.8,1453.7 2057.6,1455.8 2055.4,1457.9 2053.2,1460.0 2051.0,1462.1 2048.8,1464.2 2046.7,1466.3 2044.5,1468.4 2042.4,1470.5 2040.2,1472.5 2038.0,1474.5 2035.7,1476.6 2033.5,1478.6 2031.3,1480.6 2029.0,1482.6 2026.8,1484.7 2024.5,1486.7 2022.3,1488.7 2020.0,1490.7 2017.8,1492.7 2015.5,1494.7 2013.3,1496.7 2011.0,1498.8 2008.8,1500.8 2006.5,1502.8 2004.3,1504.8 2002.0,1506.9 1999.8,1508.9 1997.5,1510.9 1995.3,1512.9 1993.0,1514.9 1990.8,1517.0 1988.5,1519.0 1986.3,1521.0 1984.1,1523.0 1981.8,1525.0 1979.6,1527.1 1977.3,1529.1 1975.1,1531.1 1972.8,1533.1 1970.6,1535.2 1968.3,1537.2 1966.1,1539.2 1963.8,1541.2 1961.6,1543.2 1959.3,1545.3 1957.1,1547.3 1954.9,1549.3 1952.6,1551.3 1950.4,1553.3 1948.1,1555.4 1945.9,1557.4 1943.6,1559.4 1941.4,1561.4 1939.1,1563.5 1936.9,1565.5 1934.6,1567.5 1932.4,1569.5 1930.1,1571.5 1927.9,1573.6 1925.7,1575.6 1923.4,1577.6 1921.2,1579.7 1918.9,1581.7 1916.7,1583.7 1914.5,1585.8 1912.2,1587.8 1910.0,1589.8 1907.8,1591.8 1905.5,1593.8 1903.3,1595.8 1901.0,1597.8 1898.9,1599.6 1896.6,1601.1 1894.3,1602.4 1891.7,1603.5 1889.1,1604.6 1886.3,1605.5 1883.3,1606.6 1880.4,1607.8 1877.4,1609.2 1874.5,1610.8 1871.9,1612.7 1869.4,1614.6 1867.0,1616.5 1864.6,1618.4 1862.3,1620.3 1859.9,1622.3 1857.6,1624.2 1855.3,1626.1 1852.9,1628.0 1850.6,1629.9 1848.3,1631.7 1845.9,1633.6 1843.6,1635.3 1841.2,1637.0 1838.8,1638.6 1836.3,1640.1 1833.7,1641.6 1831.1,1643.0 1828.4,1644.4 1825.8,1645.9 1823.1,1647.4 1820.4,1649.0 1817.8,1650.6 1815.2,1652.3 1812.6,1654.1 1810.1,1655.8 1807.7,1657.6 1805.2,1659.3 1802.7,1661.1 1800.3,1662.8 1797.8,1664.6 1795.4,1666.3 1792.9,1668.0 1790.5,1669.7 1788.0,1671.4 1785.5,1673.0 1783.0,1674.6 1780.4,1676.2 1777.9,1677.7 1775.3,1679.3 1772.7,1680.8 1770.1,1682.3 1767.5,1683.8 1764.9,1685.3 1762.3,1686.8 1759.7,1688.3 1757.0,1689.7 1754.4,1691.2 1751.8,1692.6 1749.1,1694.1 1746.5,1695.5 1743.8,1696.9 1741.1,1698.3 1738.5,1699.6 1735.8,1701.0 1733.1,1702.4 1730.4,1703.7 1727.7,1705.0 1725.0,1706.3 1722.3,1707.6 1719.6,1708.9" fill="#00BFC4" stroke="#00BFC4" stroke-width="2" stroke-linejoin="round"/>
<polyline points="1725.6,1707.1 1728.3,1701.9 1727.6,1695.0 1733.0,1691.6 1733.8,1685.1 1739.6,1682.2 1743.3,1677.5 1744.1,1670.5 1751.5,1668.9 1755.1,1659.9 1761.4,1657.2 1766.7,1649.8 1770.2,1644.9 1774.2,1640.8 1774.2,1633.0 1780.6,1630.7 1782.9,1624.5 1790.5,1622.6 1793.5,1617.1 1794.4,1610.4 1800.2,1603.6 1805.3,1600.0 1810.4,1592.5 1816.9,1590.2 1819.7,1580.6 1827.4,1579.4 1828.1,1571.9 1837.5,1568.2 1840.8,1563.1 1844.8,1558.8 1848.8,1554.4 1855.3,1548.2 1860.2,1544.7 1863.8,1539.7 1866.7,1534.0 1873.0,1531.6 1879.2,1525.3 1881.0,1518.8 1887.1,1517.1 1891.6,1513.7 1899.1,1508.6 1907.3,1503.3 1909.5,1496.0 1914.0,1491.6 1916.7,1486.0 1923.0,1479.7 1928.9,1477.9 1932.7,1474.6 1940.0,1470.5 1945.9,1467.6 1952.3,1459.5 1955.5,1453.9 1965.5,1450.8 1967.4,1444.3 1975.2,1439.9 1977.4,1433.7 1984.3,1433.3 1988.6,1429.0 1994.1,1426.1 2001.0,1419.5 2004.5,1414.2 2010.9,1412.4 2015.0,1408.0 2017.9,1402.2 2024.1,1400.7 2028.8,1397.4 2033.5,1388.4 2044.0,1388.0 2047.2,1382.0 2053.4,1380.6 2058.6,1377.8 2063.7,1374.6 2069.4,1372.5 2074.3,1368.7 2081.9,1363.7 2087.9,1356.2 2096.5,1353.0 2105.2,1350.4 2109.3,1345.4 2115.0,1343.5 2119.2,1338.5 2126.3,1339.8 2131.7,1337.5 2135.6,1331.5 2142.8,1334.1 2148.3,1332.0 2154.0,1329.5 2158.4,1327.2 2160.5,1327.2 1728.7,1700.3 1737.1,1696.9 1742.4,1694.3 1747.6,1691.3 1752.6,1687.9 1760.2,1689.3 1766.2,1681.5 1773.5,1676.3 1782.4,1673.8 1788.4,1666.7 1793.5,1663.7 1800.8,1663.6 1808.0,1658.0 1810.8,1651.4 1818.5,1645.8 1824.1,1642.9 1831.8,1638.1 1838.1,1637.5 1841.9,1633.0 1848.7,1632.3 1850.8,1625.3 1858.1,1624.8 1863.1,1621.3 1864.8,1613.7 1874.8,1611.3 1883.1,1606.0 1887.8,1601.1 1893.1,1600.0 1900.0,1596.5 1905.2,1593.5 1910.4,1585.7 1914.8,1581.7 1919.1,1577.4 1925.5,1570.9 1930.1,1566.9 1934.7,1563.0 1939.4,1559.2 1944.0,1555.3 1948.6,1551.3 1955.2,1545.2 1961.8,1538.9 1966.5,1535.1 1972.9,1528.7 1980.0,1527.6 1983.7,1522.7 1988.6,1519.1 1990.7,1512.4 1997.3,1506.1 2004.5,1505.0 2006.2,1497.9 2011.3,1494.6 2017.7,1492.7 2022.4,1488.8 2024.6,1482.2 2034.1,1479.2 2036.1,1472.5 2042.4,1466.2 2050.1,1461.2 2058.6,1456.9 2059.8,1449.3 2064.5,1445.3 2071.3,1439.3 2078.5,1438.3 2082.3,1429.2 2088.1,1422.3 2092.2,1418.3 2097.1,1414.7 2100.7,1409.7 2106.1,1406.6 2112.2,1399.9 2115.2,1394.5 2120.3,1390.8 2125.0,1383.0 2128.9,1378.8 2132.2,1374.0 2138.0,1367.3 2142.6,1359.4 2146.4,1355.2 2152.5,1352.1 2152.2,1344.9 2156.1,1340.6 2156.2,1334.8 2160.5,1327.9 2160.5,1327.2 2160.5,1327.2 1827.1,1571.7 1930.6,1578.7 1992.0,1522.8" fill="none" stroke="none" marker-start="url(#t)" marker-mid="url(#t)" marker-end="url(#t)"/>
<polygon points="1724.9,1712.7 1732.3,1706.0 1739.6,1699.4 1747.0,1692.7 1754.4,1686.0 1761.8,1679.4 1769.2,1672.7 1776.6,1666.1 1784.0,1659.5 1791.4,1652.8 1798.8,1646.2 1806.2,1639.6 1813.6,1633.0 1821.1,1626.5 1828.5,1619.9 1835.9,1613.3 1843.3,1606.7 1850.8,1600.2 1858.2,1593.6 1865.6,1587.1 1873.0,1580.6 1880.5,1574.1 1887.9,1567.5 1895.4,1561.0 1902.8,1554.5 1910.2,1548.0 1917.7,1541.6 1925.1,1535.1 1932.6,1528.6 1940.0,1522.1 1947.5,1515.7 1954.9,1509.2 1962.4,1502.8 1969.8,1496.3 1977.3,1489.9 1984.7,1483.5 1992.2,1477.0 1999.6,1470.6 2007.1,1464.2 2014.5,1457.8 2022.0,1451.4 2029.5,1445.0 2036.9,1438.7 2044.4,1432.3 2051.9,1425.9 2059.3,1419.6 2066.8,1413.2 2074.3,1406.9 2081.8,1400.6 2089.3,1394.3 2096.7,1387.9 2104.2,1381.6 2111.7,1375.4 2119.2,1369.1 2126.7,1362.8 2134.2,1356.5 2141.7,1350.3 2149.2,1344.0 2156.7,1337.8 2164.2,1331.5 2156.8,1322.8 2149.4,1329.2 2142.0,1335.6 2134.7,1341.9 2127.3,1348.3 2119.9,1354.7 2112.5,1361.1 2105.1,1367.5 2097.7,1373.9 2090.2,1380.3 2082.8,1386.7 2075.4,1393.1 2068.0,1399.5 2060.6,1406.0 2053.2,1412.4 2045.7,1418.8 2038.3,1425.2 2030.9,1431.6 2023.4,1438.0 2016.0,1444.5 2008.6,1450.9 2001.1,1457.3 1993.7,1463.8 1986.3,1470.2 1978.8,1476.6 1971.4,1483.1 1963.9,1489.5 1956.5,1496.0 1949.0,1502.4 1941.6,1508.9 1934.1,1515.3 1926.7,1521.8 1919.2,1528.3 1911.8,1534.8 1904.3,1541.2 1896.9,1547.7 1889.4,1554.2 1882.0,1560.7 1874.5,1567.2 1867.0,1573.7 1859.6,1580.2 1852.1,1586.7 1844.6,1593.2 1837.2,1599.7 1829.7,1606.2 1822.2,1612.7 1814.7,1619.3 1807.3,1625.8 1799.8,1632.3 1792.3,1638.8 1784.8,1645.3 1777.3,1651.9 1769.8,1658.4 1762.3,1664.9 1754.8,1671.5 1747.3,1678.0 1739.8,1684.5 1732.3,1691.1 1724.8,1697.6 1717.3,1704.1" fill="#F8766D"/>
<circle cx="1721.07" cy="1708.44" r="5.45" fill="#F8766D"/><circle cx="2160.53" cy="1327.16" r="5.45" fill="#F8766D"/>
</g>
<rect x="1700.20" y="1309.20" width="481.20" height="417.20" fill="none" stroke="#333" stroke-width="2.2"/>
<path d="M1720.93 1727.50v11.46M1829.37 1727.50v11.46M1938.10 1727.50v11.46M2046.54 1727.50v11.46M2154.99 1727.50v11.46" stroke="#333" stroke-width="4.45" fill="none"/>
<rect x="2206.50" y="1237.70" width="481.20" height="69.30" fill="#D9D9D9" stroke="#333" stroke-width="2.2"/>
<clipPath id="c15"><rect x="2205.40" y="1308.10" width="483.40" height="419.40"/></clipPath>
<g clip-path="url(#c15)">
<polygon points="2228.7,1707.1 2230.0,1704.6 2231.5,1702.5 2233.2,1700.5 2235.2,1698.8 2237.5,1697.2 2240.0,1695.6 2242.9,1693.5 2245.2,1690.5 2246.9,1687.9 2248.6,1685.2 2250.1,1682.6 2251.7,1679.9 2253.1,1677.3 2254.6,1674.7 2256.1,1672.1 2257.7,1669.6 2259.2,1667.2 2260.9,1664.8 2262.6,1662.6 2264.5,1660.5 2266.6,1658.4 2268.6,1656.3 2270.8,1654.1 2272.9,1652.1 2275.1,1650.0 2277.2,1647.9 2279.4,1645.7 2281.6,1643.6 2283.8,1641.4 2285.9,1639.2 2288.0,1637.0 2290.1,1634.8 2292.1,1632.5 2294.2,1630.3 2296.2,1628.0 2298.3,1625.8 2300.3,1623.5 2302.3,1621.2 2304.3,1619.0 2306.3,1616.7 2308.3,1614.4 2310.3,1612.1 2312.2,1609.9 2314.2,1607.6 2316.2,1605.3 2318.2,1603.0 2320.2,1600.7 2322.2,1598.4 2324.1,1596.1 2326.1,1593.7 2328.0,1591.4 2329.9,1589.0 2331.9,1586.7 2333.7,1584.3 2335.6,1581.9 2337.5,1579.5 2339.4,1577.1 2341.3,1574.7 2343.0,1572.2 2344.8,1569.8 2346.6,1567.6 2348.4,1565.5 2350.4,1563.7 2352.7,1561.7 2355.0,1559.7 2357.3,1557.8 2359.6,1555.8 2361.9,1553.8 2364.2,1551.9 2366.5,1549.9 2368.7,1548.0 2371.0,1546.1 2373.3,1544.3 2375.7,1542.6 2378.1,1540.9 2380.6,1539.2 2383.1,1537.4 2385.6,1535.6 2388.1,1533.7 2390.6,1531.7 2393.0,1529.4 2395.2,1526.9 2397.1,1524.4 2398.9,1521.9 2400.7,1519.6 2402.5,1517.3 2404.3,1515.2 2406.3,1513.4 2408.5,1511.7 2410.8,1510.1 2413.3,1508.4 2415.8,1506.8 2418.4,1505.1 2421.0,1503.3 2423.6,1501.4 2426.1,1499.1 2428.3,1496.5 2430.2,1493.9 2432.0,1491.3 2433.6,1488.8 2435.3,1486.2 2436.9,1483.8 2438.5,1481.5 2440.2,1479.3 2442.2,1477.5 2444.4,1475.5 2446.6,1473.6 2448.9,1471.6 2451.2,1469.6 2453.5,1467.7 2455.8,1465.7 2458.1,1463.8 2460.4,1461.8 2462.7,1459.9 2465.0,1458.2 2467.3,1456.5 2469.8,1454.8 2472.3,1453.1 2474.8,1451.4 2477.4,1449.7 2479.9,1447.8 2482.3,1446.0 2484.7,1444.1 2487.1,1442.2 2489.5,1440.3 2491.8,1438.3 2494.2,1436.4 2496.5,1434.5 2498.8,1432.6 2501.2,1430.7 2503.5,1428.9 2505.9,1427.0 2508.2,1425.2 2510.6,1423.5 2513.0,1421.9 2515.4,1420.4 2518.0,1418.9 2520.6,1417.5 2523.2,1416.0 2525.9,1414.6 2528.6,1413.1 2531.3,1411.5 2534.0,1409.9 2536.6,1408.1 2539.1,1406.3 2541.5,1404.5 2544.0,1402.7 2546.4,1400.9 2548.8,1399.0 2551.2,1397.2 2553.6,1395.3 2556.0,1393.5 2558.4,1391.7 2560.8,1389.8 2563.2,1388.0 2565.6,1386.2 2568.0,1384.5 2570.4,1382.8 2572.9,1381.1 2575.3,1379.5 2577.9,1378.0 2580.4,1376.4 2583.0,1374.9 2585.6,1373.3 2588.3,1371.7 2590.9,1370.1 2593.4,1368.4 2596.0,1366.6 2598.5,1364.9 2600.9,1363.1 2603.4,1361.3 2605.8,1359.5 2608.3,1357.8 2610.7,1356.0 2613.2,1354.3 2615.6,1352.6 2618.1,1351.0 2620.6,1349.4 2623.0,1347.9 2625.6,1346.5 2628.2,1345.1 2630.9,1343.9 2633.6,1342.6 2636.3,1341.4 2639.1,1340.1 2641.9,1338.8 2644.7,1337.5 2647.4,1336.0 2650.1,1334.5 2652.8,1333.0 2655.4,1331.5 2658.0,1330.0 2660.7,1328.4 2663.4,1326.8 2665.2,1325.4 2667.3,1325.2 2668.9,1321.5 2668.2,1324.3 2667.3,1326.7 2666.1,1329.1 2664.7,1331.5 2663.1,1333.7 2661.3,1335.8 2659.3,1337.9 2657.2,1339.9 2655.0,1341.9 2652.6,1344.1 2650.5,1346.5 2648.5,1348.8 2646.6,1351.1 2644.6,1353.4 2642.6,1355.7 2640.7,1357.9 2638.7,1360.2 2636.7,1362.4 2634.6,1364.5 2632.5,1366.7 2630.4,1368.9 2628.3,1371.1 2626.3,1373.2 2624.2,1375.4 2622.1,1377.5 2619.9,1379.5 2617.8,1381.5 2615.7,1383.4 2613.5,1384.9 2611.1,1386.2 2608.4,1387.5 2605.5,1389.0 2602.6,1391.0 2600.1,1393.3 2597.9,1395.8 2595.9,1398.2 2594.0,1400.8 2592.2,1403.3 2590.5,1405.8 2588.8,1408.2 2587.1,1410.7 2585.3,1413.0 2583.5,1415.3 2581.7,1417.4 2579.8,1419.4 2577.6,1421.1 2575.3,1422.8 2572.8,1424.5 2570.2,1426.4 2567.8,1428.5 2565.4,1430.6 2563.2,1432.8 2561.1,1435.0 2559.0,1437.2 2556.9,1439.4 2554.8,1441.5 2552.7,1443.7 2550.5,1445.9 2548.4,1448.0 2546.3,1450.2 2544.2,1452.4 2542.2,1454.5 2540.0,1456.6 2537.9,1458.7 2535.8,1460.7 2533.6,1462.5 2531.3,1464.3 2528.9,1466.0 2526.4,1467.8 2523.9,1469.6 2521.5,1471.5 2519.1,1473.4 2516.7,1475.2 2514.3,1477.1 2511.9,1478.9 2509.5,1480.8 2507.2,1482.7 2504.8,1484.6 2502.4,1486.6 2500.1,1488.5 2497.7,1490.5 2495.4,1492.5 2493.1,1494.7 2490.9,1497.0 2488.8,1499.2 2486.8,1501.3 2484.7,1503.2 2482.6,1504.9 2480.3,1506.5 2477.9,1507.9 2475.3,1509.3 2472.6,1510.6 2469.8,1512.1 2467.0,1513.8 2464.3,1515.6 2461.8,1517.7 2459.4,1519.9 2457.3,1522.1 2455.2,1524.4 2453.1,1526.6 2451.1,1528.7 2449.0,1530.7 2446.8,1532.6 2444.5,1534.5 2442.2,1536.5 2439.9,1538.5 2437.6,1540.4 2435.3,1542.4 2433.0,1544.4 2430.7,1546.3 2428.4,1548.4 2426.1,1550.4 2423.8,1552.5 2421.6,1554.6 2419.4,1556.8 2417.2,1559.0 2415.1,1561.2 2413.0,1563.4 2410.9,1565.6 2408.8,1567.8 2406.7,1570.0 2404.6,1572.3 2402.6,1574.7 2400.6,1577.1 2398.8,1579.5 2396.9,1581.8 2395.0,1584.1 2393.2,1586.3 2391.2,1588.4 2389.3,1590.2 2387.2,1591.7 2385.0,1592.9 2382.5,1593.8 2379.8,1594.5 2376.8,1595.2 2373.7,1596.1 2370.5,1597.3 2367.4,1599.0 2364.6,1601.0 2362.2,1603.2 2359.9,1605.4 2357.8,1607.6 2355.7,1609.8 2353.6,1612.0 2351.5,1614.2 2349.5,1616.3 2347.4,1618.4 2345.3,1620.4 2343.0,1622.3 2340.8,1624.1 2338.4,1625.9 2336.1,1627.7 2333.6,1629.5 2331.2,1631.2 2328.7,1633.0 2326.3,1634.8 2323.8,1636.5 2321.4,1638.3 2319.0,1640.0 2316.5,1641.6 2313.9,1643.3 2311.4,1645.0 2308.8,1646.8 2306.3,1648.7 2303.9,1650.7 2301.5,1652.8 2299.2,1654.9 2297.0,1657.1 2294.9,1659.3 2292.8,1661.5 2290.7,1663.7 2288.6,1665.9 2286.6,1668.1 2284.5,1670.2 2282.4,1672.2 2280.2,1674.2 2277.9,1676.1 2275.7,1678.0 2273.3,1679.9 2271.0,1681.8 2268.7,1683.7 2266.3,1685.6 2264.0,1687.5 2261.6,1689.3 2259.2,1691.2 2256.8,1693.0 2254.4,1694.8 2252.1,1696.6 2249.7,1698.3 2247.3,1699.9 2244.8,1701.5 2242.3,1702.9 2239.7,1704.3 2237.1,1705.6 2234.4,1706.8 2231.7,1707.9 2229.0,1709.0 2226.2,1710.0" fill="#00BFC4" stroke="#00BFC4" stroke-width="2" stroke-linejoin="round"/>
<polyline points="2231.7,1702.6 2235.2,1698.9 2245.4,1696.0 2246.3,1687.5 2249.6,1682.3 2255.6,1678.7 2258.7,1673.6 2261.6,1668.7 2264.7,1664.4 2271.1,1658.7 2277.0,1652.0 2284.1,1646.1 2287.8,1636.8 2294.2,1634.5 2298.3,1629.9 2302.6,1625.6 2304.9,1619.5 2310.3,1616.2 2313.2,1610.7 2318.8,1607.5 2320.0,1600.6 2327.1,1598.6 2330.7,1593.6 2334.2,1588.5 2338.1,1580.0 2346.1,1574.5 2348.8,1569.5 2350.2,1563.4 2359.4,1560.2 2363.9,1556.3 2365.8,1549.1 2375.5,1547.3 2380.2,1538.6 2387.4,1538.0 2395.0,1531.4 2399.4,1526.2 2400.4,1519.3 2406.6,1517.6 2412.6,1512.6 2418.9,1505.8 2426.1,1499.1 2432.7,1495.7 2434.2,1489.1 2437.3,1480.5 2442.0,1477.2 2449.0,1476.3 2451.4,1469.8 2458.8,1464.5 2464.9,1462.8 2469.4,1459.5 2474.5,1456.4 2479.6,1452.8 2484.5,1448.7 2489.2,1444.8 2493.2,1435.2 2498.0,1431.6 2507.9,1429.6 2513.5,1422.8 2519.8,1422.1 2522.9,1415.4 2527.8,1411.8 2533.4,1409.0 2543.6,1407.3 2548.6,1403.8 2555.9,1398.2 2562.8,1392.5 2568.9,1385.7 2574.9,1384.3 2579.6,1380.9 2583.0,1374.9 2592.6,1372.7 2597.7,1369.1 2603.1,1366.1 2609.1,1358.8 2615.3,1357.4 2622.4,1352.4 2625.4,1346.2 2632.0,1346.3 2640.5,1343.2 2649.3,1339.4 2654.6,1336.3 2662.2,1331.0 2666.8,1327.2 2235.7,1702.7 2243.4,1699.1 2249.3,1697.8 2253.6,1693.7 2258.8,1690.6 2264.3,1683.0 2269.0,1679.4 2273.7,1675.7 2279.5,1673.3 2284.0,1669.7 2286.2,1663.6 2290.1,1659.0 2300.2,1655.9 2304.1,1645.8 2312.0,1640.4 2317.0,1637.1 2322.0,1634.0 2328.0,1631.9 2331.5,1626.5 2337.7,1625.0 2341.0,1619.9 2344.7,1615.6 2348.9,1611.6 2356.2,1610.3 2357.3,1602.7 2362.5,1598.4 2372.5,1592.6 2381.5,1590.7 2385.3,1588.6 2388.7,1585.9 2394.8,1580.1 2403.6,1575.5 2404.3,1567.7 2410.3,1565.0 2417.7,1559.4 2421.2,1549.8 2426.6,1546.3 2430.6,1541.6 2435.1,1537.5 2442.3,1536.6 2446.3,1527.8 2453.9,1527.3 2455.1,1520.0 2462.0,1512.6 2468.0,1508.8 2476.5,1505.4 2482.5,1500.7 2491.8,1497.9 2495.5,1487.9 2504.5,1484.2 2510.0,1476.5 2517.0,1470.6 2522.0,1467.0 2527.1,1463.5 2531.4,1459.8 2535.4,1456.0 2541.8,1450.0 2548.3,1443.7 2556.7,1439.2 2560.7,1434.7 2562.8,1427.8 2570.5,1421.4 2577.3,1420.7 2580.6,1416.4 2583.9,1408.4 2589.3,1401.2 2595.3,1393.5 2600.6,1388.5 2607.2,1385.0 2616.0,1383.8 2619.4,1374.8 2624.1,1371.2 2627.6,1366.2 2634.8,1364.7 2636.0,1357.7 2643.2,1356.2 2647.3,1351.7 2647.7,1344.1 2652.3,1339.0 2656.6,1335.1 2662.4,1333.1 2662.7,1327.3 2666.8,1327.2 2666.8,1327.2 2337.3,1575.9 2347.1,1563.3 2439.9,1475.8 2460.9,1457.7 2391.0,1591.3 2534.4,1464.6 2497.2,1495.4" fill="none" stroke="none" marker-start="url(#t)" marker-mid="url(#t)" marker-end="url(#t)"/>
<polygon points="2230.9,1715.1 2238.4,1709.3 2246.2,1702.6 2253.9,1694.4 2261.4,1685.5 2268.7,1677.1 2276.0,1669.4 2283.4,1662.1 2290.8,1655.0 2298.2,1648.0 2305.6,1640.9 2313.0,1633.9 2320.5,1627.0 2327.9,1620.0 2335.3,1613.1 2342.8,1606.2 2350.2,1599.4 2357.6,1592.5 2365.1,1585.7 2372.5,1579.0 2379.9,1572.2 2387.4,1565.5 2394.8,1558.8 2402.3,1552.2 2409.7,1545.6 2417.1,1539.0 2424.6,1532.4 2432.0,1525.9 2439.4,1519.4 2446.9,1512.9 2454.3,1506.4 2461.8,1500.0 2469.2,1493.6 2476.6,1487.2 2484.1,1480.9 2491.5,1474.6 2499.0,1468.3 2506.4,1462.0 2513.9,1455.8 2521.3,1449.6 2528.7,1443.4 2536.2,1437.3 2543.6,1431.2 2551.1,1425.1 2558.5,1419.1 2566.0,1413.0 2573.4,1407.0 2580.9,1401.1 2588.3,1395.1 2595.8,1389.2 2603.2,1383.3 2610.7,1377.5 2618.1,1371.7 2625.6,1365.9 2633.0,1360.1 2640.5,1354.4 2647.9,1348.7 2655.4,1343.0 2662.8,1337.4 2670.3,1331.7 2663.4,1322.6 2655.9,1328.3 2648.5,1334.0 2641.0,1339.7 2633.6,1345.5 2626.2,1351.3 2618.7,1357.1 2611.3,1362.9 2603.8,1368.8 2596.4,1374.7 2588.9,1380.6 2581.5,1386.6 2574.0,1392.5 2566.6,1398.5 2559.1,1404.6 2551.7,1410.6 2544.2,1416.7 2536.8,1422.8 2529.3,1429.0 2521.9,1435.1 2514.4,1441.3 2507.0,1447.6 2499.5,1453.8 2492.1,1460.1 2484.6,1466.4 2477.1,1472.7 2469.7,1479.1 2462.2,1485.5 2454.8,1491.9 2447.3,1498.3 2439.9,1504.8 2432.4,1511.3 2425.0,1517.8 2417.5,1524.4 2410.0,1531.0 2402.6,1537.6 2395.1,1544.2 2387.7,1550.9 2380.2,1557.6 2372.7,1564.3 2365.3,1571.0 2357.8,1577.8 2350.4,1584.6 2342.9,1591.4 2335.4,1598.3 2328.0,1605.2 2320.5,1612.1 2313.0,1619.0 2305.6,1626.0 2298.1,1633.0 2290.6,1640.0 2283.2,1647.0 2275.6,1654.2 2268.1,1661.6 2260.5,1669.6 2252.9,1678.2 2245.5,1686.8 2238.3,1694.4 2231.2,1700.5 2223.9,1706.0" fill="#F8766D"/>
<circle cx="2227.37" cy="1708.44" r="5.45" fill="#F8766D"/><circle cx="2666.83" cy="1327.16" r="5.45" fill="#F8766D"/>
</g>
<rect x="2206.50" y="1309.20" width="481.20" height="417.20" fill="none" stroke="#333" stroke-width="2.2"/>
<path d="M2226.93 1727.50v11.46M2355.78 1727.50v11.46M2484.35 1727.50v11.46M2613.20 1727.50v11.46" stroke="#333" stroke-width="4.45" fill="none"/>
<rect x="181.30" y="1807.10" width="481.20" height="69.30" fill="#D9D9D9" stroke="#333" stroke-width="2.2"/>
<clipPath id="c16"><rect x="180.20" y="1877.50" width="483.40" height="419.40"/></clipPath>
<g clip-path="url(#c16)">
<polygon points="203.7,2274.6 204.8,2271.8 205.8,2269.0 207.0,2266.4 208.2,2263.7 209.5,2261.1 210.9,2258.6 212.4,2256.1 214.0,2253.6 215.6,2251.2 217.3,2248.8 219.1,2246.4 220.9,2244.0 222.7,2241.6 224.5,2239.2 226.4,2236.9 228.3,2234.6 230.2,2232.3 232.1,2229.9 234.0,2227.5 235.9,2225.0 237.7,2222.6 239.5,2220.2 241.3,2217.8 243.1,2215.3 245.0,2212.9 246.8,2210.5 248.5,2208.0 250.3,2205.7 252.1,2203.3 254.0,2201.1 255.9,2198.9 257.9,2196.7 260.0,2194.5 262.0,2192.2 264.1,2189.9 266.1,2187.5 268.1,2185.1 269.9,2182.6 271.7,2180.0 273.4,2177.5 275.1,2175.0 276.8,2172.6 278.6,2170.2 280.3,2167.9 282.2,2165.5 284.0,2163.3 286.0,2161.0 287.9,2158.8 289.9,2156.6 291.9,2154.4 294.0,2152.3 296.1,2150.3 298.2,2148.2 300.4,2146.2 302.8,2144.1 305.0,2141.7 307.1,2139.2 309.0,2136.7 310.7,2134.1 312.4,2131.6 314.1,2129.1 315.8,2126.8 317.5,2124.7 319.4,2122.9 321.5,2121.2 323.9,2119.6 326.3,2118.0 328.8,2116.5 331.4,2115.0 334.1,2113.5 336.8,2111.9 339.4,2110.1 342.1,2108.2 344.8,2105.6 346.7,2102.3 347.9,2099.2 348.9,2096.2 349.8,2093.4 350.8,2090.6 351.7,2088.3 352.9,2086.5 354.9,2085.0 357.2,2083.2 359.6,2081.5 362.0,2079.7 364.5,2078.0 367.0,2076.3 369.5,2074.4 372.0,2072.5 374.4,2070.5 376.7,2068.5 379.0,2066.5 381.3,2064.5 383.5,2062.6 385.8,2060.6 388.1,2058.6 390.4,2056.6 392.6,2054.6 394.9,2052.6 397.2,2050.6 399.4,2048.7 401.7,2046.8 404.0,2044.8 406.4,2042.9 408.7,2041.0 411.1,2039.1 413.4,2037.1 415.7,2035.1 418.0,2033.2 420.3,2031.2 422.6,2029.2 424.9,2027.3 427.2,2025.3 429.5,2023.3 431.7,2021.4 434.0,2019.4 436.3,2017.6 438.6,2015.8 441.0,2014.0 443.4,2012.2 445.9,2010.5 448.3,2008.7 450.8,2006.9 453.3,2005.1 455.7,2003.2 458.1,2001.4 460.5,1999.5 462.9,1997.7 465.3,1995.8 467.7,1994.0 470.0,1992.1 472.4,1990.2 474.8,1988.3 477.2,1986.4 479.5,1984.4 481.8,1982.4 484.2,1980.5 486.4,1978.5 488.7,1976.5 491.0,1974.5 493.3,1972.5 495.5,1970.5 497.8,1968.5 500.1,1966.5 502.3,1964.5 504.6,1962.5 506.8,1960.6 509.0,1959.0 511.4,1957.4 513.8,1956.0 516.4,1954.7 519.1,1953.4 521.9,1952.1 524.6,1950.7 527.3,1949.3 529.9,1948.0 532.6,1946.8 535.3,1945.5 538.1,1944.3 540.9,1943.0 543.7,1941.7 546.4,1940.3 549.2,1938.8 551.9,1937.2 554.5,1935.5 557.1,1933.8 559.6,1932.1 562.1,1930.3 564.6,1928.5 567.0,1926.7 569.5,1924.9 571.9,1923.2 574.3,1921.4 576.8,1919.7 579.2,1918.1 581.7,1916.5 584.2,1914.9 586.8,1913.5 589.3,1912.1 592.0,1910.7 594.6,1909.4 597.3,1908.1 600.0,1906.8 602.7,1905.6 605.4,1904.5 608.2,1903.3 610.9,1902.2 613.7,1901.2 616.4,1900.2 619.2,1899.4 622.1,1898.5 624.9,1897.8 627.8,1897.1 630.7,1896.5 633.8,1895.9 636.6,1895.0 638.9,1894.6 641.6,1894.6 643.6,1891.3 643.2,1894.2 642.8,1897.1 642.2,1899.8 641.4,1902.5 640.5,1905.2 639.4,1907.8 638.2,1910.4 636.8,1913.0 635.4,1915.5 633.8,1918.2 632.4,1920.8 630.9,1923.3 629.4,1925.8 627.7,1928.1 625.9,1930.6 624.2,1933.1 622.4,1935.5 620.7,1937.9 618.9,1940.3 617.1,1942.7 615.3,1945.1 613.4,1947.4 611.5,1949.7 609.6,1951.9 607.6,1954.1 605.6,1956.3 603.5,1958.5 601.5,1960.7 599.4,1963.0 597.4,1965.2 595.3,1967.5 593.3,1969.7 591.3,1971.9 589.2,1974.1 587.2,1976.4 585.1,1978.6 583.1,1980.8 581.0,1983.0 579.0,1985.2 576.9,1987.3 574.8,1989.5 572.8,1991.6 570.6,1993.7 568.4,1995.7 566.2,1997.8 564.1,1999.9 561.9,2002.0 559.7,2004.0 557.5,2006.0 555.2,2008.0 553.0,2010.0 550.7,2012.0 548.4,2013.9 546.2,2015.8 543.8,2017.8 541.5,2019.7 539.2,2021.6 536.8,2023.5 534.5,2025.4 532.1,2027.3 529.7,2029.2 527.4,2031.3 525.1,2033.3 522.9,2035.4 520.6,2037.4 518.4,2039.5 516.2,2041.6 514.0,2043.7 511.8,2045.9 509.7,2048.0 507.5,2050.2 505.4,2052.4 503.3,2054.6 501.2,2056.9 499.1,2059.4 497.2,2061.9 495.4,2064.5 493.7,2067.1 492.1,2069.6 490.4,2072.0 488.7,2074.4 487.0,2076.6 485.2,2078.5 483.2,2080.1 481.0,2081.6 478.5,2082.8 475.9,2084.0 473.0,2085.2 470.1,2086.7 467.2,2088.5 464.6,2090.6 462.3,2092.6 460.0,2094.6 457.7,2096.6 455.5,2098.6 453.2,2100.6 450.9,2102.6 448.7,2104.6 446.4,2106.6 444.1,2108.6 441.8,2110.5 439.6,2112.5 437.3,2114.4 435.0,2116.3 432.6,2118.2 430.3,2120.2 427.9,2122.1 425.6,2124.0 423.3,2125.9 421.0,2127.9 418.6,2129.8 416.3,2131.7 414.0,2133.7 411.6,2135.6 409.3,2137.6 407.0,2139.6 404.7,2141.6 402.5,2143.6 400.2,2145.6 397.9,2147.6 395.6,2149.6 393.4,2151.6 391.1,2153.6 388.8,2155.5 386.6,2157.5 384.4,2159.2 382.1,2160.8 379.7,2162.3 377.1,2163.7 374.5,2165.1 371.8,2166.4 369.1,2167.8 366.3,2169.2 363.5,2170.8 360.8,2172.6 358.3,2174.5 355.9,2176.3 353.5,2178.2 351.1,2180.1 348.7,2182.0 346.3,2183.9 344.0,2185.8 341.6,2187.7 339.3,2189.6 336.9,2191.5 334.6,2193.4 332.2,2195.3 329.9,2197.3 327.5,2199.2 325.2,2201.2 322.9,2203.1 320.6,2205.0 318.3,2207.0 316.0,2208.9 313.7,2210.8 311.4,2212.5 309.0,2214.2 306.6,2215.9 304.1,2217.4 301.6,2219.0 299.0,2220.5 296.4,2222.0 293.7,2223.5 291.1,2225.1 288.5,2226.6 285.8,2228.3 283.3,2230.0 280.7,2231.7 278.2,2233.5 275.8,2235.2 273.3,2237.0 270.8,2238.8 268.4,2240.5 265.9,2242.3 263.5,2244.0 261.0,2245.7 258.5,2247.4 256.1,2249.1 253.6,2250.7 251.0,2252.3 248.5,2253.9 246.0,2255.5 243.4,2257.1 240.8,2258.6 238.3,2260.1 235.7,2261.6 233.0,2263.1 230.4,2264.6 227.8,2266.0 225.2,2267.4 222.5,2268.8 219.9,2270.2 217.2,2271.5 214.5,2272.8 211.8,2274.0 209.1,2275.3 206.3,2276.5 203.6,2277.6 200.8,2278.8" fill="#00BFC4" stroke="#00BFC4" stroke-width="2" stroke-linejoin="round"/>
<polyline points="206.2,2275.7 210.5,2268.0 210.0,2258.0 215.3,2254.5 217.7,2249.0 222.6,2241.5 230.4,2236.4 231.6,2229.5 234.7,2224.1 244.3,2220.0 247.3,2214.7 251.2,2210.0 254.5,2205.3 260.6,2199.1 264.5,2194.5 264.9,2186.5 274.5,2181.9 278.1,2177.2 278.8,2170.4 284.8,2163.9 289.4,2156.1 294.1,2152.4 303.0,2149.0 308.0,2144.3 311.5,2138.5 313.1,2132.0 318.9,2129.2 321.7,2125.5 324.4,2120.3 330.2,2118.9 334.1,2113.6 341.3,2112.8 344.1,2105.0 351.2,2100.4 353.5,2094.6 352.5,2088.7 356.6,2087.1 363.9,2082.4 368.6,2078.6 374.4,2075.6 379.2,2071.4 383.8,2062.9 392.7,2059.3 397.3,2055.4 401.6,2051.2 408.8,2045.9 410.4,2038.2 416.1,2035.6 420.4,2031.3 429.2,2027.7 434.2,2019.6 441.0,2018.9 442.7,2011.3 448.9,2009.5 457.8,2005.9 459.7,1998.5 467.5,1998.7 472.1,1989.8 479.5,1989.2 480.9,1981.3 491.1,1979.2 495.8,1975.4 502.4,1969.2 506.5,1964.7 513.1,1960.2 518.5,1952.2 528.7,1952.0 532.2,1946.0 539.6,1947.7 545.3,1945.1 553.9,1940.4 558.7,1936.1 564.3,1933.4 571.4,1927.6 576.0,1923.8 582.6,1917.9 591.1,1915.3 598.9,1911.6 607.0,1908.0 611.2,1903.0 616.6,1900.7 621.9,1898.0 631.3,1899.7 639.0,1896.6 641.6,1896.6 207.6,2272.0 217.8,2272.8 221.9,2267.6 226.2,2263.1 236.0,2262.2 241.2,2259.2 246.7,2251.0 251.9,2248.2 256.8,2244.8 261.8,2241.6 266.5,2237.9 272.8,2236.3 276.3,2230.7 283.9,2225.2 292.4,2221.2 300.1,2216.6 304.6,2212.8 312.7,2209.5 318.4,2207.1 321.0,2200.9 325.3,2196.5 331.7,2194.7 335.9,2190.3 339.5,2185.1 344.6,2181.7 349.3,2177.8 354.2,2174.1 361.5,2167.5 369.2,2168.1 377.3,2164.0 380.2,2157.9 384.2,2154.6 391.7,2154.2 393.8,2147.5 400.0,2140.8 406.4,2138.9 409.3,2132.9 416.1,2131.5 419.1,2125.6 423.8,2121.8 430.5,2115.7 437.7,2110.2 444.5,2104.4 450.0,2101.5 453.4,2096.3 461.7,2091.9 468.7,2084.4 478.6,2083.0 483.3,2076.5 489.0,2074.6 491.1,2065.3 496.6,2057.4 502.8,2050.0 507.3,2045.7 513.5,2038.8 518.2,2034.8 524.9,2033.1 527.6,2026.7 534.8,2020.9 539.6,2017.4 543.6,2012.8 553.4,2010.4 555.6,2004.0 560.8,2000.8 567.0,1998.6 570.6,1993.6 572.5,1987.3 576.8,1983.1 581.0,1978.9 585.2,1974.5 590.9,1971.6 595.1,1967.3 599.5,1958.9 602.8,1953.7 607.3,1949.8 612.6,1943.0 616.2,1938.3 621.2,1934.6 623.2,1928.6 626.8,1924.1 629.7,1919.3 634.2,1911.5 638.7,1907.5 638.2,1901.5 641.6,1896.6 641.6,1896.6 641.6,1896.6 549.1,2027.1 560.2,2016.5 535.9,2029.1 485.6,2082.4 475.8,2088.6 432.5,2124.9 443.7,2116.5 319.3,2210.7 350.1,2085.8" fill="none" stroke="none" marker-start="url(#t)" marker-mid="url(#t)" marker-end="url(#t)"/>
<polygon points="206.0,2282.1 213.4,2275.4 220.7,2268.8 228.1,2262.1 235.5,2255.4 242.9,2248.8 250.3,2242.1 257.7,2235.5 265.1,2228.9 272.5,2222.2 279.9,2215.6 287.3,2209.0 294.7,2202.4 302.2,2195.9 309.6,2189.3 317.0,2182.7 324.4,2176.1 331.9,2169.6 339.3,2163.0 346.7,2156.5 354.1,2150.0 361.6,2143.5 369.0,2136.9 376.5,2130.4 383.9,2123.9 391.3,2117.4 398.8,2111.0 406.2,2104.5 413.7,2098.0 421.1,2091.5 428.6,2085.1 436.0,2078.6 443.5,2072.2 450.9,2065.7 458.4,2059.3 465.8,2052.9 473.3,2046.4 480.7,2040.0 488.2,2033.6 495.6,2027.2 503.1,2020.8 510.6,2014.4 518.0,2008.1 525.5,2001.7 533.0,1995.3 540.4,1989.0 547.9,1982.6 555.4,1976.3 562.9,1970.0 570.4,1963.7 577.8,1957.3 585.3,1951.0 592.8,1944.8 600.3,1938.5 607.8,1932.2 615.3,1925.9 622.8,1919.7 630.3,1913.4 637.8,1907.2 645.3,1900.9 637.9,1892.2 630.5,1898.6 623.1,1905.0 615.8,1911.3 608.4,1917.7 601.0,1924.1 593.6,1930.5 586.2,1936.9 578.8,1943.3 571.3,1949.7 563.9,1956.1 556.5,1962.5 549.1,1968.9 541.7,1975.4 534.3,1981.8 526.8,1988.2 519.4,1994.6 512.0,2001.0 504.5,2007.4 497.1,2013.9 489.7,2020.3 482.2,2026.7 474.8,2033.2 467.4,2039.6 459.9,2046.0 452.5,2052.5 445.0,2058.9 437.6,2065.4 430.1,2071.8 422.7,2078.3 415.2,2084.7 407.8,2091.2 400.3,2097.7 392.9,2104.2 385.4,2110.6 378.0,2117.1 370.5,2123.6 363.1,2130.1 355.6,2136.6 348.1,2143.1 340.7,2149.6 333.2,2156.1 325.7,2162.6 318.3,2169.1 310.8,2175.6 303.3,2182.1 295.8,2188.7 288.4,2195.2 280.9,2201.7 273.4,2208.2 265.9,2214.7 258.4,2221.3 250.9,2227.8 243.4,2234.3 235.9,2240.9 228.4,2247.4 220.9,2253.9 213.4,2260.5 205.9,2267.0 198.4,2273.5" fill="#F8766D"/>
<circle cx="202.17" cy="2277.84" r="5.45" fill="#F8766D"/><circle cx="641.63" cy="1896.56" r="5.45" fill="#F8766D"/>
</g>
<rect x="181.30" y="1878.60" width="481.20" height="417.20" fill="none" stroke="#333" stroke-width="2.2"/>
<path d="M201.93 2296.90v11.46M323.23 2296.90v11.46M444.53 2296.90v11.46M565.84 2296.90v11.46" stroke="#333" stroke-width="4.45" fill="none"/>
<path d="M168.74 2277.84h11.46M168.74 2182.52h11.46M168.74 2087.20h11.46M168.74 1991.88h11.46M168.74 1896.56h11.46" stroke="#333" stroke-width="4.45" fill="none"/>
<rect x="687.60" y="1807.10" width="481.20" height="69.30" fill="#D9D9D9" stroke="#333" stroke-width="2.2"/>
<clipPath id="c17"><rect x="686.50" y="1877.50" width="483.40" height="419.40"/></clipPath>
<g clip-path="url(#c17)">
<polygon points="706.7,2278.2 706.7,2275.2 706.8,2272.2 706.9,2269.2 707.0,2266.2 707.2,2263.2 707.4,2260.2 707.6,2257.2 707.7,2254.2 707.9,2251.2 708.2,2248.3 708.4,2245.3 708.7,2242.4 709.0,2239.4 709.4,2236.4 709.8,2233.5 710.2,2230.5 710.6,2227.5 711.0,2224.5 711.4,2221.5 711.8,2218.5 712.2,2215.6 712.7,2212.6 713.1,2209.6 713.5,2206.6 714.0,2203.7 714.5,2200.7 714.9,2197.8 715.4,2194.8 715.9,2191.9 716.5,2188.9 717.0,2186.0 717.6,2183.1 718.2,2180.1 718.9,2177.2 719.5,2174.2 720.1,2171.3 720.7,2168.3 721.3,2165.3 721.9,2162.4 722.4,2159.4 723.0,2156.4 723.6,2153.4 724.1,2150.5 724.7,2147.6 725.3,2144.6 725.9,2141.7 726.6,2138.9 727.3,2136.0 728.0,2133.1 728.8,2130.3 729.7,2127.4 730.5,2124.6 731.4,2121.7 732.4,2118.8 733.3,2116.0 734.2,2113.1 735.1,2110.2 736.1,2107.4 737.0,2104.5 738.0,2101.7 738.9,2098.8 739.9,2096.0 740.9,2093.2 741.9,2090.4 742.9,2087.6 744.0,2084.8 745.1,2082.0 746.2,2079.3 747.3,2076.6 748.5,2073.8 749.8,2071.1 751.0,2068.3 752.2,2065.6 753.5,2062.8 754.7,2060.1 755.9,2057.3 757.1,2054.5 758.3,2051.8 759.6,2049.0 760.8,2046.2 762.0,2043.5 763.2,2040.7 764.4,2037.9 765.6,2035.1 766.7,2032.3 767.9,2029.5 769.0,2026.7 770.2,2024.0 771.4,2021.3 772.6,2018.7 774.0,2016.0 775.3,2013.3 776.7,2010.7 778.1,2008.1 779.6,2005.5 781.1,2003.1 782.7,2000.8 784.4,1998.6 786.2,1996.5 788.2,1994.5 790.2,1992.4 792.4,1990.4 794.7,1988.3 797.0,1986.2 799.2,1984.1 801.4,1981.9 803.5,1979.8 805.6,1977.7 807.8,1975.5 809.9,1973.4 812.0,1971.3 814.2,1969.1 816.3,1967.0 818.4,1964.8 820.5,1962.6 822.6,1960.5 824.7,1958.4 826.8,1956.3 828.9,1954.2 831.1,1952.2 833.3,1950.3 835.6,1948.3 837.8,1946.4 840.2,1944.5 842.5,1942.6 844.8,1940.8 847.2,1938.9 849.6,1936.9 852.0,1934.9 854.3,1932.9 856.6,1931.1 858.8,1929.4 861.1,1927.9 863.4,1926.7 865.9,1925.7 868.6,1924.7 871.4,1923.8 874.3,1923.0 877.2,1922.1 880.1,1921.2 882.9,1920.4 885.8,1919.6 888.7,1918.9 891.7,1918.1 894.6,1917.2 897.6,1916.3 900.6,1915.3 903.6,1914.0 906.4,1912.6 909.2,1911.2 911.8,1909.9 914.4,1908.8 916.9,1907.9 919.5,1907.3 922.3,1906.7 925.2,1906.2 928.1,1905.7 931.1,1905.3 934.1,1904.9 937.1,1904.5 940.1,1904.1 943.1,1903.8 946.1,1903.4 949.1,1903.0 952.1,1902.6 955.1,1902.2 958.0,1901.8 961.0,1901.5 964.0,1901.1 967.0,1900.8 970.0,1900.4 972.9,1900.1 975.9,1899.9 978.9,1899.6 981.9,1899.3 984.9,1899.0 987.9,1898.8 990.9,1898.5 993.9,1898.3 996.8,1898.1 999.8,1897.9 1002.8,1897.8 1005.8,1897.6 1008.8,1897.5 1011.8,1897.4 1014.8,1897.2 1017.8,1897.1 1020.8,1897.0 1023.8,1896.9 1026.9,1896.8 1029.9,1896.7 1032.9,1896.6 1035.9,1896.5 1038.9,1896.4 1041.9,1896.3 1044.9,1896.2 1047.9,1896.1 1050.9,1896.0 1053.9,1895.9 1056.9,1895.9 1059.9,1895.8 1062.9,1895.8 1065.9,1895.8 1069.0,1895.7 1072.0,1895.7 1075.0,1895.7 1078.0,1895.7 1081.0,1895.6 1084.0,1895.6 1087.0,1895.6 1090.1,1895.5 1093.1,1895.5 1096.1,1895.5 1099.1,1895.4 1102.1,1895.4 1105.1,1895.4 1108.1,1895.3 1111.1,1895.3 1114.1,1895.3 1117.2,1895.3 1120.2,1895.3 1123.2,1895.3 1126.2,1895.3 1129.2,1895.3 1132.2,1895.3 1135.2,1895.3 1138.3,1895.3 1141.3,1895.3 1144.3,1895.3 1147.3,1895.3 1149.4,1897.1 1149.4,1900.2 1149.4,1903.2 1149.4,1906.2 1149.4,1909.2 1149.4,1912.2 1149.4,1915.3 1149.4,1918.3 1149.4,1921.3 1149.4,1924.3 1149.4,1927.3 1149.4,1930.4 1149.4,1933.4 1149.4,1936.4 1149.4,1939.4 1149.4,1942.4 1149.4,1945.4 1149.4,1948.4 1149.3,1951.4 1149.3,1954.4 1149.2,1957.5 1149.1,1960.5 1149.0,1963.5 1148.9,1966.5 1148.8,1969.5 1148.7,1972.5 1148.6,1975.5 1148.5,1978.5 1148.4,1981.6 1148.2,1984.6 1148.1,1987.5 1147.9,1990.5 1147.7,1993.5 1147.5,1996.5 1147.3,1999.5 1147.1,2002.5 1146.8,2005.5 1146.6,2008.5 1146.3,2011.5 1146.0,2014.5 1145.7,2017.5 1145.4,2020.5 1145.1,2023.4 1144.7,2026.4 1144.3,2029.4 1143.9,2032.3 1143.4,2035.3 1143.0,2038.2 1142.5,2041.2 1142.0,2044.1 1141.4,2047.0 1140.8,2050.0 1140.2,2052.9 1139.6,2055.9 1138.9,2058.8 1138.3,2061.7 1137.6,2064.7 1136.9,2067.6 1136.3,2070.6 1135.6,2073.5 1134.9,2076.4 1134.1,2079.3 1133.4,2082.1 1132.6,2085.0 1131.7,2087.8 1130.8,2090.6 1129.8,2093.4 1128.8,2096.1 1127.7,2098.9 1126.6,2101.7 1125.4,2104.5 1124.3,2107.3 1123.2,2110.2 1122.1,2113.3 1121.0,2116.3 1120.0,2119.1 1118.9,2121.8 1117.7,2124.3 1116.5,2126.3 1115.2,2127.8 1113.4,2129.3 1111.1,2130.7 1108.4,2132.2 1105.5,2133.7 1102.6,2135.5 1099.9,2137.5 1097.5,2139.8 1095.4,2142.2 1093.4,2144.7 1091.5,2147.1 1089.6,2149.6 1087.8,2151.9 1086.0,2154.1 1084.0,2156.3 1082.0,2158.4 1079.9,2160.5 1077.7,2162.6 1075.6,2164.7 1073.4,2166.8 1071.2,2169.0 1069.0,2171.2 1066.9,2173.5 1064.9,2175.7 1062.8,2177.9 1060.8,2180.0 1058.7,2182.0 1056.6,2183.9 1054.5,2185.6 1052.2,2187.1 1049.7,2188.6 1047.1,2190.0 1044.4,2191.5 1041.7,2193.1 1039.1,2194.7 1036.5,2196.3 1033.9,2197.8 1031.3,2199.4 1028.8,2201.0 1026.2,2202.6 1023.6,2204.2 1021.1,2205.7 1018.5,2207.2 1015.9,2208.7 1013.3,2210.1 1010.7,2211.6 1008.0,2213.0 1005.4,2214.5 1002.7,2215.9 1000.1,2217.3 997.4,2218.7 994.7,2220.0 992.1,2221.2 989.4,2222.4 986.7,2223.5 984.0,2224.4 981.3,2225.4 978.5,2226.2 975.6,2227.0 972.7,2227.8 969.8,2228.6 966.8,2229.4 963.8,2230.3 960.9,2231.2 957.9,2232.2 955.0,2233.2 952.1,2234.3 949.3,2235.5 946.5,2236.7 943.7,2237.9 940.9,2239.1 938.2,2240.2 935.4,2241.3 932.7,2242.4 929.9,2243.4 927.1,2244.3 924.3,2245.1 921.4,2246.0 918.5,2246.8 915.6,2247.6 912.7,2248.4 909.8,2249.2 906.9,2249.9 904.0,2250.7 901.1,2251.4 898.2,2252.1 895.3,2252.8 892.3,2253.5 889.4,2254.1 886.5,2254.8 883.6,2255.4 880.6,2256.0 877.7,2256.6 874.7,2257.2 871.8,2257.7 868.8,2258.3 865.8,2258.9 862.8,2259.5 859.9,2260.1 856.9,2260.7 853.9,2261.3 851.0,2261.9 848.0,2262.5 845.1,2263.1 842.1,2263.7 839.2,2264.3 836.2,2264.8 833.3,2265.4 830.3,2265.9 827.3,2266.5 824.4,2267.0 821.4,2267.6 818.4,2268.1 815.5,2268.6 812.5,2269.2 809.5,2269.7 806.6,2270.2 803.6,2270.6 800.6,2271.1 797.7,2271.5 794.7,2271.9 791.8,2272.3 788.8,2272.7 785.8,2273.1 782.8,2273.4 779.8,2273.7 776.8,2274.1 773.8,2274.4 770.8,2274.7 767.8,2275.0 764.8,2275.2 761.8,2275.5 758.8,2275.8 755.8,2276.0 752.8,2276.3 749.8,2276.5 746.8,2276.8 743.8,2277.0 740.8,2277.2 737.8,2277.5 734.8,2277.7 731.8,2277.9 728.8,2278.1 725.8,2278.3 722.8,2278.5 719.8,2278.7 716.8,2278.9 713.8,2279.0 710.8,2279.2 707.7,2279.3" fill="#00BFC4" stroke="#00BFC4" stroke-width="2" stroke-linejoin="round"/>
<polyline points="708.5,2277.8 708.5,2275.2 708.5,2272.2 708.5,2269.3 708.5,2266.3 708.5,2263.3 708.5,2260.3 708.5,2257.4 708.5,2254.3 708.5,2251.3 710.4,2248.4 710.1,2242.5 711.2,2236.7 711.2,2230.6 712.0,2224.6 714.8,2218.9 716.0,2213.1 716.2,2207.0 715.7,2200.9 718.5,2195.3 716.2,2188.9 718.6,2183.3 721.7,2177.8 721.4,2171.5 725.0,2166.1 723.6,2159.6 726.4,2154.0 727.5,2148.1 728.9,2142.4 730.1,2136.7 728.5,2130.2 734.0,2125.6 735.0,2119.7 733.8,2113.0 736.2,2107.4 739.1,2102.1 743.2,2097.2 745.6,2091.7 746.6,2085.8 749.6,2080.7 749.1,2074.1 754.3,2069.8 756.0,2064.0 758.5,2058.4 761.2,2053.0 761.1,2046.4 765.7,2041.8 768.4,2036.3 771.3,2030.9 773.8,2025.6 773.2,2019.0 775.5,2013.4 779.3,2008.8 784.1,2005.0 786.5,2000.3 788.5,1994.8 792.3,1990.2 797.6,1986.9 801.1,1981.6 807.7,1979.7 810.4,1973.9 816.1,1971.0 819.3,1965.7 822.7,1960.5 826.9,1956.3 833.2,1954.6 837.3,1950.4 841.9,1946.7 846.5,1942.9 851.7,1939.4 856.5,1935.6 860.4,1931.6 864.9,1929.8 869.0,1926.0 875.1,1925.8 881.0,1924.4 886.8,1923.3 892.1,1919.4 898.1,1917.8 904.9,1916.9 910.5,1913.9 915.4,1911.4 920.3,1910.7 925.7,1909.2 931.5,1908.7 937.0,1904.3 943.1,1904.1 949.2,1904.0 955.4,1905.1 961.1,1902.3 967.3,1903.4 973.2,1903.3 979.2,1902.5 985.1,1901.7 991.1,1901.1 996.9,1899.6 1002.9,1899.6 1008.9,1899.9 1014.9,1899.8 1020.9,1898.9 1026.9,1899.1 1032.9,1898.4 1039.0,1898.6 1045.0,1898.3 1051.0,1896.6 1054.0,1896.6 1057.0,1896.6 1060.0,1896.6 1063.0,1896.6 1066.0,1896.6 1069.0,1896.6 1072.0,1896.6 1075.0,1896.6 1078.0,1896.6 1081.0,1896.6 1084.0,1896.6 1087.1,1896.6 1090.1,1896.6 1093.1,1896.6 1096.1,1896.6 1099.1,1896.6 1102.1,1896.6 1105.1,1896.6 1108.1,1896.6 1111.1,1896.6 1114.1,1896.6 1117.2,1896.6 1120.2,1896.6 1123.2,1896.6 1126.2,1896.6 1129.2,1896.6 1132.2,1896.6 1135.2,1896.6 1138.3,1896.6 1141.3,1896.6 1144.3,1896.6 1147.3,1896.6 708.5,2277.8 710.7,2277.8 713.7,2277.8 716.6,2277.8 719.7,2277.8 722.7,2277.8 725.7,2277.8 728.6,2275.8 734.7,2275.9 740.6,2274.7 746.7,2274.5 752.6,2273.7 758.6,2273.2 764.7,2274.1 770.7,2273.4 776.5,2271.4 782.5,2270.8 788.8,2272.9 794.3,2269.0 800.1,2267.4 806.1,2267.3 812.3,2268.3 817.8,2264.5 823.8,2264.1 829.7,2262.7 835.7,2262.2 841.9,2262.4 848.0,2262.3 853.2,2257.7 859.6,2258.5 865.1,2255.4 871.1,2254.4 877.4,2255.2 883.5,2254.9 889.3,2253.5 895.3,2253.1 900.2,2247.7 906.1,2246.6 912.7,2248.2 917.7,2244.0 923.4,2242.2 928.7,2239.9 934.2,2238.2 940.9,2239.1 945.1,2233.4 950.9,2231.3 957.9,2232.0 962.7,2226.5 969.6,2228.2 975.3,2226.1 980.3,2222.2 986.8,2223.6 990.5,2217.7 997.0,2217.9 1002.4,2215.3 1006.1,2209.6 1011.7,2207.2 1017.1,2204.8 1021.8,2201.1 1028.4,2200.5 1032.5,2195.5 1037.2,2191.6 1043.0,2189.0 1048.1,2185.9 1053.8,2184.6 1056.4,2179.6 1060.4,2175.6 1064.3,2171.1 1069.1,2166.9 1073.6,2162.7 1078.0,2158.6 1081.2,2153.6 1085.0,2149.7 1088.8,2145.1 1092.8,2140.1 1099.4,2137.0 1104.0,2131.1 1109.2,2127.5 1114.8,2127.4 1114.5,2122.5 1117.3,2118.1 1119.2,2112.2 1121.6,2106.3 1123.0,2100.3 1128.3,2096.0 1131.0,2090.7 1129.2,2084.0 1131.3,2078.5 1132.6,2072.8 1133.1,2066.8 1135.3,2061.1 1136.5,2055.2 1137.1,2049.2 1139.1,2043.6 1139.6,2037.7 1141.0,2031.9 1141.7,2026.0 1143.0,2020.2 1144.7,2014.4 1143.9,2008.3 1144.6,2002.3 1145.2,1996.4 1145.8,1990.4 1146.5,1984.5 1147.9,1978.5 1147.9,1975.4 1147.9,1972.4 1147.9,1969.4 1147.9,1966.4 1147.9,1963.4 1147.9,1960.4 1147.9,1957.4 1147.9,1954.4 1147.9,1951.4 1147.9,1948.4 1147.9,1945.4 1147.9,1942.4 1147.9,1939.4 1147.9,1936.4 1147.9,1933.4 1147.9,1930.4 1147.9,1927.3 1147.9,1924.3 1147.9,1921.3 1147.9,1918.3 1147.9,1915.3 1147.9,1912.2 1147.9,1909.2 1147.9,1906.2 1147.9,1903.2 1147.9,1900.2 1147.9,1897.1 785.6,1987.1 1058.7,2183.6 1051.7,2190.0 928.2,2247.9" fill="none" stroke="none" marker-start="url(#t)" marker-mid="url(#t)" marker-end="url(#t)"/>
<polygon points="712.2,2282.2 715.0,2279.8 717.8,2277.3 720.5,2274.9 723.3,2272.5 726.1,2270.1 728.8,2267.6 731.6,2265.2 734.3,2262.8 737.1,2260.4 739.9,2257.9 742.6,2255.5 745.4,2253.1 748.1,2250.6 750.9,2248.2 753.7,2245.8 756.4,2243.3 759.2,2240.9 761.9,2238.4 764.7,2236.0 767.5,2233.6 770.2,2231.1 773.0,2228.7 775.8,2226.2 778.5,2223.8 781.3,2221.3 784.0,2218.9 786.8,2216.4 789.6,2213.9 792.3,2211.5 795.1,2209.0 797.9,2206.6 800.6,2204.1 803.4,2201.6 806.1,2199.2 808.9,2196.7 811.7,2194.2 814.4,2191.8 817.2,2189.3 820.0,2186.8 822.7,2184.4 825.5,2181.9 828.2,2179.4 831.0,2176.9 833.8,2174.5 836.5,2172.0 839.3,2169.5 842.1,2167.0 844.8,2164.5 847.6,2162.0 850.4,2159.5 853.1,2157.0 855.9,2154.5 858.7,2152.0 861.4,2149.5 864.2,2146.9 867.0,2144.4 869.7,2141.9 872.5,2139.4 875.2,2136.9 878.0,2134.4 880.8,2131.9 883.5,2129.4 886.3,2126.9 889.1,2124.4 891.8,2121.9 894.6,2119.4 897.3,2116.9 900.1,2114.4 902.9,2111.9 905.6,2109.4 908.4,2107.0 911.1,2104.5 913.9,2102.0 916.7,2099.6 919.4,2097.1 922.2,2094.6 924.9,2092.2 927.7,2089.7 930.5,2087.3 933.2,2084.8 936.0,2082.3 938.8,2079.9 941.5,2077.4 944.3,2075.0 947.1,2072.5 949.8,2070.0 952.6,2067.6 955.4,2065.1 958.1,2062.6 960.9,2060.2 963.6,2057.7 966.4,2055.2 969.2,2052.8 971.9,2050.3 974.7,2047.8 977.5,2045.4 980.2,2042.9 983.0,2040.4 985.8,2037.9 988.5,2035.5 991.3,2033.0 994.1,2030.5 996.8,2028.0 999.6,2025.5 1002.4,2023.1 1005.1,2020.6 1007.9,2018.1 1010.7,2015.6 1013.4,2013.2 1016.2,2010.7 1018.9,2008.2 1021.7,2005.7 1024.5,2003.3 1027.2,2000.8 1030.0,1998.3 1032.8,1995.9 1035.5,1993.4 1038.3,1990.9 1041.1,1988.5 1043.8,1986.0 1046.6,1983.6 1049.4,1981.1 1052.1,1978.6 1054.9,1976.2 1057.7,1973.7 1060.4,1971.2 1063.2,1968.8 1066.0,1966.3 1068.7,1963.9 1071.5,1961.4 1074.2,1959.0 1077.0,1956.6 1079.8,1954.1 1082.5,1951.7 1085.3,1949.4 1088.0,1947.0 1090.7,1944.7 1093.4,1942.5 1096.2,1940.3 1098.9,1938.2 1101.6,1936.1 1104.2,1934.2 1106.0,1932.9 1107.0,1932.8 1109.9,1932.8 1114.2,1931.7 1117.8,1929.6 1120.7,1927.7 1123.7,1925.6 1126.7,1923.3 1129.6,1920.7 1132.5,1918.0 1135.3,1915.4 1138.0,1912.9 1140.7,1910.4 1143.4,1908.1 1146.2,1905.7 1148.9,1903.3 1151.7,1900.9 1144.2,1892.2 1141.4,1894.6 1138.6,1897.0 1135.9,1899.4 1133.1,1901.9 1130.2,1904.5 1127.4,1907.1 1124.7,1909.7 1122.0,1912.2 1119.4,1914.5 1116.9,1916.5 1114.3,1918.3 1111.8,1920.0 1109.8,1921.3 1108.6,1921.5 1105.9,1921.5 1101.4,1922.5 1097.7,1925.0 1094.8,1927.1 1092.0,1929.3 1089.2,1931.5 1086.3,1933.8 1083.5,1936.1 1080.7,1938.5 1077.9,1940.9 1075.2,1943.3 1072.4,1945.7 1069.6,1948.2 1066.8,1950.6 1064.1,1953.1 1061.3,1955.5 1058.5,1958.0 1055.8,1960.4 1053.0,1962.9 1050.2,1965.4 1047.5,1967.9 1044.7,1970.3 1042.0,1972.8 1039.2,1975.3 1036.4,1977.7 1033.7,1980.2 1030.9,1982.7 1028.2,1985.1 1025.4,1987.6 1022.6,1990.1 1019.9,1992.5 1017.1,1995.0 1014.3,1997.5 1011.6,2000.0 1008.8,2002.5 1006.0,2004.9 1003.3,2007.4 1000.5,2009.9 997.8,2012.4 995.0,2014.8 992.2,2017.3 989.5,2019.8 986.7,2022.3 983.9,2024.8 981.2,2027.2 978.4,2029.7 975.7,2032.2 972.9,2034.7 970.1,2037.2 967.4,2039.6 964.6,2042.1 961.8,2044.6 959.1,2047.0 956.3,2049.5 953.6,2052.0 950.8,2054.4 948.0,2056.9 945.3,2059.4 942.5,2061.8 939.7,2064.3 937.0,2066.7 934.2,2069.2 931.5,2071.7 928.7,2074.1 925.9,2076.6 923.2,2079.0 920.4,2081.5 917.6,2084.0 914.9,2086.4 912.1,2088.9 909.3,2091.4 906.6,2093.8 903.8,2096.3 901.0,2098.8 898.3,2101.3 895.5,2103.7 892.7,2106.2 890.0,2108.7 887.2,2111.2 884.4,2113.7 881.7,2116.2 878.9,2118.7 876.1,2121.2 873.4,2123.7 870.6,2126.2 867.8,2128.7 865.1,2131.3 862.3,2133.8 859.5,2136.3 856.8,2138.8 854.0,2141.3 851.2,2143.8 848.5,2146.3 845.7,2148.8 843.0,2151.3 840.2,2153.8 837.4,2156.3 834.7,2158.8 831.9,2161.3 829.2,2163.7 826.4,2166.2 823.6,2168.7 820.9,2171.2 818.1,2173.6 815.3,2176.1 812.6,2178.6 809.8,2181.0 807.0,2183.5 804.3,2185.9 801.5,2188.4 798.7,2190.9 796.0,2193.3 793.2,2195.8 790.4,2198.2 787.7,2200.7 784.9,2203.1 782.2,2205.6 779.4,2208.0 776.6,2210.5 773.9,2212.9 771.1,2215.4 768.3,2217.8 765.6,2220.3 762.8,2222.7 760.0,2225.1 757.3,2227.6 754.5,2230.0 751.7,2232.4 749.0,2234.9 746.2,2237.3 743.4,2239.7 740.7,2242.1 737.9,2244.5 735.1,2247.0 732.4,2249.4 729.6,2251.8 726.8,2254.2 724.1,2256.6 721.3,2259.1 718.5,2261.5 715.8,2263.9 713.0,2266.3 710.2,2268.7 707.5,2271.1 704.7,2273.5" fill="#F8766D"/>
<circle cx="708.47" cy="2277.84" r="5.45" fill="#F8766D"/><circle cx="1147.93" cy="1896.56" r="5.45" fill="#F8766D"/>
</g>
<rect x="687.60" y="1878.60" width="481.20" height="417.20" fill="none" stroke="#333" stroke-width="2.2"/>
<path d="M707.93 2296.90v11.46M847.40 2296.90v11.46M986.59 2296.90v11.46M1125.78 2296.90v11.46" stroke="#333" stroke-width="4.45" fill="none"/>
<rect x="1193.90" y="1807.10" width="481.20" height="69.30" fill="#D9D9D9" stroke="#333" stroke-width="2.2"/>
<clipPath id="c18"><rect x="1192.80" y="1877.50" width="483.40" height="419.40"/></clipPath>
<g clip-path="url(#c18)">
<polygon points="1216.3,2274.6 1217.4,2271.7 1218.3,2268.8 1219.4,2266.2 1220.6,2263.5 1221.9,2260.9 1223.2,2258.4 1224.7,2255.9 1226.2,2253.4 1227.8,2250.9 1229.5,2248.5 1231.2,2246.1 1233.0,2243.7 1234.8,2241.3 1236.6,2238.9 1238.4,2236.5 1240.3,2234.2 1242.2,2231.8 1244.1,2229.5 1246.0,2227.0 1247.9,2224.6 1249.7,2222.2 1251.5,2219.7 1253.3,2217.3 1255.1,2214.8 1256.9,2212.4 1258.7,2209.9 1260.4,2207.5 1262.2,2205.1 1264.0,2202.7 1265.8,2200.4 1267.7,2198.2 1269.7,2196.0 1271.7,2193.7 1273.7,2191.5 1275.8,2189.2 1277.8,2186.9 1279.8,2184.4 1281.7,2181.9 1283.5,2179.4 1285.2,2177.0 1287.0,2174.5 1288.8,2172.1 1290.6,2169.7 1292.4,2167.3 1294.2,2164.9 1296.1,2162.6 1297.9,2160.2 1299.7,2157.8 1301.6,2155.4 1303.4,2153.0 1305.3,2150.7 1307.2,2148.5 1309.1,2146.2 1311.1,2144.0 1313.1,2141.8 1315.2,2139.6 1317.3,2137.5 1319.4,2135.4 1321.5,2133.3 1323.7,2131.3 1325.9,2129.2 1328.1,2127.1 1330.3,2124.9 1332.4,2122.8 1334.6,2120.7 1336.7,2118.6 1338.9,2116.4 1341.1,2114.3 1343.2,2112.1 1345.3,2109.9 1347.5,2107.6 1349.5,2105.2 1351.5,2102.8 1353.3,2100.4 1355.2,2098.0 1357.1,2095.7 1358.9,2093.5 1360.9,2091.4 1362.9,2089.6 1365.0,2088.0 1367.3,2086.5 1369.8,2085.3 1372.4,2084.1 1375.2,2083.0 1378.1,2081.8 1381.0,2080.4 1383.9,2078.7 1386.6,2076.8 1389.0,2074.8 1391.3,2072.8 1393.6,2070.8 1395.9,2068.8 1398.2,2066.9 1400.5,2064.9 1402.8,2062.9 1405.1,2060.9 1407.4,2059.0 1409.7,2057.0 1412.0,2055.0 1414.3,2053.1 1416.6,2051.1 1418.9,2049.1 1421.2,2047.2 1423.5,2045.2 1425.8,2043.2 1428.0,2041.4 1430.2,2039.8 1432.6,2038.3 1435.2,2037.0 1437.8,2035.6 1440.6,2034.2 1443.4,2032.6 1446.1,2030.8 1448.7,2028.8 1451.2,2026.5 1453.4,2024.2 1455.4,2021.8 1457.4,2019.3 1459.2,2016.9 1461.1,2014.6 1462.9,2012.3 1464.8,2010.0 1466.7,2007.9 1468.8,2006.0 1471.0,2004.1 1473.2,2002.3 1475.6,2000.4 1477.9,1998.6 1480.4,1996.9 1482.8,1995.1 1485.2,1993.4 1487.7,1991.7 1490.2,1989.9 1492.6,1988.2 1495.0,1986.7 1497.6,1985.1 1500.1,1983.6 1502.8,1982.1 1505.4,1980.6 1508.1,1978.9 1510.7,1977.2 1513.3,1975.4 1515.7,1973.6 1518.2,1971.7 1520.6,1969.8 1523.0,1968.0 1525.4,1966.1 1527.7,1964.2 1530.1,1962.3 1532.5,1960.5 1534.8,1958.6 1537.2,1956.8 1539.6,1955.0 1542.0,1953.2 1544.4,1951.5 1546.9,1949.7 1549.3,1948.0 1551.8,1946.3 1554.3,1944.6 1556.8,1942.9 1559.3,1941.2 1561.8,1939.5 1564.3,1937.7 1566.8,1936.0 1569.3,1934.2 1571.7,1932.5 1574.2,1930.7 1576.6,1929.0 1579.1,1927.4 1581.5,1925.8 1584.0,1924.4 1586.5,1923.2 1589.2,1922.0 1591.9,1920.9 1594.7,1919.8 1597.5,1918.7 1600.4,1917.6 1603.3,1916.4 1606.2,1915.1 1609.0,1913.6 1611.7,1912.1 1614.3,1910.5 1617.0,1909.0 1619.5,1907.4 1622.1,1905.9 1624.7,1904.5 1627.2,1903.1 1629.9,1901.9 1632.5,1900.7 1635.2,1899.6 1638.0,1898.6 1640.8,1897.7 1643.6,1896.9 1646.5,1896.1 1649.3,1895.2 1651.6,1894.6 1654.2,1894.6 1656.2,1891.4 1655.9,1894.3 1655.5,1897.1 1654.9,1900.0 1654.2,1902.7 1653.4,1905.4 1652.5,1908.1 1651.4,1910.8 1650.2,1913.4 1648.9,1915.9 1647.4,1918.6 1646.0,1921.2 1644.6,1923.9 1643.2,1926.4 1641.7,1928.9 1640.0,1931.3 1638.3,1933.8 1636.6,1936.3 1634.9,1938.8 1633.2,1941.2 1631.5,1943.6 1629.8,1946.0 1628.0,1948.4 1626.2,1950.8 1624.3,1953.1 1622.5,1955.4 1620.5,1957.6 1618.5,1959.8 1616.5,1962.0 1614.5,1964.2 1612.4,1966.5 1610.4,1968.8 1608.4,1971.0 1606.4,1973.3 1604.4,1975.6 1602.4,1977.8 1600.4,1980.0 1598.4,1982.3 1596.3,1984.5 1594.3,1986.7 1592.3,1988.9 1590.2,1991.1 1588.2,1993.3 1586.2,1995.4 1584.0,1997.3 1581.7,1999.5 1579.5,2001.8 1577.5,2004.1 1575.5,2006.4 1573.6,2008.6 1571.6,2010.8 1569.5,2012.9 1567.4,2015.1 1565.3,2017.2 1563.2,2019.3 1561.0,2021.4 1558.9,2023.4 1556.7,2025.4 1554.6,2027.3 1552.3,2028.9 1550.0,2030.4 1547.6,2031.8 1544.9,2033.0 1542.1,2034.4 1539.2,2036.0 1536.5,2037.9 1533.7,2040.2 1531.5,2043.3 1530.1,2046.4 1528.9,2049.3 1527.8,2052.0 1526.7,2054.6 1525.5,2056.7 1523.7,2058.7 1521.7,2060.9 1519.7,2063.0 1517.6,2065.1 1515.5,2067.1 1513.3,2069.1 1511.2,2071.0 1508.9,2072.8 1506.6,2074.4 1504.2,2076.0 1501.6,2077.5 1499.0,2079.1 1496.4,2080.7 1493.9,2082.4 1491.4,2083.9 1488.8,2085.5 1486.2,2087.1 1483.5,2088.8 1481.0,2090.7 1478.4,2092.7 1476.1,2094.9 1473.8,2097.1 1471.7,2099.3 1469.7,2101.5 1467.6,2103.6 1465.6,2105.6 1463.4,2107.5 1461.2,2109.3 1458.9,2111.0 1456.5,2112.7 1454.0,2114.3 1451.5,2115.8 1448.9,2117.4 1446.3,2119.1 1443.7,2120.8 1441.1,2122.6 1438.6,2124.5 1436.2,2126.5 1433.8,2128.6 1431.6,2130.8 1429.5,2133.0 1427.4,2135.3 1425.3,2137.5 1423.2,2139.6 1421.2,2141.8 1419.1,2143.8 1417.0,2145.7 1414.8,2147.5 1412.6,2149.1 1410.2,2150.6 1407.7,2151.9 1405.0,2153.2 1402.3,2154.5 1399.5,2155.8 1396.7,2157.3 1393.9,2158.9 1391.2,2160.8 1388.7,2162.8 1386.4,2164.8 1384.1,2166.8 1381.9,2168.8 1379.6,2170.8 1377.3,2172.8 1375.0,2174.8 1372.8,2176.8 1370.5,2178.8 1368.2,2180.7 1366.0,2182.7 1363.7,2184.6 1361.4,2186.4 1359.1,2188.1 1356.7,2189.8 1354.2,2191.5 1351.7,2193.1 1349.2,2194.8 1346.7,2196.4 1344.1,2198.0 1341.6,2199.7 1339.1,2201.5 1336.6,2203.2 1334.1,2205.0 1331.6,2206.7 1329.2,2208.5 1326.7,2210.2 1324.3,2212.0 1321.8,2213.7 1319.3,2215.4 1316.9,2217.1 1314.4,2218.8 1311.9,2220.5 1309.5,2222.1 1307.0,2223.7 1304.4,2225.2 1301.8,2226.7 1299.2,2228.2 1296.6,2229.8 1294.0,2231.3 1291.4,2232.9 1288.8,2234.4 1286.2,2236.0 1283.6,2237.5 1281.0,2239.1 1278.4,2240.6 1275.9,2242.2 1273.3,2243.8 1270.7,2245.3 1268.1,2246.9 1265.5,2248.4 1262.9,2250.0 1260.3,2251.6 1257.8,2253.1 1255.2,2254.7 1252.6,2256.3 1250.0,2257.8 1247.5,2259.4 1244.9,2260.9 1242.3,2262.4 1239.7,2263.9 1237.1,2265.3 1234.4,2266.8 1231.8,2268.2 1229.2,2269.7 1226.5,2271.1 1223.9,2272.5 1221.2,2273.9 1218.5,2275.3 1215.9,2276.6 1213.2,2278.0" fill="#00BFC4" stroke="#00BFC4" stroke-width="2" stroke-linejoin="round"/>
<polyline points="1225.5,2259.7 1229.2,2255.3 1231.7,2250.1 1236.0,2242.2 1243.4,2236.7 1247.3,2228.0 1248.5,2221.2 1256.1,2219.4 1258.9,2210.1 1265.4,2207.4 1268.3,2202.5 1268.9,2195.3 1278.0,2191.2 1284.2,2183.8 1288.1,2179.0 1290.1,2169.4 1296.8,2167.0 1302.5,2159.9 1305.6,2154.7 1309.5,2150.5 1313.9,2146.5 1319.5,2139.7 1323.8,2135.8 1327.0,2130.4 1332.6,2127.3 1333.7,2119.8 1339.2,2116.7 1348.0,2112.4 1352.5,2107.7 1355.4,2098.2 1361.6,2095.9 1364.9,2092.1 1371.2,2088.3 1376.5,2086.2 1385.9,2081.9 1390.8,2072.1 1398.4,2071.7 1400.3,2064.6 1407.6,2059.2 1414.1,2057.5 1418.7,2053.5 1423.5,2049.8 1427.6,2045.5 1430.1,2039.7 1435.8,2038.2 1439.9,2032.9 1447.7,2033.0 1453.3,2028.7 1456.3,2018.5 1464.0,2016.9 1464.8,2010.0 1473.3,2007.0 1475.1,1999.8 1482.2,1994.4 1490.8,1990.8 1499.0,1987.6 1507.0,1983.1 1512.6,1980.0 1518.1,1971.6 1524.9,1970.4 1527.3,1963.7 1531.8,1959.6 1536.7,1956.2 1546.2,1954.0 1551.0,1945.1 1556.4,1942.4 1561.3,1938.8 1568.5,1938.4 1571.8,1932.5 1578.2,1931.3 1585.3,1927.0 1590.5,1925.1 1597.9,1919.6 1603.7,1917.3 1612.4,1913.3 1618.9,1912.2 1623.6,1908.5 1628.5,1905.8 1636.4,1902.8 1643.8,1897.8 1649.1,1896.6 1651.8,1896.6 1654.2,1896.6 1221.8,2275.1 1228.7,2268.8 1232.8,2263.8 1240.5,2259.3 1247.9,2260.1 1253.7,2252.3 1261.2,2247.2 1266.3,2244.0 1273.8,2244.7 1278.8,2241.2 1282.2,2235.2 1289.3,2235.3 1296.4,2229.5 1300.0,2223.6 1307.6,2219.2 1315.2,2214.7 1320.2,2211.4 1324.7,2207.3 1332.4,2202.6 1341.5,2199.6 1346.6,2196.3 1351.7,2193.0 1357.2,2190.6 1359.6,2184.0 1363.9,2180.2 1371.7,2175.6 1376.8,2172.2 1382.5,2169.6 1386.5,2160.1 1392.0,2155.9 1400.8,2151.2 1406.1,2148.9 1413.1,2145.2 1416.9,2141.5 1422.6,2139.0 1427.5,2135.4 1429.6,2128.8 1439.1,2125.1 1441.8,2118.0 1447.2,2114.8 1457.3,2113.9 1458.9,2106.3 1465.0,2101.1 1472.9,2100.4 1475.9,2089.7 1483.3,2088.5 1489.6,2080.9 1497.1,2081.8 1502.5,2073.3 1509.6,2073.6 1513.4,2064.9 1517.2,2060.6 1522.3,2054.5 1525.3,2051.0 1528.1,2041.4 1534.3,2034.9 1540.8,2032.0 1546.0,2028.8 1550.5,2026.2 1557.2,2025.9 1563.9,2020.0 1565.2,2012.9 1570.5,2009.7 1576.6,2007.3 1580.8,1998.5 1585.5,1990.8 1590.1,1986.9 1594.0,1982.4 1599.6,1975.3 1607.4,1974.1 1612.7,1966.7 1616.1,1957.6 1623.2,1956.0 1626.2,1950.8 1631.6,1943.7 1633.8,1934.4 1636.8,1929.1 1640.3,1924.8 1643.5,1919.9 1646.2,1914.5 1648.6,1909.6 1650.5,1904.5 1654.2,1896.6 1654.2,1896.6 1654.2,1896.6 1360.8,2085.8 1344.1,2106.8 1303.8,2146.7 1292.6,2160.4 1470.7,2108.7 1513.4,2073.2 1493.0,1981.0 1514.0,1971.2" fill="none" stroke="none" marker-start="url(#t)" marker-mid="url(#t)" marker-end="url(#t)"/>
<polygon points="1218.6,2282.1 1226.0,2275.4 1233.3,2268.8 1240.7,2262.1 1248.1,2255.4 1255.5,2248.8 1262.9,2242.1 1270.3,2235.5 1277.7,2228.9 1285.1,2222.2 1292.5,2215.6 1299.9,2209.0 1307.3,2202.4 1314.8,2195.9 1322.2,2189.3 1329.6,2182.7 1337.0,2176.1 1344.5,2169.6 1351.9,2163.0 1359.3,2156.5 1366.7,2150.0 1374.2,2143.5 1381.6,2136.9 1389.1,2130.4 1396.5,2123.9 1403.9,2117.4 1411.4,2111.0 1418.8,2104.5 1426.3,2098.0 1433.7,2091.5 1441.2,2085.1 1448.6,2078.6 1456.1,2072.2 1463.5,2065.7 1471.0,2059.3 1478.4,2052.9 1485.9,2046.4 1493.3,2040.0 1500.8,2033.6 1508.2,2027.2 1515.7,2020.8 1523.2,2014.4 1530.6,2008.1 1538.1,2001.7 1545.6,1995.3 1553.0,1989.0 1560.5,1982.6 1568.0,1976.3 1575.5,1970.0 1583.0,1963.7 1590.4,1957.3 1597.9,1951.0 1605.4,1944.8 1612.9,1938.5 1620.4,1932.2 1627.9,1925.9 1635.4,1919.7 1642.9,1913.4 1650.4,1907.2 1657.9,1900.9 1650.5,1892.2 1643.1,1898.6 1635.7,1905.0 1628.4,1911.3 1621.0,1917.7 1613.6,1924.1 1606.2,1930.5 1598.8,1936.9 1591.4,1943.3 1583.9,1949.7 1576.5,1956.1 1569.1,1962.5 1561.7,1968.9 1554.3,1975.4 1546.9,1981.8 1539.4,1988.2 1532.0,1994.6 1524.6,2001.0 1517.1,2007.4 1509.7,2013.9 1502.3,2020.3 1494.8,2026.7 1487.4,2033.2 1480.0,2039.6 1472.5,2046.0 1465.1,2052.5 1457.6,2058.9 1450.2,2065.4 1442.7,2071.8 1435.3,2078.3 1427.8,2084.7 1420.4,2091.2 1412.9,2097.7 1405.5,2104.2 1398.0,2110.6 1390.6,2117.1 1383.1,2123.6 1375.7,2130.1 1368.2,2136.6 1360.7,2143.1 1353.3,2149.6 1345.8,2156.1 1338.3,2162.6 1330.9,2169.1 1323.4,2175.6 1315.9,2182.1 1308.4,2188.7 1301.0,2195.2 1293.5,2201.7 1286.0,2208.2 1278.5,2214.7 1271.0,2221.3 1263.5,2227.8 1256.0,2234.3 1248.5,2240.9 1241.0,2247.4 1233.5,2253.9 1226.0,2260.5 1218.5,2267.0 1211.0,2273.5" fill="#F8766D"/>
<circle cx="1214.77" cy="2277.84" r="5.45" fill="#F8766D"/><circle cx="1654.23" cy="1896.56" r="5.45" fill="#F8766D"/>
</g>
<rect x="1193.90" y="1878.60" width="481.20" height="417.20" fill="none" stroke="#333" stroke-width="2.2"/>
<path d="M1214.37 2296.90v11.46M1338.19 2296.90v11.46M1462.28 2296.90v11.46M1586.10 2296.90v11.46" stroke="#333" stroke-width="4.45" fill="none"/>
<rect x="1700.20" y="1807.10" width="481.20" height="69.30" fill="#D9D9D9" stroke="#333" stroke-width="2.2"/>
<clipPath id="c19"><rect x="1699.10" y="1877.50" width="483.40" height="419.40"/></clipPath>
<g clip-path="url(#c19)">
<polygon points="1719.7,2278.2 1719.8,2275.2 1720.0,2272.3 1720.2,2269.3 1720.4,2266.4 1720.7,2263.4 1721.0,2260.4 1721.4,2257.5 1721.7,2254.5 1722.1,2251.6 1722.6,2248.7 1723.1,2245.8 1723.7,2242.9 1724.3,2240.0 1724.9,2237.0 1725.6,2234.1 1726.2,2231.2 1726.9,2228.3 1727.6,2225.4 1728.3,2222.5 1729.1,2219.6 1729.9,2216.7 1730.6,2213.7 1731.4,2210.8 1732.1,2207.8 1732.8,2204.9 1733.5,2202.0 1734.2,2199.0 1734.9,2196.1 1735.6,2193.3 1736.4,2190.4 1737.2,2187.6 1738.1,2184.8 1739.1,2182.0 1740.1,2179.2 1741.1,2176.3 1742.1,2173.3 1742.9,2170.3 1743.7,2167.4 1744.4,2164.4 1745.2,2161.4 1745.9,2158.5 1746.6,2155.6 1747.3,2152.7 1748.0,2149.7 1748.7,2146.8 1749.4,2143.9 1750.1,2141.0 1750.9,2138.1 1751.6,2135.2 1752.4,2132.3 1753.2,2129.4 1754.0,2126.5 1754.8,2123.7 1755.7,2120.9 1756.7,2118.4 1757.9,2115.9 1759.3,2113.3 1760.8,2110.6 1762.2,2107.8 1763.5,2104.7 1764.5,2101.7 1765.3,2098.7 1766.1,2095.7 1766.8,2092.7 1767.6,2089.9 1768.4,2087.2 1769.3,2084.5 1770.4,2081.9 1771.7,2079.2 1773.0,2076.7 1774.4,2074.2 1775.8,2071.9 1777.5,2069.8 1779.5,2067.7 1781.6,2065.5 1783.8,2063.2 1785.7,2060.6 1787.6,2058.1 1789.4,2055.5 1791.2,2052.7 1792.8,2049.8 1794.0,2046.7 1794.9,2043.4 1795.4,2040.2 1795.9,2037.2 1796.4,2034.4 1797.0,2032.1 1798.0,2030.1 1799.6,2027.9 1801.4,2025.7 1803.4,2023.6 1805.3,2021.8 1807.6,2020.3 1810.4,2018.6 1813.3,2016.6 1815.8,2014.0 1817.5,2010.9 1818.5,2007.7 1819.4,2004.5 1820.1,2001.5 1820.9,1998.8 1821.8,1996.6 1823.1,1994.7 1824.9,1992.8 1827.0,1990.8 1829.3,1988.9 1831.6,1986.9 1833.9,1985.1 1836.2,1983.4 1838.7,1981.7 1841.3,1979.8 1843.9,1977.5 1846.2,1974.8 1848.1,1972.0 1849.6,1969.9 1850.9,1968.8 1852.7,1968.2 1855.2,1967.6 1858.2,1967.1 1861.4,1966.7 1864.7,1966.2 1868.0,1965.5 1871.2,1964.3 1874.1,1962.3 1876.6,1959.8 1878.7,1957.2 1880.7,1954.9 1882.6,1952.8 1884.8,1950.8 1887.0,1948.7 1889.2,1946.7 1891.4,1944.7 1893.7,1942.8 1895.9,1941.1 1898.2,1939.6 1900.5,1938.3 1903.0,1937.1 1905.7,1935.9 1908.4,1934.8 1911.2,1933.7 1914.1,1932.6 1916.9,1931.5 1919.7,1930.4 1922.5,1929.4 1925.3,1928.5 1928.1,1927.5 1931.0,1926.5 1933.9,1925.5 1936.8,1924.4 1939.6,1923.2 1942.5,1922.0 1945.3,1920.8 1948.0,1919.6 1950.8,1918.3 1953.5,1917.1 1956.2,1915.9 1959.0,1914.7 1961.7,1913.6 1964.6,1912.3 1967.4,1911.1 1970.1,1910.0 1972.8,1908.8 1975.6,1907.8 1978.2,1907.0 1980.9,1906.3 1983.7,1905.7 1986.5,1905.3 1989.5,1904.9 1992.4,1904.5 1995.4,1904.1 1998.5,1903.7 2001.5,1903.3 2004.5,1902.8 2007.5,1902.4 2010.5,1901.9 2013.5,1901.4 2016.4,1900.9 2019.4,1900.5 2022.4,1900.0 2025.3,1899.6 2028.2,1899.3 2031.2,1898.9 2034.2,1898.6 2037.2,1898.3 2040.2,1898.0 2043.1,1897.7 2046.1,1897.5 2049.1,1897.2 2052.1,1897.0 2055.1,1896.8 2058.0,1896.6 2061.0,1896.5 2064.0,1896.3 2067.0,1896.2 2070.0,1896.0 2073.0,1895.9 2076.0,1895.8 2079.0,1895.7 2082.0,1895.6 2085.0,1895.6 2088.0,1895.6 2091.0,1895.5 2094.0,1895.5 2097.0,1895.5 2100.1,1895.4 2103.1,1895.4 2106.1,1895.4 2109.1,1895.4 2112.1,1895.4 2115.1,1895.3 2118.1,1895.3 2121.1,1895.3 2124.1,1895.3 2127.1,1895.3 2130.2,1895.3 2133.2,1895.3 2136.2,1895.3 2139.2,1895.3 2142.2,1895.3 2145.2,1895.3 2148.2,1895.3 2151.3,1895.3 2154.3,1895.3 2157.3,1895.3 2160.3,1895.3 2162.4,1897.1 2162.4,1900.1 2162.4,1903.2 2162.4,1906.2 2162.3,1909.2 2162.3,1912.2 2162.3,1915.2 2162.2,1918.3 2162.2,1921.3 2162.2,1924.3 2162.1,1927.3 2162.1,1930.3 2162.0,1933.4 2161.9,1936.4 2161.9,1939.4 2161.8,1942.4 2161.7,1945.4 2161.6,1948.4 2161.5,1951.4 2161.4,1954.4 2161.2,1957.4 2161.0,1960.4 2160.8,1963.4 2160.7,1966.4 2160.5,1969.4 2160.2,1972.4 2160.0,1975.4 2159.7,1978.4 2159.4,1981.4 2159.1,1984.4 2158.8,1987.4 2158.5,1990.3 2158.1,1993.3 2157.8,1996.3 2157.4,1999.3 2157.0,2002.3 2156.6,2005.3 2156.2,2008.2 2155.8,2011.2 2155.3,2014.2 2154.8,2017.1 2154.3,2020.1 2153.8,2023.1 2153.3,2026.1 2152.8,2029.0 2152.3,2032.0 2151.8,2035.0 2151.2,2037.9 2150.6,2040.9 2150.0,2043.8 2149.4,2046.7 2148.7,2049.6 2148.0,2052.5 2147.3,2055.3 2146.5,2058.2 2145.6,2061.0 2144.6,2063.8 2143.6,2066.5 2142.5,2069.2 2141.3,2071.7 2140.0,2074.2 2138.5,2076.8 2137.0,2079.3 2135.4,2081.9 2133.8,2084.5 2132.2,2087.2 2130.6,2089.9 2129.2,2092.6 2127.7,2095.3 2126.3,2098.0 2124.9,2100.6 2123.5,2103.2 2122.0,2105.5 2120.4,2107.7 2118.7,2109.7 2116.6,2111.7 2114.4,2113.7 2112.0,2115.7 2109.7,2118.0 2107.5,2120.4 2105.5,2123.0 2103.8,2125.7 2102.2,2128.5 2100.8,2131.2 2099.4,2134.0 2098.0,2136.6 2096.6,2139.1 2095.1,2141.6 2093.4,2144.0 2091.7,2146.5 2090.0,2148.8 2088.2,2150.9 2086.3,2152.9 2084.2,2155.0 2082.0,2156.9 2079.8,2158.7 2077.4,2160.4 2075.1,2161.9 2072.8,2163.1 2070.2,2164.2 2067.4,2165.2 2064.5,2166.2 2061.5,2167.4 2058.7,2168.7 2055.9,2170.1 2053.1,2171.5 2050.3,2173.0 2047.6,2174.5 2044.9,2176.2 2042.3,2177.9 2039.7,2179.9 2037.2,2182.1 2035.0,2184.6 2033.0,2186.9 2031.1,2188.9 2029.2,2190.5 2026.9,2192.1 2024.4,2193.6 2021.9,2195.1 2019.3,2196.4 2016.7,2197.4 2014.2,2198.2 2011.6,2198.8 2008.7,2199.2 2005.7,2199.5 2002.6,2199.8 1999.5,2200.2 1996.4,2200.7 1993.2,2201.4 1990.0,2202.7 1987.2,2204.5 1984.5,2206.5 1982.0,2208.6 1979.7,2210.7 1977.4,2212.7 1975.1,2214.5 1972.8,2216.0 1970.3,2217.4 1967.7,2218.8 1965.0,2220.2 1962.4,2221.5 1959.7,2222.8 1957.0,2224.1 1954.2,2225.3 1951.5,2226.5 1948.8,2227.7 1946.1,2228.7 1943.3,2229.8 1940.4,2230.8 1937.6,2231.8 1934.7,2232.9 1931.9,2233.9 1929.0,2235.0 1926.2,2236.0 1923.4,2237.1 1920.5,2238.2 1917.7,2239.2 1914.9,2240.3 1912.0,2241.4 1909.2,2242.4 1906.4,2243.4 1903.5,2244.5 1900.7,2245.6 1897.9,2246.6 1895.1,2247.7 1892.3,2248.6 1889.5,2249.6 1886.6,2250.4 1883.8,2251.3 1880.9,2252.1 1878.0,2252.9 1875.1,2253.6 1872.2,2254.4 1869.3,2255.1 1866.4,2255.7 1863.5,2256.4 1860.6,2256.9 1857.7,2257.5 1854.7,2258.0 1851.8,2258.4 1848.8,2258.9 1845.8,2259.3 1842.8,2259.7 1839.8,2260.1 1836.8,2260.5 1833.8,2261.0 1830.8,2261.4 1827.8,2261.9 1824.9,2262.3 1821.9,2262.7 1818.9,2263.1 1815.9,2263.6 1812.9,2264.0 1809.8,2264.5 1806.8,2265.0 1803.8,2265.5 1800.8,2266.0 1797.8,2266.6 1794.8,2267.2 1791.8,2267.9 1788.9,2268.5 1785.9,2269.1 1783.0,2269.7 1780.1,2270.3 1777.1,2270.9 1774.2,2271.4 1771.2,2271.8 1768.3,2272.3 1765.3,2272.7 1762.3,2273.2 1759.3,2273.6 1756.3,2274.0 1753.3,2274.5 1750.3,2274.9 1747.3,2275.3 1744.3,2275.8 1741.3,2276.2 1738.3,2276.7 1735.4,2277.1 1732.4,2277.6 1729.4,2278.0 1726.4,2278.5 1723.4,2278.9 1720.4,2279.4" fill="#00BFC4" stroke="#00BFC4" stroke-width="2" stroke-linejoin="round"/>
<polyline points="1721.1,2277.8 1721.1,2275.3 1721.1,2272.4 1721.1,2269.5 1721.1,2266.5 1722.9,2263.6 1723.5,2257.7 1723.6,2251.8 1725.8,2246.3 1727.3,2240.6 1728.3,2234.7 1729.5,2228.9 1727.7,2222.3 1729.5,2216.6 1735.1,2211.7 1733.3,2205.0 1733.4,2198.8 1736.6,2193.5 1736.5,2187.4 1742.5,2183.2 1744.4,2177.4 1745.8,2171.1 1748.3,2165.3 1746.7,2158.7 1746.6,2152.5 1751.6,2147.5 1752.8,2141.6 1754.3,2135.9 1754.5,2129.8 1757.5,2124.5 1759.5,2119.5 1761.6,2114.6 1761.5,2107.4 1767.1,2102.5 1768.8,2096.3 1771.3,2091.0 1772.6,2085.8 1774.9,2080.8 1775.5,2074.8 1780.1,2072.1 1783.7,2067.5 1788.8,2062.9 1790.2,2056.0 1795.6,2051.1 1797.7,2044.0 1799.2,2037.7 1799.6,2033.2 1802.7,2030.3 1805.7,2025.9 1809.7,2023.6 1813.4,2016.8 1816.9,2010.7 1818.7,2004.3 1823.7,1999.8 1825.4,1996.5 1828.8,1992.9 1832.5,1987.9 1838.1,1986.1 1843.6,1982.6 1848.4,1976.4 1851.6,1971.7 1852.5,1967.5 1858.6,1970.0 1865.3,1969.5 1872.9,1967.6 1876.6,1959.8 1880.0,1954.2 1884.4,1950.4 1891.5,1949.2 1896.1,1945.9 1899.8,1942.4 1904.3,1939.8 1908.0,1933.8 1915.4,1936.2 1919.6,1930.1 1925.1,1927.9 1932.1,1929.7 1938.0,1927.6 1943.8,1925.1 1949.6,1922.9 1953.2,1916.4 1959.2,1915.3 1965.7,1915.0 1971.5,1913.3 1976.5,1910.4 1981.2,1907.5 1987.0,1908.1 1992.9,1907.9 1998.9,1906.7 2005.0,1905.7 2010.7,1903.4 2017.0,1904.1 2022.8,1903.1 2028.5,1901.7 2034.5,1901.3 2040.3,1899.3 2046.2,1898.8 2052.2,1899.2 2058.1,1898.2 2064.2,1898.5 2070.1,1896.6 2073.1,1896.6 2076.1,1896.6 2079.1,1896.6 2082.0,1896.6 2085.0,1896.6 2088.0,1896.6 2091.0,1896.6 2094.1,1896.6 2097.1,1896.6 2100.1,1896.6 2103.1,1896.6 2106.1,1896.6 2109.1,1896.6 2112.1,1896.6 2115.1,1896.6 2118.1,1896.6 2121.1,1896.6 2124.1,1896.6 2127.1,1896.6 2130.2,1896.6 2133.2,1896.6 2136.2,1896.6 2139.2,1896.6 2142.2,1896.6 2145.2,1896.6 2148.2,1896.6 2151.3,1896.6 2154.3,1896.6 2157.3,1896.6 2160.3,1896.6 1721.1,2277.8 1723.1,2277.8 1726.1,2277.8 1729.1,2275.9 1735.0,2274.7 1741.0,2273.7 1747.3,2274.9 1752.9,2271.2 1758.9,2270.8 1764.8,2269.7 1770.8,2269.2 1777.1,2270.8 1782.4,2267.0 1788.1,2264.7 1794.0,2263.6 1800.1,2262.4 1806.8,2265.0 1812.7,2263.3 1818.4,2259.8 1824.5,2259.5 1830.4,2258.4 1836.4,2257.4 1842.4,2256.8 1848.3,2255.4 1854.6,2257.0 1860.0,2253.9 1865.6,2252.0 1871.3,2250.8 1877.3,2250.2 1882.8,2248.0 1888.5,2246.4 1895.2,2247.9 1899.5,2242.4 1905.0,2239.8 1911.0,2238.5 1916.7,2236.5 1922.1,2233.7 1927.8,2231.7 1933.4,2229.2 1940.5,2231.0 1945.0,2226.0 1950.1,2223.2 1957.2,2224.6 1961.0,2218.7 1967.5,2218.5 1970.8,2212.8 1975.6,2210.6 1982.3,2208.9 1985.1,2201.4 1992.8,2200.3 1999.0,2196.7 2005.4,2196.5 2010.9,2195.0 2015.7,2194.7 2022.3,2195.9 2025.4,2189.9 2029.2,2186.9 2032.9,2182.6 2038.8,2178.8 2044.3,2175.3 2048.7,2170.1 2054.2,2166.6 2060.3,2164.6 2066.3,2162.0 2071.6,2160.6 2075.6,2157.7 2081.1,2155.8 2084.2,2150.9 2087.6,2146.9 2091.2,2142.5 2096.3,2139.0 2096.6,2132.5 2099.0,2126.7 2103.0,2121.3 2107.6,2115.9 2112.6,2111.6 2116.0,2107.2 2119.6,2103.9 2124.2,2100.2 2127.4,2095.2 2130.9,2090.0 2130.7,2082.6 2134.2,2077.6 2140.9,2074.7 2139.3,2067.8 2144.4,2063.7 2146.9,2058.3 2144.3,2051.5 2150.2,2046.9 2147.9,2040.3 2148.8,2034.4 2151.7,2028.8 2150.6,2022.5 2151.6,2016.6 2152.4,2010.7 2153.7,2004.8 2154.9,1999.0 2155.3,1993.0 2158.0,1987.3 2157.2,1981.1 2158.4,1975.3 2158.0,1969.3 2158.6,1963.3 2160.5,1957.3 2160.5,1954.3 2160.5,1951.3 2160.5,1948.3 2160.5,1945.3 2160.5,1942.4 2160.5,1939.4 2160.5,1936.3 2160.5,1933.3 2160.5,1930.3 2160.5,1927.3 2160.5,1924.3 2160.5,1921.3 2160.5,1918.2 2160.5,1915.2 2160.5,1912.2 2160.5,1909.2 2160.5,1906.2 2160.5,1903.2 2160.5,1900.1 2160.5,1897.1 1938.9,1915.0 1892.0,1932.9 1864.9,1957.2 1805.3,2017.3 1788.0,2033.5 1764.2,2094.2 1762.9,2105.4 2096.9,2150.9 2089.0,2166.8 2062.8,2173.3 2025.0,2199.6 2009.7,2203.2 1931.4,2236.7 1864.9,2257.7 1849.5,1965.6 1824.3,1988.0 1752.2,2122.1 1745.2,2155.7" fill="none" stroke="none" marker-start="url(#t)" marker-mid="url(#t)" marker-end="url(#t)"/>
<polygon points="1724.9,2282.1 1727.7,2279.6 1730.4,2277.1 1733.2,2274.6 1736.0,2272.1 1738.7,2269.6 1741.5,2267.1 1744.2,2264.6 1747.0,2262.1 1749.8,2259.6 1752.5,2257.1 1755.3,2254.6 1758.0,2252.1 1760.8,2249.6 1763.6,2247.1 1766.3,2244.6 1769.1,2242.1 1771.8,2239.6 1774.6,2237.1 1777.4,2234.6 1780.1,2232.0 1782.9,2229.5 1785.6,2227.0 1788.4,2224.5 1791.2,2222.0 1793.9,2219.5 1796.7,2217.0 1799.5,2214.5 1802.2,2211.9 1805.0,2209.4 1807.7,2206.9 1810.5,2204.4 1813.3,2201.9 1816.0,2199.4 1818.8,2196.9 1821.5,2194.3 1824.3,2191.8 1827.1,2189.3 1829.8,2186.8 1832.6,2184.3 1835.4,2181.8 1838.1,2179.2 1840.9,2176.7 1843.6,2174.2 1846.4,2171.7 1849.2,2169.1 1852.0,2166.6 1854.7,2164.0 1857.5,2161.4 1860.3,2158.9 1863.0,2156.3 1865.8,2153.7 1868.5,2151.2 1871.3,2148.6 1874.1,2146.1 1876.8,2143.5 1879.6,2140.9 1882.3,2138.4 1885.1,2135.9 1887.9,2133.3 1890.6,2130.8 1893.4,2128.3 1896.1,2125.8 1898.9,2123.3 1901.6,2120.8 1904.4,2118.4 1907.1,2115.9 1909.9,2113.5 1912.6,2111.1 1915.4,2108.7 1918.1,2106.3 1920.9,2103.9 1923.7,2101.6 1926.4,2099.2 1929.2,2096.8 1931.9,2094.4 1934.7,2092.1 1937.5,2089.7 1940.2,2087.3 1943.0,2085.0 1945.8,2082.6 1948.5,2080.3 1951.3,2077.9 1954.0,2075.6 1956.8,2073.2 1959.6,2070.9 1962.3,2068.6 1965.1,2066.2 1967.8,2063.9 1970.6,2061.5 1973.4,2059.2 1976.1,2056.9 1978.9,2054.5 1981.7,2052.2 1984.4,2049.9 1987.2,2047.6 1989.9,2045.3 1992.7,2043.0 1995.4,2040.8 1998.2,2038.5 2000.9,2036.3 2003.7,2034.1 2006.4,2031.9 2009.2,2029.8 2011.9,2027.6 2014.7,2025.4 2017.4,2023.3 2020.2,2021.1 2023.0,2019.0 2025.7,2016.8 2028.5,2014.6 2031.3,2012.5 2034.0,2010.3 2036.8,2008.1 2039.6,2005.9 2042.4,2003.7 2045.1,2001.5 2047.9,1999.3 2050.7,1997.0 2053.5,1994.8 2056.3,1992.5 2059.0,1990.2 2061.8,1987.9 2064.6,1985.6 2067.3,1983.3 2070.1,1981.0 2072.9,1978.7 2075.6,1976.5 2078.4,1974.2 2081.2,1971.9 2083.9,1969.6 2086.7,1967.3 2089.5,1965.0 2092.3,1962.6 2095.0,1960.3 2097.8,1958.0 2100.6,1955.7 2103.3,1953.3 2106.1,1951.0 2108.9,1948.7 2111.7,1946.3 2114.4,1943.9 2117.2,1941.6 2120.0,1939.2 2122.8,1936.8 2125.5,1934.4 2128.3,1932.0 2131.1,1929.6 2133.8,1927.2 2136.6,1924.8 2139.4,1922.4 2142.1,1920.0 2144.9,1917.7 2147.7,1915.3 2150.5,1912.9 2153.2,1910.5 2156.0,1908.1 2158.8,1905.7 2161.5,1903.3 2164.3,1900.9 2156.8,1892.2 2154.0,1894.6 2151.2,1897.0 2148.5,1899.4 2145.7,1901.8 2143.0,1904.2 2140.2,1906.6 2137.4,1909.0 2134.7,1911.4 2131.9,1913.8 2129.2,1916.3 2126.4,1918.7 2123.7,1921.1 2120.9,1923.5 2118.1,1925.9 2115.4,1928.3 2112.6,1930.6 2109.9,1933.0 2107.1,1935.4 2104.4,1937.7 2101.6,1940.1 2098.9,1942.4 2096.1,1944.8 2093.3,1947.1 2090.6,1949.4 2087.8,1951.8 2085.1,1954.1 2082.3,1956.4 2079.6,1958.7 2076.8,1961.0 2074.0,1963.3 2071.3,1965.6 2068.5,1967.9 2065.8,1970.2 2063.0,1972.5 2060.2,1974.8 2057.5,1977.0 2054.7,1979.3 2052.0,1981.6 2049.2,1983.9 2046.5,1986.2 2043.7,1988.4 2041.0,1990.7 2038.2,1992.9 2035.5,1995.1 2032.7,1997.3 2030.0,1999.4 2027.2,2001.6 2024.5,2003.8 2021.7,2005.9 2018.9,2008.1 2016.2,2010.3 2013.4,2012.4 2010.6,2014.6 2007.9,2016.7 2005.1,2018.9 2002.3,2021.1 1999.6,2023.3 1996.8,2025.5 1994.0,2027.7 1991.2,2030.0 1988.5,2032.2 1985.7,2034.5 1982.9,2036.8 1980.1,2039.1 1977.3,2041.5 1974.6,2043.8 1971.8,2046.1 1969.0,2048.5 1966.3,2050.8 1963.5,2053.1 1960.7,2055.5 1958.0,2057.8 1955.2,2060.2 1952.4,2062.5 1949.7,2064.8 1946.9,2067.2 1944.1,2069.5 1941.4,2071.9 1938.6,2074.3 1935.8,2076.6 1933.1,2079.0 1930.3,2081.3 1927.5,2083.7 1924.8,2086.1 1922.0,2088.5 1919.2,2090.8 1916.5,2093.2 1913.7,2095.6 1910.9,2098.0 1908.2,2100.4 1905.4,2102.8 1902.6,2105.2 1899.8,2107.7 1897.1,2110.1 1894.3,2112.6 1891.5,2115.1 1888.7,2117.6 1886.0,2120.1 1883.2,2122.7 1880.4,2125.2 1877.6,2127.7 1874.9,2130.3 1872.1,2132.8 1869.3,2135.4 1866.6,2138.0 1863.8,2140.5 1861.0,2143.1 1858.3,2145.7 1855.5,2148.2 1852.7,2150.8 1850.0,2153.3 1847.2,2155.9 1844.5,2158.4 1841.7,2161.0 1838.9,2163.5 1836.2,2166.0 1833.4,2168.5 1830.7,2171.0 1827.9,2173.6 1825.1,2176.1 1822.4,2178.6 1819.6,2181.1 1816.8,2183.6 1814.1,2186.1 1811.3,2188.6 1808.5,2191.1 1805.8,2193.7 1803.0,2196.2 1800.2,2198.7 1797.5,2201.2 1794.7,2203.7 1791.9,2206.2 1789.2,2208.7 1786.4,2211.2 1783.6,2213.7 1780.9,2216.2 1778.1,2218.7 1775.3,2221.2 1772.6,2223.7 1769.8,2226.2 1767.0,2228.7 1764.3,2231.2 1761.5,2233.7 1758.7,2236.2 1756.0,2238.7 1753.2,2241.2 1750.4,2243.7 1747.7,2246.2 1744.9,2248.7 1742.1,2251.2 1739.4,2253.7 1736.6,2256.2 1733.8,2258.6 1731.1,2261.1 1728.3,2263.6 1725.5,2266.1 1722.8,2268.6 1720.0,2271.1 1717.2,2273.6" fill="#F8766D"/>
<circle cx="1721.07" cy="2277.84" r="5.45" fill="#F8766D"/><circle cx="2160.53" cy="1896.56" r="5.45" fill="#F8766D"/>
</g>
<rect x="1700.20" y="1878.60" width="481.20" height="417.20" fill="none" stroke="#333" stroke-width="2.2"/>
<path d="M1720.93 2296.90v11.46M1861.79 2296.90v11.46M2002.94 2296.90v11.46M2143.81 2296.90v11.46" stroke="#333" stroke-width="4.45" fill="none"/>
<rect x="2206.50" y="1807.10" width="481.20" height="69.30" fill="#D9D9D9" stroke="#333" stroke-width="2.2"/>
<clipPath id="c20"><rect x="2205.40" y="1877.50" width="483.40" height="419.40"/></clipPath>
<g clip-path="url(#c20)">
<polygon points="2228.8,2274.7 2230.0,2271.9 2231.2,2269.2 2232.4,2266.5 2233.6,2263.8 2234.9,2261.3 2236.4,2258.8 2237.9,2256.4 2239.6,2253.9 2241.3,2251.5 2243.0,2249.1 2244.8,2246.7 2246.6,2244.4 2248.4,2242.0 2250.3,2239.7 2252.2,2237.4 2254.1,2235.1 2256.0,2232.7 2258.0,2230.3 2259.9,2227.9 2261.7,2225.5 2263.6,2223.1 2265.4,2220.7 2267.2,2218.3 2269.1,2215.9 2270.9,2213.5 2272.7,2211.1 2274.5,2208.7 2276.3,2206.3 2278.1,2204.1 2280.0,2201.8 2282.0,2199.6 2284.0,2197.5 2286.1,2195.2 2288.2,2193.0 2290.2,2190.7 2292.2,2188.3 2294.2,2185.8 2296.0,2183.3 2297.8,2180.8 2299.5,2178.4 2301.3,2176.1 2303.1,2173.7 2305.0,2171.4 2306.8,2169.0 2308.7,2166.6 2310.5,2164.2 2312.3,2161.9 2314.2,2159.6 2316.1,2157.3 2318.1,2155.1 2320.1,2152.9 2322.1,2150.7 2324.1,2148.5 2326.2,2146.3 2328.3,2144.2 2330.4,2142.1 2332.5,2140.0 2334.7,2137.9 2336.8,2135.8 2339.0,2133.7 2341.2,2131.6 2343.3,2129.5 2345.5,2127.3 2347.6,2125.2 2349.7,2123.1 2351.9,2120.9 2354.0,2118.8 2356.1,2116.7 2358.3,2114.5 2360.4,2112.4 2362.5,2110.3 2364.7,2108.1 2366.8,2106.0 2368.9,2103.8 2371.1,2101.7 2373.2,2099.5 2375.3,2097.3 2377.4,2095.1 2379.5,2093.0 2381.6,2090.9 2383.7,2088.8 2385.8,2086.7 2387.9,2084.8 2390.1,2083.0 2392.3,2081.4 2394.8,2080.0 2397.4,2078.5 2400.1,2076.9 2402.8,2075.0 2405.5,2072.9 2407.8,2070.4 2409.8,2067.8 2411.6,2065.3 2413.3,2062.9 2414.9,2060.7 2416.8,2058.8 2419.0,2057.0 2421.2,2055.0 2423.6,2053.1 2425.9,2051.2 2428.2,2049.3 2430.5,2047.4 2432.9,2045.4 2435.2,2043.5 2437.5,2041.6 2439.8,2039.6 2442.1,2037.7 2444.4,2035.7 2446.7,2033.8 2449.0,2031.9 2451.3,2030.2 2453.6,2028.6 2456.1,2027.1 2458.7,2025.5 2461.3,2023.9 2464.0,2022.1 2466.6,2020.2 2468.9,2018.2 2471.2,2016.2 2473.5,2014.2 2475.8,2012.2 2478.1,2010.3 2480.4,2008.3 2482.7,2006.3 2484.9,2004.4 2487.1,2002.6 2489.3,2001.1 2491.7,1999.8 2494.3,1998.6 2497.1,1997.4 2500.0,1996.0 2502.9,1994.3 2505.6,1992.3 2508.0,1990.1 2510.3,1987.9 2512.4,1985.7 2514.5,1983.5 2516.5,1981.3 2518.6,1979.2 2520.7,1977.1 2522.8,1975.2 2524.9,1973.4 2527.2,1971.8 2529.6,1970.2 2532.1,1968.8 2534.7,1967.4 2537.4,1966.0 2540.1,1964.6 2542.8,1963.1 2545.5,1961.4 2548.1,1959.7 2550.6,1957.9 2553.1,1956.2 2555.6,1954.4 2558.0,1952.6 2560.4,1950.7 2562.9,1949.0 2565.3,1947.2 2567.7,1945.4 2570.1,1943.7 2572.5,1942.1 2575.0,1940.5 2577.5,1939.0 2580.0,1937.6 2582.7,1936.2 2585.4,1934.7 2588.1,1933.3 2590.7,1931.7 2593.4,1930.0 2596.0,1928.4 2598.5,1926.7 2601.0,1925.0 2603.5,1923.2 2606.0,1921.5 2608.5,1919.8 2610.9,1918.1 2613.4,1916.5 2615.9,1914.9 2618.4,1913.4 2621.0,1911.9 2623.5,1910.5 2626.2,1909.2 2628.8,1907.9 2631.5,1906.6 2634.2,1905.4 2636.9,1904.1 2639.6,1902.9 2642.4,1901.8 2645.1,1900.7 2647.9,1899.7 2650.7,1898.7 2653.5,1897.7 2656.3,1896.9 2659.3,1896.0 2661.8,1894.9 2664.0,1894.6 2666.8,1894.6 2668.8,1891.3 2668.5,1894.3 2668.0,1897.1 2667.4,1899.9 2666.7,1902.7 2665.9,1905.4 2664.9,1908.0 2663.8,1910.7 2662.5,1913.2 2661.1,1915.8 2659.7,1918.4 2658.2,1921.1 2656.8,1923.7 2655.3,1926.2 2653.8,1928.6 2652.1,1931.0 2650.3,1933.5 2648.6,1936.0 2646.9,1938.5 2645.2,1940.9 2643.4,1943.3 2641.6,1945.7 2639.8,1948.1 2638.0,1950.4 2636.1,1952.7 2634.2,1954.9 2632.3,1957.1 2630.2,1959.3 2628.2,1961.6 2626.1,1963.8 2624.1,1966.1 2622.1,1968.3 2620.0,1970.6 2618.0,1972.8 2616.0,1975.1 2614.0,1977.3 2612.0,1979.5 2609.9,1981.8 2607.9,1984.0 2605.9,1986.2 2603.8,1988.4 2601.8,1990.6 2599.7,1992.7 2597.6,1994.9 2595.5,1997.0 2593.4,1999.1 2591.2,2001.1 2589.0,2003.1 2586.8,2005.1 2584.5,2007.2 2582.2,2009.5 2580.1,2012.0 2578.2,2014.5 2576.4,2016.8 2574.6,2018.9 2572.7,2020.8 2570.5,2022.8 2568.2,2024.7 2565.9,2026.6 2563.6,2028.5 2561.2,2030.5 2558.9,2032.4 2556.6,2034.4 2554.3,2036.3 2552.0,2038.3 2549.7,2040.3 2547.4,2042.3 2545.1,2044.2 2542.8,2046.2 2540.6,2048.1 2538.4,2049.8 2536.1,2051.4 2533.6,2052.8 2531.0,2054.1 2528.3,2055.5 2525.5,2057.0 2522.8,2058.7 2520.1,2060.6 2517.5,2062.7 2515.2,2065.2 2513.2,2067.8 2511.3,2070.3 2509.6,2072.9 2507.9,2075.4 2506.3,2077.9 2504.6,2080.3 2502.9,2082.6 2501.1,2084.8 2499.1,2086.9 2497.0,2089.0 2495.0,2091.2 2492.9,2093.2 2490.7,2095.2 2488.5,2097.2 2486.2,2099.2 2484.0,2101.2 2481.7,2103.2 2479.4,2105.2 2477.2,2107.1 2474.9,2109.1 2472.6,2111.1 2470.3,2113.1 2468.1,2115.1 2465.8,2116.9 2463.5,2118.7 2461.2,2120.4 2458.7,2122.1 2456.2,2123.7 2453.7,2125.4 2451.1,2127.2 2448.6,2129.0 2446.2,2130.8 2443.8,2132.6 2441.3,2134.5 2438.9,2136.3 2436.5,2138.2 2434.1,2140.0 2431.7,2141.9 2429.4,2143.8 2427.0,2145.7 2424.6,2147.6 2422.3,2149.5 2419.9,2151.4 2417.6,2153.4 2415.3,2155.3 2413.0,2157.3 2410.6,2159.2 2408.3,2161.1 2406.0,2163.0 2403.7,2164.9 2401.3,2166.8 2399.0,2168.6 2396.6,2170.4 2394.2,2172.2 2391.8,2173.9 2389.3,2175.7 2386.9,2177.5 2384.5,2179.2 2382.1,2180.8 2379.6,2182.3 2377.1,2183.7 2374.4,2185.1 2371.7,2186.6 2369.0,2188.2 2366.3,2189.9 2363.7,2191.8 2361.2,2193.9 2358.9,2195.9 2356.6,2197.9 2354.4,2199.9 2352.1,2201.9 2349.8,2203.8 2347.6,2205.8 2345.3,2207.8 2343.0,2209.8 2340.8,2211.8 2338.8,2213.5 2336.9,2214.5 2334.6,2214.9 2331.7,2215.2 2328.2,2215.7 2324.6,2217.2 2321.7,2219.4 2319.3,2221.6 2317.1,2223.8 2315.0,2226.0 2312.9,2228.2 2310.8,2230.4 2308.8,2232.6 2306.7,2234.7 2304.6,2236.7 2302.5,2238.6 2300.3,2240.2 2298.0,2241.7 2295.6,2242.9 2293.0,2244.0 2290.2,2245.1 2287.3,2246.2 2284.4,2247.4 2281.5,2248.8 2278.8,2250.4 2276.1,2251.9 2273.5,2253.5 2270.9,2255.1 2268.3,2256.7 2265.8,2258.3 2263.2,2259.9 2260.7,2261.5 2258.1,2263.0 2255.5,2264.5 2253.0,2265.9 2250.3,2267.3 2247.7,2268.7 2245.0,2270.1 2242.4,2271.4 2239.7,2272.7 2237.0,2274.0 2234.3,2275.2 2231.5,2276.4 2228.8,2277.6 2226.0,2278.8" fill="#00BFC4" stroke="#00BFC4" stroke-width="2" stroke-linejoin="round"/>
<polyline points="2231.9,2266.3 2237.6,2262.7 2237.0,2255.7 2244.1,2253.5 2247.4,2248.7 2251.5,2244.4 2251.7,2237.0 2258.5,2230.8 2264.1,2227.4 2266.6,2221.6 2274.0,2215.8 2277.0,2210.6 2282.3,2203.8 2289.0,2197.9 2293.2,2189.1 2298.3,2185.0 2302.4,2180.6 2307.5,2173.3 2313.1,2166.2 2317.1,2162.0 2320.2,2157.0 2323.2,2147.7 2332.3,2144.0 2335.7,2134.7 2340.7,2131.1 2349.8,2127.4 2351.2,2120.2 2358.2,2118.7 2364.8,2112.5 2368.8,2108.0 2372.0,2102.6 2378.0,2099.9 2382.0,2095.5 2386.4,2091.5 2391.8,2085.3 2396.4,2082.6 2400.9,2078.2 2407.3,2074.9 2412.0,2069.4 2414.2,2060.1 2421.3,2059.7 2425.4,2055.3 2430.3,2051.8 2435.3,2048.4 2436.9,2040.9 2444.5,2040.5 2449.2,2036.8 2453.1,2032.7 2457.8,2030.0 2464.0,2022.1 2471.5,2016.5 2478.2,2015.0 2482.3,2010.5 2489.3,2005.5 2493.1,2002.7 2498.6,2000.8 2504.8,1997.2 2512.3,1989.9 2517.0,1985.8 2522.8,1979.3 2529.0,1974.4 2533.9,1971.9 2538.1,1967.4 2544.5,1966.1 2552.9,1961.1 2557.9,1957.5 2562.3,1953.3 2566.9,1949.5 2571.7,1946.0 2576.7,1943.4 2584.5,1939.6 2589.6,1936.0 2595.3,1933.1 2600.5,1929.6 2605.5,1926.1 2610.5,1922.8 2613.3,1916.4 2620.2,1916.4 2624.9,1913.1 2632.6,1909.0 2638.3,1907.2 2646.4,1904.0 2650.2,1897.2 2660.4,1898.9 2664.3,1896.6 2666.8,1896.6 2233.9,2274.5 2238.4,2270.0 2243.3,2266.6 2249.0,2264.9 2254.0,2261.8 2261.6,2257.3 2266.4,2253.7 2271.9,2250.9 2279.5,2251.6 2287.2,2245.9 2295.0,2241.7 2298.8,2238.0 2304.5,2232.5 2310.5,2226.0 2314.5,2221.2 2319.5,2216.9 2328.1,2215.5 2334.2,2212.2 2340.7,2211.7 2345.5,2208.1 2349.8,2203.8 2354.7,2200.2 2356.7,2193.3 2361.4,2188.9 2367.3,2185.4 2372.8,2182.1 2379.4,2182.0 2382.5,2176.3 2390.2,2171.7 2397.1,2166.1 2403.6,2160.1 2410.9,2159.5 2412.8,2152.4 2417.9,2149.1 2422.2,2144.6 2428.5,2142.7 2434.3,2135.3 2439.0,2131.3 2448.7,2129.1 2456.9,2124.7 2463.8,2119.1 2465.9,2112.5 2472.9,2106.9 2477.5,2103.0 2481.6,2098.5 2491.2,2095.8 2496.6,2088.7 2498.8,2082.7 2505.6,2081.0 2509.2,2072.6 2515.2,2065.3 2517.8,2057.6 2525.4,2056.7 2529.3,2050.9 2534.1,2048.1 2538.2,2045.1 2545.9,2045.1 2549.5,2035.4 2554.4,2031.8 2558.8,2027.6 2565.9,2026.6 2568.5,2020.5 2574.7,2018.9 2577.8,2014.2 2579.8,2007.4 2584.8,2002.8 2588.6,1998.2 2593.1,1994.5 2600.4,1993.4 2605.5,1985.9 2609.5,1981.4 2611.1,1974.7 2616.0,1971.0 2620.1,1966.5 2626.1,1959.6 2630.0,1955.1 2635.8,1952.4 2637.0,1945.9 2644.5,1944.1 2646.1,1934.3 2652.5,1927.7 2656.9,1920.4 2659.2,1911.5 2663.0,1904.4 2666.8,1896.6 2666.8,1896.6 2666.8,1896.6 2308.8,2159.9 2300.4,2173.8 2642.0,1954.4 2467.3,2119.3" fill="none" stroke="none" marker-start="url(#t)" marker-mid="url(#t)" marker-end="url(#t)"/>
<polygon points="2231.2,2282.1 2238.6,2275.4 2245.9,2268.8 2253.3,2262.1 2260.7,2255.4 2268.1,2248.8 2275.5,2242.1 2282.9,2235.5 2290.3,2228.9 2297.7,2222.2 2305.1,2215.6 2312.5,2209.0 2319.9,2202.4 2327.4,2195.9 2334.8,2189.3 2342.2,2182.7 2349.6,2176.1 2357.1,2169.6 2364.5,2163.0 2371.9,2156.5 2379.3,2150.0 2386.8,2143.5 2394.2,2136.9 2401.7,2130.4 2409.1,2123.9 2416.5,2117.4 2424.0,2111.0 2431.4,2104.5 2438.9,2098.0 2446.3,2091.5 2453.8,2085.1 2461.2,2078.6 2468.7,2072.2 2476.1,2065.7 2483.6,2059.3 2491.0,2052.9 2498.5,2046.4 2505.9,2040.0 2513.4,2033.6 2520.8,2027.2 2528.3,2020.8 2535.8,2014.4 2543.2,2008.1 2550.7,2001.7 2558.2,1995.3 2565.6,1989.0 2573.1,1982.6 2580.6,1976.3 2588.1,1970.0 2595.6,1963.7 2603.0,1957.3 2610.5,1951.0 2618.0,1944.8 2625.5,1938.5 2633.0,1932.2 2640.5,1925.9 2648.0,1919.7 2655.5,1913.4 2663.0,1907.2 2670.5,1900.9 2663.1,1892.2 2655.7,1898.6 2648.3,1905.0 2641.0,1911.3 2633.6,1917.7 2626.2,1924.1 2618.8,1930.5 2611.4,1936.9 2604.0,1943.3 2596.5,1949.7 2589.1,1956.1 2581.7,1962.5 2574.3,1968.9 2566.9,1975.4 2559.5,1981.8 2552.0,1988.2 2544.6,1994.6 2537.2,2001.0 2529.7,2007.4 2522.3,2013.9 2514.9,2020.3 2507.4,2026.7 2500.0,2033.2 2492.6,2039.6 2485.1,2046.0 2477.7,2052.5 2470.2,2058.9 2462.8,2065.4 2455.3,2071.8 2447.9,2078.3 2440.4,2084.7 2433.0,2091.2 2425.5,2097.7 2418.1,2104.2 2410.6,2110.6 2403.2,2117.1 2395.7,2123.6 2388.3,2130.1 2380.8,2136.6 2373.3,2143.1 2365.9,2149.6 2358.4,2156.1 2350.9,2162.6 2343.5,2169.1 2336.0,2175.6 2328.5,2182.1 2321.0,2188.7 2313.6,2195.2 2306.1,2201.7 2298.6,2208.2 2291.1,2214.7 2283.6,2221.3 2276.1,2227.8 2268.6,2234.3 2261.1,2240.9 2253.6,2247.4 2246.1,2253.9 2238.6,2260.5 2231.1,2267.0 2223.6,2273.5" fill="#F8766D"/>
<circle cx="2227.37" cy="2277.84" r="5.45" fill="#F8766D"/><circle cx="2666.83" cy="1896.56" r="5.45" fill="#F8766D"/>
</g>
<rect x="2206.50" y="1878.60" width="481.20" height="417.20" fill="none" stroke="#333" stroke-width="2.2"/>
<path d="M2226.93 2296.90v11.46M2387.92 2296.90v11.46M2548.35 2296.90v11.46" stroke="#333" stroke-width="4.45" fill="none"/>
<rect x="181.30" y="2376.50" width="481.20" height="69.30" fill="#D9D9D9" stroke="#333" stroke-width="2.2"/>
<clipPath id="c21"><rect x="180.20" y="2446.90" width="483.40" height="419.40"/></clipPath>
<g clip-path="url(#c21)">
<polygon points="203.6,2844.6 204.9,2841.9 206.2,2839.2 207.5,2836.6 208.8,2834.0 210.2,2831.5 211.8,2829.1 213.5,2826.7 215.2,2824.3 216.9,2821.9 218.8,2819.5 220.6,2817.2 222.5,2814.9 224.4,2812.6 226.3,2810.3 228.2,2808.0 230.2,2805.7 232.2,2803.4 234.1,2801.0 236.0,2798.6 237.9,2796.2 239.8,2793.9 241.7,2791.5 243.6,2789.1 245.4,2786.7 247.3,2784.4 249.1,2782.0 251.0,2779.7 252.9,2777.4 254.8,2775.2 256.8,2773.1 258.9,2770.9 261.0,2768.7 263.1,2766.5 265.2,2764.2 267.2,2761.8 269.1,2759.4 271.0,2757.0 272.9,2754.7 274.7,2752.4 276.7,2750.1 278.6,2747.9 280.6,2745.6 282.6,2743.4 284.6,2741.1 286.6,2738.8 288.6,2736.5 290.6,2734.2 292.6,2731.9 294.6,2729.6 296.5,2727.2 298.4,2724.7 300.2,2722.2 302.0,2719.7 303.7,2717.3 305.5,2715.0 307.3,2712.7 309.2,2710.5 311.2,2708.3 313.2,2706.1 315.2,2703.9 317.3,2701.8 319.4,2699.8 321.5,2697.7 323.7,2695.8 326.0,2693.8 328.2,2691.9 330.6,2690.0 332.9,2688.1 335.2,2686.2 337.6,2684.2 339.9,2682.3 342.3,2680.2 344.6,2678.1 346.8,2675.9 348.9,2673.8 351.0,2671.6 353.1,2669.4 355.2,2667.2 357.3,2665.1 359.4,2663.0 361.6,2660.8 363.7,2658.7 365.8,2656.6 368.0,2654.4 370.1,2652.3 372.2,2650.1 374.4,2648.0 376.5,2645.8 378.6,2643.6 380.7,2641.5 382.7,2639.4 384.9,2637.4 387.1,2635.5 389.3,2633.6 391.6,2631.6 394.0,2629.7 396.3,2627.8 398.7,2625.9 401.0,2623.9 403.4,2621.9 405.7,2619.7 407.8,2617.5 409.9,2615.2 412.0,2613.1 414.0,2611.0 416.1,2609.0 418.2,2607.3 420.4,2605.9 422.8,2604.7 425.5,2603.5 428.4,2602.3 431.3,2600.8 434.2,2599.0 436.7,2596.9 439.1,2594.8 441.3,2592.7 443.5,2590.5 445.7,2588.3 447.8,2586.2 449.9,2584.0 452.0,2581.8 454.1,2579.6 456.2,2577.3 458.3,2574.9 460.3,2572.5 462.1,2570.0 463.9,2567.6 465.7,2565.3 467.6,2563.2 469.5,2561.2 471.6,2559.4 473.9,2557.6 476.2,2555.8 478.6,2554.0 481.0,2552.2 483.5,2550.5 485.9,2548.7 488.4,2547.0 490.9,2545.2 493.3,2543.3 495.8,2541.5 498.2,2539.6 500.5,2537.8 502.9,2535.9 505.3,2534.1 507.7,2532.3 510.1,2530.6 512.5,2528.9 514.8,2527.3 517.2,2526.0 519.6,2525.0 522.3,2524.2 525.1,2523.4 528.1,2522.6 531.2,2521.7 534.3,2520.5 537.2,2519.0 539.9,2517.4 542.6,2515.8 545.2,2514.2 547.8,2512.6 550.4,2511.0 552.9,2509.3 555.4,2507.6 558.0,2506.0 560.5,2504.3 563.0,2502.5 565.5,2500.8 568.0,2499.1 570.5,2497.3 572.9,2495.6 575.4,2493.9 577.8,2492.2 580.3,2490.6 582.8,2489.0 585.3,2487.4 587.9,2485.9 590.5,2484.4 593.1,2482.9 595.7,2481.5 598.3,2480.1 601.0,2478.7 603.6,2477.4 606.3,2476.1 609.0,2474.7 611.7,2473.5 614.4,2472.3 617.1,2471.1 619.8,2470.0 622.6,2469.0 625.4,2467.9 628.2,2467.0 631.0,2466.0 633.9,2465.1 636.4,2464.2 638.8,2464.0 641.6,2464.0 643.6,2460.7 643.2,2463.6 642.7,2466.4 642.1,2469.2 641.3,2471.8 640.3,2474.5 639.2,2477.1 638.0,2479.7 636.6,2482.2 635.1,2484.8 633.5,2487.4 632.0,2490.0 630.6,2492.5 629.0,2494.9 627.2,2497.3 625.5,2499.7 623.7,2502.2 621.9,2504.6 620.2,2507.0 618.4,2509.4 616.5,2511.7 614.7,2514.1 612.8,2516.4 610.9,2518.6 609.0,2520.8 607.0,2523.0 604.9,2525.2 602.9,2527.4 600.8,2529.6 598.7,2531.9 596.7,2534.1 594.6,2536.3 592.6,2538.6 590.6,2540.8 588.5,2543.0 586.5,2545.2 584.4,2547.4 582.3,2549.6 580.3,2551.8 578.2,2553.9 576.1,2556.1 574.0,2558.3 571.9,2560.4 569.8,2562.6 567.7,2564.8 565.6,2567.1 563.5,2569.3 561.5,2571.6 559.5,2573.9 557.5,2576.1 555.5,2578.2 553.5,2580.2 551.4,2582.1 549.2,2583.8 546.9,2585.4 544.4,2586.8 541.8,2588.3 539.1,2589.8 536.3,2591.6 533.8,2593.5 531.4,2595.4 529.0,2597.3 526.6,2599.4 524.4,2601.4 522.1,2603.4 519.8,2605.3 517.5,2607.3 515.3,2609.3 513.0,2611.3 510.7,2613.4 508.4,2615.5 506.2,2617.6 504.1,2619.8 501.9,2622.0 499.8,2624.1 497.7,2626.3 495.6,2628.5 493.5,2630.8 491.4,2633.1 489.4,2635.5 487.5,2638.0 485.7,2640.4 483.9,2642.7 482.0,2644.9 480.2,2647.0 478.1,2648.9 475.8,2650.8 473.5,2652.8 471.3,2654.7 469.0,2656.7 466.7,2658.7 464.4,2660.6 462.1,2662.6 459.8,2664.5 457.5,2666.5 455.2,2668.4 452.9,2670.3 450.5,2672.2 448.2,2674.2 445.9,2676.1 443.5,2678.1 441.2,2680.0 438.9,2682.0 436.6,2684.0 434.3,2685.9 432.0,2687.9 429.7,2689.9 427.4,2691.8 425.2,2693.8 422.8,2695.8 420.5,2698.0 418.3,2700.1 416.2,2702.4 414.1,2704.6 412.0,2706.8 409.9,2708.9 407.9,2711.1 405.8,2713.1 403.7,2715.0 401.5,2716.7 399.2,2718.3 396.8,2719.7 394.2,2721.0 391.5,2722.4 388.7,2723.9 386.0,2725.5 383.3,2727.4 380.8,2729.5 378.5,2731.5 376.2,2733.5 373.9,2735.5 371.6,2737.5 369.4,2739.5 367.1,2741.4 364.8,2743.4 362.6,2745.4 360.3,2747.4 358.0,2749.4 355.7,2751.3 353.5,2753.3 351.2,2755.3 348.9,2757.2 346.6,2759.2 344.3,2761.2 342.0,2763.1 339.7,2765.1 337.4,2767.0 335.1,2768.8 332.8,2770.6 330.4,2772.3 328.0,2774.0 325.5,2775.7 323.0,2777.3 320.5,2779.0 318.0,2780.6 315.4,2782.3 312.9,2783.9 310.4,2785.6 307.9,2787.2 305.3,2788.7 302.8,2790.3 300.2,2791.8 297.6,2793.3 295.0,2794.9 292.4,2796.4 289.8,2797.9 287.2,2799.4 284.6,2801.0 282.0,2802.5 279.4,2804.1 276.8,2805.6 274.2,2807.2 271.6,2808.8 269.0,2810.3 266.4,2811.9 263.8,2813.4 261.2,2815.0 258.6,2816.5 256.1,2818.1 253.5,2819.6 250.9,2821.2 248.3,2822.8 245.7,2824.4 243.1,2826.0 240.6,2827.6 238.0,2829.1 235.4,2830.6 232.9,2832.2 230.3,2833.6 227.7,2835.1 225.1,2836.5 222.4,2837.9 219.8,2839.3 217.1,2840.6 214.4,2841.9 211.7,2843.2 209.0,2844.5 206.3,2845.7 203.5,2846.9 200.8,2848.1" fill="#00BFC4" stroke="#00BFC4" stroke-width="2" stroke-linejoin="round"/>
<polyline points="206.3,2845.9 209.1,2840.7 207.7,2833.4 216.6,2828.9 219.8,2824.1 225.5,2817.3 228.4,2812.1 234.4,2805.2 239.0,2801.0 241.7,2791.5 248.5,2789.1 253.6,2781.8 257.5,2777.6 258.3,2770.3 266.0,2765.0 274.1,2759.4 277.6,2754.8 280.7,2749.7 284.7,2745.2 286.7,2738.9 293.2,2736.4 296.8,2731.4 299.9,2721.9 304.8,2714.4 313.7,2710.6 317.5,2706.1 324.1,2700.5 327.7,2695.9 333.0,2693.0 337.4,2688.9 342.0,2684.7 345.5,2679.1 351.0,2675.8 353.7,2669.9 359.9,2667.6 364.1,2659.1 372.0,2654.2 376.7,2650.2 380.5,2645.5 384.8,2641.6 389.3,2638.1 392.5,2632.7 398.6,2630.7 402.4,2620.8 408.2,2617.8 416.5,2613.5 420.1,2610.0 427.1,2607.1 436.0,2601.6 443.5,2595.0 448.4,2591.0 454.7,2584.3 455.8,2576.9 463.1,2574.7 468.4,2567.5 474.0,2562.2 476.6,2556.2 482.9,2554.8 485.9,2548.7 492.6,2547.5 495.6,2541.3 505.0,2538.7 512.2,2533.4 516.8,2530.6 520.7,2527.9 525.9,2526.4 535.9,2523.9 541.9,2520.8 545.2,2514.3 550.7,2511.4 559.6,2508.5 565.0,2505.4 570.1,2496.9 579.8,2495.2 582.2,2488.1 591.3,2485.8 595.2,2480.6 600.5,2477.8 607.8,2479.1 611.6,2473.3 618.5,2474.5 623.6,2471.7 631.9,2468.9 637.2,2466.0 638.9,2466.0 641.6,2466.0 207.7,2841.6 213.2,2839.3 218.5,2836.8 226.3,2832.5 235.9,2831.3 239.9,2826.4 246.7,2820.2 253.8,2820.2 260.9,2814.4 266.7,2812.4 272.3,2804.0 277.5,2801.0 283.0,2798.4 288.1,2795.0 293.1,2791.5 298.6,2789.2 305.7,2789.4 308.3,2782.4 315.3,2782.0 318.5,2775.9 326.0,2771.2 330.8,2767.9 336.7,2766.1 340.1,2760.8 344.2,2756.4 351.5,2755.7 356.3,2747.4 362.0,2744.7 367.6,2742.0 371.8,2737.6 376.3,2729.0 381.0,2724.4 387.4,2721.5 393.9,2720.4 397.8,2715.9 406.3,2713.6 407.2,2706.3 413.7,2704.2 418.3,2695.7 425.4,2694.1 429.7,2689.8 432.0,2683.2 439.4,2677.8 445.7,2671.1 451.0,2668.1 457.6,2666.6 463.8,2659.9 467.1,2654.6 473.6,2648.2 478.1,2644.9 487.0,2641.4 492.1,2633.7 492.8,2625.9 497.5,2621.9 505.9,2617.3 508.4,2610.9 513.4,2607.2 517.8,2603.1 524.6,2597.1 531.9,2591.0 539.0,2589.7 542.8,2584.0 547.1,2580.9 551.7,2578.2 555.5,2574.2 563.9,2569.7 569.6,2562.5 571.7,2556.0 577.1,2552.9 582.9,2550.1 584.5,2543.3 592.5,2538.5 596.6,2530.0 600.6,2525.3 604.5,2520.7 612.7,2516.3 616.3,2511.5 620.2,2507.0 622.9,2497.8 629.5,2495.3 629.7,2488.6 632.7,2483.3 634.6,2477.9 637.2,2473.3 638.7,2468.3 641.6,2466.0 641.6,2466.0 577.3,2569.5 424.1,2698.1 389.2,2728.3 366.3,2649.2 492.6,2541.0" fill="none" stroke="none" marker-start="url(#t)" marker-mid="url(#t)" marker-end="url(#t)"/>
<polygon points="206.0,2851.5 213.4,2844.8 220.7,2838.2 228.1,2831.5 235.5,2824.8 242.9,2818.2 250.3,2811.5 257.7,2804.9 265.1,2798.3 272.5,2791.6 279.9,2785.0 287.3,2778.4 294.7,2771.8 302.2,2765.3 309.6,2758.7 317.0,2752.1 324.4,2745.5 331.9,2739.0 339.3,2732.4 346.7,2725.9 354.1,2719.4 361.6,2712.9 369.0,2706.3 376.5,2699.8 383.9,2693.3 391.3,2686.8 398.8,2680.4 406.2,2673.9 413.7,2667.4 421.1,2660.9 428.6,2654.5 436.0,2648.0 443.5,2641.6 450.9,2635.1 458.4,2628.7 465.8,2622.3 473.3,2615.8 480.7,2609.4 488.2,2603.0 495.6,2596.6 503.1,2590.2 510.6,2583.8 518.0,2577.5 525.5,2571.1 533.0,2564.7 540.4,2558.4 547.9,2552.0 555.4,2545.7 562.9,2539.4 570.4,2533.1 577.8,2526.7 585.3,2520.4 592.8,2514.2 600.3,2507.9 607.8,2501.6 615.3,2495.3 622.8,2489.1 630.3,2482.8 637.8,2476.6 645.3,2470.3 637.9,2461.6 630.5,2468.0 623.1,2474.4 615.8,2480.7 608.4,2487.1 601.0,2493.5 593.6,2499.9 586.2,2506.3 578.8,2512.7 571.3,2519.1 563.9,2525.5 556.5,2531.9 549.1,2538.3 541.7,2544.8 534.3,2551.2 526.8,2557.6 519.4,2564.0 512.0,2570.4 504.5,2576.8 497.1,2583.3 489.7,2589.7 482.2,2596.1 474.8,2602.6 467.4,2609.0 459.9,2615.4 452.5,2621.9 445.0,2628.3 437.6,2634.8 430.1,2641.2 422.7,2647.7 415.2,2654.1 407.8,2660.6 400.3,2667.1 392.9,2673.6 385.4,2680.0 378.0,2686.5 370.5,2693.0 363.1,2699.5 355.6,2706.0 348.1,2712.5 340.7,2719.0 333.2,2725.5 325.7,2732.0 318.3,2738.5 310.8,2745.0 303.3,2751.5 295.8,2758.1 288.4,2764.6 280.9,2771.1 273.4,2777.6 265.9,2784.1 258.4,2790.7 250.9,2797.2 243.4,2803.7 235.9,2810.3 228.4,2816.8 220.9,2823.3 213.4,2829.9 205.9,2836.4 198.4,2842.9" fill="#F8766D"/>
<circle cx="202.17" cy="2847.24" r="5.45" fill="#F8766D"/><circle cx="641.63" cy="2465.96" r="5.45" fill="#F8766D"/>
</g>
<rect x="181.30" y="2448.00" width="481.20" height="417.20" fill="none" stroke="#333" stroke-width="2.2"/>
<path d="M201.93 2866.30v11.46M326.58 2866.30v11.46M451.24 2866.30v11.46M575.90 2866.30v11.46" stroke="#333" stroke-width="4.45" fill="none"/>
<path d="M168.74 2847.24h11.46M168.74 2751.92h11.46M168.74 2656.60h11.46M168.74 2561.28h11.46M168.74 2465.96h11.46" stroke="#333" stroke-width="4.45" fill="none"/>
<rect x="687.60" y="2376.50" width="481.20" height="69.30" fill="#D9D9D9" stroke="#333" stroke-width="2.2"/>
<clipPath id="c22"><rect x="686.50" y="2446.90" width="483.40" height="419.40"/></clipPath>
<g clip-path="url(#c22)">
<polygon points="709.8,2845.9 711.2,2843.3 712.7,2840.9 714.2,2838.5 715.9,2836.2 717.8,2834.0 719.8,2831.8 721.8,2829.5 723.8,2827.1 725.7,2824.5 727.5,2822.0 729.2,2819.5 731.0,2817.1 732.7,2814.6 734.5,2812.2 736.3,2809.9 738.1,2807.6 739.9,2805.4 741.9,2803.2 743.9,2801.1 746.0,2799.0 748.1,2796.9 750.3,2794.8 752.5,2792.7 754.7,2790.6 756.8,2788.4 759.0,2786.2 761.1,2784.0 763.2,2781.7 765.3,2779.4 767.3,2777.1 769.2,2774.8 771.2,2772.4 773.1,2770.1 775.0,2767.8 777.0,2765.5 778.9,2763.2 780.9,2760.8 782.8,2758.4 784.7,2756.1 786.5,2753.8 788.4,2751.5 790.4,2749.3 792.4,2747.2 794.4,2745.1 796.6,2743.0 798.7,2740.9 800.9,2738.8 803.1,2736.7 805.3,2734.5 807.5,2732.2 809.6,2729.5 811.4,2726.6 812.8,2723.8 814.2,2721.0 815.4,2718.3 816.7,2715.7 818.0,2713.5 819.5,2711.7 821.3,2710.4 823.6,2709.4 826.3,2708.5 829.3,2707.4 832.5,2706.0 835.5,2704.0 838.0,2701.6 840.2,2699.2 842.2,2696.8 844.0,2694.3 845.9,2691.9 847.7,2689.6 849.5,2687.4 851.4,2685.3 853.4,2683.5 855.6,2681.7 857.9,2680.0 860.4,2678.4 862.9,2676.8 865.5,2675.1 868.1,2673.3 870.7,2671.4 873.2,2669.2 875.4,2666.6 877.4,2664.0 879.1,2661.5 880.8,2659.2 882.5,2657.1 884.4,2655.3 886.6,2653.6 888.9,2651.9 891.4,2650.3 893.9,2648.7 896.5,2647.0 899.1,2645.2 901.7,2643.2 904.3,2640.7 906.3,2637.7 907.8,2634.9 909.1,2632.2 910.5,2629.7 911.9,2627.6 913.8,2625.5 915.8,2623.4 917.9,2621.2 920.0,2619.1 922.1,2617.0 924.2,2615.0 926.4,2613.0 928.5,2611.1 930.7,2609.5 933.0,2608.2 935.5,2607.0 938.3,2605.8 941.2,2604.5 944.1,2602.8 946.9,2600.9 949.4,2598.7 951.6,2596.5 953.8,2594.3 955.9,2592.1 958.0,2589.9 960.0,2587.7 962.1,2585.7 964.1,2583.8 966.0,2582.4 968.0,2581.6 970.3,2581.3 973.0,2581.4 976.2,2581.5 979.8,2581.2 983.5,2580.0 987.0,2577.7 989.2,2574.3 990.5,2571.2 991.6,2568.6 992.6,2566.6 994.3,2565.1 996.5,2563.5 998.9,2561.8 1001.4,2560.2 1004.0,2558.6 1006.6,2556.8 1009.2,2555.0 1011.7,2553.0 1014.1,2550.8 1016.3,2548.5 1018.4,2546.3 1020.4,2544.2 1022.4,2542.2 1024.6,2540.4 1026.8,2538.6 1029.2,2537.0 1031.6,2535.5 1034.1,2534.0 1036.8,2532.6 1039.4,2531.1 1042.1,2529.6 1044.8,2528.0 1047.4,2526.4 1049.9,2524.9 1052.5,2523.3 1055.1,2521.7 1057.7,2520.1 1060.3,2518.5 1062.8,2516.9 1065.4,2515.2 1068.0,2513.5 1070.5,2511.8 1073.0,2510.1 1075.5,2508.4 1078.0,2506.7 1080.5,2504.9 1083.0,2503.2 1085.4,2501.4 1087.9,2499.7 1090.4,2497.9 1092.8,2496.2 1095.3,2494.4 1097.8,2492.6 1100.2,2490.9 1102.7,2489.1 1105.1,2487.3 1107.5,2485.5 1110.0,2483.8 1112.4,2482.1 1114.9,2480.4 1117.3,2478.8 1119.8,2477.2 1122.4,2475.7 1124.9,2474.2 1127.5,2472.7 1130.1,2471.3 1132.8,2469.9 1135.4,2468.6 1138.1,2467.4 1140.8,2466.2 1143.6,2465.0 1145.7,2464.0 1148.0,2464.0 1149.9,2460.7 1149.5,2463.6 1149.0,2466.4 1148.4,2469.1 1147.6,2471.8 1146.6,2474.3 1145.4,2476.8 1144.0,2479.2 1142.4,2481.6 1140.7,2484.1 1139.0,2486.5 1137.3,2488.8 1135.4,2491.1 1133.5,2493.6 1131.7,2496.1 1130.0,2498.5 1128.2,2500.9 1126.4,2503.3 1124.6,2505.7 1122.8,2508.0 1120.9,2510.3 1119.0,2512.6 1117.1,2514.9 1115.1,2517.2 1113.2,2519.5 1111.2,2521.8 1109.2,2524.1 1107.3,2526.4 1105.4,2528.7 1103.5,2531.1 1101.5,2533.4 1099.6,2535.6 1097.6,2537.9 1095.7,2540.1 1093.7,2542.2 1091.6,2544.4 1089.5,2546.5 1087.4,2548.6 1085.3,2550.7 1083.1,2552.9 1081.0,2555.0 1078.8,2557.1 1076.7,2559.2 1074.5,2561.4 1072.4,2563.5 1070.3,2565.7 1068.2,2567.9 1066.1,2570.1 1064.0,2572.2 1061.9,2574.3 1059.8,2576.4 1057.7,2578.5 1055.5,2580.4 1053.3,2582.3 1051.0,2584.3 1048.7,2586.2 1046.4,2588.1 1044.0,2590.0 1041.7,2591.9 1039.3,2593.9 1036.9,2596.1 1034.7,2598.6 1032.7,2601.1 1030.9,2603.5 1029.1,2605.9 1027.4,2608.2 1025.6,2610.3 1023.6,2612.2 1021.4,2614.0 1019.1,2615.8 1016.8,2617.6 1014.4,2619.4 1011.9,2621.2 1009.5,2623.0 1007.1,2624.8 1004.6,2626.7 1002.2,2628.6 999.8,2630.6 997.4,2632.8 995.2,2635.2 993.2,2637.7 991.3,2640.1 989.5,2642.5 987.7,2644.8 985.8,2647.1 984.0,2649.2 982.1,2651.0 980.0,2652.5 977.7,2653.7 975.1,2654.8 972.3,2655.9 969.4,2657.1 966.4,2658.6 963.7,2660.2 961.1,2661.7 958.5,2663.3 955.9,2665.0 953.3,2666.8 950.8,2668.7 948.4,2670.7 946.1,2672.6 943.8,2674.6 941.5,2676.6 939.2,2678.5 936.9,2680.5 934.6,2682.5 932.3,2684.4 930.0,2686.4 927.7,2688.4 925.4,2690.3 923.2,2692.3 920.9,2694.2 918.6,2696.2 916.3,2698.2 914.0,2700.1 911.7,2702.1 909.4,2704.1 907.1,2706.1 904.8,2708.1 902.6,2710.1 900.3,2712.0 898.0,2714.0 895.8,2716.0 893.5,2718.0 891.2,2720.0 889.0,2722.0 886.8,2723.9 884.6,2725.5 882.3,2727.0 879.8,2728.4 877.2,2729.8 874.4,2731.2 871.6,2732.7 868.9,2734.4 866.2,2736.3 863.8,2738.4 861.5,2740.6 859.3,2742.8 857.2,2745.0 855.1,2747.2 853.0,2749.4 851.0,2751.6 848.9,2753.7 846.8,2755.7 844.7,2757.6 842.4,2759.4 840.1,2761.3 837.7,2763.1 835.3,2765.0 832.9,2766.9 830.6,2768.9 828.3,2770.8 826.0,2772.8 823.7,2774.8 821.4,2776.7 819.1,2778.7 816.8,2780.7 814.5,2782.6 812.3,2784.5 810.1,2786.3 807.9,2787.7 805.4,2788.9 802.8,2790.0 800.1,2791.1 797.2,2792.2 794.2,2793.4 791.3,2794.9 788.6,2796.6 786.0,2798.3 783.5,2800.1 781.0,2801.8 778.5,2803.6 776.1,2805.4 773.6,2807.1 771.2,2808.9 768.7,2810.6 766.3,2812.4 763.9,2814.1 761.4,2815.7 758.9,2817.3 756.4,2818.9 753.9,2820.5 751.3,2822.0 748.7,2823.6 746.2,2825.1 743.6,2826.6 741.0,2828.1 738.3,2829.6 735.7,2831.1 733.1,2832.6 730.5,2834.1 727.9,2835.6 725.3,2837.1 722.7,2838.5 720.0,2840.0 717.4,2841.5 714.8,2842.9 712.1,2844.3 709.5,2845.8 706.8,2847.2" fill="#00BFC4" stroke="#00BFC4" stroke-width="2" stroke-linejoin="round"/>
<polyline points="713.0,2847.2 715.2,2835.7 719.9,2831.9 726.6,2829.3 730.0,2820.1 735.0,2816.3 738.2,2807.7 744.5,2805.6 748.0,2796.7 754.9,2795.2 761.0,2788.2 765.5,2783.8 770.2,2779.7 776.1,2772.6 779.7,2767.7 783.3,2762.8 783.5,2755.1 788.6,2751.7 793.9,2744.5 800.9,2743.1 802.7,2736.2 809.6,2734.0 814.3,2728.2 818.4,2719.7 820.5,2715.2 820.6,2709.2 827.3,2711.4 834.1,2708.8 842.8,2701.4 843.2,2693.7 850.5,2691.9 851.5,2685.4 855.5,2681.6 864.5,2679.2 870.3,2676.4 878.3,2668.9 883.3,2661.1 884.5,2655.4 890.9,2649.6 900.8,2647.6 905.3,2641.5 912.3,2633.8 915.0,2630.0 918.1,2625.5 922.0,2621.2 929.0,2615.9 934.4,2610.9 942.7,2607.5 949.3,2603.9 956.2,2596.6 962.8,2590.4 966.0,2586.1 970.4,2584.3 980.5,2584.8 989.4,2580.0 989.5,2570.8 994.9,2568.4 995.9,2562.6 1003.4,2563.3 1011.3,2557.8 1013.8,2550.5 1019.8,2543.6 1023.6,2539.1 1031.6,2535.5 1036.4,2531.9 1046.2,2530.4 1054.0,2525.8 1059.7,2523.4 1066.0,2516.1 1070.6,2512.0 1075.1,2507.8 1082.2,2507.3 1089.7,2502.2 1093.7,2497.5 1099.5,2495.1 1104.6,2491.8 1107.0,2484.7 1116.9,2483.5 1120.3,2478.0 1126.6,2477.1 1130.9,2472.7 1139.4,2470.3 1144.7,2466.0 1146.3,2466.0 1147.9,2466.0 720.6,2841.0 725.7,2837.8 729.2,2831.8 735.3,2830.4 742.1,2824.2 746.9,2820.5 752.2,2817.7 759.2,2817.7 764.6,2815.2 769.5,2806.6 776.6,2806.1 780.1,2800.5 787.1,2794.3 794.4,2793.8 800.0,2791.0 804.2,2786.4 810.0,2781.8 814.6,2778.1 819.1,2774.1 823.9,2770.4 830.4,2763.9 840.5,2761.7 842.9,2755.5 846.3,2751.0 852.6,2744.9 861.1,2740.2 867.0,2737.3 872.7,2727.9 882.7,2727.8 886.6,2719.3 891.3,2715.5 896.3,2712.0 900.5,2707.7 905.0,2703.7 914.7,2701.0 920.5,2693.8 925.8,2686.1 931.6,2683.6 937.1,2676.2 941.9,2672.4 949.0,2671.4 954.2,2662.4 961.5,2662.3 969.9,2658.3 974.9,2654.2 977.9,2649.2 982.0,2647.2 986.6,2640.3 991.1,2636.0 996.9,2632.3 1004.1,2626.0 1007.9,2620.8 1015.2,2620.5 1016.9,2613.1 1021.1,2609.3 1027.6,2608.4 1031.6,2604.1 1032.2,2596.5 1042.7,2593.2 1044.6,2585.8 1049.1,2581.9 1053.1,2577.7 1059.7,2572.2 1068.9,2568.6 1070.2,2561.4 1074.2,2556.7 1078.5,2552.4 1083.1,2548.5 1088.8,2545.8 1092.8,2537.5 1096.8,2533.2 1103.3,2527.0 1109.0,2519.9 1112.6,2515.0 1116.5,2510.5 1119.8,2505.6 1123.8,2501.3 1127.8,2496.9 1135.3,2491.0 1141.7,2484.8 1143.7,2479.0 1147.6,2471.8 1147.9,2466.0 1147.9,2466.0 1045.6,2520.1 961.7,2580.7 928.7,2610.1 918.9,2618.5 908.6,2628.2 817.8,2710.1 983.2,2653.4" fill="none" stroke="none" marker-start="url(#t)" marker-mid="url(#t)" marker-end="url(#t)"/>
<polygon points="712.3,2851.5 719.7,2844.8 727.1,2838.0 734.6,2831.3 742.0,2824.6 749.4,2817.9 756.8,2811.2 764.2,2804.5 771.7,2797.8 779.1,2791.1 786.5,2784.5 793.9,2777.8 801.4,2771.2 808.8,2764.6 816.2,2757.9 823.7,2751.3 831.1,2744.7 838.5,2738.2 846.0,2731.6 853.4,2725.0 860.9,2718.5 868.3,2711.9 875.7,2705.4 883.2,2698.9 890.6,2692.3 898.1,2685.8 905.5,2679.3 913.0,2672.9 920.4,2666.4 927.9,2659.9 935.3,2653.4 942.7,2647.0 950.2,2640.6 957.6,2634.1 965.1,2627.7 972.5,2621.3 980.0,2614.9 987.4,2608.5 994.9,2602.1 1002.3,2595.7 1009.8,2589.4 1017.2,2583.0 1024.7,2576.7 1032.2,2570.3 1039.6,2564.0 1047.1,2557.7 1054.5,2551.4 1062.0,2545.1 1069.4,2538.8 1076.9,2532.5 1084.4,2526.3 1091.8,2520.0 1099.3,2513.8 1106.8,2507.5 1114.2,2501.3 1121.7,2495.1 1129.2,2488.9 1136.7,2482.7 1144.1,2476.5 1151.6,2470.4 1144.2,2461.5 1136.8,2467.8 1129.4,2474.0 1122.0,2480.3 1114.6,2486.6 1107.1,2492.9 1099.7,2499.1 1092.3,2505.4 1084.8,2511.7 1077.4,2518.0 1070.0,2524.3 1062.5,2530.7 1055.1,2537.0 1047.7,2543.3 1040.2,2549.7 1032.8,2556.0 1025.4,2562.4 1017.9,2568.7 1010.5,2575.1 1003.0,2581.5 995.6,2587.9 988.1,2594.2 980.7,2600.6 973.2,2607.1 965.8,2613.5 958.4,2619.9 950.9,2626.3 943.5,2632.8 936.0,2639.2 928.6,2645.7 921.1,2652.1 913.6,2658.6 906.2,2665.1 898.7,2671.6 891.3,2678.1 883.8,2684.6 876.4,2691.1 868.9,2697.6 861.5,2704.1 854.0,2710.7 846.6,2717.2 839.1,2723.8 831.6,2730.3 824.2,2736.9 816.7,2743.5 809.3,2750.1 801.8,2756.7 794.3,2763.3 786.9,2769.9 779.4,2776.5 771.9,2783.1 764.4,2789.7 757.0,2796.3 749.5,2803.0 742.0,2809.6 734.5,2816.3 727.1,2822.9 719.6,2829.6 712.1,2836.3 704.6,2843.0" fill="#F8766D"/>
<circle cx="708.47" cy="2847.24" r="5.45" fill="#F8766D"/><circle cx="1147.93" cy="2465.96" r="5.45" fill="#F8766D"/>
</g>
<rect x="687.60" y="2448.00" width="481.20" height="417.20" fill="none" stroke="#333" stroke-width="2.2"/>
<path d="M707.93 2866.30v11.46M819.73 2866.30v11.46M931.25 2866.30v11.46M1043.05 2866.30v11.46M1154.57 2866.30v11.46" stroke="#333" stroke-width="4.45" fill="none"/>
<circle cx="2793.4" cy="1514.9" r="5.45" fill="#F8766D"/><circle cx="2793.4" cy="1587.1" r="5.45" fill="#00BFC4"/>
<g style="opacity:.9999"><text transform="translate(179.97 63.80) scale(1.0496 1)" font-size="58.30" fill="#000">Effect of Sigma on PCO pvalue, module73</text>
<text transform="translate(369.59 147.00) scale(1.0647 1)" font-size="38.87" fill="#1A1A1A">chr: 1</text>
<text transform="translate(140.98 636.10) scale(1.1161 1)" font-size="38.87" fill="#4D4D4D">0e+00</text>
<text transform="translate(234.08 636.10) scale(1.1099 1)" font-size="38.87" fill="#4D4D4D">1e+05</text>
<text transform="translate(327.23 636.10) scale(1.1118 1)" font-size="38.87" fill="#4D4D4D">2e+05</text>
<text transform="translate(420.94 636.10) scale(1.1059 1)" font-size="38.87" fill="#4D4D4D">3e+05</text>
<text transform="translate(513.95 636.10) scale(1.1090 1)" font-size="38.87" fill="#4D4D4D">4e+05</text>
<text transform="translate(78.73 582.94) scale(1.0575 1)" font-size="38.87" fill="#4D4D4D">0.00</text>
<text transform="translate(78.75 487.62) scale(1.0486 1)" font-size="38.87" fill="#4D4D4D">0.25</text>
<text transform="translate(78.73 392.30) scale(1.0575 1)" font-size="38.87" fill="#4D4D4D">0.50</text>
<text transform="translate(78.75 296.98) scale(1.0486 1)" font-size="38.87" fill="#4D4D4D">0.75</text>
<text transform="translate(78.83 201.66) scale(1.0562 1)" font-size="38.87" fill="#4D4D4D">1.00</text>
<text transform="translate(875.89 147.00) scale(1.0628 1)" font-size="38.87" fill="#1A1A1A">chr: 2</text>
<text transform="translate(646.98 636.10) scale(1.1161 1)" font-size="38.87" fill="#4D4D4D">0e+00</text>
<text transform="translate(731.13 636.10) scale(1.1099 1)" font-size="38.87" fill="#4D4D4D">1e+05</text>
<text transform="translate(815.06 636.10) scale(1.1118 1)" font-size="38.87" fill="#4D4D4D">2e+05</text>
<text transform="translate(899.55 636.10) scale(1.1059 1)" font-size="38.87" fill="#4D4D4D">3e+05</text>
<text transform="translate(983.34 636.10) scale(1.1090 1)" font-size="38.87" fill="#4D4D4D">4e+05</text>
<text transform="translate(1067.48 636.10) scale(1.1063 1)" font-size="38.87" fill="#4D4D4D">5e+05</text>
<text transform="translate(1382.19 147.00) scale(1.0676 1)" font-size="38.87" fill="#1A1A1A">chr: 3</text>
<text transform="translate(1153.42 636.10) scale(1.1161 1)" font-size="38.87" fill="#4D4D4D">0e+00</text>
<text transform="translate(1251.83 636.10) scale(1.1099 1)" font-size="38.87" fill="#4D4D4D">1e+05</text>
<text transform="translate(1349.73 636.10) scale(1.1118 1)" font-size="38.87" fill="#4D4D4D">2e+05</text>
<text transform="translate(1448.47 636.10) scale(1.1059 1)" font-size="38.87" fill="#4D4D4D">3e+05</text>
<text transform="translate(1546.24 636.10) scale(1.1090 1)" font-size="38.87" fill="#4D4D4D">4e+05</text>
<text transform="translate(1888.48 147.00) scale(1.0707 1)" font-size="38.87" fill="#1A1A1A">chr: 4</text>
<text transform="translate(1659.98 636.10) scale(1.1161 1)" font-size="38.87" fill="#4D4D4D">0e+00</text>
<text transform="translate(1755.03 636.10) scale(1.1099 1)" font-size="38.87" fill="#4D4D4D">1e+05</text>
<text transform="translate(1850.70 636.10) scale(1.1118 1)" font-size="38.87" fill="#4D4D4D">2e+05</text>
<text transform="translate(1946.93 636.10) scale(1.1059 1)" font-size="38.87" fill="#4D4D4D">3e+05</text>
<text transform="translate(2042.18 636.10) scale(1.1090 1)" font-size="38.87" fill="#4D4D4D">4e+05</text>
<text transform="translate(2394.79 147.00) scale(1.0636 1)" font-size="38.87" fill="#1A1A1A">chr: 5</text>
<text transform="translate(2165.98 636.10) scale(1.1161 1)" font-size="38.87" fill="#4D4D4D">0e+00</text>
<text transform="translate(2275.57 636.10) scale(1.1099 1)" font-size="38.87" fill="#4D4D4D">1e+05</text>
<text transform="translate(2384.93 636.10) scale(1.1118 1)" font-size="38.87" fill="#4D4D4D">2e+05</text>
<text transform="translate(2495.13 636.10) scale(1.1059 1)" font-size="38.87" fill="#4D4D4D">3e+05</text>
<text transform="translate(2604.36 636.10) scale(1.1090 1)" font-size="38.87" fill="#4D4D4D">4e+05</text>
<text transform="translate(369.57 716.40) scale(1.0742 1)" font-size="38.87" fill="#1A1A1A">chr: 6</text>
<text transform="translate(140.98 1205.50) scale(1.1161 1)" font-size="38.87" fill="#4D4D4D">0e+00</text>
<text transform="translate(243.86 1205.50) scale(1.1099 1)" font-size="38.87" fill="#4D4D4D">1e+05</text>
<text transform="translate(347.35 1205.50) scale(1.1118 1)" font-size="38.87" fill="#4D4D4D">2e+05</text>
<text transform="translate(451.41 1205.50) scale(1.1059 1)" font-size="38.87" fill="#4D4D4D">3e+05</text>
<text transform="translate(554.48 1205.50) scale(1.1090 1)" font-size="38.87" fill="#4D4D4D">4e+05</text>
<text transform="translate(78.73 1152.34) scale(1.0575 1)" font-size="38.87" fill="#4D4D4D">0.00</text>
<text transform="translate(78.75 1057.02) scale(1.0486 1)" font-size="38.87" fill="#4D4D4D">0.25</text>
<text transform="translate(78.73 961.70) scale(1.0575 1)" font-size="38.87" fill="#4D4D4D">0.50</text>
<text transform="translate(78.75 866.38) scale(1.0486 1)" font-size="38.87" fill="#4D4D4D">0.75</text>
<text transform="translate(78.83 771.06) scale(1.0562 1)" font-size="38.87" fill="#4D4D4D">1.00</text>
<text transform="translate(875.88 716.40) scale(1.0683 1)" font-size="38.87" fill="#1A1A1A">chr: 7</text>
<text transform="translate(646.98 1205.50) scale(1.1161 1)" font-size="38.87" fill="#4D4D4D">0e+00</text>
<text transform="translate(768.31 1205.50) scale(1.1099 1)" font-size="38.87" fill="#4D4D4D">1e+05</text>
<text transform="translate(889.13 1205.50) scale(1.1118 1)" font-size="38.87" fill="#4D4D4D">2e+05</text>
<text transform="translate(1010.79 1205.50) scale(1.1059 1)" font-size="38.87" fill="#4D4D4D">3e+05</text>
<text transform="translate(1382.18 716.40) scale(1.0719 1)" font-size="38.87" fill="#1A1A1A">chr: 8</text>
<text transform="translate(1153.42 1205.50) scale(1.1161 1)" font-size="38.87" fill="#4D4D4D">0e+00</text>
<text transform="translate(1279.50 1205.50) scale(1.1099 1)" font-size="38.87" fill="#4D4D4D">1e+05</text>
<text transform="translate(1405.35 1205.50) scale(1.1118 1)" font-size="38.87" fill="#4D4D4D">2e+05</text>
<text transform="translate(1532.60 1205.50) scale(1.1059 1)" font-size="38.87" fill="#4D4D4D">3e+05</text>
<text transform="translate(1888.48 716.40) scale(1.0729 1)" font-size="38.87" fill="#1A1A1A">chr: 9</text>
<text transform="translate(1659.98 1205.50) scale(1.1161 1)" font-size="38.87" fill="#4D4D4D">0e+00</text>
<text transform="translate(1823.51 1205.50) scale(1.1099 1)" font-size="38.87" fill="#4D4D4D">1e+05</text>
<text transform="translate(1987.10 1205.50) scale(1.1118 1)" font-size="38.87" fill="#4D4D4D">2e+05</text>
<text transform="translate(2383.11 716.40) scale(1.0721 1)" font-size="38.87" fill="#1A1A1A">chr: 10</text>
<text transform="translate(2165.98 1205.50) scale(1.1161 1)" font-size="38.87" fill="#4D4D4D">0e+00</text>
<text transform="translate(2302.96 1205.50) scale(1.1099 1)" font-size="38.87" fill="#4D4D4D">1e+05</text>
<text transform="translate(2439.15 1205.50) scale(1.1118 1)" font-size="38.87" fill="#4D4D4D">2e+05</text>
<text transform="translate(2576.47 1205.50) scale(1.1059 1)" font-size="38.87" fill="#4D4D4D">3e+05</text>
<text transform="translate(357.88 1285.80) scale(1.0947 1)" font-size="38.87" fill="#1A1A1A">chr: 11</text>
<text transform="translate(140.98 1774.90) scale(1.1161 1)" font-size="38.87" fill="#4D4D4D">0e+00</text>
<text transform="translate(281.59 1774.90) scale(1.1099 1)" font-size="38.87" fill="#4D4D4D">1e+05</text>
<text transform="translate(422.26 1774.90) scale(1.1118 1)" font-size="38.87" fill="#4D4D4D">2e+05</text>
<text transform="translate(563.49 1774.90) scale(1.1059 1)" font-size="38.87" fill="#4D4D4D">3e+05</text>
<text transform="translate(78.73 1721.74) scale(1.0575 1)" font-size="38.87" fill="#4D4D4D">0.00</text>
<text transform="translate(78.75 1626.42) scale(1.0486 1)" font-size="38.87" fill="#4D4D4D">0.25</text>
<text transform="translate(78.73 1531.10) scale(1.0575 1)" font-size="38.87" fill="#4D4D4D">0.50</text>
<text transform="translate(78.75 1435.78) scale(1.0486 1)" font-size="38.87" fill="#4D4D4D">0.75</text>
<text transform="translate(78.83 1340.46) scale(1.0562 1)" font-size="38.87" fill="#4D4D4D">1.00</text>
<text transform="translate(864.22 1285.80) scale(1.0659 1)" font-size="38.87" fill="#1A1A1A">chr: 12</text>
<text transform="translate(646.98 1774.90) scale(1.1161 1)" font-size="38.87" fill="#4D4D4D">0e+00</text>
<text transform="translate(792.62 1774.90) scale(1.1099 1)" font-size="38.87" fill="#4D4D4D">1e+05</text>
<text transform="translate(937.48 1774.90) scale(1.1118 1)" font-size="38.87" fill="#4D4D4D">2e+05</text>
<text transform="translate(1083.74 1774.90) scale(1.1059 1)" font-size="38.87" fill="#4D4D4D">3e+05</text>
<text transform="translate(1370.52 1285.80) scale(1.0697 1)" font-size="38.87" fill="#1A1A1A">chr: 13</text>
<text transform="translate(1203.58 1774.90) scale(0.9946 1)" font-size="38.87" fill="#4D4D4D">0</text>
<text transform="translate(1249.45 1774.90) scale(1.0603 1)" font-size="38.87" fill="#4D4D4D">50000</text>
<text transform="translate(1329.41 1774.90) scale(1.0660 1)" font-size="38.87" fill="#4D4D4D">100000</text>
<text transform="translate(1421.65 1774.90) scale(1.0660 1)" font-size="38.87" fill="#4D4D4D">150000</text>
<text transform="translate(1513.36 1774.90) scale(1.0680 1)" font-size="38.87" fill="#4D4D4D">200000</text>
<text transform="translate(1605.59 1774.90) scale(1.0680 1)" font-size="38.87" fill="#4D4D4D">250000</text>
<text transform="translate(1876.81 1285.80) scale(1.0723 1)" font-size="38.87" fill="#1A1A1A">chr: 14</text>
<text transform="translate(1710.14 1774.90) scale(0.9946 1)" font-size="38.87" fill="#4D4D4D">0</text>
<text transform="translate(1772.22 1774.90) scale(1.0603 1)" font-size="38.87" fill="#4D4D4D">50000</text>
<text transform="translate(1868.95 1774.90) scale(1.0660 1)" font-size="38.87" fill="#4D4D4D">100000</text>
<text transform="translate(1977.40 1774.90) scale(1.0660 1)" font-size="38.87" fill="#4D4D4D">150000</text>
<text transform="translate(2085.60 1774.90) scale(1.0680 1)" font-size="38.87" fill="#4D4D4D">200000</text>
<text transform="translate(2383.12 1285.80) scale(1.0665 1)" font-size="38.87" fill="#1A1A1A">chr: 15</text>
<text transform="translate(2216.14 1774.90) scale(0.9946 1)" font-size="38.87" fill="#4D4D4D">0</text>
<text transform="translate(2298.62 1774.90) scale(1.0603 1)" font-size="38.87" fill="#4D4D4D">50000</text>
<text transform="translate(2415.20 1774.90) scale(1.0660 1)" font-size="38.87" fill="#4D4D4D">100000</text>
<text transform="translate(2544.05 1774.90) scale(1.0660 1)" font-size="38.87" fill="#4D4D4D">150000</text>
<text transform="translate(357.91 1855.20) scale(1.0751 1)" font-size="38.87" fill="#1A1A1A">chr: 16</text>
<text transform="translate(191.14 2344.30) scale(0.9946 1)" font-size="38.87" fill="#4D4D4D">0</text>
<text transform="translate(266.08 2344.30) scale(1.0603 1)" font-size="38.87" fill="#4D4D4D">50000</text>
<text transform="translate(375.39 2344.30) scale(1.0660 1)" font-size="38.87" fill="#4D4D4D">100000</text>
<text transform="translate(496.69 2344.30) scale(1.0660 1)" font-size="38.87" fill="#4D4D4D">150000</text>
<text transform="translate(78.73 2291.14) scale(1.0575 1)" font-size="38.87" fill="#4D4D4D">0.00</text>
<text transform="translate(78.75 2195.82) scale(1.0486 1)" font-size="38.87" fill="#4D4D4D">0.25</text>
<text transform="translate(78.73 2100.50) scale(1.0575 1)" font-size="38.87" fill="#4D4D4D">0.50</text>
<text transform="translate(78.75 2005.18) scale(1.0486 1)" font-size="38.87" fill="#4D4D4D">0.75</text>
<text transform="translate(78.83 1909.86) scale(1.0562 1)" font-size="38.87" fill="#4D4D4D">1.00</text>
<text transform="translate(864.22 1855.20) scale(1.0703 1)" font-size="38.87" fill="#1A1A1A">chr: 17</text>
<text transform="translate(697.14 2344.30) scale(0.9946 1)" font-size="38.87" fill="#4D4D4D">0</text>
<text transform="translate(790.24 2344.30) scale(1.0603 1)" font-size="38.87" fill="#4D4D4D">50000</text>
<text transform="translate(917.44 2344.30) scale(1.0660 1)" font-size="38.87" fill="#4D4D4D">100000</text>
<text transform="translate(1056.64 2344.30) scale(1.0660 1)" font-size="38.87" fill="#4D4D4D">150000</text>
<text transform="translate(1370.51 1855.20) scale(1.0732 1)" font-size="38.87" fill="#1A1A1A">chr: 18</text>
<text transform="translate(1203.58 2344.30) scale(0.9946 1)" font-size="38.87" fill="#4D4D4D">0</text>
<text transform="translate(1281.03 2344.30) scale(1.0603 1)" font-size="38.87" fill="#4D4D4D">50000</text>
<text transform="translate(1393.14 2344.30) scale(1.0660 1)" font-size="38.87" fill="#4D4D4D">100000</text>
<text transform="translate(1516.96 2344.30) scale(1.0660 1)" font-size="38.87" fill="#4D4D4D">150000</text>
<text transform="translate(1876.81 1855.20) scale(1.0740 1)" font-size="38.87" fill="#1A1A1A">chr: 19</text>
<text transform="translate(1710.14 2344.30) scale(0.9946 1)" font-size="38.87" fill="#4D4D4D">0</text>
<text transform="translate(1804.32 2344.30) scale(1.0634 1)" font-size="38.87" fill="#4D4D4D">40000</text>
<text transform="translate(1945.29 2344.30) scale(1.0650 1)" font-size="38.87" fill="#4D4D4D">80000</text>
<text transform="translate(2074.67 2344.30) scale(1.0660 1)" font-size="38.87" fill="#4D4D4D">120000</text>
<text transform="translate(2383.11 1855.20) scale(1.0721 1)" font-size="38.87" fill="#1A1A1A">chr: 20</text>
<text transform="translate(2165.98 2344.30) scale(1.1161 1)" font-size="38.87" fill="#4D4D4D">0e+00</text>
<text transform="translate(2327.37 2344.30) scale(1.1125 1)" font-size="38.87" fill="#4D4D4D">5e+04</text>
<text transform="translate(2487.43 2344.30) scale(1.1099 1)" font-size="38.87" fill="#4D4D4D">1e+05</text>
<text transform="translate(357.92 2424.60) scale(1.0674 1)" font-size="38.87" fill="#1A1A1A">chr: 21</text>
<text transform="translate(191.14 2913.70) scale(0.9946 1)" font-size="38.87" fill="#4D4D4D">0</text>
<text transform="translate(268.86 2913.70) scale(1.0657 1)" font-size="38.87" fill="#4D4D4D">25000</text>
<text transform="translate(394.09 2913.70) scale(1.0603 1)" font-size="38.87" fill="#4D4D4D">50000</text>
<text transform="translate(518.47 2913.70) scale(1.0629 1)" font-size="38.87" fill="#4D4D4D">75000</text>
<text transform="translate(78.73 2860.54) scale(1.0575 1)" font-size="38.87" fill="#4D4D4D">0.00</text>
<text transform="translate(78.75 2765.22) scale(1.0486 1)" font-size="38.87" fill="#4D4D4D">0.25</text>
<text transform="translate(78.73 2669.90) scale(1.0575 1)" font-size="38.87" fill="#4D4D4D">0.50</text>
<text transform="translate(78.75 2574.58) scale(1.0486 1)" font-size="38.87" fill="#4D4D4D">0.75</text>
<text transform="translate(78.83 2479.26) scale(1.0562 1)" font-size="38.87" fill="#4D4D4D">1.00</text>
<text transform="translate(864.22 2424.60) scale(1.0659 1)" font-size="38.87" fill="#1A1A1A">chr: 22</text>
<text transform="translate(697.14 2913.70) scale(0.9946 1)" font-size="38.87" fill="#4D4D4D">0</text>
<text transform="translate(762.00 2913.70) scale(1.0657 1)" font-size="38.87" fill="#4D4D4D">20000</text>
<text transform="translate(873.77 2913.70) scale(1.0634 1)" font-size="38.87" fill="#4D4D4D">40000</text>
<text transform="translate(985.18 2913.70) scale(1.0671 1)" font-size="38.87" fill="#4D4D4D">60000</text>
<text transform="translate(1096.92 2913.70) scale(1.0650 1)" font-size="38.87" fill="#4D4D4D">80000</text>
<text transform="translate(1288.97 2967.40) scale(1.0174 1)" font-size="48.58" fill="#000">SNP on a chr</text>
<text transform="translate(57.40 1675.41) rotate(-90) scale(1.0732 1)" font-size="48.58" fill="#000">p of a module</text>
<text transform="translate(2757.56 1451.00) scale(1.0100 1)" font-size="48.58" fill="#000">z</text>
<text transform="translate(2850.89 1529.40) scale(0.9747 1)" font-size="38.87" fill="#000">DGNz</text>
<text transform="translate(2850.94 1601.30) scale(1.0760 1)" font-size="38.87" fill="#000">nullz</text></g>
</svg></body></html>
